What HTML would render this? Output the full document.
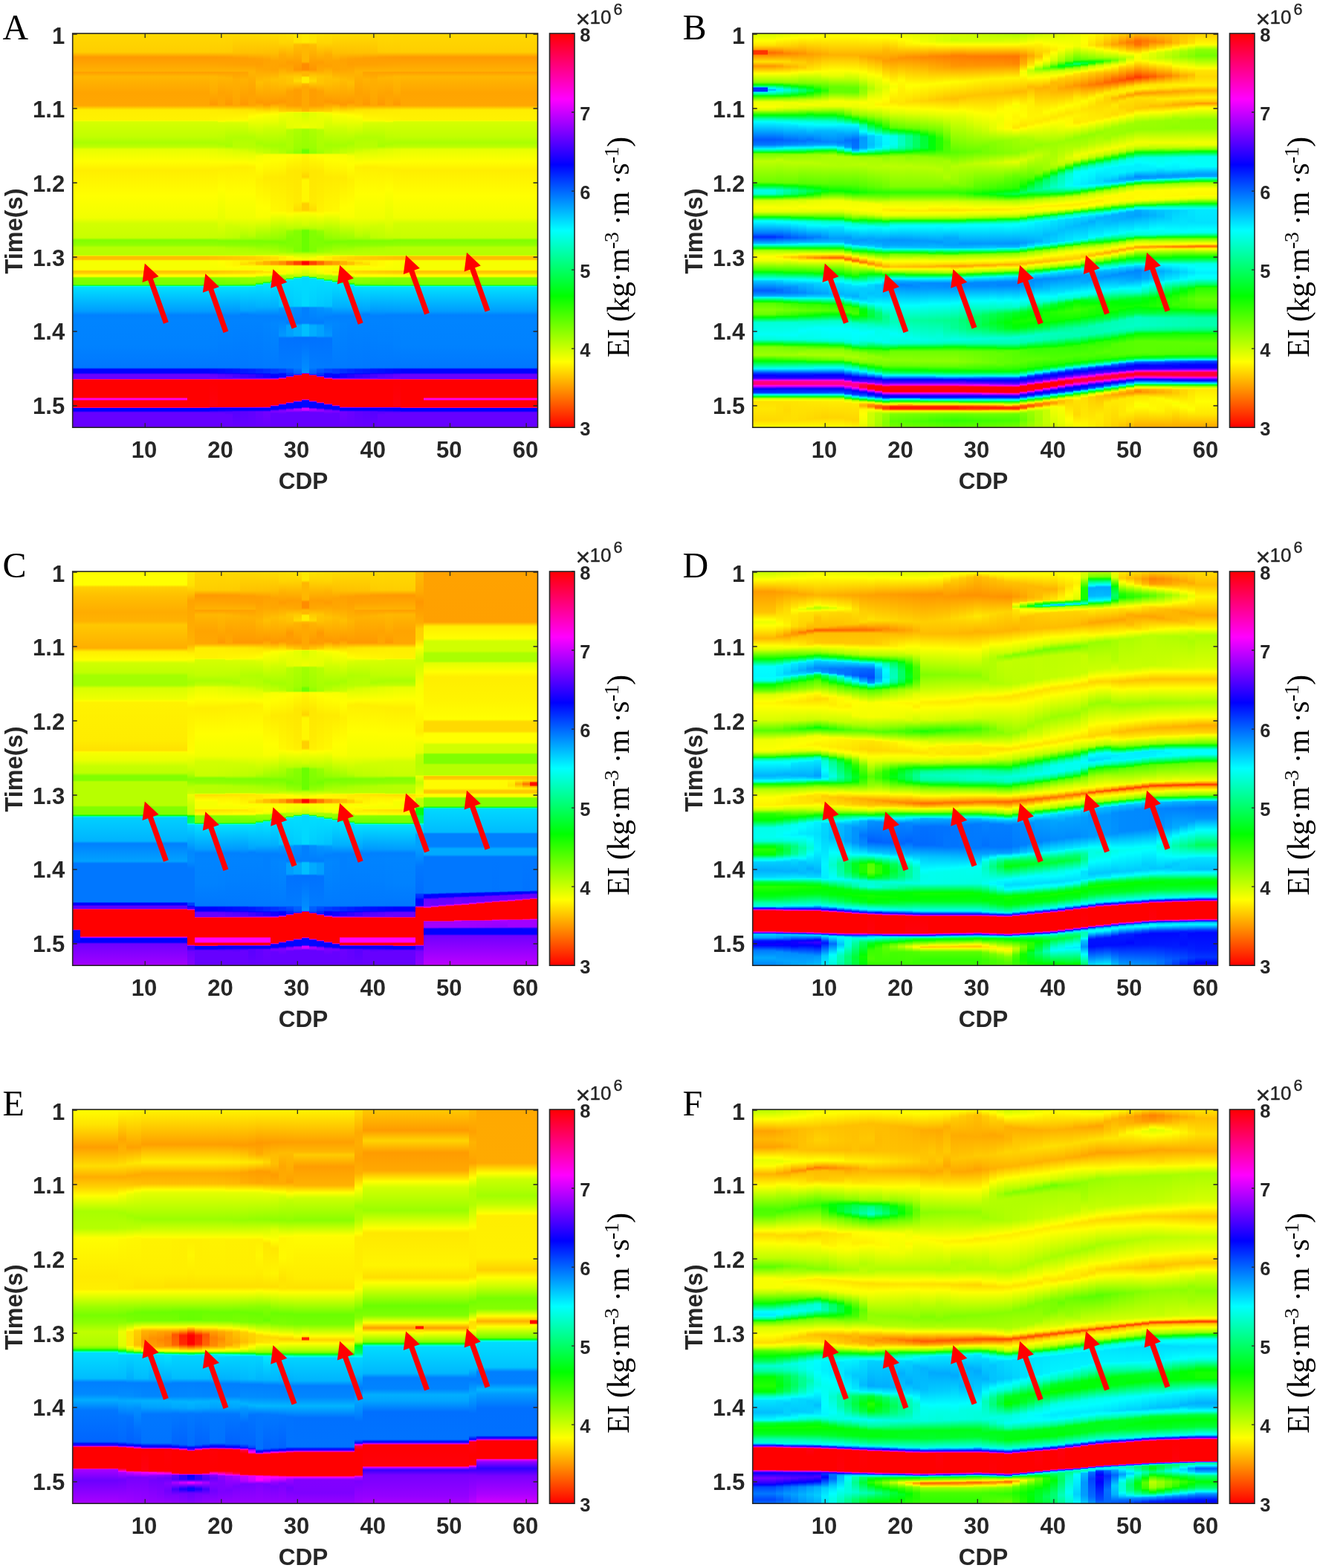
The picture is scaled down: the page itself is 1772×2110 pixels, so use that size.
<!DOCTYPE html><html><head><meta charset="utf-8"><title>Figure</title><style>html,body{margin:0;padding:0;background:#fff}body{width:1772px;height:2110px;position:relative;overflow:hidden}.p{position:absolute;width:886px;height:700px}.h{position:absolute;left:0;top:0}.h i{position:absolute;top:45.0px;height:530.2px;display:block}.cb{position:absolute;left:739.5px;top:45.0px;width:33.5px;height:530.2px;background:linear-gradient(to top,#f00 0%,#ff0 16.667%,#0f0 33.333%,#0ff 50%,#00f 66.667%,#f0f 83.333%,#f00 100%)}svg{position:absolute;left:0;top:0;overflow:visible}</style></head><body><div class="p" style="left:0.0px;top:0.0px"><div class="h"><i style="left:97.7px;width:154.2px;background:linear-gradient(#ffd900 0px,#ffce00 25px,#f90 32px,#ffa600 42px,#ffb200 51px,#ff9d00 52px,#ffb700 58px,#ffae00 68px,#ffa400 80px,#ffa700 97px,#fe0 103px,#fff200 117px,#ff0 117px,#d5ff00 119px,#c1ff00 139px,#af0 147px,#beff00 153px,#e7ff00 156px,#ff0 172px,#fe0 184px,#ff0 219px,#f1ff00 248px,#d2ff00 256px,#c8ff00 275px,#80ff00 278px,#92ff00 285px,#b7ff00 288px,#b7ff00 298px,#e4ff00 299px,#ff0 299px,#ffbf00 300px,#ffbf00 304px,#ff0 306px,#f7ff00 306px,#f7ff00 318px,#ff0 318px,#ffbf00 320px,#ffd200 323px,#fff900 325px,#ff0 327px,#ff0 327px,#80ff00 329px,#7f0 338px,#0f0 339px,#00ff04 339px,#00ffce 340px,#0ff 341px,#00e1ff 341px,#009cff 374px,#0080ff 379px,#0084ff 386px,#0082ff 414px,#0082ff 419px,#07f 450px,#0028ff 451px,#00f 452px,#00f 457px,#4700ff 458px,#6a00ff 459px,#6a00ff 465px,#f0f 465px,#f00 466px,#f00 490px,#ff00ea 491px,#ff00ea 493px,#f00 494px,#f00 503px,#f0f 504px,#00f 504px,#00f 508px,#60f 510px,#60f 530px)"></i><i style="left:251.6px;width:31.1px;background:linear-gradient(#ffd900 0px,#ffce00 25px,#f90 32px,#ffa600 42px,#ffb200 51px,#ff9d00 52px,#ffb700 58px,#ffae00 68px,#ffa400 80px,#ffa700 97px,#fe0 103px,#fff200 117px,#ff0 117px,#d5ff00 119px,#c1ff00 139px,#af0 147px,#beff00 153px,#e7ff00 156px,#ff0 172px,#fe0 184px,#ff0 219px,#f1ff00 248px,#d2ff00 256px,#c8ff00 275px,#80ff00 278px,#92ff00 285px,#b7ff00 288px,#b7ff00 298px,#e4ff00 299px,#ff0 299px,#ffbf00 300px,#ffbf00 304px,#ff0 306px,#f7ff00 306px,#f7ff00 318px,#ff0 318px,#ffbf00 320px,#ffd200 323px,#fff900 325px,#ff0 327px,#ff0 327px,#80ff00 329px,#7f0 338px,#0f0 339px,#00ff04 339px,#00ffce 340px,#0ff 341px,#00e1ff 341px,#009cff 374px,#0080ff 379px,#0084ff 386px,#0082ff 414px,#0082ff 419px,#07f 450px,#0028ff 451px,#00f 452px,#00f 457px,#4700ff 458px,#6a00ff 459px,#6a00ff 465px,#f0f 465px,#f00 466px,#f00 503px,#f0f 504px,#00f 504px,#00f 508px,#60f 510px,#60f 530px)"></i><i style="left:282.4px;width:10.5px;background:linear-gradient(#ffd900 0px,#ffcd00 25px,#ff9a00 32px,#ffa500 42px,#ffb300 51px,#ff9e00 52px,#ffb800 58px,#ffae00 77px,#f90 96px,#ffec00 103px,#fff400 117px,#ff0 117px,#d5ff00 119px,#c0ff00 139px,#af0 147px,#bdff00 153px,#e3ff00 156px,#ff0 173px,#fe0 183px,#ff0 219px,#f1ff00 248px,#d2ff00 256px,#c5ff00 275px,#7fff00 278px,#91ff00 285px,#b4ff00 288px,#b8ff00 298px,#e4ff00 299px,#ff0 299px,#ffc300 300px,#ffc200 304px,#ff0 306px,#fbff00 306px,#f6ff00 318px,#ff0 318px,#ffc200 320px,#ffd400 323px,#fffb00 325px,#ff0 327px,#feff00 327px,#82ff00 329px,#72ff00 338px,#0f0 339px,#00ff09 339px,#00ffd0 340px,#0ff 341px,#00e1ff 341px,#009bff 374px,#0080ff 379px,#0084ff 386px,#0081ff 414px,#0081ff 419px,#07f 450px,#002bff 451px,#0005ff 452px,#0005ff 457px,#00f 457px,#3f00ff 458px,#6200ff 459px,#7500ff 465px,#f0f 465px,#f00 466px,#ff000d 503px,#f0f 503px,#00f 504px,#00f 504px,#00f 504px,#0700ff 508px,#4900ff 509px,#60f 511px,#60f 530px)"></i><i style="left:292.6px;width:10.6px;background:linear-gradient(#ffda00 0px,#ffcd00 25px,#ff9b00 32px,#ffa400 42px,#ffb300 51px,#ff9f00 52px,#ffb600 59px,#ffa300 80px,#ffa600 97px,#ffeb00 103px,#fff600 117px,#ff0 118px,#d6ff00 120px,#beff00 139px,#a9ff00 149px,#bf0 153px,#deff00 156px,#ff0 173px,#ffef00 182px,#ff0 210px,#e8ff00 249px,#c2ff00 275px,#7eff00 279px,#8fff00 285px,#b2ff00 288px,#b8ff00 298px,#e3ff00 299px,#ff0 299px,#ffc600 300px,#ffc400 304px,#fffe00 306px,#ff0 307px,#f6ff00 318px,#ff0 318px,#ffc500 320px,#ffd700 323px,#fffc00 325px,#ff0 326px,#fcff00 327px,#85ff00 329px,#6cff00 338px,#0f0 339px,#00ff0f 339px,#00ffd2 340px,#0ff 341px,#00e0ff 341px,#009aff 374px,#0080ff 379px,#0083ff 386px,#0080ff 414px,#0078ff 450px,#002eff 451px,#0009ff 452px,#000aff 457px,#00f 457px,#5900ff 459px,#6400ff 464px,#8000ff 465px,#f0f 465px,#f00 466px,#f00 502px,#ff001b 503px,#f0f 503px,#00f 504px,#0001ff 504px,#00f 504px,#0e00ff 508px,#4e00ff 509px,#60f 511px,#60f 530px)"></i><i style="left:302.9px;width:10.5px;background:linear-gradient(#ffda00 0px,#fc0 25px,#ff9c00 32px,#ffa300 42px,#ffb300 51px,#ffa000 52px,#ffb500 60px,#f90 96px,#ffe900 103px,#fff800 117px,#ff0 117px,#d7ff00 120px,#b3ff00 140px,#a8ff00 152px,#daff00 156px,#ff0 173px,#ffef00 181px,#ff0 217px,#f1ff00 248px,#d1ff00 258px,#beff00 275px,#7dff00 279px,#8eff00 285px,#afff00 289px,#b9ff00 298px,#e3ff00 299px,#ff0 299px,#ffc900 300px,#ffc600 304px,#fffa00 306px,#fffa00 312px,#ff0 314px,#f6ff00 318px,#ff0 318px,#ffc800 320px,#ffd900 323px,#fffe00 325px,#ff0 325px,#fbff00 327px,#8f0 329px,#73ff00 337px,#67ff00 338px,#0f0 339px,#00ff14 339px,#00ffd3 340px,#0ff 341px,#00e0ff 341px,#09f 374px,#0080ff 380px,#0083ff 386px,#0080ff 414px,#0078ff 450px,#0031ff 451px,#000eff 452px,#000fff 457px,#00f 457px,#5000ff 459px,#6100ff 464px,#8b00ff 465px,#f0f 465px,#f00 466px,#f00 502px,#ff0028 503px,#f0f 503px,#00f 504px,#0001ff 504px,#00f 504px,#1500ff 508px,#5200ff 509px,#60f 513px,#60f 530px)"></i><i style="left:313.1px;width:10.6px;background:linear-gradient(#ffdb00 0px,#ffc200 26px,#ff9d00 33px,#ffa200 42px,#ffb300 51px,#ffa100 52px,#ffaf00 62px,#ffa500 97px,#ffe700 103px,#fffa00 117px,#ff0 117px,#d8ff00 120px,#b2ff00 140px,#b9ff00 153px,#d7ff00 157px,#ff0 173px,#ffef00 180px,#ff0 216px,#f1ff00 248px,#ceff00 260px,#bf0 275px,#7dff00 279px,#8dff00 285px,#adff00 289px,#baff00 298px,#e2ff00 299px,#ff0 299px,#fc0 300px,#ffc900 304px,#fff500 306px,#fff500 312px,#ff0 315px,#f5ff00 318px,#ff0 318px,#ffcb00 320px,#ffdc00 323px,#ff0 325px,#ff0 325px,#f9ff00 327px,#8aff00 329px,#72ff00 337px,#61ff00 338px,#0f0 339px,#00ff19 339px,#00ffd5 340px,#0ff 341px,#00e0ff 341px,#0098ff 374px,#0080ff 380px,#0083ff 386px,#007fff 414px,#0078ff 450px,#0034ff 451px,#0013ff 452px,#0014ff 457px,#00f 457px,#4800ff 459px,#4800ff 463px,#9600ff 465px,#f0f 465px,#f00 466px,#f00 502px,#ff0036 503px,#f0f 503px,#00f 504px,#0001ff 504px,#0001ff 507px,#00f 507px,#5700ff 509px,#60f 530px)"></i><i style="left:323.4px;width:10.6px;background:linear-gradient(#ffdc00 0px,#ffc100 26px,#ff9e00 33px,#ffa100 42px,#ffb300 51px,#ffa200 52px,#ffb200 62px,#f90 96px,#ffe500 103px,#fffb00 117px,#ff0 117px,#d9ff00 120px,#b1ff00 140px,#b8ff00 153px,#d3ff00 157px,#e5ff00 162px,#ff0 173px,#ffef00 180px,#ff0 216px,#f1ff00 248px,#bf0 269px,#a4ff00 276px,#7cff00 279px,#8bff00 285px,#af0 289px,#bf0 298px,#e1ff00 299px,#ff0 299px,#ffd000 300px,#ffcb00 304px,#fff100 306px,#ffdc00 311px,#ff0 313px,#f7ff00 314px,#f5ff00 318px,#ff0 318px,#ffce00 320px,#ffdf00 323px,#ff0 325px,#feff00 325px,#f8ff00 327px,#8dff00 329px,#85ff00 336px,#5cff00 338px,#0f0 339px,#00ff1e 339px,#00ffd7 340px,#0ff 341px,#00e0ff 341px,#00a3ff 373px,#0080ff 378px,#0083ff 386px,#007eff 414px,#0078ff 450px,#0017ff 452px,#0019ff 457px,#00f 458px,#3f00ff 459px,#3f00ff 463px,#5c00ff 464px,#a100ff 465px,#f0f 465px,#f00 466px,#f00 502px,#ff0043 503px,#f0f 503px,#00f 504px,#0001ff 504px,#0001ff 507px,#00f 507px,#5c00ff 509px,#60f 530px)"></i><i style="left:333.7px;width:10.5px;background:linear-gradient(#ffdc00 0px,#ffc100 26px,#ff9f00 34px,#ffa100 42px,#ffb300 51px,#ffb300 53px,#ffa200 80px,#ffa400 97px,#ffe300 103px,#ff0 112px,#ef0 118px,#b1ff00 140px,#b7ff00 153px,#d0ff00 158px,#e3ff00 162px,#ff0 174px,#fff000 180px,#ff0 216px,#f1ff00 248px,#b6ff00 273px,#a2ff00 276px,#7bff00 279px,#8aff00 285px,#a7ff00 289px,#bf0 298px,#e1ff00 299px,#ff0 299px,#ffd300 300px,#ffcd00 304px,#ffec00 306px,#ffd300 309px,#ffec00 312px,#ff0 314px,#f7ff00 315px,#f5ff00 318px,#ff0 318px,#ffd100 320px,#ffe100 323px,#ff0 325px,#fcff00 325px,#f7ff00 327px,#90ff00 329px,#87ff00 336px,#56ff00 338px,#0f0 339px,#00ff24 339px,#00ffd9 340px,#0ff 341px,#00dfff 341px,#00a2ff 373px,#0080ff 379px,#0083ff 386px,#0079ff 450px,#001cff 452px,#001fff 457px,#00f 458px,#3600ff 459px,#3600ff 463px,#5900ff 464px,#ac00ff 465px,#f0f 465px,#f00 466px,#f00 502px,#ff0051 503px,#f0f 503px,#00f 504px,#0002ff 504px,#0002ff 507px,#00f 507px,#6100ff 509px,#60f 530px)"></i><i style="left:343.9px;width:10.6px;background:linear-gradient(#fd0 0px,#ffc000 26px,#ffa100 34px,#ff9f00 42px,#ffbf00 66px,#f90 93px,#ffb200 98px,#ffe000 104px,#ff0 110px,#ff0 110px,#edff00 118px,#a6ff00 148px,#b4ff00 153px,#caff00 160px,#f7ff00 165px,#ff0 176px,#fff000 197px,#ff0 232px,#f9ff00 247px,#b2ff00 268px,#9dff00 276px,#7aff00 279px,#8f0 285px,#a3ff00 290px,#bdff00 298px,#ff0 299px,#ffd900 300px,#ffd200 304px,#ffe400 306px,#ffc200 308px,#ffc200 311px,#ff0 313px,#f9ff00 313px,#f4ff00 318px,#ff0 318px,#ffd700 320px,#fe0 323px,#ff0 325px,#f5ff00 326px,#a0ff00 328px,#7eff00 335px,#20ff00 337px,#0f0 337px,#00ffb5 338px,#0ff 339px,#00dfff 339px,#00b0ff 368px,#0080ff 380px,#0083ff 386px,#007fff 408px,#0079ff 450px,#0025ff 452px,#0028ff 457px,#00f 458px,#2600ff 459px,#2600ff 463px,#5300ff 464px,#c000ff 465px,#f0f 465px,#f00 466px,#f00 502px,#ff006a 503px,#f0f 503px,#00f 504px,#0002ff 504px,#0002ff 507px,#00f 507px,#6a00ff 509px,#60f 530px)"></i><i style="left:354.2px;width:10.5px;background:linear-gradient(#ffde00 0px,#ffbf00 26px,#ffa300 35px,#ffa600 49px,#ffbd00 62px,#f90 96px,#ffdc00 104px,#ff0 109px,#fbff00 109px,#ecff00 118px,#ceff00 128px,#a5ff00 151px,#c0ff00 158px,#c2ff00 161px,#f7ff00 163px,#ff0 172px,#ffeb00 194px,#ff0 234px,#f8ff00 247px,#abff00 270px,#9f0 276px,#79ff00 280px,#91ff00 286px,#beff00 298px,#ff0 299px,#ffdf00 300px,#ffd600 304px,#ffec00 305px,#ffb200 307px,#ffb200 311px,#ff0 313px,#f9ff00 313px,#f3ff00 318px,#ff0 319px,#fd0 321px,#ff0 324px,#e5ff00 326px,#9f0 328px,#90ff00 333px,#3aff00 335px,#0f0 335px,#00ff85 336px,#0ff 337px,#00e5ff 337px,#00afff 368px,#0080ff 380px,#0084ff 391px,#0081ff 408px,#007aff 450px,#002eff 452px,#0032ff 457px,#00f 458px,#1600ff 459px,#1600ff 463px,#4e00ff 464px,#d400ff 465px,#f0f 465px,#f00 466px,#f00 502px,#ff0083 503px,#f0f 503px,#00f 504px,#0003ff 504px,#0003ff 507px,#00f 507px,#7300ff 509px,#60f 530px)"></i><i style="left:364.4px;width:10.6px;background:linear-gradient(#ffdf00 0px,#ffbf00 26px,#ffa500 37px,#ffa400 49px,#ffc200 62px,#f90 94px,#fff000 106px,#ff0 109px,#f8ff00 110px,#ebff00 118px,#ceff00 128px,#a4ff00 151px,#b9ff00 159px,#baff00 161px,#f9ff00 163px,#ff0 170px,#ffeb00 194px,#fff800 239px,#ff0 241px,#b3ff00 264px,#95ff00 276px,#7f0 280px,#8eff00 286px,#afff00 295px,#c0ff00 298px,#ff0 299px,#ffe600 300px,#ffdb00 304px,#fe0 305px,#ffa100 307px,#ffa100 311px,#ff0 313px,#faff00 313px,#f3ff00 318px,#ff0 319px,#ffe300 321px,#ff0 324px,#efff00 325px,#9eff00 327px,#8cff00 332px,#4dff00 333px,#0f0 334px,#00ff29 334px,#00fff2 335px,#0ff 335px,#00deff 336px,#00afff 368px,#0080ff 380px,#0087ff 391px,#0083ff 408px,#007aff 450px,#0036ff 452px,#003bff 457px,#00f 459px,#0600ff 459px,#0600ff 463px,#4800ff 464px,#e900ff 465px,#f0f 465px,#f00 466px,#f00 500px,#f0f 501px,#9400ff 501px,#00f 502px,#0003ff 502px,#0003ff 506px,#00f 506px,#5200ff 507px,#8400ff 509px,#60f 511px,#60f 530px)"></i><i style="left:374.7px;width:10.6px;background:linear-gradient(#ffe000 0px,#ffd500 13px,#ffac00 29px,#ffa100 44px,#ffc300 58px,#ffbf00 67px,#f90 92px,#ffaf00 98px,#ffd600 105px,#ff0 107px,#f4ff00 107px,#ceff00 128px,#a3ff00 150px,#b2ff00 161px,#faff00 163px,#ff0 169px,#ffea00 194px,#fff400 227px,#fff600 239px,#ff0 241px,#afff00 264px,#90ff00 276px,#76ff00 281px,#a1ff00 294px,#df0 299px,#ff0 300px,#ffec00 300px,#fff000 305px,#ff9100 307px,#ff9100 311px,#ff0 313px,#faff00 313px,#ff0 316px,#fff900 319px,#fff600 322px,#ff0 323px,#d5ff00 325px,#a3ff00 326px,#9aff00 330px,#6cff00 331px,#19ff00 332px,#0f0 332px,#00ffd3 333px,#0ff 334px,#0df 334px,#00c4ff 367px,#09f 370px,#0080ff 382px,#0089ff 391px,#0098ff 407px,#0073ff 410px,#007bff 450px,#0040ff 452px,#0045ff 456px,#000aff 458px,#000aff 462px,#00f 462px,#3c00ff 463px,#f0f 464px,#f00 465px,#f00 498px,#f0f 499px,#7a00ff 499px,#00f 500px,#0004ff 500px,#0004ff 505px,#00f 505px,#4800ff 506px,#80f 508px,#60f 512px,#60f 530px)"></i><i style="left:385.0px;width:10.5px;background:linear-gradient(#ffe300 0px,#ffd400 13px,#ff9e00 39px,#ffa800 50px,#ffc700 58px,#ffc400 67px,#ffa200 78px,#ff9f00 97px,#ffcd00 104px,#ffcd00 105px,#ff0 106px,#ecff00 107px,#e5ff00 127px,#b4ff00 130px,#af0 155px,#9eff00 161px,#feff00 163px,#ff0 164px,#ffe900 185px,#ffe900 194px,#ffef00 227px,#fff200 239px,#ff0 243px,#b8ff00 263px,#92ff00 266px,#7cff00 277px,#81ff00 286px,#9aff00 294px,#dbff00 299px,#ff0 300px,#fffb00 300px,#fff400 305px,#ff6900 307px,#ff6900 311px,#ff0 313px,#fcff00 313px,#fdff00 319px,#f4ff00 322px,#e2ff00 324px,#b2ff00 325px,#a0ff00 329px,#1fff00 330px,#0f0 330px,#00ffc0 331px,#0ff 332px,#00dcff 332px,#00c9ff 367px,#0093ff 369px,#007cff 390px,#00a2ff 393px,#00a2ff 407px,#0072ff 410px,#007cff 450px,#0056ff 452px,#004cff 456px,#0031ff 458px,#0031ff 460px,#00f 461px,#1900ff 461px,#f0f 462px,#ff0087 462px,#f00 463px,#f00 496px,#f0f 497px,#90f 497px,#00f 498px,#0005ff 498px,#0005ff 504px,#00f 504px,#8500ff 506px,#9c00ff 508px,#60f 510px,#60f 530px)"></i><i style="left:395.2px;width:10.6px;background:linear-gradient(#ffe500 0px,#ffe500 12px,#ffbf00 15px,#ff9f00 39px,#ff9600 49px,#ffb600 53px,#ffcb00 58px,#ffdc00 64px,#ffc900 67px,#ff9e00 76px,#ff9d00 97px,#ffc500 103px,#ffc500 105px,#ff0 106px,#e3ff00 107px,#eaff00 127px,#adff00 129px,#9bff00 155px,#8bff00 161px,#ff0 163px,#fffd00 163px,#ffe800 185px,#ffe800 194px,#ffeb00 227px,#fd0 238px,#ff0 242px,#fcff00 242px,#b9ff00 262px,#83ff00 266px,#7dff00 293px,#c2ff00 297px,#ff0 303px,#fffa00 303px,#fff800 305px,#ff4200 307px,#ff4200 311px,#ff0 313px,#fdff00 313px,#e6ff00 322px,#b0ff00 327px,#4bff00 328px,#0f0 328px,#00ff9a 329px,#0ff 330px,#0df 330px,#00cfff 367px,#008cff 369px,#007dff 390px,#00adff 393px,#00adff 407px,#0071ff 409px,#007dff 450px,#006fff 452px,#0058ff 458px,#0020ff 459px,#00f 459px,#f0f 460px,#ff0015 460px,#f00 465px,#f00 494px,#f0f 495px,#c100ff 495px,#00f 496px,#0006ff 496px,#0006ff 503px,#00f 503px,#1a00ff 504px,#a000ff 505px,#b100ff 507px,#60f 510px,#60f 530px)"></i><i style="left:405.5px;width:10.5px;background:linear-gradient(#ffea00 0px,#ffea00 12px,#ffb700 15px,#ffb700 38px,#ff8c00 41px,#ff8c00 49px,#ffb700 52px,#ffb700 57px,#fe0 59px,#fe0 66px,#ffb700 68px,#ffa800 72px,#ffa800 98px,#ffb700 105px,#ff0 106px,#d5ff00 107px,#e3ff00 118px,#f2ff00 127px,#a2ff00 129px,#9f0 154px,#6aff00 157px,#6aff00 161px,#ff0 163px,#fff700 163px,#ffe600 185px,#ffd400 193px,#fff700 197px,#fff700 226px,#ffd000 229px,#ffd000 238px,#ff0 241px,#fdff00 241px,#cfff00 258px,#af0 263px,#6aff00 265px,#6aff00 293px,#c6ff00 297px,#ff0 305px,#ff0 305px,#f00 307px,#f00 311px,#ff0 313px,#ff0 313px,#bfff00 326px,#0f0 327px,#00ff7f 327px,#0ff 328px,#00d9ff 328px,#00d9ff 367px,#0080ff 369px,#0080ff 390px,#00bfff 392px,#00bfff 407px,#006fff 409px,#008cff 451px,#09f 457px,#00f 457px,#f0f 458px,#f00 458px,#f00 492px,#f0f 493px,#b700ff 493px,#00f 494px,#0008ff 494px,#0008ff 503px,#00f 503px,#d400ff 504px,#d500ff 507px,#60f 509px,#60f 530px)"></i><i style="left:415.7px;width:10.6px;background:linear-gradient(#ffe500 0px,#ffe500 12px,#ffbf00 15px,#ff9f00 39px,#ff9600 49px,#ffb600 53px,#ffcb00 58px,#ffdc00 64px,#ffc900 67px,#ff9e00 76px,#ff9d00 97px,#ffc500 103px,#ffc500 105px,#ff0 106px,#e3ff00 107px,#eaff00 127px,#adff00 129px,#9bff00 155px,#8bff00 161px,#ff0 163px,#fffd00 163px,#ffe800 185px,#ffe800 194px,#ffeb00 227px,#fd0 238px,#ff0 242px,#fcff00 242px,#b9ff00 262px,#83ff00 266px,#7dff00 293px,#c2ff00 297px,#ff0 303px,#fffa00 303px,#fff800 305px,#ff4200 307px,#ff4200 311px,#ff0 313px,#fdff00 313px,#e6ff00 322px,#b0ff00 327px,#4bff00 328px,#0f0 328px,#00ff9a 329px,#0ff 330px,#0df 330px,#00cfff 367px,#008cff 369px,#007dff 390px,#00adff 393px,#00adff 407px,#0071ff 409px,#007dff 450px,#006fff 452px,#0058ff 458px,#0020ff 459px,#00f 459px,#f0f 460px,#ff0015 460px,#f00 465px,#f00 494px,#f0f 495px,#c100ff 495px,#00f 496px,#0006ff 496px,#0006ff 503px,#00f 503px,#1a00ff 504px,#a000ff 505px,#b100ff 507px,#60f 510px,#60f 530px)"></i><i style="left:426.0px;width:10.5px;background:linear-gradient(#ffe300 0px,#ffd400 13px,#ff9e00 39px,#ffa800 50px,#ffc700 58px,#ffc400 67px,#ffa200 78px,#ff9f00 97px,#ffcd00 104px,#ffcd00 105px,#ff0 106px,#ecff00 107px,#e5ff00 127px,#b4ff00 130px,#af0 155px,#9eff00 161px,#feff00 163px,#ff0 164px,#ffe900 185px,#ffe900 194px,#ffef00 227px,#fff200 239px,#ff0 243px,#b8ff00 263px,#92ff00 266px,#7cff00 277px,#81ff00 286px,#9aff00 294px,#dbff00 299px,#ff0 300px,#fffb00 300px,#fff400 305px,#ff6900 307px,#ff6900 311px,#ff0 313px,#fcff00 313px,#fdff00 319px,#f4ff00 322px,#e2ff00 324px,#b2ff00 325px,#a0ff00 329px,#1fff00 330px,#0f0 330px,#00ffc0 331px,#0ff 332px,#00dcff 332px,#00c9ff 367px,#0093ff 369px,#007cff 390px,#00a2ff 393px,#00a2ff 407px,#0072ff 410px,#007cff 450px,#0056ff 452px,#004cff 456px,#0031ff 458px,#0031ff 460px,#00f 461px,#1900ff 461px,#f0f 462px,#ff0087 462px,#f00 463px,#f00 496px,#f0f 497px,#90f 497px,#00f 498px,#0005ff 498px,#0005ff 504px,#00f 504px,#8500ff 506px,#9c00ff 508px,#60f 510px,#60f 530px)"></i><i style="left:436.2px;width:10.6px;background:linear-gradient(#ffe000 0px,#ffd500 13px,#ffac00 29px,#ffa100 44px,#ffc300 58px,#ffbf00 67px,#f90 92px,#ffaf00 98px,#ffd600 105px,#ff0 107px,#f4ff00 107px,#ceff00 128px,#a3ff00 150px,#b2ff00 161px,#faff00 163px,#ff0 169px,#ffea00 194px,#fff400 227px,#fff600 239px,#ff0 241px,#afff00 264px,#90ff00 276px,#76ff00 281px,#a1ff00 294px,#df0 299px,#ff0 300px,#ffec00 300px,#fff000 305px,#ff9100 307px,#ff9100 311px,#ff0 313px,#faff00 313px,#ff0 316px,#fff900 319px,#fff600 322px,#ff0 323px,#d5ff00 325px,#a3ff00 326px,#9aff00 330px,#6cff00 331px,#19ff00 332px,#0f0 332px,#00ffd3 333px,#0ff 334px,#0df 334px,#00c4ff 367px,#09f 370px,#0080ff 382px,#0089ff 391px,#0098ff 407px,#0073ff 410px,#007bff 450px,#0040ff 452px,#0045ff 456px,#000aff 458px,#000aff 462px,#00f 462px,#3c00ff 463px,#f0f 464px,#f00 465px,#f00 498px,#f0f 499px,#7a00ff 499px,#00f 500px,#0004ff 500px,#0004ff 505px,#00f 505px,#4800ff 506px,#80f 508px,#60f 512px,#60f 530px)"></i><i style="left:446.5px;width:10.6px;background:linear-gradient(#ffdf00 0px,#ffbf00 26px,#ffa500 37px,#ffa400 49px,#ffc200 62px,#f90 94px,#fff000 106px,#ff0 109px,#f8ff00 110px,#ebff00 118px,#ceff00 128px,#a4ff00 151px,#b9ff00 159px,#baff00 161px,#f9ff00 163px,#ff0 170px,#ffeb00 194px,#fff800 239px,#ff0 241px,#b3ff00 264px,#95ff00 276px,#7f0 280px,#8eff00 286px,#afff00 295px,#c0ff00 298px,#ff0 299px,#ffe600 300px,#ffdb00 304px,#fe0 305px,#ffa100 307px,#ffa100 311px,#ff0 313px,#faff00 313px,#f3ff00 318px,#ff0 319px,#ffe300 321px,#ff0 324px,#efff00 325px,#9eff00 327px,#8cff00 332px,#4dff00 333px,#0f0 334px,#00ff29 334px,#00fff2 335px,#0ff 335px,#00deff 336px,#00afff 368px,#0080ff 380px,#0087ff 391px,#0083ff 408px,#007aff 450px,#0036ff 452px,#003bff 457px,#00f 459px,#0600ff 459px,#0600ff 463px,#4800ff 464px,#e900ff 465px,#f0f 465px,#f00 466px,#f00 500px,#f0f 501px,#9400ff 501px,#00f 502px,#0003ff 502px,#0003ff 506px,#00f 506px,#5200ff 507px,#8400ff 509px,#60f 511px,#60f 530px)"></i><i style="left:456.8px;width:10.5px;background:linear-gradient(#ffde00 0px,#ffbf00 26px,#ffa300 35px,#ffa600 49px,#ffbd00 62px,#f90 96px,#ffdc00 104px,#ff0 109px,#fbff00 109px,#ecff00 118px,#ceff00 128px,#a5ff00 151px,#c0ff00 158px,#c2ff00 161px,#f7ff00 163px,#ff0 172px,#ffeb00 194px,#ff0 234px,#f8ff00 247px,#abff00 270px,#9f0 276px,#79ff00 280px,#91ff00 286px,#beff00 298px,#ff0 299px,#ffdf00 300px,#ffd600 304px,#ffec00 305px,#ffb200 307px,#ffb200 311px,#ff0 313px,#f9ff00 313px,#f3ff00 318px,#ff0 319px,#fd0 321px,#ff0 324px,#e5ff00 326px,#9f0 328px,#90ff00 333px,#3aff00 335px,#0f0 335px,#00ff85 336px,#0ff 337px,#00e5ff 337px,#00afff 368px,#0080ff 380px,#0084ff 391px,#0081ff 408px,#007aff 450px,#002eff 452px,#0032ff 457px,#00f 458px,#1600ff 459px,#1600ff 463px,#4e00ff 464px,#d400ff 465px,#f0f 465px,#f00 466px,#f00 502px,#ff0083 503px,#f0f 503px,#00f 504px,#0003ff 504px,#0003ff 507px,#00f 507px,#7300ff 509px,#60f 530px)"></i><i style="left:467.0px;width:10.6px;background:linear-gradient(#fd0 0px,#ffc000 26px,#ffa100 34px,#ff9f00 42px,#ffbf00 66px,#f90 93px,#ffb200 98px,#ffe000 104px,#ff0 110px,#ff0 110px,#edff00 118px,#a6ff00 148px,#b4ff00 153px,#caff00 160px,#f7ff00 165px,#ff0 176px,#fff000 197px,#ff0 232px,#f9ff00 247px,#b2ff00 268px,#9dff00 276px,#7aff00 279px,#8f0 285px,#a3ff00 290px,#bdff00 298px,#ff0 299px,#ffd900 300px,#ffd200 304px,#ffe400 306px,#ffc200 308px,#ffc200 311px,#ff0 313px,#f9ff00 313px,#f4ff00 318px,#ff0 318px,#ffd700 320px,#fe0 323px,#ff0 325px,#f5ff00 326px,#a0ff00 328px,#7eff00 335px,#20ff00 337px,#0f0 337px,#00ffb5 338px,#0ff 339px,#00dfff 339px,#00b0ff 368px,#0080ff 380px,#0083ff 386px,#007fff 408px,#0079ff 450px,#0025ff 452px,#0028ff 457px,#00f 458px,#2600ff 459px,#2600ff 463px,#5300ff 464px,#c000ff 465px,#f0f 465px,#f00 466px,#f00 502px,#ff006a 503px,#f0f 503px,#00f 504px,#0002ff 504px,#0002ff 507px,#00f 507px,#6a00ff 509px,#60f 530px)"></i><i style="left:477.3px;width:10.5px;background:linear-gradient(#ffdc00 0px,#ffc100 26px,#ff9f00 34px,#ffa100 42px,#ffb300 51px,#ffb300 53px,#ffa200 80px,#ffa400 97px,#ffe300 103px,#ff0 112px,#ef0 118px,#b1ff00 140px,#b7ff00 153px,#d0ff00 158px,#e3ff00 162px,#ff0 174px,#fff000 180px,#ff0 216px,#f1ff00 248px,#b6ff00 273px,#a2ff00 276px,#7bff00 279px,#8aff00 285px,#a7ff00 289px,#bf0 298px,#e1ff00 299px,#ff0 299px,#ffd300 300px,#ffcd00 304px,#ffec00 306px,#ffd300 309px,#ffec00 312px,#ff0 314px,#f7ff00 315px,#f5ff00 318px,#ff0 318px,#ffd100 320px,#ffe100 323px,#ff0 325px,#fcff00 325px,#f7ff00 327px,#90ff00 329px,#87ff00 336px,#56ff00 338px,#0f0 339px,#00ff24 339px,#00ffd9 340px,#0ff 341px,#00dfff 341px,#00a2ff 373px,#0080ff 379px,#0083ff 386px,#0079ff 450px,#001cff 452px,#001fff 457px,#00f 458px,#3600ff 459px,#3600ff 463px,#5900ff 464px,#ac00ff 465px,#f0f 465px,#f00 466px,#f00 502px,#ff0051 503px,#f0f 503px,#00f 504px,#0002ff 504px,#0002ff 507px,#00f 507px,#6100ff 509px,#60f 530px)"></i><i style="left:487.5px;width:10.6px;background:linear-gradient(#ffdc00 0px,#ffc100 26px,#ff9e00 33px,#ffa100 42px,#ffb300 51px,#ffa200 52px,#ffb200 62px,#f90 96px,#ffe500 103px,#fffb00 117px,#ff0 117px,#d9ff00 120px,#b1ff00 140px,#b8ff00 153px,#d3ff00 157px,#e5ff00 162px,#ff0 173px,#ffef00 180px,#ff0 216px,#f1ff00 248px,#bf0 269px,#a4ff00 276px,#7cff00 279px,#8bff00 285px,#af0 289px,#bf0 298px,#e1ff00 299px,#ff0 299px,#ffd000 300px,#ffcb00 304px,#fff100 306px,#ffdc00 311px,#ff0 313px,#f7ff00 314px,#f5ff00 318px,#ff0 318px,#ffce00 320px,#ffdf00 323px,#ff0 325px,#feff00 325px,#f8ff00 327px,#8dff00 329px,#85ff00 336px,#5cff00 338px,#0f0 339px,#00ff1e 339px,#00ffd7 340px,#0ff 341px,#00e0ff 341px,#00a3ff 373px,#0080ff 378px,#0083ff 386px,#007eff 414px,#0078ff 450px,#0017ff 452px,#0019ff 457px,#00f 458px,#3f00ff 459px,#3f00ff 463px,#5c00ff 464px,#a100ff 465px,#f0f 465px,#f00 466px,#f00 502px,#ff0043 503px,#f0f 503px,#00f 504px,#0001ff 504px,#0001ff 507px,#00f 507px,#5c00ff 509px,#60f 530px)"></i><i style="left:497.8px;width:10.6px;background:linear-gradient(#ffdb00 0px,#ffc200 26px,#ff9d00 33px,#ffa200 42px,#ffb300 51px,#ffa100 52px,#ffaf00 62px,#ffa500 97px,#ffe700 103px,#fffa00 117px,#ff0 117px,#d8ff00 120px,#b2ff00 140px,#b9ff00 153px,#d7ff00 157px,#ff0 173px,#ffef00 180px,#ff0 216px,#f1ff00 248px,#ceff00 260px,#bf0 275px,#7dff00 279px,#8dff00 285px,#adff00 289px,#baff00 298px,#e2ff00 299px,#ff0 299px,#fc0 300px,#ffc900 304px,#fff500 306px,#fff500 312px,#ff0 315px,#f5ff00 318px,#ff0 318px,#ffcb00 320px,#ffdc00 323px,#ff0 325px,#ff0 325px,#f9ff00 327px,#8aff00 329px,#72ff00 337px,#61ff00 338px,#0f0 339px,#00ff19 339px,#00ffd5 340px,#0ff 341px,#00e0ff 341px,#0098ff 374px,#0080ff 380px,#0083ff 386px,#007fff 414px,#0078ff 450px,#0034ff 451px,#0013ff 452px,#0014ff 457px,#00f 457px,#4800ff 459px,#4800ff 463px,#9600ff 465px,#f0f 465px,#f00 466px,#f00 502px,#ff0036 503px,#f0f 503px,#00f 504px,#0001ff 504px,#0001ff 507px,#00f 507px,#5700ff 509px,#60f 530px)"></i><i style="left:508.1px;width:10.5px;background:linear-gradient(#ffda00 0px,#fc0 25px,#ff9c00 32px,#ffa300 42px,#ffb300 51px,#ffa000 52px,#ffb500 60px,#f90 96px,#ffe900 103px,#fff800 117px,#ff0 117px,#d7ff00 120px,#b3ff00 140px,#a8ff00 152px,#daff00 156px,#ff0 173px,#ffef00 181px,#ff0 217px,#f1ff00 248px,#d1ff00 258px,#beff00 275px,#7dff00 279px,#8eff00 285px,#afff00 289px,#b9ff00 298px,#e3ff00 299px,#ff0 299px,#ffc900 300px,#ffc600 304px,#fffa00 306px,#fffa00 312px,#ff0 314px,#f6ff00 318px,#ff0 318px,#ffc800 320px,#ffd900 323px,#fffe00 325px,#ff0 325px,#fbff00 327px,#8f0 329px,#73ff00 337px,#67ff00 338px,#0f0 339px,#00ff14 339px,#00ffd3 340px,#0ff 341px,#00e0ff 341px,#09f 374px,#0080ff 380px,#0083ff 386px,#0080ff 414px,#0078ff 450px,#0031ff 451px,#000eff 452px,#000fff 457px,#00f 457px,#5000ff 459px,#6100ff 464px,#8b00ff 465px,#f0f 465px,#f00 466px,#f00 502px,#ff0028 503px,#f0f 503px,#00f 504px,#0001ff 504px,#00f 504px,#1500ff 508px,#5200ff 509px,#60f 513px,#60f 530px)"></i><i style="left:518.3px;width:10.6px;background:linear-gradient(#ffda00 0px,#ffcd00 25px,#ff9b00 32px,#ffa400 42px,#ffb300 51px,#ff9f00 52px,#ffb600 59px,#ffa300 80px,#ffa600 97px,#ffeb00 103px,#fff600 117px,#ff0 118px,#d6ff00 120px,#beff00 139px,#a9ff00 149px,#bf0 153px,#deff00 156px,#ff0 173px,#ffef00 182px,#ff0 210px,#e8ff00 249px,#c2ff00 275px,#7eff00 279px,#8fff00 285px,#b2ff00 288px,#b8ff00 298px,#e3ff00 299px,#ff0 299px,#ffc600 300px,#ffc400 304px,#fffe00 306px,#ff0 307px,#f6ff00 318px,#ff0 318px,#ffc500 320px,#ffd700 323px,#fffc00 325px,#ff0 326px,#fcff00 327px,#85ff00 329px,#6cff00 338px,#0f0 339px,#00ff0f 339px,#00ffd2 340px,#0ff 341px,#00e0ff 341px,#009aff 374px,#0080ff 379px,#0083ff 386px,#0080ff 414px,#0078ff 450px,#002eff 451px,#0009ff 452px,#000aff 457px,#00f 457px,#5900ff 459px,#6400ff 464px,#8000ff 465px,#f0f 465px,#f00 466px,#f00 502px,#ff001b 503px,#f0f 503px,#00f 504px,#0001ff 504px,#00f 504px,#0e00ff 508px,#4e00ff 509px,#60f 511px,#60f 530px)"></i><i style="left:528.6px;width:10.5px;background:linear-gradient(#ffd900 0px,#ffcd00 25px,#ff9a00 32px,#ffa500 42px,#ffb300 51px,#ff9e00 52px,#ffb800 58px,#ffae00 77px,#f90 96px,#ffec00 103px,#fff400 117px,#ff0 117px,#d5ff00 119px,#c0ff00 139px,#af0 147px,#bdff00 153px,#e3ff00 156px,#ff0 173px,#fe0 183px,#ff0 219px,#f1ff00 248px,#d2ff00 256px,#c5ff00 275px,#7fff00 278px,#91ff00 285px,#b4ff00 288px,#b8ff00 298px,#e4ff00 299px,#ff0 299px,#ffc300 300px,#ffc200 304px,#ff0 306px,#fbff00 306px,#f6ff00 318px,#ff0 318px,#ffc200 320px,#ffd400 323px,#fffb00 325px,#ff0 327px,#feff00 327px,#82ff00 329px,#72ff00 338px,#0f0 339px,#00ff09 339px,#00ffd0 340px,#0ff 341px,#00e1ff 341px,#009bff 374px,#0080ff 379px,#0084ff 386px,#0081ff 414px,#0081ff 419px,#07f 450px,#002bff 451px,#0005ff 452px,#0005ff 457px,#00f 457px,#3f00ff 458px,#6200ff 459px,#7500ff 465px,#f0f 465px,#f00 466px,#ff000d 503px,#f0f 503px,#00f 504px,#00f 504px,#00f 504px,#0700ff 508px,#4900ff 509px,#60f 511px,#60f 530px)"></i><i style="left:538.8px;width:31.1px;background:linear-gradient(#ffd900 0px,#ffce00 25px,#f90 32px,#ffa600 42px,#ffb200 51px,#ff9d00 52px,#ffb700 58px,#ffae00 68px,#ffa400 80px,#ffa700 97px,#fe0 103px,#fff200 117px,#ff0 117px,#d5ff00 119px,#c1ff00 139px,#af0 147px,#beff00 153px,#e7ff00 156px,#ff0 172px,#fe0 184px,#ff0 219px,#f1ff00 248px,#d2ff00 256px,#c8ff00 275px,#80ff00 278px,#92ff00 285px,#b7ff00 288px,#b7ff00 298px,#e4ff00 299px,#ff0 299px,#ffbf00 300px,#ffbf00 304px,#ff0 306px,#f7ff00 306px,#f7ff00 318px,#ff0 318px,#ffbf00 320px,#ffd200 323px,#fff900 325px,#ff0 327px,#ff0 327px,#80ff00 329px,#7f0 338px,#0f0 339px,#00ff04 339px,#00ffce 340px,#0ff 341px,#00e1ff 341px,#009cff 374px,#0080ff 379px,#0084ff 386px,#0082ff 414px,#0082ff 419px,#07f 450px,#0028ff 451px,#00f 452px,#00f 457px,#4700ff 458px,#6a00ff 459px,#6a00ff 465px,#f0f 465px,#f00 466px,#f00 503px,#f0f 504px,#00f 504px,#00f 508px,#60f 510px,#60f 530px)"></i><i style="left:569.6px;width:154.2px;background:linear-gradient(#ffd900 0px,#ffce00 25px,#f90 32px,#ffa600 42px,#ffb200 51px,#ff9d00 52px,#ffb700 58px,#ffae00 68px,#ffa400 80px,#ffa700 97px,#fe0 103px,#fff200 117px,#ff0 117px,#d5ff00 119px,#c1ff00 139px,#af0 147px,#beff00 153px,#e7ff00 156px,#ff0 172px,#fe0 184px,#ff0 219px,#f1ff00 248px,#d2ff00 256px,#c8ff00 275px,#80ff00 278px,#92ff00 285px,#b7ff00 288px,#b7ff00 298px,#e4ff00 299px,#ff0 299px,#ffbf00 300px,#ffbf00 304px,#ff0 306px,#f7ff00 306px,#f7ff00 318px,#ff0 318px,#ffbf00 320px,#ffd200 323px,#fff900 325px,#ff0 327px,#ff0 327px,#80ff00 329px,#7f0 338px,#0f0 339px,#00ff04 339px,#00ffce 340px,#0ff 341px,#00e1ff 341px,#009cff 374px,#0080ff 379px,#0084ff 386px,#0082ff 414px,#0082ff 419px,#07f 450px,#0028ff 451px,#00f 452px,#00f 457px,#4700ff 458px,#6a00ff 459px,#6a00ff 465px,#f0f 465px,#f00 466px,#f00 490px,#ff00ea 491px,#ff00ea 493px,#f00 494px,#f00 503px,#f0f 504px,#00f 504px,#00f 508px,#60f 510px,#60f 530px)"></i></div><div class="cb"></div><svg width="886" height="700" viewBox="0 0 886 700"><polygon points="226.8,433.3 205.9,374.9 213.6,372.1 194.8,354.4 191.5,380.0 199.1,377.3 220.0,435.7" fill="#ff0000"/>
<polygon points="307.3,445.6 287.3,388.7 295.0,386.0 276.3,368.2 272.8,393.8 280.5,391.1 300.5,448.0" fill="#ff0000"/>
<polygon points="399.4,440.0 378.6,382.6 386.3,379.8 367.4,362.2 364.2,387.8 371.8,385.1 392.6,442.4" fill="#ff0000"/>
<polygon points="488.6,434.3 468.2,377.3 475.9,374.5 457.1,356.8 453.8,382.4 461.4,379.7 481.8,436.7" fill="#ff0000"/>
<polygon points="577.9,421.1 557.3,363.8 564.9,361.1 546.1,343.4 542.8,369.0 550.5,366.3 571.1,423.5" fill="#ff0000"/>
<polygon points="659.4,417.3 639.1,360.3 646.8,357.5 628.0,339.8 624.6,365.4 632.3,362.7 652.6,419.7" fill="#ff0000"/>
<rect x="97.70" y="45.00" width="625.80" height="530.20" fill="none" stroke="#262626" stroke-width="1.6"/>
<rect x="739.50" y="45.00" width="33.50" height="530.20" fill="none" stroke="#262626" stroke-width="1.6"/>
<path d="M97.7,46.0h6.0M723.5,46.0h-6.0M97.7,146.0h6.0M723.5,146.0h-6.0M97.7,246.0h6.0M723.5,246.0h-6.0M97.7,346.0h6.0M723.5,346.0h-6.0M97.7,446.0h6.0M723.5,446.0h-6.0M97.7,546.0h6.0M723.5,546.0h-6.0M195.2,45.0v6.0M195.2,575.2v-6.0M297.8,45.0v6.0M297.8,575.2v-6.0M400.3,45.0v6.0M400.3,575.2v-6.0M502.9,45.0v6.0M502.9,575.2v-6.0M605.5,45.0v6.0M605.5,575.2v-6.0M708.1,45.0v6.0M708.1,575.2v-6.0M773.0,575.2h-4.0M773.0,469.2h-4.0M773.0,363.1h-4.0M773.0,257.1h-4.0M773.0,151.0h-4.0M773.0,45.0h-4.0" stroke="#262626" stroke-width="1.3" fill="none"/>
<g font-family="'Liberation Sans',Arial,sans-serif" fill="#262626" font-weight="bold">
<g font-size="31">
<text x="87.2" y="58.6" text-anchor="end">1</text>
<text x="87.2" y="158.2" text-anchor="end">1.1</text>
<text x="87.2" y="257.9" text-anchor="end">1.2</text>
<text x="87.2" y="357.6" text-anchor="end">1.3</text>
<text x="87.2" y="457.2" text-anchor="end">1.4</text>
<text x="87.2" y="556.9" text-anchor="end">1.5</text>
<text x="194.0" y="616.3" text-anchor="middle">10</text>
<text x="296.6" y="616.3" text-anchor="middle">20</text>
<text x="399.1" y="616.3" text-anchor="middle">30</text>
<text x="501.7" y="616.3" text-anchor="middle">40</text>
<text x="604.3" y="616.3" text-anchor="middle">50</text>
<text x="706.9" y="616.3" text-anchor="middle">60</text>
</g>
<g font-size="25.5">
<text x="780.2" y="586.0">3</text>
<text x="780.2" y="480.0">4</text>
<text x="780.2" y="373.9">5</text>
<text x="780.2" y="267.9">6</text>
<text x="780.2" y="161.8">7</text>
<text x="780.2" y="55.8">8</text>
</g>
<text x="408" y="657.8" font-size="31.5" text-anchor="middle">CDP</text>
<text transform="translate(30.4,311) rotate(-90)" font-size="32.5" text-anchor="middle">Time(s)</text>
<g font-weight="normal" stroke="#262626" stroke-width="0.4">
<text x="774.5" y="36.8" font-size="34">×</text>
<text x="793.5" y="32.4" font-size="26">10</text>
<text x="825.5" y="19.6" font-size="21.5">6</text>
</g>
</g>
<g font-family="'Liberation Serif','Times New Roman',serif" fill="#000">
<text x="3.6" y="53.3" font-size="48">A</text>
<text transform="translate(845.7,481) rotate(-90)" font-size="41.5" textLength="297" lengthAdjust="spacing">EI (kg·m<tspan dy="-14" font-size="28">-3</tspan><tspan dy="14"> ·m ·s</tspan><tspan dy="-14" font-size="28">-1</tspan><tspan dy="14">)</tspan></text>
</g></svg></div>
<div class="p" style="left:915.0px;top:0.0px"><div class="h"><i style="left:97.7px;width:20.8px;background:linear-gradient(#d4ff00 0px,#ff0 10px,#ffe200 16px,#ff9a00 22px,#f30 23px,#f30 28px,#ff8900 29px,#ffe200 38px,#ff9600 44px,#ff0 54px,#a0ff00 64px,#85ff00 66px,#0f0 69px,#00ffaf 72px,#0ff 72px,#03f 73px,#03f 78px,#0ff 79px,#00fff1 79px,#00ff7b 82px,#0f0 84px,#2bff00 85px,#ecff00 92px,#fcff00 99px,#d4ff00 103px,#0f0 110px,#0fa 115px,#0ff 119px,#00fbff 119px,#0059ff 143px,#0079ff 150px,#0ef 155px,#0ff 155px,#00ff50 159px,#0f0 160px,#76ff00 162px,#bdff00 172px,#6dff00 200px,#0f0 204px,#0f5 207px,#00ffea 211px,#00ffd5 216px,#0f0 220px,#54ff00 222px,#cfff00 225px,#fcff00 234px,#e6ff00 240px,#6f0 245px,#0f0 247px,#00ffc0 251px,#00fff8 252px,#0ff 253px,#07f 269px,#002bff 274px,#00c0ff 283px,#0ff 284px,#0f0 289px,#af0 292px,#ff0 300px,#fffc00 300px,#ff0 301px,#ecff00 306px,#35ff00 319px,#0f0 321px,#00ff72 325px,#0ff 331px,#00c8ff 333px,#005cff 346px,#0093ff 352px,#00baff 354px,#0ff 355px,#00ff1b 360px,#0f0 361px,#57ff00 363px,#82ff00 372px,#6bff00 378px,#0f0 382px,#00ffd6 389px,#00fff7 405px,#00ffd9 412px,#0f0 418px,#80ff00 422px,#9cff00 433px,#0dff00 440px,#0f0 441px,#00fff5 451px,#0ff 451px,#003eff 457px,#00f 460px,#0a00ff 461px,#2800ff 464px,#f0f 467px,#ff008b 468px,#ff006b 472px,#f0f 474px,#5400ff 477px,#0a00ff 478px,#00f 479px,#001cff 480px,#0028ff 483px,#0052ff 484px,#0ff 486px,#0f0 489px,#bdff00 491px,#ff0 494px,#ffe000 495px,#ffe700 505px,#ffd900 520px,#ff0 530px)"></i><i style="left:118.2px;width:10.6px;background:linear-gradient(#d4ff00 0px,#ff0 10px,#ffe200 16px,#ff6c00 26px,#ffe200 38px,#ff9600 44px,#ff0 54px,#a0ff00 64px,#85ff00 66px,#0f0 69px,#00ffaf 72px,#0ff 74px,#0af 76px,#0ff 78px,#00ff7b 82px,#0f0 84px,#2bff00 85px,#ecff00 92px,#fcff00 99px,#d4ff00 103px,#0f0 110px,#0fa 115px,#0ff 119px,#00fbff 119px,#0059ff 143px,#0079ff 150px,#0ef 155px,#0ff 155px,#00ff50 159px,#0f0 160px,#76ff00 162px,#bdff00 172px,#6dff00 200px,#0f0 204px,#0f5 207px,#00ffea 211px,#00ffd5 216px,#0f0 220px,#54ff00 222px,#cfff00 225px,#fcff00 234px,#e6ff00 240px,#6f0 245px,#0f0 247px,#00ffc0 251px,#00fff8 252px,#0ff 253px,#07f 269px,#002bff 274px,#00c0ff 283px,#0ff 284px,#0f0 289px,#af0 292px,#ff0 300px,#fffc00 300px,#ff0 301px,#ecff00 306px,#35ff00 319px,#0f0 321px,#00ff72 325px,#0ff 331px,#00c8ff 333px,#005cff 346px,#0093ff 352px,#00baff 354px,#0ff 355px,#00ff1b 360px,#0f0 361px,#57ff00 363px,#82ff00 372px,#6bff00 378px,#0f0 382px,#00ffd6 389px,#00fff7 405px,#00ffd9 412px,#0f0 418px,#80ff00 422px,#9cff00 433px,#0dff00 440px,#0f0 441px,#00fff5 451px,#0ff 451px,#003eff 457px,#00f 460px,#0a00ff 461px,#2800ff 464px,#f0f 467px,#ff008b 468px,#ff006b 472px,#f0f 474px,#5400ff 477px,#0a00ff 478px,#00f 479px,#001cff 480px,#0028ff 483px,#0052ff 484px,#0ff 486px,#0f0 489px,#bdff00 491px,#ff0 494px,#ffe000 495px,#ffe700 505px,#ffd900 520px,#ff0 530px)"></i><i style="left:128.5px;width:10.5px;background:linear-gradient(#d9ff00 0px,#ff0 8px,#ffd400 17px,#ff7400 26px,#ffdf00 38px,#ff9f00 44px,#ff0 54px,#8dff00 66px,#0f0 69px,#0fa 73px,#0ff 75px,#00e7ff 76px,#0ff 77px,#00ff64 82px,#0f0 84px,#53ff00 86px,#edff00 92px,#f8ff00 99px,#afff00 104px,#0f0 110px,#00ffbd 116px,#0ff 120px,#00f8ff 120px,#005dff 143px,#0081ff 150px,#0ff 155px,#0ff 155px,#00ff0a 160px,#0f0 160px,#70ff00 162px,#bfff00 170px,#65ff00 201px,#0f0 204px,#00ffa9 210px,#00ffca 211px,#00ffb1 216px,#0f0 220px,#63ff00 222px,#d5ff00 225px,#fbff00 235px,#e4ff00 240px,#6aff00 245px,#0f0 247px,#00ffb2 251px,#00ffe9 252px,#0ff 254px,#0057ff 272px,#0039ff 274px,#00c9ff 283px,#0ff 284px,#0f0 289px,#a1ff00 292px,#ff0 299px,#ffec00 300px,#ff0 303px,#d8ff00 308px,#39ff00 319px,#0f0 321px,#00ff46 324px,#0ff 331px,#00daff 332px,#006dff 345px,#0072ff 349px,#00b8ff 354px,#0ff 355px,#00ff29 360px,#0f0 361px,#4aff00 363px,#7cff00 372px,#46ff00 379px,#0f0 381px,#00ffd7 389px,#00fff8 406px,#00ffdc 412px,#0f0 418px,#79ff00 422px,#9eff00 433px,#30ff00 439px,#0f0 441px,#00ffad 448px,#0ff 451px,#00e2ff 452px,#0025ff 458px,#00f 461px,#2800ff 464px,#f0f 467px,#ff008d 468px,#ff006e 472px,#f0f 474px,#0900ff 478px,#00f 478px,#001dff 480px,#002bff 483px,#0054ff 484px,#0ff 486px,#0f0 489px,#baff00 491px,#ff0 494px,#ffe100 495px,#ffe100 506px,#ffda00 520px,#ff0 530px)"></i><i style="left:138.7px;width:10.6px;background:linear-gradient(#df0 0px,#ff0 7px,#ffd200 17px,#ff8400 27px,#ffdc00 38px,#ffb100 45px,#ff0 54px,#91ff00 66px,#0f0 70px,#00ff9e 74px,#0fd 76px,#00ffa3 79px,#00ff1e 83px,#0f0 84px,#79ff00 87px,#f2ff00 93px,#e9ff00 100px,#8cff00 105px,#0f0 110px,#00ffcf 117px,#0ff 120px,#00f5ff 121px,#0065ff 144px,#08f 150px,#0ff 154px,#00fff0 155px,#0f0 160px,#35ff00 161px,#8dff00 163px,#bf0 173px,#67ff00 201px,#0f0 205px,#00ffab 211px,#00ff8d 216px,#0f0 219px,#96ff00 223px,#daff00 225px,#fcff00 235px,#e2ff00 240px,#6eff00 245px,#0f0 247px,#00ffa4 251px,#00fff4 253px,#0ff 254px,#0062ff 272px,#0051ff 275px,#00d2ff 283px,#0ff 284px,#0f0 289px,#9f0 292px,#ff0 298px,#ffd400 301px,#ff0 304px,#3eff00 319px,#0f0 322px,#00ff3c 324px,#0ff 331px,#00f9ff 331px,#0086ff 342px,#0079ff 349px,#00b7ff 354px,#0ff 356px,#00ff0f 361px,#0f0 362px,#4aff00 364px,#72ff00 373px,#3bff00 379px,#0f0 381px,#00ffd8 389px,#00fffa 406px,#00ffde 412px,#0f0 419px,#72ff00 422px,#a0ff00 433px,#38ff00 439px,#0f0 441px,#00ff9b 447px,#00fff9 451px,#0ff 451px,#0025ff 458px,#00f 461px,#2800ff 464px,#f0f 467px,#ff0090 468px,#ff0070 472px,#f0f 474px,#0800ff 478px,#00f 478px,#001dff 480px,#002dff 483px,#0056ff 484px,#0ff 486px,#0f0 489px,#b8ff00 491px,#ff0 494px,#ffe300 495px,#ffdb00 507px,#ffdf00 521px,#ff0 530px)"></i><i style="left:149.0px;width:10.6px;background:linear-gradient(#e1ff00 0px,#ff0 6px,#ffc800 18px,#ff8c00 27px,#ffd200 39px,#ffb900 45px,#ff0 53px,#90ff00 66px,#0f0 71px,#00ff8a 75px,#0fa 77px,#00ff08 83px,#0f0 83px,#84ff00 87px,#f3ff00 93px,#e6ff00 100px,#89ff00 105px,#0f0 110px,#00ffc9 117px,#0ff 121px,#00e1ff 124px,#006aff 144px,#008fff 150px,#0ff 154px,#00ffe0 155px,#0f0 160px,#91ff00 163px,#baff00 174px,#67ff00 201px,#0f0 205px,#00ff8c 211px,#00ff69 216px,#0f0 219px,#a2ff00 223px,#e4ff00 226px,#faff00 236px,#e0ff00 240px,#71ff00 245px,#0f0 248px,#00ff5f 250px,#00ffec 253px,#0ff 255px,#005cff 275px,#00c4ff 282px,#0ff 284px,#00ffcf 285px,#0f0 289px,#92ff00 292px,#ff0 298px,#ffc200 301px,#ff0 305px,#2fff00 320px,#0f0 322px,#00ff54 325px,#00fffd 331px,#0ff 331px,#0095ff 341px,#0081ff 349px,#00b8ff 354px,#0ff 356px,#0f0 362px,#2fff00 363px,#71ff00 372px,#2fff00 379px,#0f0 381px,#00ffd8 389px,#00fffc 406px,#00ffe0 412px,#0f0 419px,#6bff00 422px,#a2ff00 433px,#41ff00 439px,#0f0 441px,#00ff9d 447px,#00fffb 451px,#0ff 451px,#0025ff 458px,#00f 461px,#2800ff 464px,#f0f 467px,#ff0093 468px,#ff0073 472px,#f0f 474px,#0800ff 478px,#00f 478px,#001eff 480px,#002fff 483px,#0059ff 484px,#0ff 486px,#0f0 489px,#b5ff00 491px,#ff0 494px,#ffe400 495px,#ffdf00 521px,#ff0 530px)"></i><i style="left:159.3px;width:10.5px;background:linear-gradient(#e6ff00 0px,#ff0 5px,#ffb800 20px,#ff9400 27px,#ffd000 39px,#ffc900 46px,#ff0 52px,#79ff00 67px,#0f0 72px,#00ff6e 76px,#00ff65 78px,#0f0 82px,#34ff00 84px,#bcff00 89px,#faff00 95px,#d4ff00 101px,#32ff00 108px,#0f0 110px,#00ffd8 118px,#0ff 122px,#00b5ff 131px,#0071ff 145px,#0098ff 150px,#0ff 154px,#00fffc 154px,#0f0 160px,#94ff00 163px,#baff00 174px,#56ff00 202px,#0f0 206px,#00ff72 212px,#00ff45 216px,#0f0 218px,#cf0 224px,#ff0 233px,#fffe00 233px,#ff0 233px,#dfff00 240px,#75ff00 245px,#0f0 248px,#00ff51 250px,#00ffe3 253px,#0ff 256px,#0067ff 275px,#00b1ff 281px,#0ff 283px,#0fc 285px,#0f0 289px,#8bff00 292px,#ff0 297px,#ffb200 301px,#ffce00 303px,#ff0 306px,#0eff00 322px,#0f0 322px,#00ffe1 330px,#0ff 332px,#00bdff 337px,#08f 349px,#00bcff 354px,#0ff 356px,#0f0 363px,#34ff00 364px,#67ff00 373px,#0dff00 380px,#0f0 380px,#00ffc8 388px,#0ff 400px,#00ffe1 412px,#0f6 416px,#0f0 419px,#63ff00 422px,#aeff00 432px,#4aff00 439px,#0f0 441px,#00ff8c 446px,#00fffe 451px,#0ff 451px,#0025ff 458px,#00f 461px,#2800ff 464px,#f0f 467px,#ff0095 468px,#ff0076 472px,#f0f 474px,#0700ff 478px,#00f 478px,#001fff 480px,#0032ff 483px,#005bff 484px,#0ff 486px,#0f0 489px,#b3ff00 491px,#ff0 494px,#ffe600 495px,#ffdc00 520px,#ff0 530px)"></i><i style="left:169.5px;width:10.6px;background:linear-gradient(#eaff00 0px,#ff0 5px,#ff9f00 28px,#ffca00 41px,#ffe700 49px,#ff0 52px,#7eff00 67px,#0f0 73px,#00ff48 77px,#0f0 80px,#49ff00 84px,#d4ff00 90px,#faff00 96px,#beff00 102px,#0f0 109px,#00ff75 114px,#00fff4 120px,#0ff 122px,#0071ff 143px,#009fff 150px,#0ff 154px,#00fff5 154px,#00ff07 159px,#0f0 159px,#94ff00 163px,#baff00 174px,#59ff00 202px,#0f0 207px,#0f5 212px,#0f0 217px,#01ff00 217px,#e5ff00 225px,#fcff00 235px,#df0 240px,#79ff00 245px,#0f0 248px,#00ff43 250px,#00ffda 253px,#0ff 258px,#0073ff 275px,#00b5ff 281px,#0ff 283px,#00ffc9 285px,#0f0 289px,#86ff00 292px,#ff0 297px,#ffa200 301px,#ff9a00 302px,#fff600 305px,#ff0 306px,#26ff00 321px,#0f0 322px,#00ff63 326px,#00ffef 331px,#0ff 332px,#00bdff 338px,#0097ff 350px,#00dbff 355px,#0ff 356px,#0f0 363px,#28ff00 364px,#62ff00 373px,#02ff00 380px,#0f0 380px,#00ffca 388px,#00fffc 398px,#00ffe9 411px,#00ffbd 414px,#0f0 419px,#3fff00 421px,#8dff00 426px,#a6ff00 433px,#53ff00 439px,#0f0 442px,#00ff8e 446px,#0ff 451px,#00feff 451px,#0025ff 458px,#00f 461px,#2800ff 464px,#f0f 467px,#ff0098 468px,#ff0078 472px,#f0f 474px,#0600ff 478px,#00f 478px,#0027ff 481px,#0034ff 483px,#005dff 484px,#0ff 486px,#0f0 489px,#b0ff00 491px,#ff0 494px,#ffe800 495px,#ffd900 519px,#ff0 530px)"></i><i style="left:179.8px;width:10.5px;background:linear-gradient(#ef0 0px,#ff0 4px,#ffa500 28px,#ffed00 49px,#ff0 51px,#8eff00 66px,#0f0 76px,#00ff12 77px,#0f0 78px,#7bff00 85px,#e6ff00 91px,#f5ff00 97px,#a6ff00 103px,#0f0 110px,#00ffcf 118px,#0ff 123px,#00b8ff 131px,#007aff 145px,#00a4ff 150px,#0ff 153px,#00fff1 154px,#00ff0f 158px,#0f0 158px,#97ff00 163px,#b8ff00 175px,#5bff00 202px,#0f0 208px,#00ff38 212px,#0f0 215px,#21ff00 217px,#e8ff00 225px,#fdff00 235px,#dbff00 240px,#5cff00 246px,#0f0 249px,#00ff34 250px,#00ffd1 253px,#0ff 258px,#007dff 274px,#00b8ff 281px,#0ff 283px,#00ff97 286px,#0f0 289px,#81ff00 292px,#ff0 297px,#ff8000 302px,#fff300 305px,#ff0 306px,#2bff00 321px,#0f0 323px,#00ff35 325px,#00ffd6 330px,#0ff 333px,#00d4ff 336px,#009eff 350px,#00d8ff 355px,#0ff 356px,#0f0 363px,#36ff00 365px,#5dff00 373px,#0f0 379px,#00ff20 381px,#00ffbd 387px,#00fffc 396px,#00ffef 410px,#00ffc6 414px,#0f0 419px,#38ff00 421px,#8cff00 426px,#a8ff00 433px,#5cff00 439px,#0f0 442px,#00ff90 446px,#0ff 450px,#00daff 452px,#000cff 459px,#00f 460px,#2800ff 464px,#f0f 467px,#ff009a 468px,#ff007b 472px,#f0f 474px,#0600ff 478px,#00f 478px,#0028ff 481px,#0036ff 483px,#0060ff 484px,#0ff 486px,#0f0 489px,#aeff00 491px,#ff0 494px,#ffe900 495px,#ffd600 518px,#ff0 530px)"></i><i style="left:190.0px;width:10.6px;background:linear-gradient(#f2ff00 0px,#ff0 4px,#ffac00 28px,#ff0 51px,#ebff00 56px,#2f0 77px,#a4ff00 86px,#f3ff00 92px,#ecff00 98px,#8bff00 104px,#0f0 110px,#0fc 118px,#0ff 123px,#00b9ff 131px,#0083ff 146px,#00a8ff 150px,#0ff 153px,#00ffe9 154px,#0f0 158px,#08ff00 158px,#a7ff00 164px,#b3ff00 177px,#5dff00 202px,#0f0 210px,#00ff1b 212px,#0f0 213px,#8dff00 220px,#ecff00 225px,#fdff00 235px,#daff00 240px,#62ff00 246px,#0f0 249px,#00ff26 250px,#00ffc7 253px,#0ff 259px,#00cfff 264px,#008bff 275px,#0bf 281px,#0ff 283px,#00ff96 286px,#0f0 289px,#5dff00 291px,#ff0 297px,#ff6d00 302px,#ffef00 305px,#ff0 306px,#1eff00 322px,#0f0 323px,#00ff2b 325px,#00ffd0 330px,#0ff 334px,#00d4ff 337px,#00a4ff 350px,#00d6ff 355px,#0ff 356px,#0f0 364px,#2cff00 365px,#59ff00 373px,#0f0 378px,#00ff47 382px,#00ffc3 387px,#0ff 397px,#0ff 397px,#0ff 397px,#00fff5 409px,#00ffce 414px,#0f0 419px,#18ff00 420px,#85ff00 425px,#af0 433px,#65ff00 439px,#0f0 442px,#00ff92 446px,#0ff 450px,#00d8ff 452px,#000cff 459px,#00f 460px,#2800ff 464px,#f0f 467px,#ff009d 468px,#ff007e 472px,#f0f 474px,#0500ff 478px,#00f 478px,#0029ff 481px,#0039ff 483px,#0062ff 484px,#0ff 486px,#0f0 489px,#abff00 491px,#ff0 494px,#ffeb00 495px,#ffd300 517px,#ff0 530px)"></i><i style="left:200.3px;width:10.5px;background:linear-gradient(#f7ff00 0px,#ff0 3px,#ffb200 29px,#ff0 50px,#e7ff00 57px,#64ff00 72px,#6f0 79px,#f8ff00 91px,#edff00 98px,#87ff00 104px,#0f0 110px,#00ff81 115px,#00ffd6 119px,#0ff 123px,#00b9ff 131px,#0087ff 146px,#0af 150px,#0ff 153px,#00ffe1 154px,#0f0 158px,#18ff00 158px,#abff00 164px,#b0ff00 178px,#54ff00 203px,#02ff00 212px,#efff00 225px,#fdff00 235px,#d8ff00 240px,#67ff00 246px,#0f0 249px,#00ff18 250px,#00ffbd 253px,#0ff 258px,#00e9ff 260px,#009bff 276px,#00bdff 281px,#0ff 283px,#00ff63 287px,#0f0 289px,#7aff00 292px,#ff0 297px,#ff5d00 302px,#ffec00 305px,#ff0 306px,#02ff00 324px,#0f0 324px,#00ffcb 330px,#0ff 334px,#00dcff 337px,#00b4ff 351px,#00d5ff 355px,#0ff 356px,#0f0 364px,#21ff00 365px,#5f0 373px,#0f0 378px,#00ff50 382px,#00ffc9 387px,#0ff 397px,#00fdff 397px,#0ff 400px,#00fff6 409px,#00ffd5 414px,#0f0 420px,#12ff00 420px,#83ff00 425px,#acff00 433px,#6eff00 439px,#0f0 442px,#00ff94 446px,#0ff 450px,#00d6ff 452px,#000cff 459px,#00f 460px,#2800ff 464px,#f0f 467px,#ff009f 468px,#ff0080 472px,#f0f 474px,#0400ff 478px,#00f 478px,#03f 482px,#0064ff 484px,#0ff 486px,#0f0 489px,#a9ff00 491px,#ff0 494px,#ffed00 495px,#ffd500 517px,#ff0 530px)"></i><i style="left:210.5px;width:10.6px;background:linear-gradient(#f7ff00 0px,#ff0 3px,#ffb200 29px,#ff0 50px,#e7ff00 57px,#64ff00 72px,#6f0 79px,#f8ff00 91px,#edff00 98px,#2f0 110px,#0f0 111px,#00fffc 122px,#0ff 122px,#00a5ff 135px,#0080ff 147px,#00a8ff 151px,#0ff 154px,#00ffed 155px,#0f0 160px,#5dff00 162px,#afff00 166px,#adff00 179px,#54ff00 203px,#02ff00 212px,#efff00 225px,#fdff00 235px,#d8ff00 240px,#67ff00 246px,#0f0 249px,#00ff18 250px,#00ffbd 253px,#0ff 258px,#00e9ff 260px,#009bff 276px,#00bdff 281px,#0ff 283px,#00ff63 287px,#0f0 289px,#7aff00 292px,#ff0 297px,#ff5d00 302px,#ffec00 305px,#ff0 306px,#02ff00 324px,#0f0 324px,#00ffcb 330px,#0ff 334px,#00dcff 337px,#00b4ff 351px,#00d5ff 355px,#0ff 356px,#0f0 364px,#21ff00 365px,#5f0 373px,#0f0 378px,#00ff50 382px,#00ffc9 387px,#0ff 397px,#00fdff 397px,#0ff 400px,#00fff6 409px,#00ffd5 414px,#0f0 420px,#12ff00 420px,#83ff00 425px,#acff00 433px,#6eff00 439px,#0f0 442px,#00ff94 446px,#0ff 450px,#00d6ff 452px,#000cff 459px,#00f 460px,#2800ff 464px,#f0f 467px,#ff009f 468px,#ff0080 472px,#f0f 474px,#0400ff 478px,#00f 478px,#03f 482px,#0064ff 484px,#0ff 486px,#0f0 489px,#a9ff00 491px,#ff0 494px,#ffed00 495px,#ffd500 517px,#ff0 530px)"></i><i style="left:220.8px;width:10.6px;background:linear-gradient(#f7ff00 0px,#ff0 3px,#ffb200 29px,#fffd00 50px,#ff0 50px,#c1ff00 61px,#62ff00 73px,#63ff00 79px,#f8ff00 92px,#f2ff00 98px,#62ff00 109px,#0f0 113px,#00ffc4 121px,#0ff 123px,#00f1ff 124px,#0072ff 144px,#09f 153px,#0ff 156px,#00ffcd 158px,#0f0 161px,#28ff00 162px,#acff00 166px,#b1ff00 178px,#57ff00 203px,#0f0 213px,#efff00 226px,#feff00 236px,#dcff00 241px,#71ff00 247px,#0f0 251px,#00ff03 251px,#00ffd6 255px,#0ff 261px,#09f 275px,#0af 282px,#0ff 285px,#0f8 288px,#0f0 291px,#63ff00 293px,#ff0 298px,#ff5b00 304px,#ffed00 307px,#ff0 308px,#0f0 326px,#0f0 326px,#00ffce 332px,#0ff 336px,#00e0ff 338px,#00b5ff 353px,#0df 357px,#0ff 358px,#0f0 366px,#2aff00 367px,#50ff00 375px,#0f0 379px,#00ff59 384px,#00ffc3 388px,#0ff 398px,#00fdff 398px,#0ff 400px,#00fff4 411px,#00ffc9 416px,#0f0 421px,#1dff00 422px,#86ff00 427px,#a8ff00 435px,#80ff00 440px,#0f0 443px,#00ff8a 447px,#0ff 452px,#00e6ff 453px,#0017ff 460px,#00f 462px,#4300ff 466px,#f0f 468px,#ff00c2 469px,#ff0092 470px,#ff0082 473px,#ff00e5 475px,#f0f 475px,#00f 480px,#0017ff 480px,#0042ff 485px,#0ff 487px,#0f0 491px,#c6ff00 493px,#ff0 496px,#ffe900 497px,#ffd600 519px,#fffb00 530px)"></i><i style="left:231.1px;width:10.5px;background:linear-gradient(#f7ff00 0px,#ff0 3px,#ffb200 29px,#fffc00 50px,#ff0 51px,#c3ff00 61px,#62ff00 73px,#60ff00 79px,#f8ff00 92px,#eaff00 99px,#8fff00 109px,#0f0 115px,#00ff72 120px,#0ff 123px,#00fdff 123px,#006aff 143px,#0074ff 154px,#00deff 159px,#0ff 159px,#00ff59 161px,#0f0 163px,#4bff00 164px,#a7ff00 166px,#b4ff00 177px,#51ff00 204px,#05ff00 214px,#ef0 227px,#feff00 237px,#d1ff00 243px,#7aff00 248px,#0f0 252px,#00ff25 253px,#00ffc7 256px,#0ff 262px,#00ceff 268px,#009aff 279px,#00b0ff 284px,#0ff 286px,#00ff7d 290px,#0f0 293px,#68ff00 295px,#ff0 300px,#ff5900 306px,#fe0 309px,#ff0 310px,#0eff00 327px,#0f0 327px,#00ffd0 334px,#0ff 338px,#00dfff 340px,#00afff 354px,#00e4ff 359px,#0ff 360px,#0f0 368px,#2cff00 369px,#4bff00 377px,#0f0 381px,#00ff45 385px,#00ffc6 390px,#0ff 400px,#00fdff 400px,#0ff 403px,#00fff8 412px,#00ffd7 417px,#0f0 423px,#28ff00 424px,#89ff00 429px,#acff00 436px,#6fff00 442px,#0f0 445px,#00ff95 449px,#0ff 453px,#00d4ff 455px,#0009ff 462px,#00f 463px,#2900ff 467px,#f0f 470px,#ff0095 471px,#ff008b 475px,#f0f 477px,#00f 481px,#0006ff 481px,#003dff 486px,#00c5ff 488px,#0ff 489px,#0f0 492px,#b7ff00 494px,#ff0 497px,#ffea00 498px,#ffd500 520px,#fff600 530px)"></i><i style="left:241.3px;width:10.6px;background:linear-gradient(#f3ff00 0px,#ff0 4px,#ffab00 31px,#ff0 52px,#dfff00 60px,#89ff00 73px,#9bff00 81px,#ff0 93px,#fffe00 93px,#ff0 93px,#ebff00 100px,#91ff00 110px,#0f0 118px,#00ff43 121px,#0f9 123px,#0ff 132px,#009bff 140px,#00a2ff 154px,#0ff 158px,#00ffe0 159px,#0f0 162px,#0f0 162px,#9aff00 166px,#b9ff00 176px,#57ff00 205px,#13ff00 214px,#f3ff00 228px,#ff0 237px,#fffe00 238px,#ff0 238px,#dbff00 243px,#53ff00 249px,#0f0 251px,#00ff9d 256px,#00ffe7 258px,#0ff 262px,#09f 278px,#00bcff 285px,#0ff 287px,#0f0 293px,#8f0 297px,#ff0 302px,#ff7100 308px,#fff000 311px,#ff0 312px,#0f0 325px,#00ff09 325px,#00ff82 331px,#00fffb 336px,#0ff 337px,#00cdff 343px,#00c7ff 357px,#00f0ff 361px,#0ff 362px,#0f1 371px,#0f0 376px,#09ff00 379px,#0f0 380px,#00ff86 388px,#00ffd1 392px,#0ff 403px,#00feff 403px,#0ff 404px,#00ffed 413px,#0f9 419px,#0f0 424px,#30ff00 425px,#87ff00 430px,#a0ff00 438px,#78ff00 443px,#0f0 447px,#00ff86 451px,#0ff 455px,#00c0ff 457px,#0009ff 463px,#00f 463px,#4e00ff 468px,#7b00ff 469px,#f0f 470px,#ff0061 472px,#ff003e 474px,#ff0036 476px,#ff0063 477px,#f0f 479px,#6500ff 481px,#00f 483px,#000aff 483px,#004eff 487px,#0076ff 488px,#0ff 490px,#0f0 493px,#b7ff00 495px,#ff0 497px,#ffcb00 498px,#ffb200 501px,#fff800 506px,#ff0 512px,#e9ff00 530px)"></i><i style="left:251.6px;width:10.5px;background:linear-gradient(#f0ff00 0px,#ff0 5px,#ffa500 32px,#ff0 55px,#e9ff00 61px,#b0ff00 74px,#f7ff00 89px,#f6ff00 100px,#8bff00 112px,#0f0 121px,#00ff14 122px,#00ff6c 127px,#0ff 135px,#0cf 138px,#00c0ff 150px,#00ceff 154px,#0ff 156px,#00ff6e 160px,#0f0 162px,#3bff00 163px,#a6ff00 167px,#b3ff00 180px,#5dff00 206px,#21ff00 214px,#61ff00 219px,#f7ff00 229px,#ff0 236px,#fffc00 239px,#ff0 239px,#d7ff00 244px,#7aff00 248px,#0f0 252px,#00fff0 259px,#0ff 261px,#00a3ff 276px,#00a9ff 283px,#00daff 287px,#0ff 288px,#0f0 294px,#30ff00 295px,#bcff00 300px,#ff0 304px,#ff8b00 310px,#ff0 314px,#faff00 314px,#43ff00 321px,#0f0 324px,#00ff8f 329px,#0ff 336px,#00daff 338px,#00c2ff 350px,#00e7ff 362px,#0ff 363px,#00ff4e 373px,#00ff36 381px,#00ffb9 391px,#00fffd 401px,#00ffeb 414px,#00ff30 422px,#0f0 424px,#3fff00 426px,#95ff00 434px,#8aff00 442px,#2eff00 447px,#0f0 449px,#00ffda 456px,#0ff 457px,#001eff 463px,#00f 464px,#6900ff 469px,#8a00ff 470px,#f0f 471px,#ff003b 473px,#f00 474px,#f00 478px,#f0f 481px,#de00ff 481px,#0b00ff 484px,#00f 485px,#0020ff 487px,#0080ff 489px,#0ff 491px,#0f0 494px,#7cff00 495px,#ff0 497px,#ff9d00 499px,#ff7e00 502px,#ffbd00 504px,#fffd00 506px,#ff0 506px,#cfff00 511px,#c8ff00 530px)"></i><i style="left:261.8px;width:10.6px;background:linear-gradient(#ef0 0px,#ff0 5px,#ffa100 33px,#ff0 57px,#e9ff00 63px,#ceff00 76px,#ff0 92px,#fff400 96px,#ff0 98px,#9dff00 112px,#0fff00 123px,#0f0 124px,#0fb 134px,#0ff 137px,#00e5ff 138px,#00dbff 150px,#00e9ff 154px,#0ff 155px,#00ff1b 161px,#0f0 162px,#6f0 164px,#a7ff00 168px,#b3ff00 181px,#5fff00 207px,#27ff00 214px,#6eff00 220px,#faff00 230px,#ff0 235px,#fffb00 240px,#ff0 240px,#d7ff00 245px,#75ff00 249px,#0f0 252px,#00ff98 256px,#0ff 261px,#00f5ff 262px,#009bff 279px,#00bfff 287px,#00f6ff 289px,#0ff 289px,#0f0 295px,#3eff00 296px,#daff00 303px,#ff0 305px,#ff9e00 312px,#ff0 316px,#69ff00 321px,#0f0 324px,#00ffc1 330px,#0ff 335px,#00c4ff 339px,#00c9ff 354px,#0ff 364px,#00fff4 366px,#00ff6f 376px,#00ff63 384px,#00ffe7 397px,#00fff6 413px,#00ffda 416px,#0f0 424px,#49ff00 427px,#96ff00 436px,#75ff00 445px,#0f0 450px,#00ff74 455px,#0ff 458px,#0020ff 464px,#00f 465px,#7000ff 470px,#d700ff 472px,#f0f 472px,#ff0038 474px,#f00 475px,#f00 480px,#ff00e8 482px,#f0f 482px,#2c00ff 485px,#00f 487px,#003aff 489px,#0ff 492px,#00ffdf 492px,#0f0 495px,#81ff00 496px,#ff0 498px,#ff6500 501px,#ff5b00 504px,#fffe00 507px,#ff0 507px,#b5ff00 511px,#a8ff00 526px,#b2ff00 530px)"></i><i style="left:272.1px;width:10.6px;background:linear-gradient(#ecff00 0px,#ff0 5px,#fb0 22px,#ff9e00 37px,#ff0 63px,#dfff00 72px,#ff0 88px,#fff000 96px,#ff0 99px,#beff00 110px,#1aff00 127px,#0f0 128px,#0f8 134px,#0ff 138px,#00fdff 138px,#00f5ff 150px,#0ff 151px,#00ffe0 155px,#0f0 161px,#8f0 165px,#baff00 178px,#6bff00 207px,#29ff00 214px,#6f0 220px,#d6ff00 227px,#ff0 234px,#fe0 237px,#ff0 241px,#ecff00 245px,#75ff00 250px,#0f0 253px,#00ff92 256px,#00fff8 261px,#0ff 262px,#009bff 278px,#00a6ff 285px,#00c9ff 289px,#0ff 290px,#00ff1a 295px,#0f0 295px,#4fff00 297px,#e6ff00 305px,#ff0 307px,#ffb100 314px,#ff0 317px,#7aff00 322px,#0f0 325px,#00ffa0 329px,#0ff 332px,#00efff 333px,#00adff 339px,#00c2ff 353px,#0ff 365px,#0fd 371px,#00ff8d 381px,#00ffa0 389px,#00ffef 400px,#00fff0 416px,#00ff64 421px,#0f0 425px,#57ff00 428px,#93ff00 439px,#6aff00 447px,#0f0 452px,#00ff27 454px,#00ffa6 458px,#0ff 460px,#0009ff 466px,#00f 466px,#4600ff 470px,#d100ff 473px,#f0f 473px,#ff003e 475px,#f00 476px,#f00 481px,#ff0015 482px,#f0f 484px,#f400ff 484px,#1a00ff 487px,#00f 488px,#001bff 490px,#0ff 493px,#00ff2f 495px,#0f0 496px,#8bff00 497px,#ff0 499px,#f40 502px,#ff3800 505px,#ffb000 507px,#fffa00 508px,#ff0 508px,#9aff00 512px,#83ff00 524px,#94ff00 530px)"></i><i style="left:282.4px;width:10.5px;background:linear-gradient(#eaff00 0px,#ff0 6px,#ffca00 20px,#ff9700 35px,#ff0 68px,#f7ff00 71px,#ff0 76px,#ffe400 92px,#ff0 99px,#e6ff00 106px,#56ff00 127px,#0f0 130px,#00ff60 134px,#00ffea 138px,#00fff2 149px,#00ffd7 154px,#0f0 160px,#46ff00 162px,#9aff00 166px,#baff00 179px,#7eff00 206px,#2eff00 214px,#84ff00 221px,#deff00 227px,#ff0 234px,#ffea00 238px,#ff0 241px,#e9ff00 245px,#67ff00 250px,#0f0 252px,#00ff92 255px,#00fff0 258px,#0ff 261px,#0095ff 278px,#00a9ff 285px,#00d0ff 289px,#0ff 290px,#0f0 295px,#78ff00 297px,#f0ff00 305px,#ff0 307px,#ffda00 312px,#ffc200 314px,#ff0 317px,#b0ff00 320px,#07ff00 324px,#0f0 324px,#00fffa 330px,#0ff 330px,#00b1ff 333px,#0082ff 338px,#0ff 365px,#00ffc7 377px,#00ffb7 388px,#00fffa 404px,#00ffdf 417px,#0f0 424px,#31ff00 425px,#6eff00 428px,#8dff00 440px,#65ff00 447px,#03ff00 453px,#0f0 453px,#00ff6b 457px,#0ff 460px,#0020ff 465px,#00f 466px,#5100ff 470px,#f000ff 473px,#f0f 473px,#f01 475px,#f00 482px,#ff00f9 484px,#f0f 484px,#2400ff 487px,#00f 489px,#0017ff 490px,#0ff 492px,#0f0 495px,#aeff00 497px,#ff0 499px,#ffb800 500px,#ff1b00 502px,#ff1500 505px,#ff4b00 506px,#ff0 508px,#ff0 508px,#7fff00 512px,#5cff00 522px,#79ff00 530px)"></i><i style="left:292.6px;width:10.6px;background:linear-gradient(#e7ff00 0px,#ff0 8px,#ffe200 17px,#ff9200 33px,#fffb00 63px,#fff000 77px,#ffe600 95px,#ff0 100px,#daff00 108px,#60ff00 127px,#0f0 131px,#00ff41 134px,#00ffbc 138px,#00ffc2 150px,#0f9 155px,#0f0 160px,#65ff00 163px,#98ff00 166px,#b9ff00 180px,#7eff00 206px,#2eff00 214px,#84ff00 221px,#deff00 227px,#ff0 234px,#ffe900 238px,#ff0 241px,#e7ff00 245px,#65ff00 250px,#0f0 252px,#00ff92 255px,#00fff1 258px,#0ff 260px,#0097ff 278px,#00a8ff 285px,#00ceff 289px,#0ff 290px,#0f0 295px,#72ff00 297px,#f1ff00 305px,#ff0 307px,#ffd600 312px,#ffbe00 314px,#ff0 317px,#97ff00 321px,#0f0 324px,#00fffd 330px,#0ff 330px,#00b2ff 333px,#0082ff 338px,#0ff 366px,#00ffa7 386px,#00fff7 406px,#00ffd9 417px,#0f0 423px,#3f0 425px,#6eff00 428px,#8eff00 440px,#6f0 447px,#0f0 453px,#00ff12 454px,#0f6 457px,#0ff 460px,#0020ff 465px,#00f 466px,#5200ff 470px,#f000ff 473px,#f0f 473px,#f01 475px,#f00 482px,#ff00f9 484px,#f0f 484px,#2600ff 487px,#00f 489px,#0017ff 490px,#0ff 492px,#0f0 495px,#abff00 497px,#ff0 498px,#ff6e00 501px,#ff1b00 502px,#ff1500 505px,#ff4b00 506px,#ff0 508px,#ff0 508px,#7cff00 512px,#56ff00 522px,#76ff00 530px)"></i><i style="left:302.9px;width:10.5px;background:linear-gradient(#e4ff00 0px,#ff0 10px,#fff200 15px,#ff8f00 32px,#ffd700 55px,#ff0 69px,#fcff00 70px,#ff0 72px,#fd0 92px,#ff0 101px,#e6ff00 107px,#6bff00 127px,#0f0 132px,#00ff3f 135px,#00ff8d 138px,#00ff93 151px,#00ff75 155px,#0f0 159px,#7fff00 164px,#baff00 178px,#7eff00 206px,#2eff00 214px,#84ff00 221px,#df0 227px,#ff0 235px,#ffed00 239px,#ff0 241px,#e4ff00 245px,#8eff00 249px,#0f0 252px,#00ff93 255px,#00fff3 258px,#0ff 260px,#09f 278px,#00a7ff 285px,#0cf 289px,#0ff 290px,#0f0 295px,#6cff00 297px,#f1ff00 305px,#ff0 307px,#ffd200 312px,#fb0 314px,#ff0 317px,#7aff00 322px,#0f0 325px,#0ff 330px,#00feff 330px,#00a3ff 334px,#0083ff 339px,#0ff 366px,#00ffa3 386px,#00fff1 410px,#00ffd4 417px,#0f0 423px,#1aff00 424px,#6eff00 428px,#8eff00 440px,#68ff00 447px,#0f0 453px,#00ff0e 454px,#00ff61 457px,#0ff 460px,#0021ff 465px,#00f 466px,#5300ff 470px,#f000ff 473px,#f0f 473px,#f01 475px,#f00 482px,#ff00f8 484px,#f0f 484px,#2800ff 487px,#00f 489px,#0017ff 490px,#0ff 492px,#0f0 495px,#a8ff00 497px,#ff0 498px,#ff6e00 501px,#ff1b00 502px,#ff1500 505px,#ff4b00 506px,#ff0 508px,#feff00 508px,#79ff00 512px,#51ff00 522px,#72ff00 530px)"></i><i style="left:313.1px;width:10.6px;background:linear-gradient(#e2ff00 0px,#feff00 13px,#ff0 13px,#ff8c00 32px,#ffcd00 53px,#ff0 69px,#feff00 69px,#ff0 70px,#ffd800 91px,#ff0 101px,#e3ff00 108px,#65ff00 128px,#0f0 133px,#00ff35 136px,#00ff62 139px,#00ff63 153px,#00ff20 157px,#0f0 158px,#8eff00 165px,#b8ff00 180px,#7eff00 206px,#2eff00 214px,#84ff00 221px,#df0 227px,#ff0 235px,#ffec00 239px,#ff0 241px,#e2ff00 245px,#8fff00 249px,#0f0 252px,#00ff93 255px,#00fff4 258px,#0ff 260px,#09f 279px,#00afff 286px,#00c9ff 289px,#0ff 290px,#0f0 295px,#65ff00 297px,#ceff00 302px,#ff0 307px,#ffce00 312px,#ffb700 314px,#ff0 317px,#82ff00 322px,#0f0 325px,#0ff 330px,#00fbff 330px,#0095ff 335px,#008bff 341px,#0ff 366px,#00ff9f 386px,#00ffef 412px,#00ffcf 417px,#0f0 423px,#1dff00 424px,#6eff00 428px,#8cff00 441px,#6aff00 447px,#0f0 453px,#00ff0a 454px,#00ff5c 457px,#0ff 460px,#0021ff 465px,#00f 466px,#5400ff 470px,#f000ff 473px,#f0f 473px,#f01 475px,#f00 482px,#ff00f8 484px,#f0f 484px,#2b00ff 487px,#00f 489px,#0017ff 490px,#0ff 492px,#0f0 495px,#a6ff00 497px,#ff0 499px,#ff6e00 501px,#ff1b00 502px,#ff1500 505px,#ff4b00 506px,#ff0 508px,#feff00 508px,#7f0 512px,#4cff00 522px,#6fff00 530px)"></i><i style="left:323.4px;width:10.6px;background:linear-gradient(#dfff00 0px,#ef0 11px,#ff0 14px,#f80 32px,#ffc900 52px,#fffe00 69px,#ffd400 91px,#ff0 102px,#e0ff00 109px,#72ff00 128px,#0f0 136px,#0f3 139px,#00ff39 154px,#0f0 157px,#90ff00 166px,#b8ff00 180px,#7eff00 206px,#2eff00 214px,#84ff00 221px,#dcff00 227px,#ff0 235px,#ffeb00 239px,#ff0 241px,#e0ff00 245px,#8eff00 249px,#0f0 252px,#00ff94 255px,#00fff6 258px,#0ff 260px,#009bff 279px,#00aeff 286px,#00c7ff 289px,#0ff 290px,#0f0 295px,#81ff00 298px,#f3ff00 305px,#ff0 307px,#ffde00 311px,#ffb400 314px,#ff0 317px,#8aff00 322px,#0f0 325px,#0ff 330px,#00f8ff 330px,#008aff 336px,#009bff 344px,#0ff 365px,#00ff9b 386px,#00ffe8 413px,#00ffc9 417px,#0f0 423px,#08ff00 423px,#6eff00 428px,#8dff00 441px,#5fff00 448px,#0f0 453px,#00ff1c 455px,#00ff8a 458px,#0ff 460px,#0021ff 465px,#00f 466px,#50f 470px,#f000ff 473px,#f0f 473px,#f01 475px,#f00 482px,#ff00f8 484px,#f0f 484px,#2d00ff 487px,#00f 489px,#0016ff 490px,#0ff 493px,#0f0 495px,#43ff00 496px,#a3ff00 497px,#ff0 499px,#ff6e00 501px,#ff1b00 502px,#ff1500 505px,#ff4b00 506px,#ff0 508px,#feff00 508px,#74ff00 512px,#46ff00 522px,#6cff00 530px)"></i><i style="left:333.7px;width:10.5px;background:linear-gradient(#dcff00 0px,#e9ff00 11px,#ff0 14px,#ff8600 31px,#ffb300 48px,#fffd00 68px,#ffce00 90px,#ff0 102px,#e5ff00 109px,#74ff00 129px,#0f0 139px,#00ff05 139px,#00ff0a 155px,#0f0 156px,#92ff00 167px,#b8ff00 181px,#7eff00 206px,#2eff00 214px,#84ff00 221px,#dcff00 227px,#ff0 233px,#ffe600 238px,#ff0 241px,#deff00 245px,#8dff00 249px,#0f0 252px,#00ffbd 256px,#00fff7 258px,#0ff 260px,#009aff 280px,#00bdff 288px,#00e6ff 290px,#0ff 290px,#0f0 296px,#7fff00 298px,#faff00 306px,#ff0 307px,#ffda00 311px,#ffb100 314px,#ff0 317px,#92ff00 322px,#0f0 325px,#0ff 330px,#00f6ff 330px,#0089ff 336px,#0097ff 343px,#0ff 364px,#00ff97 386px,#00ffe5 413px,#00ffc4 417px,#0f0 423px,#0cff00 423px,#6eff00 428px,#8dff00 441px,#61ff00 448px,#0f0 454px,#00ff18 455px,#00ff86 458px,#0ff 460px,#02f 465px,#00f 466px,#5600ff 470px,#f000ff 473px,#f0f 473px,#f01 475px,#f00 482px,#ff00f7 484px,#f0f 484px,#3000ff 487px,#00f 489px,#0016ff 490px,#0ff 493px,#00ff26 495px,#0f0 495px,#a1ff00 497px,#ff0 499px,#ff6e00 501px,#ff1b00 502px,#ff1500 505px,#ff4b00 506px,#ff0 508px,#feff00 508px,#71ff00 512px,#3eff00 521px,#68ff00 530px)"></i><i style="left:343.9px;width:10.6px;background:linear-gradient(#daff00 0px,#dcff00 10px,#ff0 15px,#ff8300 31px,#ffac00 47px,#fffe00 67px,#ffc900 89px,#ff0 103px,#e4ff00 110px,#63ff00 133px,#24ff00 141px,#2f0 156px,#94ff00 168px,#b8ff00 183px,#7eff00 206px,#2eff00 214px,#84ff00 221px,#dbff00 227px,#ff0 233px,#ffe500 238px,#ff0 241px,#dcff00 245px,#8bff00 249px,#0f0 252px,#00ffbe 256px,#00fff9 258px,#0ff 259px,#09f 281px,#00c2ff 289px,#0ff 290px,#0f0 295px,#1eff00 296px,#9eff00 299px,#ff0 307px,#fffd00 307px,#ffd700 311px,#fa0 313px,#ff0 317px,#9aff00 322px,#0f0 325px,#0ff 330px,#00f4ff 330px,#0089ff 336px,#0092ff 342px,#0ff 364px,#00ff93 386px,#00ffd9 407px,#00ffdc 414px,#00ffbf 417px,#0f0 423px,#10ff00 423px,#6eff00 428px,#8eff00 441px,#62ff00 448px,#0f0 454px,#00ff13 455px,#00ff81 458px,#0ff 461px,#02f 465px,#00f 466px,#5700ff 470px,#f100ff 473px,#f0f 473px,#f01 475px,#f00 482px,#ff00f7 484px,#f0f 484px,#3200ff 487px,#00f 489px,#0016ff 490px,#0ff 493px,#00ff2a 495px,#0f0 495px,#9eff00 497px,#ff0 499px,#ff6e00 501px,#ff1b00 502px,#ff1500 505px,#ff4b00 506px,#ff0 508px,#feff00 508px,#6eff00 512px,#39ff00 521px,#65ff00 530px)"></i><i style="left:354.2px;width:10.5px;background:linear-gradient(#d7ff00 0px,#d7ff00 10px,#ff0 15px,#ff8000 31px,#ffa500 46px,#ff0 66px,#ff0 66px,#ff0 66px,#ffc400 88px,#ff0 104px,#e3ff00 111px,#48ff00 146px,#4fff00 160px,#a6ff00 172px,#acff00 194px,#68ff00 208px,#2eff00 214px,#84ff00 221px,#d2ff00 226px,#ff0 234px,#ffe400 238px,#ff0 241px,#dbff00 245px,#89ff00 249px,#0f0 252px,#00ffe8 257px,#0ff 261px,#00a9ff 275px,#00a3ff 285px,#00c0ff 289px,#0ff 290px,#00ff1d 295px,#0f0 296px,#9eff00 299px,#ff0 307px,#fffc00 307px,#ffd400 311px,#ffa400 313px,#ff0 317px,#a2ff00 322px,#0f0 325px,#0fa 328px,#0ff 330px,#00f2ff 330px,#0089ff 336px,#008cff 341px,#0ff 364px,#00ff8e 386px,#00ffae 400px,#00ffe0 413px,#00ffb9 417px,#0f0 422px,#14ff00 423px,#6eff00 428px,#8eff00 441px,#64ff00 448px,#0f0 454px,#00ff24 456px,#0ff 461px,#00f 466px,#0100ff 466px,#5800ff 470px,#f100ff 473px,#f0f 473px,#f01 475px,#f00 482px,#ff00f6 484px,#f0f 484px,#3400ff 487px,#00f 489px,#0016ff 490px,#0ff 493px,#00ff2e 495px,#0f0 495px,#9bff00 497px,#ff0 499px,#ff6e00 501px,#ff1b00 502px,#ff1500 505px,#ff4b00 506px,#ff0 508px,#feff00 508px,#6cff00 512px,#34ff00 521px,#61ff00 530px)"></i><i style="left:364.4px;width:10.6px;background:linear-gradient(#d4ff00 0px,#c9ff00 9px,#ff0 15px,#ff7e00 30px,#ff9600 44px,#fffd00 65px,#ffc000 88px,#ff0 104px,#df0 113px,#59ff00 160px,#b6ff00 179px,#8fff00 202px,#2eff00 214px,#84ff00 221px,#d2ff00 226px,#ff0 233px,#ffe300 238px,#ff0 241px,#daff00 245px,#aeff00 248px,#0f0 252px,#00ffeb 257px,#0ff 260px,#00abff 275px,#00a2ff 285px,#00bcff 289px,#0ff 290px,#00ff23 295px,#0f0 296px,#9eff00 299px,#ff0 307px,#fffb00 307px,#ffd000 311px,#ff9d00 313px,#ff0 318px,#e3ff00 319px,#af0 322px,#0f0 325px,#00ff69 327px,#00ffed 329px,#0ff 330px,#0090ff 335px,#0085ff 340px,#0ff 363px,#00ff8c 385px,#00ff94 396px,#00ffe6 412px,#00ffb4 417px,#0f0 422px,#18ff00 423px,#6eff00 428px,#8fff00 441px,#6f0 448px,#0f0 454px,#00ff1f 456px,#0ff 461px,#00f 466px,#0100ff 466px,#5900ff 470px,#f100ff 473px,#f0f 473px,#f01 475px,#f00 482px,#ff00f6 484px,#f0f 484px,#3700ff 487px,#00f 489px,#0016ff 490px,#0ff 493px,#00ff32 495px,#0f0 495px,#9f0 497px,#ff0 499px,#ff6e00 501px,#ff1b00 502px,#ff1500 505px,#ff4b00 506px,#ff0 508px,#feff00 508px,#69ff00 512px,#2eff00 521px,#5eff00 530px)"></i><i style="left:374.7px;width:10.6px;background:linear-gradient(#cfff00 0px,#d1ff00 10px,#ff0 15px,#ff7d00 30px,#ff9200 43px,#fffb00 65px,#ffc200 86px,#ff0 103px,#d7ff00 115px,#5fff00 160px,#b7ff00 177px,#7bff00 205px,#28ff00 215px,#7cff00 221px,#d7ff00 227px,#ff0 234px,#ffe500 238px,#ff0 241px,#d6ff00 245px,#a7ff00 248px,#0f0 252px,#00ffc9 256px,#00fffc 258px,#0ff 259px,#0097ff 283px,#00bdff 289px,#0ff 290px,#0f0 295px,#56ff00 297px,#a0ff00 299px,#ff0 307px,#fffb00 307px,#ffca00 311px,#ff9800 313px,#ff0 317px,#f9ff00 317px,#c0ff00 321px,#0f0 325px,#00ff40 326px,#0ff 329px,#00fcff 329px,#0087ff 336px,#0086ff 340px,#0ff 362px,#00ff76 386px,#00ff8c 398px,#00ffe3 412px,#00ffb4 417px,#0f0 422px,#13ff00 423px,#6bff00 428px,#87ff00 442px,#4dff00 450px,#0f0 454px,#00ff42 457px,#0ff 461px,#0027ff 465px,#00f 466px,#7e00ff 471px,#ec00ff 473px,#f0f 473px,#ff00ab 474px,#ff0020 475px,#f00 477px,#f00 482px,#ff00ef 484px,#f0f 484px,#3700ff 487px,#00f 489px,#001cff 490px,#0ff 493px,#00ff9d 494px,#0f0 496px,#90ff00 497px,#ff0 499px,#f70 501px,#ff2900 502px,#ff1f00 505px,#ff4b00 506px,#fff900 508px,#ff0 508px,#69ff00 512px,#32ff00 521px,#60ff00 530px)"></i><i style="left:385.0px;width:10.5px;background:linear-gradient(#caff00 0px,#d2ff00 10px,#ff0 15px,#ff7b00 31px,#ff9800 44px,#fff800 64px,#ffc400 84px,#ff0 105px,#64ff00 160px,#bf0 176px,#6eff00 206px,#1aff00 215px,#5eff00 220px,#caff00 226px,#ff0 234px,#ffe700 238px,#ff0 240px,#d2ff00 245px,#9fff00 248px,#0f0 251px,#00ffa9 255px,#00fff5 257px,#0ff 259px,#0098ff 283px,#00c0ff 289px,#0ff 290px,#0f0 295px,#93ff00 298px,#feff00 306px,#ff0 306px,#fd0 310px,#ffa400 313px,#ff0 317px,#f3ff00 317px,#b6ff00 321px,#0f0 324px,#00ff5a 326px,#0ff 329px,#00f3ff 329px,#0085ff 336px,#008eff 341px,#0ff 360px,#00ffb0 373px,#00ff62 386px,#00ff7c 398px,#00ffdf 412px,#00ffb5 417px,#0f0 423px,#0eff00 423px,#69ff00 428px,#82ff00 442px,#3fff00 451px,#0f0 454px,#00ff42 457px,#0ff 461px,#0029ff 465px,#00f 467px,#7500ff 471px,#e700ff 473px,#f0f 473px,#f0b 474px,#ff002f 475px,#f00 476px,#f00 482px,#ff0059 483px,#ff00e9 484px,#f0f 484px,#3600ff 487px,#00f 489px,#0021ff 490px,#0ff 493px,#00ff9e 494px,#0f0 496px,#87ff00 497px,#ff0 499px,#f30 502px,#ff1b00 504px,#ff4d00 506px,#fff400 508px,#ff0 508px,#6dff00 512px,#35ff00 521px,#63ff00 530px)"></i><i style="left:395.2px;width:10.6px;background:linear-gradient(#c5ff00 0px,#d2ff00 10px,#ff0 15px,#ff7a00 31px,#ff9300 43px,#fff600 63px,#ffc400 83px,#ff0 107px,#d5ff00 124px,#6f0 159px,#c1ff00 175px,#51ff00 208px,#08ff00 216px,#c7ff00 226px,#ff0 235px,#ffe900 238px,#ff0 240px,#dfff00 244px,#96ff00 248px,#0f0 251px,#00ff8c 254px,#00fff8 257px,#0ff 259px,#0098ff 283px,#00c7ff 289px,#0ff 290px,#0f0 295px,#39ff00 296px,#95ff00 298px,#feff00 306px,#ff0 306px,#ffd700 310px,#ffa600 312px,#ff0 316px,#a2ff00 321px,#0f0 324px,#00ffb3 327px,#0ff 329px,#00eaff 329px,#008aff 335px,#08f 340px,#0ff 360px,#00ffbd 371px,#00ff61 381px,#00ff59 395px,#00ffde 411px,#00ffb5 417px,#0f0 423px,#20ff00 424px,#6f0 428px,#7cff00 442px,#3cff00 451px,#0f0 454px,#0f2 456px,#0ff 461px,#0ef 461px,#002bff 465px,#00f 467px,#6c00ff 471px,#f0f 473px,#f0c 474px,#ff003f 475px,#f00 476px,#f00 482px,#ff0043 483px,#ff00de 484px,#f0f 484px,#3a00ff 487px,#00f 489px,#0024ff 490px,#0ff 493px,#00ffa1 494px,#0f0 496px,#7fff00 497px,#ff0 499px,#ff3b00 502px,#ff1d00 504px,#ff4e00 506px,#fff000 508px,#ff0 508px,#70ff00 512px,#39ff00 521px,#6f0 530px)"></i><i style="left:405.5px;width:10.5px;background:linear-gradient(#bfff00 0px,#d3ff00 10px,#ff0 15px,#ff7a00 31px,#ff9400 43px,#fff400 62px,#ffc300 82px,#ff0 108px,#e0ff00 122px,#c9ff00 131px,#7f0 152px,#76ff00 161px,#c5ff00 175px,#49ff00 208px,#0f0 215px,#00ff0a 216px,#0f0 216px,#c3ff00 226px,#ff0 234px,#ffe500 237px,#ff0 240px,#dcff00 244px,#8cff00 248px,#0f0 251px,#00ff95 254px,#00fff8 257px,#0ff 259px,#09f 283px,#0cf 289px,#0ff 290px,#0f0 295px,#0cff00 295px,#81ff00 297px,#f8ff00 305px,#ff0 306px,#ffd100 310px,#ffa100 312px,#ff0 316px,#e7ff00 317px,#b9ff00 320px,#0f0 323px,#00ff8b 326px,#0ff 328px,#00f9ff 328px,#08f 335px,#08f 340px,#0ff 360px,#00ffc3 370px,#00ff5a 379px,#00ff3e 392px,#00ff86 402px,#00ffdb 411px,#00ffb5 417px,#0f0 423px,#1cff00 424px,#63ff00 428px,#75ff00 443px,#2dff00 452px,#0f0 454px,#0f2 456px,#0ff 461px,#00f1ff 461px,#0048ff 464px,#00f 467px,#6500ff 471px,#f0f 473px,#ff00de 474px,#ff004f 475px,#f00 476px,#f00 482px,#ff002d 483px,#ff00ca 484px,#f0f 485px,#3d00ff 487px,#00f 489px,#0025ff 490px,#00faff 493px,#0ff 493px,#0f0 496px,#79ff00 497px,#ff0 499px,#f40 502px,#ff2000 503px,#ff2900 505px,#ff5300 506px,#ff0 508px,#d8ff00 509px,#71ff00 512px,#3cff00 521px,#6aff00 530px)"></i><i style="left:415.7px;width:10.6px;background:linear-gradient(#baff00 0px,#d3ff00 10px,#ff0 15px,#ff7900 31px,#ff9400 43px,#fff400 61px,#ffc100 81px,#fff900 106px,#ff0 110px,#eaff00 121px,#e2ff00 129px,#86ff00 147px,#7bff00 161px,#cdff00 174px,#41ff00 208px,#0f0 214px,#00ff1c 216px,#0f0 217px,#bfff00 226px,#ff0 234px,#ffe700 237px,#ff0 240px,#d8ff00 244px,#81ff00 248px,#0f0 251px,#00ff9f 254px,#00fff9 257px,#0ff 258px,#0098ff 283px,#00d2ff 289px,#0ff 290px,#0f0 295px,#1aff00 295px,#89ff00 297px,#f9ff00 305px,#ff0 306px,#ffe300 309px,#fa0 312px,#ff0 316px,#e0ff00 317px,#aeff00 320px,#0f0 323px,#0ff 328px,#00ecff 328px,#0087ff 335px,#0090ff 341px,#0ff 359px,#00ffbc 370px,#00ff4f 378px,#00ff28 390px,#00ff58 399px,#00ffd8 410px,#00ffb5 417px,#0f0 423px,#2fff00 425px,#60ff00 428px,#6fff00 443px,#2bff00 452px,#0f0 454px,#0f2 456px,#0ff 461px,#00f5ff 461px,#0043ff 464px,#00f 467px,#5e00ff 471px,#f0f 474px,#ff00ea 474px,#ff005f 475px,#f00 476px,#f00 482px,#ff0017 483px,#ff00b6 484px,#f0f 485px,#8c00ff 486px,#3e00ff 487px,#00f 489px,#0024ff 490px,#00f6ff 493px,#0ff 493px,#0f0 496px,#2cff00 496px,#ff0 499px,#ff4d00 502px,#ff2300 503px,#ff2600 505px,#ff0 508px,#d8ff00 509px,#71ff00 512px,#3fff00 521px,#6dff00 530px)"></i><i style="left:426.0px;width:10.5px;background:linear-gradient(#b5ff00 0px,#d4ff00 10px,#ff0 15px,#ff7800 31px,#ff9500 43px,#fff400 61px,#ffc100 81px,#fff800 101px,#ff0 105px,#f0ff00 115px,#f6ff00 128px,#8fff00 145px,#81ff00 161px,#d3ff00 174px,#61ff00 199px,#30ff00 209px,#0f0 213px,#00ff2e 216px,#0f0 218px,#bf0 226px,#ff0 234px,#ffe800 237px,#ff0 240px,#e7ff00 243px,#9fff00 247px,#0f0 250px,#00ff86 253px,#00fffa 257px,#0ff 258px,#0098ff 283px,#0bf 288px,#0ff 289px,#00ff56 293px,#0f0 294px,#67ff00 296px,#beff00 300px,#ff0 306px,#ff0 306px,#fd0 309px,#ffae00 311px,#ff0 315px,#9bff00 320px,#0f0 323px,#00fff9 327px,#0ff 327px,#008bff 334px,#0083ff 339px,#0ff 360px,#00ffc7 369px,#0f4 377px,#00ff15 389px,#00ff3d 398px,#00ffd6 410px,#00ffb6 417px,#0f0 424px,#43ff00 426px,#65ff00 431px,#62ff00 446px,#01ff00 455px,#0f0 455px,#00ffc9 460px,#0ff 461px,#003fff 464px,#00f 467px,#5800ff 471px,#f0f 474px,#ff00f0 474px,#f00 476px,#f00 483px,#ff00a0 484px,#f0f 485px,#e300ff 485px,#4100ff 487px,#00f 489px,#0021ff 490px,#0ff 493px,#00ffb1 494px,#0f0 496px,#2cff00 496px,#ff0 499px,#ff2600 503px,#ff2500 505px,#ff0 508px,#d8ff00 509px,#70ff00 512px,#42ff00 521px,#71ff00 530px)"></i><i style="left:436.2px;width:10.6px;background:linear-gradient(#afff00 0px,#deff00 11px,#ff0 15px,#f70 31px,#ff8f00 42px,#fff500 60px,#ffbd00 80px,#fffe00 99px,#ff0 110px,#ff0 113px,#ff0 113px,#fff900 122px,#fffc00 128px,#ff0 128px,#96ff00 144px,#86ff00 161px,#dfff00 173px,#6f0 194px,#32ff00 208px,#0f0 212px,#00ff40 216px,#0f0 219px,#b8ff00 226px,#ff0 234px,#ffea00 237px,#ff0 240px,#e4ff00 243px,#9aff00 247px,#0f0 250px,#00ff90 253px,#00fff1 256px,#0ff 259px,#0096ff 283px,#00beff 288px,#0ff 289px,#00ff4a 293px,#0f0 294px,#78ff00 296px,#f3ff00 304px,#ff0 305px,#ffd800 309px,#ffa900 311px,#ff0 315px,#c2ff00 318px,#87ff00 320px,#0f0 322px,#0ff 327px,#00efff 327px,#008aff 334px,#0084ff 339px,#0ff 359px,#00ffc1 369px,#0f3 377px,#00ff03 389px,#00ff1f 397px,#00ffd4 410px,#00ffb6 417px,#0f0 424px,#58ff00 427px,#64ff00 443px,#32ff00 451px,#02ff00 455px,#0f0 455px,#0ff 461px,#00feff 461px,#003dff 464px,#00f 467px,#3900ff 470px,#7800ff 472px,#f0f 474px,#ff00f7 474px,#f00 476px,#f00 483px,#f0f 485px,#ea00ff 485px,#4700ff 487px,#00f 489px,#001dff 490px,#0ff 493px,#00ffb9 494px,#0f0 496px,#29ff00 496px,#ff0 500px,#ff2a00 503px,#ff2800 505px,#fff800 508px,#ff0 508px,#6dff00 512px,#45ff00 521px,#75ff00 530px)"></i><i style="left:446.5px;width:10.6px;background:linear-gradient(#af0 0px,#deff00 11px,#ff0 15px,#ff7600 31px,#ff8700 41px,#fff500 60px,#ffb900 79px,#ff0 95px,#f8ff00 97px,#ff0 104px,#fff600 112px,#fff900 119px,#ffe600 127px,#ff0 130px,#a0ff00 142px,#8bff00 161px,#e5ff00 173px,#68ff00 191px,#2aff00 208px,#0f0 211px,#00ff26 214px,#00ff52 216px,#0f0 219px,#a7ff00 225px,#ff0 234px,#fe0 236px,#ff0 239px,#e1ff00 243px,#94ff00 247px,#0f0 250px,#00ff9a 253px,#00fff7 256px,#0ff 258px,#0095ff 283px,#00beff 288px,#0ff 289px,#00ff3d 293px,#0f0 294px,#82ff00 296px,#f4ff00 304px,#ff0 305px,#ffd200 309px,#ffb100 311px,#ff0 315px,#cbff00 317px,#a9ff00 319px,#0f0 322px,#0ff 327px,#00e5ff 327px,#08f 334px,#0084ff 339px,#0ff 360px,#00ffd1 368px,#00ff28 376px,#0f0 384px,#1f0 388px,#0f0 393px,#00ff0e 397px,#00ffd4 409px,#00ffb7 417px,#0f0 424px,#5f0 427px,#5cff00 444px,#24ff00 452px,#0f0 454px,#00ff1e 456px,#00fffb 461px,#0ff 461px,#003dff 464px,#00f 467px,#3400ff 470px,#6b00ff 472px,#f0f 474px,#ff00fe 474px,#ff0093 475px,#f00 476px,#f00 483px,#ff0074 484px,#f0f 485px,#f200ff 485px,#4d00ff 487px,#00f 489px,#0016ff 490px,#0ff 493px,#00ffc2 494px,#0f0 496px,#25ff00 496px,#e3ff00 499px,#ff0 499px,#ff2a00 503px,#ff2a00 505px,#ff5b00 506px,#ff0 508px,#feff00 508px,#69ff00 512px,#48ff00 521px,#79ff00 530px)"></i><i style="left:456.8px;width:10.5px;background:linear-gradient(#b3ff00 0px,#e7ff00 11px,#ff0 14px,#ff9000 30px,#ffb000 41px,#ff0 51px,#f4ff00 52px,#ff0 56px,#ffba00 78px,#fff800 97px,#fffe00 111px,#ffe400 124px,#ff0 128px,#adff00 140px,#8fff00 158px,#d9ff00 170px,#67ff00 192px,#14ff00 204px,#0f0 206px,#00ff45 212px,#00ff69 214px,#0f0 218px,#b3ff00 225px,#ff0 233px,#ffef00 235px,#ff0 238px,#e4ff00 242px,#8cff00 246px,#0f0 249px,#00ff82 251px,#00fffc 255px,#0ff 256px,#009eff 282px,#00cdff 287px,#0ff 288px,#00ff2a 292px,#0f0 293px,#8f0 295px,#f5ff00 303px,#ff0 304px,#ffd100 308px,#ffb500 310px,#ff0 314px,#a5ff00 318px,#0f0 321px,#0ff 326px,#00e6ff 326px,#008aff 333px,#008dff 339px,#0ff 358px,#00ffcb 366px,#00ff1d 375px,#0f0 382px,#14ff00 387px,#0f0 392px,#00ff14 396px,#00ffcf 408px,#00ffaf 416px,#0f0 423px,#47ff00 426px,#5eff00 441px,#37ff00 449px,#0f0 453px,#00ff09 454px,#00ffdc 459px,#0ff 460px,#0029ff 463px,#00f 466px,#2400ff 468px,#8c00ff 471px,#f0f 473px,#f0d 473px,#ff0056 474px,#f00 475px,#f00 481px,#ff003e 482px,#ff00d8 483px,#f0f 483px,#6e00ff 485px,#2300ff 486px,#00f 487px,#0035ff 489px,#0ff 492px,#00fffa 492px,#0f0 494px,#43ff00 495px,#ff0 498px,#ff5900 501px,#ff4900 504px,#ff0 507px,#f2ff00 507px,#7fff00 511px,#67ff00 520px,#92ff00 530px)"></i><i style="left:467.0px;width:10.6px;background:linear-gradient(#bcff00 0px,#fdff00 13px,#ff0 13px,#ffa800 30px,#ffe900 43px,#ff0 45px,#c3ff00 50px,#ff0 60px,#ffb900 72px,#ffef00 91px,#fff400 114px,#ffec00 122px,#ff0 126px,#a3ff00 143px,#98ff00 156px,#ceff00 167px,#56ff00 194px,#0f0 201px,#00ff2f 205px,#00ff80 212px,#0f0 217px,#42ff00 220px,#c0ff00 225px,#ff0 233px,#ffeb00 235px,#ff0 238px,#e8ff00 241px,#85ff00 245px,#0f0 247px,#00ff8c 250px,#0ff 254px,#00fdff 254px,#00a8ff 281px,#0df 286px,#0ff 287px,#00ff17 291px,#0f0 291px,#8eff00 294px,#f6ff00 302px,#ff0 303px,#ffd100 307px,#ffb800 309px,#ff0 312px,#a1ff00 317px,#0f0 320px,#0ff 325px,#00e7ff 325px,#008bff 332px,#009aff 340px,#0ff 357px,#00ffd9 363px,#00ff12 374px,#0f0 379px,#18ff00 386px,#0f0 390px,#00ff19 395px,#00ffca 407px,#00ffbf 414px,#0f0 422px,#3cff00 425px,#5dff00 439px,#29ff00 449px,#0f0 451px,#00ff1a 453px,#00fffe 458px,#0ff 458px,#0042ff 461px,#00f 464px,#3100ff 467px,#6800ff 469px,#f800ff 471px,#f0f 471px,#ff0026 473px,#f00 474px,#ff0012 480px,#f0f 482px,#da00ff 482px,#3e00ff 484px,#00f 486px,#0015ff 487px,#00d2ff 490px,#0ff 490px,#00ff70 492px,#0f0 493px,#4dff00 494px,#ff0 497px,#ff5d00 500px,#ff5900 502px,#fff800 505px,#ff0 505px,#9aff00 509px,#8f0 520px,#a2ff00 530px)"></i><i style="left:477.3px;width:10.5px;background:linear-gradient(#c5ff00 0px,#ff0 12px,#fff000 15px,#ffc200 31px,#ff0 39px,#e2ff00 43px,#89ff00 48px,#f2ff00 56px,#ff0 59px,#ffb300 74px,#fe0 100px,#fff400 111px,#ffea00 119px,#ff0 124px,#91ff00 150px,#c3ff00 164px,#7dff00 188px,#1eff00 194px,#0f0 196px,#00ff4a 201px,#00ff90 211px,#00ff0b 217px,#0f0 217px,#b0ff00 223px,#ff0 231px,#fff000 233px,#ff0 236px,#ebff00 240px,#7eff00 244px,#0f0 246px,#00ff96 249px,#0ff 253px,#00f0ff 254px,#00b2ff 280px,#00edff 285px,#0ff 285px,#00ff04 290px,#0f0 290px,#94ff00 293px,#f7ff00 301px,#ff0 302px,#ffd000 306px,#ffbc00 308px,#ff0 311px,#9eff00 316px,#0f0 319px,#0ff 324px,#00e6ff 324px,#008cff 331px,#00a8ff 341px,#0ff 354px,#00ffcf 362px,#00ff1c 371px,#0f0 377px,#1fff00 383px,#0f0 389px,#00ff1e 394px,#00ffc6 405px,#00ffb9 413px,#0f0 422px,#3f0 424px,#5bff00 438px,#25ff00 448px,#0f0 450px,#00ff2a 452px,#0ff 456px,#00e0ff 457px,#002bff 460px,#00f 463px,#2100ff 465px,#8400ff 468px,#f0f 470px,#ff00e5 470px,#f00 472px,#f00 478px,#ff00fa 480px,#f0f 480px,#1900ff 483px,#00f 484px,#002bff 486px,#00eaff 489px,#0ff 489px,#0f0 492px,#17ff00 492px,#ff0 496px,#ffef00 496px,#f80 498px,#ff7600 501px,#ff0 504px,#ff0 504px,#b0ff00 508px,#a7ff00 520px,#b2ff00 530px)"></i><i style="left:487.5px;width:10.6px;background:linear-gradient(#cdff00 0px,#ff0 14px,#ffd900 24px,#ff0 34px,#f6ff00 37px,#bf0 42px,#5dff00 47px,#dfff00 53px,#ff0 59px,#ffb000 72px,#fffe00 106px,#ffe800 116px,#ff0 122px,#9f0 149px,#b4ff00 162px,#9f0 183px,#27ff00 190px,#0f0 192px,#00ff67 197px,#00ffab 209px,#00ff3c 215px,#0f0 217px,#afff00 222px,#ff0 230px,#fff100 232px,#ff0 235px,#efff00 239px,#78ff00 243px,#0f0 245px,#00ff7c 247px,#0ff 252px,#00f2ff 252px,#00bcff 271px,#00ceff 282px,#0ff 284px,#00ffd7 285px,#0f0 289px,#75ff00 291px,#daff00 296px,#ff0 300px,#ffcf00 305px,#ffc000 307px,#ff0 310px,#9cff00 315px,#0f0 318px,#0ff 323px,#00e5ff 323px,#008dff 330px,#00bfff 344px,#0ff 354px,#00ffdb 360px,#00ff46 366px,#0f0 373px,#17ff00 375px,#13ff00 387px,#0f0 389px,#00ff42 395px,#00ffc1 404px,#00ffb4 412px,#0f0 421px,#39ff00 424px,#56ff00 438px,#1fff00 447px,#0f0 448px,#00ff3b 451px,#0ff 455px,#0084ff 457px,#0025ff 459px,#00f 461px,#2e00ff 464px,#6500ff 466px,#f0f 468px,#ff00b4 469px,#f00 471px,#f00 476px,#f05 477px,#f0f 478px,#c300ff 479px,#3000ff 481px,#00f 483px,#0039ff 485px,#00b7ff 487px,#0ff 488px,#0f0 491px,#25ff00 491px,#ebff00 494px,#ff0 494px,#ff8e00 497px,#f80 499px,#ff0 503px,#fdff00 503px,#c8ff00 507px,#c2ff00 530px)"></i><i style="left:497.8px;width:10.6px;background:linear-gradient(#d5ff00 0px,#ff0 15px,#ffec00 22px,#ff0 26px,#d5ff00 36px,#91ff00 41px,#26ff00 45px,#d0ff00 51px,#ff0 57px,#ffba00 66px,#ffb900 79px,#fffe00 103px,#ffe700 113px,#ff0 120px,#f1ff00 124px,#9bff00 148px,#b6ff00 176px,#9aff00 181px,#16ff00 187px,#0f0 188px,#00ff7b 193px,#00ffc5 207px,#00ff6e 213px,#0f0 216px,#c0ff00 222px,#ff0 230px,#ffed00 232px,#ff0 235px,#f2ff00 238px,#72ff00 242px,#0f0 244px,#00ff8b 246px,#0ff 251px,#00e3ff 252px,#00c0ff 270px,#00d6ff 281px,#0ff 282px,#00ffc8 284px,#0f0 288px,#80ff00 290px,#dfff00 295px,#ff0 299px,#ffcf00 304px,#ffc300 306px,#ff0 309px,#9aff00 314px,#0f0 317px,#0ff 321px,#00e2ff 322px,#008dff 330px,#00f1ff 352px,#0ff 354px,#00ffd1 359px,#00ff30 365px,#0f0 371px,#24ff00 375px,#0cff00 387px,#0f0 388px,#00ff89 398px,#00ffbd 404px,#00ffaf 411px,#0f0 421px,#3fff00 424px,#4fff00 439px,#19ff00 446px,#0f0 447px,#00ff25 449px,#0ff 453px,#00a3ff 455px,#002eff 457px,#00f 460px,#1e00ff 462px,#7d00ff 465px,#f0f 467px,#ff008e 468px,#ff0034 469px,#f00 470px,#f00 474px,#ff003d 475px,#f0f 477px,#e300ff 477px,#0e00ff 480px,#00f 481px,#003fff 484px,#0ff 486px,#00ffd3 487px,#0f0 489px,#36ff00 490px,#cf0 492px,#ff0 493px,#ffa200 496px,#ffa300 498px,#ff0 502px,#f4ff00 503px,#dbff00 520px,#d1ff00 530px)"></i><i style="left:508.1px;width:10.5px;background:linear-gradient(#dcff00 0px,#ff0 17px,#fffa00 20px,#ff0 21px,#a2ff00 37px,#46ff00 41px,#0f0 43px,#00ff14 44px,#0f0 45px,#c9ff00 50px,#ff0 56px,#fc0 61px,#ffa700 74px,#ff0 100px,#ffe600 110px,#ff0 118px,#ff0 118px,#e6ff00 129px,#9bff00 146px,#caff00 172px,#b6ff00 177px,#27ff00 183px,#0f0 184px,#00ff70 188px,#00ffb1 192px,#00ffd6 207px,#00ff7c 212px,#0f0 216px,#c0ff00 221px,#ff0 229px,#ffed00 231px,#ff0 235px,#f4ff00 237px,#6cff00 241px,#0f0 243px,#00ff9a 245px,#0ff 249px,#0df 251px,#00c1ff 265px,#00deff 280px,#0ff 281px,#00ff8a 284px,#0f0 286px,#6aff00 288px,#deff00 293px,#ff0 298px,#ffde00 302px,#ffc700 305px,#ff0 308px,#9f0 313px,#0f0 316px,#0ff 320px,#00deff 321px,#008fff 329px,#00e1ff 348px,#0ff 351px,#00ffc6 358px,#00ff26 363px,#0f0 368px,#2dff00 375px,#0bff00 386px,#0f0 387px,#00ff8e 397px,#00ffba 403px,#00ffac 410px,#0f0 420px,#3aff00 423px,#4fff00 437px,#23ff00 444px,#0f0 446px,#0f3 448px,#0ff 452px,#0026ff 456px,#00f 458px,#2b00ff 461px,#6200ff 463px,#f0f 465px,#ff0026 468px,#f00 469px,#f01 472px,#ff0038 473px,#f0f 475px,#ab00ff 476px,#2300ff 478px,#00f 480px,#004cff 483px,#0ff 485px,#0f0 488px,#9cff00 490px,#ff0 492px,#ffc000 494px,#ffc200 497px,#ff0 503px,#faff00 503px,#dfff00 530px)"></i><i style="left:518.3px;width:10.6px;background:linear-gradient(#e3ff00 0px,#fdff00 18px,#78ff00 37px,#0f0 40px,#00ff34 42px,#00ff38 43px,#0f0 44px,#b8ff00 48px,#ff0 54px,#ffd300 58px,#ff9e00 72px,#ff0 97px,#ff0 97px,#ff0 97px,#ffe400 107px,#fff900 114px,#fffd00 124px,#ff0 124px,#98ff00 143px,#b7ff00 157px,#df0 168px,#b8ff00 174px,#15ff00 180px,#0f0 181px,#00ff78 184px,#00ffd4 189px,#00fff6 205px,#00ffb0 210px,#0f0 215px,#c1ff00 220px,#ff0 228px,#ffeb00 231px,#ff0 235px,#f7ff00 236px,#6f0 240px,#0f0 242px,#00ffa8 244px,#0ff 248px,#00d7ff 250px,#00beff 261px,#00e7ff 279px,#0ff 280px,#00ff7b 283px,#0f0 285px,#79ff00 287px,#e9ff00 293px,#ff0 296px,#fd0 301px,#ffca00 304px,#ff0 307px,#9f0 312px,#0f0 315px,#0ff 319px,#00daff 320px,#0092ff 328px,#0cf 343px,#0ff 350px,#00ffd9 356px,#00ff10 362px,#0f0 365px,#34ff00 374px,#13ff00 384px,#0f0 385px,#00ff93 396px,#00ffba 404px,#0fa 409px,#0f0 418px,#0cff00 419px,#3aff00 423px,#4eff00 435px,#2fff00 442px,#0f0 444px,#00ff4a 447px,#0ff 450px,#03f 454px,#00f 457px,#1b00ff 459px,#7500ff 462px,#f0f 464px,#ff002c 467px,#ff0015 468px,#ff003a 471px,#f0f 473px,#7f00ff 475px,#0400ff 477px,#00f 477px,#0023ff 481px,#0ff 484px,#0f0 487px,#13ff00 487px,#b7ff00 489px,#ff0 491px,#ffd100 493px,#ff0 519px,#ecff00 530px)"></i><i style="left:528.6px;width:10.5px;background:linear-gradient(#eaff00 0px,#f3ff00 17px,#56ff00 36px,#0f0 38px,#00ff74 41px,#00ff1c 43px,#0f0 43px,#91ff00 46px,#ff0 52px,#ffe200 54px,#ff9500 70px,#ffe800 86px,#fffa00 95px,#ffea00 105px,#fff300 111px,#ffe700 120px,#ff0 124px,#95ff00 140px,#abff00 152px,#f0ff00 164px,#d8ff00 170px,#67ff00 174px,#02ff00 177px,#0f0 177px,#00ff93 181px,#00fff8 186px,#0ff 193px,#00f3ff 204px,#0ff 205px,#00ffbd 209px,#0f0 214px,#c1ff00 219px,#ff0 227px,#ffeb00 230px,#ff0 234px,#f9ff00 235px,#61ff00 239px,#0f0 240px,#00ffb6 243px,#0ff 247px,#00d1ff 249px,#00baff 259px,#00f0ff 278px,#0ff 278px,#00ff6c 282px,#0f0 284px,#89ff00 286px,#ef0 292px,#ff0 295px,#ffdb00 300px,#ffcd00 303px,#ff0 306px,#9aff00 311px,#0f0 314px,#0ff 318px,#00d4ff 319px,#0095ff 327px,#00c2ff 340px,#0ff 349px,#00ffd4 355px,#00ff05 360px,#0f0 361px,#3cff00 372px,#1f0 383px,#0f0 384px,#00ffac 397px,#00ffb7 407px,#00ff27 416px,#0f0 418px,#2eff00 420px,#4eff00 433px,#28ff00 441px,#0f0 443px,#00ff2b 445px,#0ff 449px,#0027ff 453px,#00f 455px,#2800ff 458px,#5f00ff 460px,#f0f 463px,#f06 465px,#ff002e 466px,#ff0050 469px,#ff00d8 471px,#f0f 472px,#1500ff 475px,#00f 477px,#002eff 480px,#0ff 482px,#0f0 485px,#85ff00 487px,#f1ff00 490px,#ff0 491px,#ffe200 494px,#ffda00 513px,#ff0 528px,#f9ff00 530px)"></i><i style="left:538.8px;width:10.6px;background:linear-gradient(#f5ff00 0px,#ff0 12px,#fffa00 17px,#ff0 18px,#6bff00 35px,#0f0 38px,#00ff4b 40px,#0f0 42px,#a8ff00 45px,#ff0 51px,#ffdc00 53px,#ff8900 70px,#fffd00 91px,#ffe300 102px,#fe0 109px,#ffed00 119px,#ff0 122px,#93ff00 138px,#adff00 150px,#f0ff00 162px,#d2ff00 168px,#03ff00 175px,#0f0 175px,#00ff96 179px,#00fffb 185px,#0ff 188px,#00ecff 203px,#0ff 205px,#00ffe1 207px,#0f0 212px,#97ff00 216px,#dbff00 220px,#ff0 226px,#ffeb00 229px,#ff0 232px,#f2ff00 234px,#4fff00 238px,#0f0 239px,#0fa 242px,#0ff 245px,#00d7ff 247px,#00b4ff 256px,#00eaff 276px,#0ff 277px,#00ff8b 280px,#0f0 282px,#5aff00 284px,#e0ff00 290px,#ff0 294px,#ffd000 299px,#ffc600 301px,#ff0 304px,#75ff00 310px,#0f0 312px,#0ff 317px,#00feff 317px,#009cff 325px,#0af 335px,#0ff 348px,#00ffde 353px,#00ff19 359px,#0f0 363px,#32ff00 371px,#12ff00 381px,#0f0 382px,#00ff74 391px,#00ffb2 397px,#00ffb2 406px,#00ff17 415px,#0f0 416px,#31ff00 419px,#51ff00 432px,#3aff00 439px,#0f0 442px,#00ff32 444px,#0ff 448px,#0048ff 451px,#00f 455px,#5b00ff 459px,#f0f 462px,#ff002e 465px,#ff004d 468px,#f0f 471px,#0b00ff 474px,#00f 475px,#0027ff 478px,#0056ff 479px,#0ff 481px,#0f0 484px,#abff00 486px,#ff0 489px,#ffdf00 490px,#ffe800 516px,#fffd00 530px)"></i><i style="left:549.1px;width:10.6px;background:linear-gradient(#fffe00 0px,#ffe300 16px,#ff0 19px,#80ff00 34px,#0f0 38px,#00ff21 39px,#0f0 40px,#bdff00 44px,#ff0 49px,#ffcf00 53px,#ff7d00 69px,#fff900 87px,#ffdf00 99px,#ffe800 107px,#ffec00 117px,#ff0 120px,#92ff00 136px,#b8ff00 149px,#f1ff00 160px,#b6ff00 167px,#4f0 171px,#0f0 173px,#00ffae 178px,#00fffd 183px,#0ff 184px,#00e3ff 202px,#0ff 204px,#00ffe1 206px,#0f0 211px,#6f0 213px,#c0ff00 216px,#ff0 224px,#ffef00 226px,#ff0 231px,#fbff00 232px,#76ff00 236px,#0f0 238px,#00ff7d 240px,#0ff 244px,#00e1ff 245px,#00adff 253px,#00feff 275px,#0ff 275px,#00ff73 279px,#0f0 281px,#49ff00 283px,#cfff00 288px,#ff0 293px,#ffd100 297px,#ffbe00 299px,#ff0 302px,#7fff00 308px,#0f0 311px,#00ffd7 315px,#0ff 317px,#00a5ff 323px,#009fff 332px,#0ff 347px,#00ffe7 351px,#00ff2f 358px,#0f0 363px,#2aff00 368px,#13ff00 379px,#0f0 381px,#00ff5e 388px,#00ffb2 394px,#00ffae 405px,#0f0 414px,#0cff00 415px,#4f0 421px,#4dff00 434px,#2aff00 439px,#0f0 441px,#00ff37 443px,#0ff 447px,#0079ff 449px,#003dff 450px,#00f 453px,#5900ff 458px,#f0f 461px,#ff005b 463px,#ff002e 464px,#ff004f 467px,#f0f 469px,#3b00ff 472px,#0600ff 473px,#00f 473px,#003fff 477px,#00d6ff 479px,#0ff 479px,#0f0 482px,#81ff00 484px,#cdff00 485px,#ff0 487px,#ffd000 489px,#fff200 530px)"></i><i style="left:559.4px;width:10.5px;background:linear-gradient(#fff300 0px,#ffd000 16px,#ff0 21px,#95ff00 33px,#0bff00 38px,#cbff00 43px,#ff0 48px,#ffc300 53px,#ff7300 68px,#fff400 83px,#ffda00 93px,#ffe300 105px,#ffec00 115px,#ff0 118px,#95ff00 133px,#baff00 147px,#f3ff00 158px,#b7ff00 165px,#3cff00 169px,#0f0 171px,#00ffb2 176px,#0ff 182px,#00fdff 182px,#00dbff 196px,#00e3ff 202px,#00fdff 204px,#0ff 204px,#0f0 209px,#82ff00 212px,#d1ff00 216px,#ff0 222px,#ffed00 225px,#ff0 229px,#f2ff00 231px,#65ff00 235px,#0f0 237px,#00ff9e 240px,#0ff 243px,#00f0ff 243px,#00b2ff 248px,#00dbff 265px,#00f6ff 273px,#0ff 273px,#0f6 278px,#0f0 281px,#a9ff00 285px,#f1ff00 291px,#ff0 292px,#ffb500 297px,#ff0 300px,#87ff00 306px,#0f0 309px,#00ffd3 314px,#0ff 316px,#00afff 321px,#0097ff 329px,#0ff 346px,#00ffe8 350px,#00ff4f 356px,#0f0 363px,#1fff00 366px,#13ff00 377px,#0f0 379px,#00ff46 385px,#00ffb5 392px,#00ffb5 403px,#0f5 409px,#0f0 413px,#32ff00 416px,#56ff00 430px,#2dff00 438px,#0f0 440px,#00ff3a 442px,#0ff 446px,#00ecff 446px,#0038ff 449px,#00f 452px,#5800ff 457px,#f0f 459px,#ff0052 462px,#ff002e 463px,#ff0038 465px,#ff005b 466px,#f0f 468px,#3100ff 471px,#00f 473px,#005aff 476px,#0ff 478px,#0f0 481px,#60ff00 482px,#e5ff00 484px,#ff0 485px,#ffc300 488px,#ffeb00 513px,#ffe700 530px)"></i><i style="left:569.6px;width:10.6px;background:linear-gradient(#ffe800 0px,#ffb900 15px,#ff0 23px,#af0 32px,#3cff00 37px,#d7ff00 42px,#ff0 46px,#ffb600 53px,#ff6500 66px,#ffef00 80px,#ffd800 86px,#ffd400 91px,#ffe500 102px,#ffe300 112px,#ff0 116px,#9dff00 129px,#a1ff00 141px,#f5ff00 156px,#b3ff00 163px,#34ff00 167px,#0f0 169px,#00ff4a 171px,#00ffc6 175px,#0ff 180px,#00f8ff 181px,#00e5ff 192px,#00c5ff 199px,#00f9ff 203px,#0ff 203px,#0f0 208px,#4f0 209px,#aeff00 212px,#ff0 219px,#fff900 220px,#fffc00 228px,#ff0 228px,#b1ff00 232px,#0f0 236px,#00fffd 241px,#0ff 241px,#00b1ff 246px,#00bfff 256px,#0ff 271px,#00fffa 272px,#00ff63 277px,#0f0 280px,#a9ff00 284px,#ff0 290px,#ffd700 293px,#ffab00 295px,#ff0 299px,#b2ff00 302px,#65ff00 305px,#0f0 308px,#00ffb1 312px,#0ff 316px,#00baff 319px,#0092ff 327px,#0ff 346px,#00fff8 347px,#0f0 362px,#06ff00 362px,#19ff00 374px,#0f0 376px,#00ff40 383px,#00ffb6 390px,#00ffbc 401px,#00ff76 406px,#0f0 412px,#2fff00 414px,#5bff00 428px,#32ff00 437px,#0f0 439px,#00ff3a 441px,#00ffd8 444px,#0ff 445px,#0038ff 448px,#00f 451px,#5400ff 456px,#f0f 458px,#ff0046 461px,#ff0030 463px,#ff0032 464px,#ff00fa 467px,#f0f 467px,#2700ff 470px,#00f 471px,#0080ff 475px,#0ff 476px,#0f0 479px,#47ff00 480px,#ff0 483px,#ff0 483px,#ffb500 487px,#ffe900 497px,#ffdc00 530px)"></i><i style="left:579.9px;width:10.5px;background:linear-gradient(#fd0 0px,#ffa300 15px,#ff0 24px,#abff00 32px,#6bff00 36px,#efff00 42px,#ff0 44px,#ff6900 61px,#ff6000 65px,#ffe800 77px,#ffe800 82px,#ffba00 87px,#ffe900 96px,#ffdc00 109px,#ff0 114px,#a1ff00 126px,#9aff00 136px,#f6ff00 154px,#b3ff00 161px,#19ff00 166px,#0f0 167px,#00ffbe 172px,#0ff 179px,#00f4ff 180px,#00efff 189px,#00baff 198px,#00dbff 201px,#0ff 202px,#0f0 206px,#60ff00 208px,#a7ff00 210px,#ff0 218px,#fffa00 218px,#fffe00 227px,#ff0 227px,#af0 231px,#0f0 234px,#00ffb4 238px,#0ff 240px,#00f6ff 240px,#00afff 244px,#00b3ff 252px,#00fbff 270px,#0ff 270px,#00ff6b 276px,#0f0 279px,#93ff00 282px,#deff00 286px,#ff0 288px,#ffdc00 291px,#ffa800 293px,#ff0 297px,#a1ff00 301px,#0f0 306px,#00ffa1 311px,#0ff 315px,#00c5ff 317px,#008fff 325px,#00e6ff 342px,#0ff 344px,#00ffcb 349px,#00ff01 361px,#0f0 362px,#16ff00 372px,#0f0 375px,#00ff38 381px,#00ffb5 388px,#00ffc0 399px,#00ff85 404px,#0f0 410px,#08ff00 410px,#51ff00 418px,#51ff00 433px,#2f0 437px,#0f0 438px,#00ff5b 441px,#0ff 443px,#0057ff 446px,#00f 451px,#2400ff 453px,#4b00ff 455px,#f0f 457px,#ff003a 460px,#f03 463px,#f0f 466px,#fa00ff 466px,#5100ff 468px,#00f 470px,#00a6ff 474px,#0ff 475px,#0f0 478px,#2dff00 478px,#ff0 482px,#ffe500 482px,#ffa700 486px,#ffea00 494px,#ffd500 525px,#ffd000 530px)"></i><i style="left:590.1px;width:10.6px;background:linear-gradient(#ffd300 0px,#ff8e00 13px,#ffec00 24px,#ff0 26px,#9f0 35px,#ff0 42px,#ffd500 45px,#ff5100 63px,#ffe100 74px,#fff200 79px,#ffad00 85px,#ffe100 91px,#ffd500 99px,#ffe800 109px,#ff0 112px,#9fff00 124px,#9aff00 134px,#f5ff00 152px,#b6ff00 159px,#1f0 164px,#0f0 165px,#00ffd4 171px,#0ff 177px,#00f2ff 179px,#00f2ff 187px,#00a7ff 196px,#00d7ff 200px,#0ff 201px,#0f0 205px,#19ff00 205px,#a3ff00 208px,#ff0 216px,#fffb00 216px,#fffb00 225px,#ff0 225px,#c6ff00 229px,#0f0 234px,#00ff10 234px,#00fff6 238px,#0ff 238px,#00aeff 242px,#00b0ff 250px,#0ff 268px,#00fffb 269px,#00ff7d 275px,#0f0 278px,#7cff00 280px,#d7ff00 284px,#ff0 287px,#ffe100 289px,#ffa700 291px,#ff0 295px,#38ff00 303px,#0f0 305px,#0ff 313px,#00d2ff 315px,#008bff 323px,#00c5ff 337px,#0ff 343px,#00ffc4 349px,#00ff0f 359px,#0f0 364px,#14ff00 370px,#0f0 372px,#00ff46 380px,#00ffb7 386px,#00ffc2 397px,#00ff96 402px,#0f0 408px,#04ff00 408px,#5f0 417px,#53ff00 432px,#24ff00 436px,#0f0 437px,#00ff58 440px,#0ff 442px,#004aff 445px,#00f 450px,#1e00ff 452px,#4300ff 454px,#f0f 456px,#ff002c 459px,#ff0037 462px,#ff00b6 464px,#f0f 465px,#4700ff 467px,#00f 469px,#00cbff 473px,#0ff 474px,#0f0 476px,#6f0 477px,#ff0 480px,#ffcd00 481px,#ff9e00 485px,#ffea00 492px,#ffe800 513px,#ffc400 530px)"></i><i style="left:600.4px;width:10.6px;background:linear-gradient(#ffc900 0px,#ff7a00 12px,#ffb800 21px,#ff0 27px,#c6ff00 32px,#ff0 39px,#ffef00 41px,#ff4000 61px,#ffe000 72px,#fff100 77px,#ffa100 83px,#ffe000 88px,#ffd800 96px,#ffd200 104px,#ff0 110px,#9eff00 122px,#96ff00 131px,#f2ff00 149px,#caff00 155px,#9f0 158px,#0aff00 162px,#0f0 162px,#00ff70 166px,#0fd 169px,#0ff 176px,#00f2ff 179px,#00ebff 186px,#009cff 195px,#00b9ff 198px,#0ff 199px,#00ff82 201px,#0f0 203px,#9fff00 206px,#ff0 214px,#fffc00 214px,#fff700 223px,#ff0 224px,#e1ff00 227px,#2aff00 232px,#0f0 233px,#00ffe4 236px,#0ff 237px,#00acff 240px,#00a6ff 247px,#00efff 265px,#0ff 266px,#00ffad 273px,#0f0 276px,#61ff00 278px,#c6ff00 281px,#ff0 285px,#ffe700 287px,#ffa800 289px,#ffd000 291px,#ff0 293px,#a4ff00 297px,#0f0 303px,#00ffb8 310px,#0ff 312px,#00d2ff 314px,#0089ff 321px,#00aeff 333px,#0ff 343px,#00ffca 349px,#00ff1d 357px,#0f0 364px,#12ff00 368px,#0f0 370px,#00ff3e 378px,#00ffba 384px,#00ffc5 395px,#00ffa7 400px,#0f0 406px,#02ff00 406px,#56ff00 415px,#56ff00 431px,#25ff00 435px,#0f0 436px,#00ff5c 439px,#0ff 441px,#0049ff 444px,#00f 448px,#0a00ff 449px,#2000ff 452px,#4200ff 453px,#f0f 455px,#ff00d0 456px,#ff002a 458px,#ff001e 460px,#ff007c 462px,#f0f 464px,#e200ff 464px,#3e00ff 466px,#00f 467px,#00b1ff 471px,#00f2ff 472px,#0ff 472px,#0f0 475px,#93ff00 476px,#ff0 478px,#ffb800 480px,#ff9600 484px,#ffe800 490px,#fff600 507px,#ffb800 530px)"></i><i style="left:610.7px;width:10.5px;background:linear-gradient(#ffbf00 0px,#ff6c00 10px,#ff6f00 15px,#ff0 28px,#feff00 28px,#f7ff00 35px,#ff0 36px,#ff6700 54px,#ff3600 59px,#ffdf00 70px,#fff100 75px,#ff9600 81px,#ffdf00 86px,#ffd400 94px,#ffca00 101px,#ff0 107px,#a0ff00 119px,#95ff00 129px,#f1ff00 146px,#e2ff00 151px,#9eff00 156px,#0f0 160px,#00ff12 161px,#0fe 168px,#0ff 173px,#00efff 177px,#00efff 184px,#08f 193px,#00b5ff 197px,#0ff 198px,#00ff1a 201px,#0f0 202px,#aeff00 205px,#ff0 212px,#fff900 213px,#fffe00 223px,#ff0 223px,#dbff00 226px,#5eff00 230px,#0f0 231px,#00ffca 234px,#0ff 236px,#0af 238px,#00a1ff 245px,#00efff 262px,#0ff 265px,#00ffd8 271px,#00ff2a 274px,#0f0 275px,#6dff00 277px,#c9ff00 280px,#ff0 284px,#ffef00 285px,#fa0 287px,#ffa300 288px,#ff0 291px,#deff00 292px,#0f0 302px,#00ff52 306px,#0ff 311px,#00dfff 312px,#0086ff 319px,#009aff 329px,#0ff 343px,#00ffd8 348px,#00ff24 356px,#0f0 363px,#1f0 366px,#0f0 368px,#00ff35 376px,#00ffbf 382px,#00ffc9 393px,#00ffa0 399px,#0f0 404px,#02ff00 404px,#5aff00 414px,#59ff00 430px,#3fff00 433px,#0f0 436px,#00ff24 437px,#0ff 440px,#0074ff 442px,#0006ff 446px,#00f 447px,#1400ff 451px,#8b00ff 453px,#f0f 454px,#ff0062 456px,#ff0027 457px,#ff0016 459px,#ff00c8 462px,#f0f 463px,#7000ff 464px,#00f 466px,#0098ff 469px,#0ff 471px,#00ffde 471px,#0f0 473px,#6dff00 474px,#bdff00 475px,#ff0 477px,#ffa400 479px,#ff8200 482px,#ffe400 488px,#ff0 498px,#f9ff00 500px,#ff0 502px,#ffab00 530px)"></i><i style="left:620.9px;width:10.6px;background:linear-gradient(#ffbf00 0px,#ff7800 10px,#ff8900 16px,#ff0 26px,#f2ff00 27px,#e5ff00 34px,#ff0 37px,#ff4b00 59px,#ffdf00 69px,#fff600 74px,#ff9c00 80px,#ffe200 87px,#ffd100 94px,#ffc900 100px,#ff0 107px,#9cff00 119px,#95ff00 129px,#f1ff00 146px,#e1ff00 151px,#95ff00 156px,#0f0 160px,#00ff16 161px,#00ffe6 167px,#0ff 174px,#00f5ff 177px,#00ebff 184px,#008eff 193px,#00a7ff 196px,#0ff 197px,#00ff90 199px,#0f0 201px,#a2ff00 204px,#ff0 212px,#fffc00 212px,#fffb00 222px,#ff0 222px,#ecff00 225px,#4aff00 230px,#0f0 231px,#00ffcf 234px,#0ff 236px,#00b6ff 238px,#0af 245px,#00f0ff 263px,#0ff 265px,#00ffd3 271px,#0f0 275px,#4aff00 276px,#bf0 279px,#ff0 284px,#ffe900 285px,#ff9f00 287px,#ffa200 288px,#ff0 291px,#dbff00 292px,#0f0 302px,#00ff56 306px,#0ff 311px,#00e3ff 312px,#0093ff 319px,#00acff 330px,#0ff 339px,#00ffb2 348px,#00ff12 356px,#0f0 361px,#14ff00 367px,#0f0 369px,#00ff35 376px,#00ffbf 383px,#00ffc6 393px,#00ff9b 399px,#0f0 404px,#04ff00 404px,#5aff00 414px,#5aff00 429px,#3cff00 433px,#0f0 435px,#00ff2e 437px,#0ff 440px,#006bff 442px,#0005ff 446px,#00f 447px,#1800ff 451px,#8e00ff 453px,#f0f 454px,#ff005d 456px,#ff0029 457px,#ff0019 459px,#ff00c1 462px,#f0f 463px,#7a00ff 464px,#00f 466px,#00d0ff 470px,#0ff 471px,#00ffe4 471px,#0f0 473px,#67ff00 474px,#b8ff00 475px,#ff0 477px,#ffac00 479px,#f90 483px,#ffe500 488px,#ff0 499px,#fbff00 501px,#ff0 502px,#ffab00 530px)"></i><i style="left:631.2px;width:10.5px;background:linear-gradient(#ffbe00 0px,#ff8200 11px,#ffcb00 20px,#ff0 24px,#dfff00 27px,#d8ff00 34px,#ff0 39px,#ff5b00 58px,#ffe400 69px,#ffec00 74px,#ff9c00 80px,#ffe000 86px,#ffd600 93px,#ffbd00 98px,#ff0 106px,#9cff00 118px,#95ff00 129px,#f3ff00 147px,#afff00 155px,#0f0 160px,#00ff1c 161px,#00ffe6 167px,#0ff 175px,#00faff 177px,#00e7ff 184px,#0093ff 193px,#00b3ff 196px,#0ff 197px,#0f0 201px,#45ff00 202px,#a8ff00 204px,#ff0 212px,#fffb00 212px,#fffe00 222px,#ff0 222px,#deff00 225px,#64ff00 229px,#0f0 231px,#00ffd0 234px,#0ff 236px,#00bfff 238px,#00b2ff 245px,#0ff 264px,#00ffeb 269px,#00ffcd 271px,#0f0 275px,#4fff00 276px,#c8ff00 280px,#f8ff00 284px,#ff0 284px,#ff9300 287px,#fc0 289px,#ff0 291px,#c5ff00 293px,#0f0 302px,#00ff5b 306px,#0ff 311px,#00f6ff 311px,#00a0ff 319px,#00b9ff 330px,#0ff 337px,#00ffa5 346px,#0f0 356px,#0f0 356px,#1dff00 367px,#0f0 370px,#00ff35 376px,#00ffbc 383px,#00ffc3 393px,#00ff96 399px,#0f0 404px,#07ff00 404px,#5aff00 414px,#5aff00 428px,#50ff00 432px,#0f0 435px,#00ff38 437px,#0ff 440px,#0062ff 442px,#00f 447px,#0300ff 447px,#1c00ff 451px,#9000ff 453px,#f0f 454px,#ff0059 456px,#ff002c 457px,#ff001d 459px,#ff00ba 462px,#f0f 463px,#8300ff 464px,#00f 466px,#00cbff 470px,#0ff 471px,#00ffea 471px,#0f0 473px,#61ff00 474px,#b2ff00 475px,#ff0 477px,#ffb500 479px,#ffa300 483px,#fff400 490px,#fffa00 506px,#ffac00 529px,#ffab00 530px)"></i><i style="left:641.4px;width:10.6px;background:linear-gradient(#ffbe00 0px,#ff8f00 12px,#ffe200 20px,#ff0 22px,#d3ff00 26px,#c6ff00 33px,#ff0 40px,#ff7300 58px,#ffe900 69px,#ffe200 74px,#ff9f00 79px,#ffec00 88px,#ffbf00 98px,#ff0 106px,#9f0 118px,#95ff00 129px,#f3ff00 147px,#bf0 154px,#3eff00 158px,#0f0 160px,#00ffe8 167px,#0ff 179px,#0ff 179px,#00c2ff 187px,#0090ff 192px,#00a7ff 195px,#0ff 196px,#00ffa0 198px,#0f0 201px,#98ff00 203px,#ff0 211px,#fffd00 211px,#fffc00 221px,#ff0 221px,#edff00 224px,#5f0 229px,#0f0 230px,#00ffac 233px,#0ff 236px,#00c6ff 238px,#00bdff 246px,#0ff 263px,#00ffea 269px,#00ffbe 271px,#0f0 274px,#5f0 276px,#c9ff00 280px,#fcff00 284px,#ff0 284px,#ff8700 287px,#ff0 290px,#e8ff00 291px,#0f0 302px,#00ff45 305px,#0ff 311px,#00f8ff 311px,#00abff 320px,#00daff 332px,#0ff 335px,#00ff85 345px,#00ff35 351px,#0f0 355px,#12ff00 356px,#26ff00 367px,#0f0 370px,#00ff4a 377px,#00ffba 383px,#00ffc0 393px,#00ff90 399px,#0f0 404px,#14ff00 405px,#5cff00 415px,#56ff00 429px,#4dff00 432px,#0f0 435px,#00ff42 437px,#0ff 440px,#005aff 442px,#00f 447px,#0300ff 447px,#2000ff 451px,#9300ff 453px,#f0f 454px,#ff0054 456px,#ff0027 458px,#ff0020 459px,#ff0075 461px,#f0f 463px,#f000ff 463px,#40f 465px,#00f 466px,#0089ff 469px,#0ff 471px,#00fff0 471px,#0f0 473px,#5cff00 474px,#adff00 475px,#ff0 477px,#ffbd00 479px,#ffad00 483px,#fffa00 491px,#fff400 508px,#ffac00 529px,#ffab00 530px)"></i><i style="left:651.7px;width:10.5px;background:linear-gradient(#ffbf00 0px,#ffa200 12px,#ffe700 19px,#ff0 21px,#c6ff00 25px,#b4ff00 32px,#ff0 41px,#ff8100 57px,#ffed00 69px,#ffe900 73px,#ffa400 79px,#ffed00 88px,#ffb600 97px,#ff0 105px,#98ff00 117px,#91ff00 128px,#f3ff00 147px,#b9ff00 154px,#6bff00 157px,#0f0 160px,#00ff75 163px,#00ffec 167px,#0ff 175px,#00ecff 183px,#0095ff 192px,#00b0ff 195px,#0ff 196px,#0f0 200px,#a2ff00 203px,#ff0 211px,#fffc00 211px,#fffa00 220px,#ff0 221px,#e0ff00 224px,#3bff00 229px,#0f0 230px,#00ffae 233px,#0ff 236px,#00caff 238px,#00ceff 249px,#0ff 265px,#00fff5 268px,#00ffb1 271px,#0f0 274px,#5bff00 276px,#c9ff00 280px,#ff0 284px,#ff0 284px,#ff7900 287px,#ff0 290px,#faff00 290px,#0f0 302px,#00ff49 305px,#0ff 311px,#00fcff 311px,#00b8ff 320px,#00eaff 332px,#0ff 333px,#0f8 341px,#00ff09 352px,#0f0 353px,#28ff00 358px,#2cff00 368px,#0f0 371px,#00ff4a 377px,#00ffb7 383px,#00ffbc 393px,#00ff8b 399px,#0f0 404px,#0cff00 404px,#5cff00 415px,#57ff00 428px,#4bff00 432px,#0f0 434px,#00ff4c 437px,#0ff 439px,#0085ff 441px,#0034ff 443px,#00f 447px,#0600ff 448px,#2400ff 451px,#9500ff 453px,#f0f 454px,#ff0050 456px,#ff0023 459px,#ff0071 461px,#f0f 463px,#f900ff 463px,#4800ff 465px,#00f 466px,#0084ff 469px,#0ff 471px,#00fff5 471px,#0f0 473px,#56ff00 474px,#a7ff00 475px,#ff0 477px,#ffc600 479px,#ffb700 483px,#ff0 494px,#ff0 494px,#ff0 494px,#ffe300 512px,#ffab00 530px)"></i><i style="left:661.9px;width:10.6px;background:linear-gradient(#ffc100 0px,#ffbc00 13px,#fffe00 19px,#ff0 19px,#baff00 24px,#a6ff00 32px,#ff0 44px,#ff9800 57px,#fff100 69px,#ffe000 73px,#ffa300 78px,#ffed00 88px,#ffac00 96px,#ff0 104px,#a0ff00 114px,#8dff00 127px,#f3ff00 147px,#c5ff00 153px,#63ff00 157px,#0f0 160px,#00ff38 161px,#00fff3 167px,#0ff 173px,#00eaff 183px,#0093ff 191px,#00a7ff 194px,#0ff 196px,#00ffb1 197px,#0f0 200px,#8fff00 202px,#ff0 210px,#ff0 210px,#fff800 219px,#ff0 220px,#efff00 223px,#5cff00 228px,#0f0 230px,#00ffae 233px,#0ff 236px,#00cfff 238px,#00e2ff 255px,#0ff 265px,#00fff7 268px,#00ffa6 271px,#0f0 274px,#60ff00 276px,#d7ff00 281px,#ff0 284px,#fffa00 284px,#ff6e00 287px,#ff0 290px,#f5ff00 290px,#0f0 301px,#00ff4d 305px,#00fffd 311px,#0ff 311px,#00c5ff 321px,#00edff 331px,#0ff 332px,#00ff94 339px,#00ff43 343px,#0f0 350px,#1dff00 353px,#40ff00 365px,#04ff00 372px,#0f0 372px,#00ffb4 383px,#00ffb9 393px,#00ff86 399px,#0f0 403px,#0fff00 404px,#5cff00 415px,#59ff00 427px,#48ff00 432px,#0f0 434px,#00ff56 437px,#0ff 439px,#0076ff 441px,#001dff 444px,#00f 448px,#0b00ff 450px,#5b00ff 452px,#ef00ff 454px,#f0f 454px,#ff004c 456px,#ff0026 459px,#ff0038 460px,#ff00a6 462px,#f0f 463px,#4c00ff 465px,#00f 467px,#007eff 469px,#0ff 471px,#00fffb 471px,#0f0 473px,#50ff00 474px,#a1ff00 475px,#ff0 478px,#ffcf00 479px,#ffc900 484px,#ff0 496px,#f8ff00 498px,#ff0 500px,#ffc800 518px,#ffab00 530px)"></i><i style="left:672.2px;width:10.6px;background:linear-gradient(#ffc400 0px,#ffce00 13px,#ff0 17px,#e9ff00 19px,#a7ff00 24px,#93ff00 31px,#e6ff00 41px,#ff0 45px,#ffad00 57px,#fff500 70px,#fa0 78px,#ffef00 87px,#ffb400 94px,#ffb000 96px,#ff0 103px,#f1ff00 104px,#92ff00 117px,#92ff00 128px,#f3ff00 147px,#d1ff00 152px,#87ff00 156px,#0f0 159px,#0f4 161px,#00fff6 167px,#0ff 175px,#00f7ff 181px,#0097ff 191px,#00adff 194px,#0ff 195px,#0f0 199px,#9dff00 202px,#ff0 210px,#fffe00 210px,#fffa00 219px,#ff0 220px,#e1ff00 223px,#47ff00 228px,#0f0 229px,#00ffad 233px,#0ff 236px,#00d6ff 238px,#00e6ff 257px,#0ff 266px,#00fff9 268px,#00ff70 272px,#0f0 274px,#63ff00 276px,#d8ff00 281px,#ff0 283px,#fff400 284px,#ff6e00 287px,#ff0 290px,#f2ff00 290px,#0f0 301px,#00ff51 305px,#00fff9 311px,#0ff 312px,#00d3ff 321px,#00fcff 331px,#0ff 331px,#00ff92 338px,#00ff1d 343px,#0f0 347px,#47ff00 357px,#32ff00 369px,#0f0 372px,#00ff87 380px,#00ffb4 384px,#00ffb6 393px,#00ff81 399px,#0f0 404px,#1aff00 405px,#5eff00 416px,#54ff00 428px,#46ff00 432px,#0f0 434px,#00ff61 437px,#0ff 439px,#0068ff 441px,#0007ff 445px,#00f 447px,#0a00ff 450px,#9a00ff 453px,#f0f 454px,#ff0047 456px,#ff0035 460px,#ff00a0 462px,#f0f 463px,#5100ff 465px,#00f 467px,#0079ff 469px,#00fdff 471px,#0ff 471px,#0f0 473px,#4bff00 474px,#9cff00 475px,#ff0 478px,#ffd700 479px,#ffd800 485px,#ff0 500px,#fbff00 502px,#ff0 503px,#ffac00 529px,#ffab00 530px)"></i><i style="left:682.5px;width:10.5px;background:linear-gradient(#ffc700 0px,#ffdf00 13px,#ff0 16px,#e5ff00 18px,#9bff00 23px,#86ff00 31px,#df0 41px,#ff0 46px,#fb0 56px,#fff600 70px,#fa0 77px,#fe0 87px,#ffbc00 93px,#ffa400 95px,#fffc00 101px,#ff0 101px,#90ff00 117px,#92ff00 128px,#f1ff00 146px,#deff00 151px,#8bff00 156px,#0f0 159px,#00ff05 159px,#00ffec 166px,#0ff 176px,#00f5ff 181px,#0095ff 190px,#00a7ff 193px,#0ff 195px,#00ffc1 196px,#0f0 199px,#8f0 201px,#feff00 209px,#ff0 210px,#fff500 217px,#ff0 219px,#f0ff00 222px,#3f0 228px,#0f0 229px,#00ffab 233px,#0ff 236px,#00e3ff 237px,#00deff 253px,#0ff 265px,#00fff6 268px,#00ff67 272px,#0f0 274px,#6f0 276px,#d9ff00 281px,#ff0 283px,#ffec00 284px,#ff8300 286px,#ff6e00 287px,#ff0 290px,#efff00 290px,#0f0 301px,#0f5 305px,#00fff4 311px,#0ff 314px,#00e2ff 322px,#0ff 328px,#00fff2 331px,#00ff78 338px,#0f0 343px,#09ff00 343px,#57ff00 357px,#3aff00 369px,#0f0 372px,#00ffaf 383px,#00ffb2 393px,#00ff7c 399px,#0f0 404px,#1dff00 405px,#5eff00 416px,#56ff00 427px,#43ff00 432px,#0f0 434px,#00ff6b 437px,#0ff 439px,#0059ff 441px,#00f 446px,#0100ff 446px,#0900ff 450px,#9c00ff 453px,#f0f 454px,#ff0043 456px,#ff0032 460px,#f09 462px,#f0f 463px,#50f 465px,#00f 467px,#0074ff 469px,#00f7ff 471px,#0ff 471px,#0f0 473px,#45ff00 474px,#96ff00 475px,#ff0 478px,#ffe000 479px,#ffeb00 488px,#ff0 506px,#ffad00 528px,#ffab00 530px)"></i><i style="left:692.7px;width:31.1px;background:linear-gradient(#fc0 0px,#fffc00 15px,#ff0 15px,#8eff00 22px,#73ff00 30px,#bf0 39px,#ff0 47px,#ffe500 50px,#ffd800 58px,#fff100 70px,#ffb000 77px,#fff100 86px,#ffc600 92px,#ff9500 94px,#fff300 99px,#ff0 101px,#8fff00 116px,#92ff00 128px,#f1ff00 146px,#ecff00 150px,#81ff00 156px,#17ff00 158px,#0f0 159px,#00fff6 166px,#00fffa 178px,#0ff 179px,#00b1ff 187px,#009aff 190px,#0af 193px,#0ff 194px,#00ff2d 198px,#0f0 199px,#98ff00 201px,#ff0 209px,#ff0 209px,#fff700 217px,#ff0 218px,#e3ff00 222px,#50ff00 227px,#0f0 229px,#00ffa9 233px,#0ff 236px,#00e9ff 237px,#00e2ff 255px,#0ff 264px,#00fff1 268px,#00ff60 272px,#0f0 274px,#69ff00 276px,#daff00 281px,#ff0 283px,#ffe400 284px,#ff7500 286px,#ff6f00 287px,#ffed00 289px,#ff0 290px,#0f0 301px,#00ff76 306px,#00ffea 310px,#0ff 317px,#00f0ff 322px,#0ff 326px,#00fff3 330px,#00ff5e 338px,#0f0 341px,#26ff00 342px,#65ff00 358px,#42ff00 369px,#0f0 373px,#00ffac 383px,#00ffaf 393px,#0f7 399px,#0f0 404px,#1fff00 405px,#60ff00 417px,#51ff00 428px,#40ff00 432px,#0f0 434px,#00ff75 437px,#0ff 439px,#004bff 441px,#00f 446px,#0200ff 446px,#0800ff 450px,#9f00ff 453px,#f0f 454px,#ff003f 456px,#ff002f 460px,#ff0093 462px,#f0f 463px,#5900ff 465px,#00f 467px,#006fff 469px,#00f1ff 471px,#0ff 471px,#0f0 473px,#40ff00 474px,#91ff00 475px,#ff0 478px,#ffe800 479px,#ff0 495px,#ffe800 512px,#ffad00 528px,#ffab00 530px)"></i></div><div class="cb"></div><svg width="886" height="700" viewBox="0 0 886 700"><polygon points="226.8,433.3 205.9,374.9 213.6,372.1 194.8,354.4 191.5,380.0 199.1,377.3 220.0,435.7" fill="#ff0000"/>
<polygon points="307.3,445.6 287.3,388.7 295.0,386.0 276.3,368.2 272.8,393.8 280.5,391.1 300.5,448.0" fill="#ff0000"/>
<polygon points="399.4,440.0 378.6,382.6 386.3,379.8 367.4,362.2 364.2,387.8 371.8,385.1 392.6,442.4" fill="#ff0000"/>
<polygon points="488.6,434.3 468.2,377.3 475.9,374.5 457.1,356.8 453.8,382.4 461.4,379.7 481.8,436.7" fill="#ff0000"/>
<polygon points="577.9,421.1 557.3,363.8 564.9,361.1 546.1,343.4 542.8,369.0 550.5,366.3 571.1,423.5" fill="#ff0000"/>
<polygon points="659.4,417.3 639.1,360.3 646.8,357.5 628.0,339.8 624.6,365.4 632.3,362.7 652.6,419.7" fill="#ff0000"/>
<rect x="97.70" y="45.00" width="625.80" height="530.20" fill="none" stroke="#262626" stroke-width="1.6"/>
<rect x="739.50" y="45.00" width="33.50" height="530.20" fill="none" stroke="#262626" stroke-width="1.6"/>
<path d="M97.7,46.0h6.0M723.5,46.0h-6.0M97.7,146.0h6.0M723.5,146.0h-6.0M97.7,246.0h6.0M723.5,246.0h-6.0M97.7,346.0h6.0M723.5,346.0h-6.0M97.7,446.0h6.0M723.5,446.0h-6.0M97.7,546.0h6.0M723.5,546.0h-6.0M195.2,45.0v6.0M195.2,575.2v-6.0M297.8,45.0v6.0M297.8,575.2v-6.0M400.3,45.0v6.0M400.3,575.2v-6.0M502.9,45.0v6.0M502.9,575.2v-6.0M605.5,45.0v6.0M605.5,575.2v-6.0M708.1,45.0v6.0M708.1,575.2v-6.0M773.0,575.2h-4.0M773.0,469.2h-4.0M773.0,363.1h-4.0M773.0,257.1h-4.0M773.0,151.0h-4.0M773.0,45.0h-4.0" stroke="#262626" stroke-width="1.3" fill="none"/>
<g font-family="'Liberation Sans',Arial,sans-serif" fill="#262626" font-weight="bold">
<g font-size="31">
<text x="87.2" y="58.6" text-anchor="end">1</text>
<text x="87.2" y="158.2" text-anchor="end">1.1</text>
<text x="87.2" y="257.9" text-anchor="end">1.2</text>
<text x="87.2" y="357.6" text-anchor="end">1.3</text>
<text x="87.2" y="457.2" text-anchor="end">1.4</text>
<text x="87.2" y="556.9" text-anchor="end">1.5</text>
<text x="194.0" y="616.3" text-anchor="middle">10</text>
<text x="296.6" y="616.3" text-anchor="middle">20</text>
<text x="399.1" y="616.3" text-anchor="middle">30</text>
<text x="501.7" y="616.3" text-anchor="middle">40</text>
<text x="604.3" y="616.3" text-anchor="middle">50</text>
<text x="706.9" y="616.3" text-anchor="middle">60</text>
</g>
<g font-size="25.5">
<text x="780.2" y="586.0">3</text>
<text x="780.2" y="480.0">4</text>
<text x="780.2" y="373.9">5</text>
<text x="780.2" y="267.9">6</text>
<text x="780.2" y="161.8">7</text>
<text x="780.2" y="55.8">8</text>
</g>
<text x="408" y="657.8" font-size="31.5" text-anchor="middle">CDP</text>
<text transform="translate(30.4,311) rotate(-90)" font-size="32.5" text-anchor="middle">Time(s)</text>
<g font-weight="normal" stroke="#262626" stroke-width="0.4">
<text x="774.5" y="36.8" font-size="34">×</text>
<text x="793.5" y="32.4" font-size="26">10</text>
<text x="825.5" y="19.6" font-size="21.5">6</text>
</g>
</g>
<g font-family="'Liberation Serif','Times New Roman',serif" fill="#000">
<text x="3.6" y="53.3" font-size="48">B</text>
<text transform="translate(845.7,481) rotate(-90)" font-size="41.5" textLength="297" lengthAdjust="spacing">EI (kg·m<tspan dy="-14" font-size="28">-3</tspan><tspan dy="14"> ·m ·s</tspan><tspan dy="-14" font-size="28">-1</tspan><tspan dy="14">)</tspan></text>
</g></svg></div>
<div class="p" style="left:0.0px;top:723.7px"><div class="h"><i style="left:97.7px;width:10.6px;background:linear-gradient(#ff0 0px,#ff0 18px,#ffd000 21px,#ffbf00 33px,#ffac00 55px,#ffb200 67px,#ffc800 72px,#ffae00 103px,#fe0 108px,#fffe00 119px,#ff0 119px,#d0ff00 123px,#c1ff00 136px,#a2ff00 140px,#a2ff00 153px,#d9ff00 157px,#ef0 172px,#ff0 174px,#fff200 176px,#ffec00 227px,#ffe100 241px,#ff0 243px,#f7ff00 244px,#eaff00 254px,#c6ff00 262px,#bfff00 271px,#80ff00 275px,#80ff00 281px,#b7ff00 283px,#b7ff00 315px,#80ff00 317px,#80ff00 327px,#0f0 328px,#00ff4c 329px,#00ffd7 330px,#0ff 330px,#00d0ff 331px,#00b3ff 363px,#0080ff 366px,#0090ff 377px,#00a2ff 390px,#07f 393px,#07f 445px,#00f 446px,#00f 449px,#5d00ff 450px,#5d00ff 454px,#f0f 454px,#f00 455px,#f00 482px,#f0f 482px,#00f 483px,#0015ff 483px,#0015ff 495px,#00f 499px,#6e00ff 501px,#9d00ff 527px,#a700ff 530px)"></i><i style="left:108.0px;width:143.9px;background:linear-gradient(#ff0 0px,#ff0 18px,#ffd000 21px,#ffbf00 33px,#ffac00 55px,#ffb200 67px,#ffc800 72px,#ffae00 103px,#fe0 108px,#fffe00 119px,#ff0 119px,#d0ff00 123px,#c1ff00 136px,#a2ff00 140px,#a2ff00 153px,#d9ff00 157px,#ef0 172px,#ff0 174px,#fff200 176px,#ffec00 227px,#ffe100 241px,#ff0 243px,#f7ff00 244px,#eaff00 254px,#c6ff00 262px,#bfff00 271px,#80ff00 275px,#80ff00 281px,#b7ff00 283px,#b7ff00 315px,#80ff00 317px,#80ff00 327px,#0f0 328px,#00ff4c 329px,#00ffd7 330px,#0ff 330px,#00d0ff 331px,#00b3ff 363px,#0080ff 366px,#0090ff 377px,#00a2ff 390px,#07f 393px,#07f 445px,#00f 446px,#00f 449px,#5d00ff 450px,#5d00ff 454px,#f0f 454px,#f00 455px,#f00 491px,#f0f 492px,#f0f 492px,#50f 493px,#00f 494px,#00f 499px,#6e00ff 501px,#9d00ff 527px,#a700ff 530px)"></i><i style="left:251.6px;width:10.5px;background:linear-gradient(#ffec00 0px,#ffe000 19px,#ffa400 39px,#ffad00 80px,#ffb200 98px,#ffef00 110px,#fffe00 118px,#ff0 118px,#d1ff00 124px,#bfff00 137px,#a6ff00 149px,#b0ff00 153px,#e0ff00 157px,#ff0 175px,#fff000 184px,#fffc00 242px,#ff0 243px,#c7ff00 267px,#afff00 273px,#80ff00 280px,#b7ff00 290px,#c8ff00 299px,#ecff00 300px,#c9ff00 316px,#c6ff00 319px,#bfff00 327px,#0f0 329px,#00ff2c 330px,#00ff58 331px,#00ff5d 338px,#00ff9b 339px,#0ff 340px,#00feff 340px,#00d6ff 341px,#00a8ff 364px,#08f 377px,#008cff 390px,#07f 400px,#07f 445px,#003cff 446px,#003cff 449px,#00f 451px,#2f00ff 452px,#2f00ff 454px,#f0f 455px,#f00 456px,#f00 502px,#ff00c7 503px,#f0f 503px,#3800ff 504px,#3900ff 508px,#6d00ff 511px,#8600ff 530px)"></i><i style="left:261.8px;width:31.1px;background:linear-gradient(#ffd900 0px,#ffce00 25px,#f90 32px,#ffa600 42px,#ffb200 51px,#ff9d00 52px,#ffb700 58px,#ffae00 68px,#ffa400 80px,#ffa700 97px,#fe0 103px,#fff200 117px,#ff0 117px,#d5ff00 119px,#c1ff00 139px,#af0 147px,#beff00 153px,#e7ff00 156px,#ff0 172px,#fe0 184px,#ff0 219px,#f1ff00 248px,#d2ff00 256px,#c8ff00 275px,#80ff00 278px,#92ff00 285px,#b7ff00 288px,#b7ff00 298px,#daff00 299px,#ff0 300px,#fd0 300px,#fff200 305px,#ff0 308px,#f7ff00 310px,#f7ff00 318px,#ff0 319px,#fd0 321px,#ff0 327px,#ff0 327px,#80ff00 329px,#7f0 338px,#0f0 339px,#00ff04 339px,#00ffce 340px,#0ff 341px,#00e1ff 341px,#009cff 374px,#0080ff 379px,#0084ff 386px,#0082ff 414px,#0082ff 419px,#07f 450px,#0028ff 451px,#00f 452px,#00f 457px,#4700ff 458px,#6a00ff 459px,#6a00ff 465px,#f0f 465px,#f00 466px,#f00 492px,#f0f 493px,#f0f 499px,#f00 500px,#f00 503px,#f0f 504px,#00f 504px,#00f 508px,#60f 510px,#60f 530px)"></i><i style="left:292.6px;width:10.6px;background:linear-gradient(#ffd900 0px,#ffcd00 25px,#ff9a00 32px,#ffa500 42px,#ffb300 51px,#ff9e00 52px,#ffb800 58px,#ffae00 75px,#f90 96px,#ffed00 103px,#fff400 117px,#ff0 117px,#d5ff00 119px,#c0ff00 139px,#af0 147px,#bdff00 153px,#e3ff00 156px,#ff0 173px,#fe0 183px,#ff0 219px,#f1ff00 248px,#d2ff00 256px,#c5ff00 275px,#7fff00 278px,#91ff00 285px,#b4ff00 288px,#b7ff00 298px,#daff00 299px,#ff0 300px,#ffdf00 300px,#fff300 305px,#ff0 313px,#f6ff00 318px,#ff0 319px,#ffdf00 321px,#ff0 327px,#feff00 327px,#82ff00 329px,#72ff00 338px,#0f0 339px,#00ff09 339px,#00ffd0 340px,#0ff 341px,#00e1ff 341px,#009bff 374px,#0080ff 379px,#0084ff 386px,#0081ff 414px,#0081ff 419px,#07f 450px,#002bff 451px,#0004ff 452px,#0005ff 457px,#00f 457px,#4000ff 458px,#6200ff 459px,#7400ff 465px,#f0f 465px,#f00 466px,#f00 492px,#f0f 493px,#f0f 499px,#f00 500px,#ff000d 503px,#f0f 503px,#00f 504px,#00f 504px,#00f 504px,#0600ff 508px,#4800ff 509px,#60f 511px,#60f 530px)"></i><i style="left:302.9px;width:10.5px;background:linear-gradient(#ffda00 0px,#ffcd00 25px,#ff9b00 32px,#ffa400 42px,#ffb300 51px,#ff9f00 52px,#ffb600 59px,#ffa300 80px,#ffa600 97px,#ffeb00 103px,#fff600 117px,#ff0 118px,#d6ff00 120px,#bfff00 139px,#a9ff00 148px,#bcff00 153px,#dfff00 156px,#ff0 173px,#ffef00 182px,#ff0 218px,#f1ff00 248px,#d2ff00 257px,#c2ff00 275px,#7eff00 279px,#90ff00 285px,#b2ff00 288px,#b8ff00 298px,#ff0 299px,#ffe100 300px,#fff300 305px,#ff0 312px,#f6ff00 318px,#ff0 319px,#ffe100 321px,#ff0 327px,#fcff00 327px,#84ff00 329px,#6dff00 338px,#0f0 339px,#00ff0e 339px,#00ffd1 340px,#0ff 341px,#00e1ff 341px,#009aff 374px,#0080ff 379px,#0083ff 386px,#0080ff 414px,#0078ff 450px,#002dff 451px,#0008ff 452px,#0009ff 457px,#00f 457px,#5b00ff 459px,#6500ff 464px,#7e00ff 465px,#f0f 465px,#f00 466px,#f00 492px,#f0f 493px,#f0f 499px,#f00 500px,#ff0019 503px,#f0f 503px,#00f 504px,#0001ff 504px,#00f 504px,#0d00ff 508px,#4d00ff 509px,#60f 511px,#60f 530px)"></i><i style="left:313.1px;width:10.6px;background:linear-gradient(#ffda00 0px,#fc0 25px,#ff9c00 32px,#ffa300 42px,#ffb300 51px,#ffa000 52px,#ffb400 60px,#f90 96px,#ffe900 103px,#fff700 117px,#ff0 117px,#d7ff00 120px,#beff00 139px,#a9ff00 150px,#bf0 153px,#df0 157px,#ff0 173px,#ffef00 181px,#ff0 217px,#f1ff00 248px,#d1ff00 258px,#bfff00 275px,#7eff00 279px,#8eff00 285px,#b0ff00 289px,#b9ff00 298px,#ff0 299px,#ffe300 300px,#fff300 305px,#fffb00 312px,#ff0 314px,#f6ff00 318px,#ff0 319px,#ffe300 321px,#ff0 326px,#fbff00 327px,#87ff00 329px,#68ff00 338px,#0f0 339px,#00ff12 339px,#00ffd3 340px,#0ff 341px,#00e0ff 341px,#09f 374px,#0080ff 379px,#0083ff 386px,#0080ff 414px,#0078ff 450px,#0030ff 451px,#000dff 452px,#000eff 457px,#00f 457px,#5300ff 459px,#6200ff 464px,#80f 465px,#f0f 465px,#f00 466px,#f00 492px,#f0f 493px,#f0f 499px,#f00 500px,#f00 502px,#ff0026 503px,#f0f 503px,#00f 504px,#0001ff 504px,#00f 504px,#1300ff 508px,#5100ff 509px,#60f 512px,#60f 530px)"></i><i style="left:323.4px;width:10.6px;background:linear-gradient(#ffdb00 0px,#ffc200 26px,#ff9d00 33px,#ffa300 42px,#ffb300 51px,#ffa000 52px,#ffb200 61px,#f90 96px,#ffe800 103px,#fff900 117px,#ff0 117px,#d8ff00 120px,#b3ff00 140px,#b9ff00 153px,#d9ff00 157px,#ff0 173px,#ffef00 180px,#ff0 217px,#f1ff00 248px,#cfff00 259px,#bdff00 275px,#7dff00 279px,#8dff00 285px,#aeff00 289px,#b9ff00 298px,#ff0 299px,#ffe500 300px,#fff700 312px,#ff0 315px,#f5ff00 318px,#ff0 319px,#ffe400 321px,#ff0 326px,#faff00 327px,#89ff00 329px,#73ff00 337px,#63ff00 338px,#0f0 339px,#00ff17 339px,#00ffd5 340px,#0ff 341px,#00e0ff 341px,#0098ff 374px,#0080ff 380px,#0083ff 386px,#007fff 414px,#0078ff 450px,#03f 451px,#01f 452px,#0012ff 457px,#00f 457px,#4b00ff 459px,#6000ff 464px,#9200ff 465px,#f0f 465px,#f00 466px,#f00 492px,#f0f 493px,#f0f 499px,#f00 500px,#f00 502px,#f03 503px,#f0f 503px,#00f 504px,#0001ff 504px,#0001ff 507px,#00f 507px,#6800ff 510px,#60f 530px)"></i><i style="left:333.7px;width:10.5px;background:linear-gradient(#ffdb00 0px,#ffc200 26px,#ff9d00 33px,#ffa200 42px,#ffb300 51px,#ffa100 52px,#ffb100 62px,#f90 96px,#ffe600 103px,#fffb00 117px,#ff0 117px,#d9ff00 120px,#b2ff00 140px,#b8ff00 153px,#d5ff00 157px,#ff0 173px,#ffef00 179px,#ff0 216px,#f1ff00 248px,#caff00 262px,#baff00 275px,#7cff00 279px,#8cff00 285px,#abff00 289px,#baff00 298px,#ff0 299px,#ffe700 300px,#fff300 306px,#ffe000 311px,#ff0 313px,#f7ff00 314px,#ff0 317px,#fff700 319px,#fe0 323px,#ff0 326px,#f9ff00 327px,#8cff00 329px,#71ff00 337px,#5eff00 338px,#0f0 339px,#00ff1c 339px,#00ffd6 340px,#0ff 341px,#00e0ff 341px,#00a4ff 373px,#0080ff 378px,#0083ff 386px,#007fff 414px,#0078ff 450px,#0015ff 452px,#0017ff 457px,#00f 458px,#4300ff 459px,#4300ff 463px,#5d00ff 464px,#9b00ff 465px,#f0f 465px,#f00 466px,#f00 492px,#f0f 493px,#f0f 499px,#f00 500px,#f00 502px,#ff0040 503px,#f0f 503px,#00f 504px,#0001ff 504px,#0001ff 507px,#00f 507px,#5a00ff 509px,#60f 530px)"></i><i style="left:343.9px;width:10.6px;background:linear-gradient(#ffdc00 0px,#ffc100 26px,#ff9f00 34px,#ffa000 42px,#ffb600 67px,#f90 96px,#ffe200 103px,#fffe00 116px,#ff0 116px,#daff00 121px,#b0ff00 140px,#b6ff00 153px,#ceff00 158px,#e3ff00 162px,#ff0 174px,#fff000 180px,#ff0 216px,#f1ff00 248px,#b5ff00 273px,#a1ff00 276px,#7bff00 279px,#89ff00 285px,#a6ff00 289px,#bcff00 298px,#ff0 300px,#ffec00 300px,#ffeb00 306px,#ffd000 308px,#ffd000 311px,#ff0 313px,#f8ff00 313px,#ff0 316px,#fffa00 319px,#fff600 323px,#ff0 325px,#f7ff00 326px,#9cff00 328px,#7dff00 335px,#2aff00 337px,#0f0 337px,#00ffb2 338px,#0ff 339px,#00dfff 339px,#00b0ff 368px,#0080ff 380px,#0083ff 386px,#0079ff 450px,#001eff 452px,#0021ff 457px,#00f 458px,#30f 459px,#30f 463px,#5800ff 464px,#b000ff 465px,#f0f 465px,#f00 466px,#f00 492px,#f0f 493px,#f0f 499px,#f00 500px,#f00 502px,#ff005a 503px,#f0f 503px,#00f 504px,#0002ff 504px,#0002ff 507px,#00f 507px,#6300ff 509px,#60f 530px)"></i><i style="left:354.2px;width:10.5px;background:linear-gradient(#fd0 0px,#ffc000 26px,#ffa100 34px,#ffa800 49px,#ffc000 66px,#f90 92px,#ffb200 98px,#ffdf00 104px,#ff0 110px,#feff00 110px,#edff00 118px,#a6ff00 148px,#b4ff00 153px,#c9ff00 161px,#f7ff00 164px,#ff0 176px,#fff000 197px,#ff0 232px,#f9ff00 247px,#b0ff00 270px,#9dff00 276px,#7aff00 279px,#87ff00 285px,#a2ff00 290px,#bdff00 298px,#ff0 300px,#fff000 300px,#fff600 305px,#ffbf00 307px,#ffbf00 311px,#ff0 313px,#f9ff00 313px,#ff0 317px,#fffc00 319px,#fffe00 323px,#ff0 323px,#e7ff00 326px,#95ff00 328px,#8dff00 333px,#43ff00 335px,#0f0 335px,#00ff80 336px,#0ff 337px,#00e6ff 337px,#00b0ff 368px,#0080ff 380px,#0080ff 408px,#0079ff 450px,#0027ff 452px,#002aff 457px,#00f 458px,#2300ff 459px,#2300ff 463px,#5200ff 464px,#c400ff 465px,#f0f 465px,#f00 466px,#f00 492px,#f0f 493px,#f0f 499px,#f00 500px,#f00 502px,#ff0075 503px,#f0f 503px,#00f 504px,#0002ff 504px,#0002ff 507px,#00f 507px,#6c00ff 509px,#60f 530px)"></i><i style="left:364.4px;width:10.6px;background:linear-gradient(#ffde00 0px,#ffbf00 26px,#ffa300 36px,#ffa600 49px,#ffbe00 62px,#f90 96px,#ffdc00 104px,#ff0 108px,#fbff00 109px,#ecff00 118px,#ceff00 128px,#a5ff00 151px,#beff00 158px,#c1ff00 161px,#f7ff00 163px,#ff0 172px,#ffeb00 194px,#ff0 233px,#f8ff00 247px,#af0 270px,#98ff00 276px,#78ff00 280px,#91ff00 286px,#beff00 298px,#ff0 300px,#fff400 300px,#fff700 305px,#ffaf00 307px,#ffaf00 311px,#ff0 313px,#f9ff00 313px,#ff0 318px,#fffe00 319px,#ff0 319px,#f1ff00 325px,#9aff00 327px,#8aff00 332px,#52ff00 333px,#0f0 334px,#00ff21 334px,#00fff0 335px,#0ff 335px,#00deff 336px,#00afff 368px,#0080ff 380px,#0085ff 391px,#0082ff 408px,#007aff 450px,#002fff 452px,#0034ff 457px,#00f 458px,#1300ff 459px,#1300ff 463px,#4d00ff 464px,#d900ff 465px,#f0f 465px,#f00 466px,#f00 500px,#f0f 501px,#a100ff 501px,#00f 502px,#0003ff 502px,#0003ff 506px,#00f 506px,#4800ff 507px,#7f00ff 509px,#60f 512px,#60f 530px)"></i><i style="left:374.7px;width:10.6px;background:linear-gradient(#ffe000 0px,#ffd500 13px,#ffb200 28px,#ff9c00 42px,#ffc300 62px,#f90 94px,#fff000 106px,#ff0 108px,#f7ff00 109px,#ceff00 128px,#a4ff00 151px,#b8ff00 160px,#d9ff00 162px,#faff00 164px,#ff0 170px,#ffeb00 194px,#fff800 239px,#ff0 241px,#b3ff00 264px,#94ff00 276px,#7f0 280px,#8dff00 286px,#afff00 295px,#d8ff00 299px,#ff0 300px,#fff900 300px,#fff700 305px,#ff9e00 307px,#ff9e00 311px,#ff0 313px,#faff00 313px,#feff00 319px,#f1ff00 324px,#9fff00 326px,#96ff00 330px,#23ff00 332px,#0f0 332px,#00ffd0 333px,#0ff 334px,#00deff 334px,#00c2ff 367px,#009cff 370px,#0080ff 382px,#0087ff 391px,#0084ff 408px,#007aff 450px,#0039ff 452px,#003dff 456px,#00f 458px,#0300ff 458px,#0300ff 462px,#4200ff 463px,#f0f 464px,#ff00fa 464px,#f00 465px,#f00 498px,#f0f 499px,#8600ff 499px,#00f 500px,#0003ff 500px,#0003ff 505px,#00f 505px,#60f 507px,#7a00ff 509px,#60f 516px,#60f 530px)"></i><i style="left:385.0px;width:10.5px;background:linear-gradient(#ffe200 0px,#ffd400 13px,#ff9e00 39px,#ffa900 50px,#ffc600 58px,#ffc200 67px,#f90 83px,#ff9f00 97px,#ffd000 104px,#fff000 106px,#ff0 107px,#efff00 108px,#e3ff00 127px,#b6ff00 130px,#af0 153px,#a5ff00 161px,#fdff00 163px,#ff0 166px,#ffe900 194px,#fff100 227px,#fff400 239px,#ff0 242px,#baff00 263px,#96ff00 266px,#89ff00 276px,#74ff00 284px,#9cff00 294px,#d7ff00 299px,#ff0 301px,#ff0 301px,#fff900 305px,#f70 307px,#f70 311px,#ff0 313px,#fbff00 313px,#ecff00 323px,#e4ff00 324px,#aeff00 325px,#9cff00 329px,#26ff00 330px,#0f0 330px,#00ffbc 331px,#0ff 332px,#0df 332px,#00c8ff 367px,#0095ff 370px,#007cff 390px,#009fff 393px,#009fff 407px,#0072ff 410px,#007bff 450px,#0053ff 451px,#0042ff 456px,#0024ff 458px,#0024ff 460px,#00f 461px,#2000ff 461px,#f0f 462px,#ff0095 462px,#f00 463px,#f00 496px,#f0f 497px,#a600ff 497px,#00f 498px,#0005ff 498px,#0005ff 504px,#00f 504px,#7b00ff 506px,#9700ff 508px,#60f 511px,#60f 530px)"></i><i style="left:395.2px;width:10.6px;background:linear-gradient(#ffe500 0px,#ffd300 13px,#ff9f00 39px,#ffa700 50px,#ffca00 58px,#ffdb00 66px,#ffb400 69px,#f90 96px,#ffc700 104px,#ffc800 105px,#ff0 106px,#e6ff00 107px,#e8ff00 127px,#afff00 129px,#a0ff00 155px,#91ff00 161px,#ff0 163px,#fffe00 163px,#ffe800 185px,#ffe800 194px,#ffec00 227px,#fff000 239px,#ff0 243px,#b5ff00 263px,#8f0 266px,#7cff00 286px,#95ff00 294px,#faff00 302px,#ff0 304px,#fffb00 305px,#ff4f00 307px,#ff4f00 311px,#ff0 313px,#fcff00 313px,#e3ff00 323px,#b0ff00 326px,#acff00 327px,#4eff00 328px,#0f0 328px,#00ff94 329px,#0ff 330px,#00deff 330px,#00cdff 367px,#008eff 369px,#007dff 390px,#0af 393px,#0af 407px,#0071ff 409px,#007cff 450px,#0060ff 451px,#005dff 455px,#004bff 458px,#0017ff 459px,#00f 459px,#f0f 460px,#ff0021 460px,#f00 462px,#f00 494px,#f0f 495px,#cb00ff 495px,#00f 496px,#0006ff 496px,#0006ff 503px,#00f 503px,#1800ff 504px,#9500ff 505px,#a0f 507px,#60f 510px,#60f 530px)"></i><i style="left:405.5px;width:10.5px;background:linear-gradient(#ffea00 0px,#ffea00 12px,#ffb700 15px,#ffb700 38px,#ff8c00 41px,#ff8c00 49px,#ffb700 52px,#ffb700 57px,#fe0 59px,#fe0 66px,#ffb700 68px,#ffa800 72px,#ffa800 98px,#ffb700 105px,#ff0 106px,#d5ff00 107px,#e3ff00 118px,#f2ff00 127px,#a2ff00 129px,#9f0 154px,#6aff00 157px,#6aff00 161px,#ff0 163px,#fff700 163px,#ffe600 185px,#ffd400 193px,#fff700 197px,#fff700 226px,#ffd000 229px,#ffd000 238px,#ff0 241px,#fdff00 241px,#cfff00 258px,#af0 263px,#6aff00 265px,#6aff00 293px,#c6ff00 297px,#ff0 305px,#ff0 305px,#f00 307px,#f00 311px,#ff0 313px,#ff0 313px,#bfff00 326px,#0f0 327px,#00ff7f 327px,#0ff 328px,#00d9ff 328px,#00d9ff 367px,#0080ff 369px,#0080ff 390px,#00bfff 392px,#00bfff 407px,#006fff 409px,#008cff 451px,#09f 457px,#00f 457px,#f0f 458px,#f00 458px,#f00 492px,#f0f 493px,#9d00ff 493px,#00f 494px,#0008ff 494px,#0008ff 503px,#00f 503px,#d400ff 504px,#d500ff 507px,#60f 509px,#60f 530px)"></i><i style="left:415.7px;width:10.6px;background:linear-gradient(#ffe500 0px,#ffd300 13px,#ff9f00 39px,#ffa700 50px,#ffca00 58px,#ffdb00 66px,#ffb400 69px,#f90 96px,#ffc700 104px,#ffc800 105px,#ff0 106px,#e6ff00 107px,#e8ff00 127px,#afff00 129px,#a0ff00 155px,#91ff00 161px,#ff0 163px,#fffe00 163px,#ffe800 185px,#ffe800 194px,#ffec00 227px,#fff000 239px,#ff0 243px,#b5ff00 263px,#8f0 266px,#7cff00 286px,#95ff00 294px,#faff00 302px,#ff0 304px,#fffb00 305px,#ff4f00 307px,#ff4f00 311px,#ff0 313px,#fcff00 313px,#e3ff00 323px,#b0ff00 326px,#acff00 327px,#4eff00 328px,#0f0 328px,#00ff94 329px,#0ff 330px,#00deff 330px,#00cdff 367px,#008eff 369px,#007dff 390px,#0af 393px,#0af 407px,#0071ff 409px,#007cff 450px,#0060ff 451px,#005dff 455px,#004bff 458px,#0017ff 459px,#00f 459px,#f0f 460px,#ff0021 460px,#f00 462px,#f00 494px,#f0f 495px,#cb00ff 495px,#00f 496px,#0006ff 496px,#0006ff 503px,#00f 503px,#1800ff 504px,#9500ff 505px,#a0f 507px,#60f 510px,#60f 530px)"></i><i style="left:426.0px;width:10.5px;background:linear-gradient(#ffe200 0px,#ffd400 13px,#ff9e00 39px,#ffa900 50px,#ffc600 58px,#ffc200 67px,#f90 83px,#ff9f00 97px,#ffd000 104px,#fff000 106px,#ff0 107px,#efff00 108px,#e3ff00 127px,#b6ff00 130px,#af0 153px,#a5ff00 161px,#fdff00 163px,#ff0 166px,#ffe900 194px,#fff100 227px,#fff400 239px,#ff0 242px,#baff00 263px,#96ff00 266px,#89ff00 276px,#74ff00 284px,#9cff00 294px,#d7ff00 299px,#ff0 301px,#ff0 301px,#fff900 305px,#f70 307px,#f70 311px,#ff0 313px,#fbff00 313px,#ecff00 323px,#e4ff00 324px,#aeff00 325px,#9cff00 329px,#26ff00 330px,#0f0 330px,#00ffbc 331px,#0ff 332px,#0df 332px,#00c8ff 367px,#0095ff 370px,#007cff 390px,#009fff 393px,#009fff 407px,#0072ff 410px,#007bff 450px,#0053ff 451px,#0042ff 456px,#0024ff 458px,#0024ff 460px,#00f 461px,#2000ff 461px,#f0f 462px,#ff0095 462px,#f00 463px,#f00 496px,#f0f 497px,#a600ff 497px,#00f 498px,#0005ff 498px,#0005ff 504px,#00f 504px,#7b00ff 506px,#9700ff 508px,#60f 511px,#60f 530px)"></i><i style="left:436.2px;width:10.6px;background:linear-gradient(#ffe000 0px,#ffd500 13px,#ffb200 28px,#ff9c00 42px,#ffc300 62px,#f90 94px,#fff000 106px,#ff0 108px,#f7ff00 109px,#ceff00 128px,#a4ff00 151px,#b8ff00 160px,#d9ff00 162px,#faff00 164px,#ff0 170px,#ffeb00 194px,#fff800 239px,#ff0 241px,#b3ff00 264px,#94ff00 276px,#7f0 280px,#8dff00 286px,#afff00 295px,#d8ff00 299px,#ff0 300px,#fff900 300px,#fff700 305px,#ff9e00 307px,#ff9e00 311px,#ff0 313px,#faff00 313px,#feff00 319px,#f1ff00 324px,#9fff00 326px,#96ff00 330px,#23ff00 332px,#0f0 332px,#00ffd0 333px,#0ff 334px,#00deff 334px,#00c2ff 367px,#009cff 370px,#0080ff 382px,#0087ff 391px,#0084ff 408px,#007aff 450px,#0039ff 452px,#003dff 456px,#00f 458px,#0300ff 458px,#0300ff 462px,#4200ff 463px,#f0f 464px,#ff00fa 464px,#f00 465px,#f00 498px,#f0f 499px,#8600ff 499px,#00f 500px,#0003ff 500px,#0003ff 505px,#00f 505px,#60f 507px,#7a00ff 509px,#60f 516px,#60f 530px)"></i><i style="left:446.5px;width:10.6px;background:linear-gradient(#ffde00 0px,#ffbf00 26px,#ffa300 36px,#ffa600 49px,#ffbe00 62px,#f90 96px,#ffdc00 104px,#ff0 108px,#fbff00 109px,#ecff00 118px,#ceff00 128px,#a5ff00 151px,#beff00 158px,#c1ff00 161px,#f7ff00 163px,#ff0 172px,#ffeb00 194px,#ff0 233px,#f8ff00 247px,#af0 270px,#98ff00 276px,#78ff00 280px,#91ff00 286px,#beff00 298px,#ff0 300px,#fff400 300px,#fff700 305px,#ffaf00 307px,#ffaf00 311px,#ff0 313px,#f9ff00 313px,#ff0 318px,#fffe00 319px,#ff0 319px,#f1ff00 325px,#9aff00 327px,#8aff00 332px,#52ff00 333px,#0f0 334px,#00ff21 334px,#00fff0 335px,#0ff 335px,#00deff 336px,#00afff 368px,#0080ff 380px,#0085ff 391px,#0082ff 408px,#007aff 450px,#002fff 452px,#0034ff 457px,#00f 458px,#1300ff 459px,#1300ff 463px,#4d00ff 464px,#d900ff 465px,#f0f 465px,#f00 466px,#f00 500px,#f0f 501px,#a100ff 501px,#00f 502px,#0003ff 502px,#0003ff 506px,#00f 506px,#4800ff 507px,#7f00ff 509px,#60f 512px,#60f 530px)"></i><i style="left:456.8px;width:10.5px;background:linear-gradient(#fd0 0px,#ffc000 26px,#ffa100 34px,#ffa800 49px,#ffc000 66px,#f90 92px,#ffb200 98px,#ffdf00 104px,#ff0 110px,#feff00 110px,#edff00 118px,#a6ff00 148px,#b4ff00 153px,#c9ff00 161px,#f7ff00 164px,#ff0 176px,#fff000 197px,#ff0 232px,#f9ff00 247px,#b0ff00 270px,#9dff00 276px,#7aff00 279px,#87ff00 285px,#a2ff00 290px,#bdff00 298px,#ff0 300px,#fff000 300px,#fff600 305px,#ffbf00 307px,#ffbf00 311px,#ff0 313px,#f9ff00 313px,#ff0 317px,#fffc00 319px,#fffe00 323px,#ff0 323px,#e7ff00 326px,#95ff00 328px,#8dff00 333px,#43ff00 335px,#0f0 335px,#00ff80 336px,#0ff 337px,#00e6ff 337px,#00b0ff 368px,#0080ff 380px,#0080ff 408px,#0079ff 450px,#0027ff 452px,#002aff 457px,#00f 458px,#2300ff 459px,#2300ff 463px,#5200ff 464px,#c400ff 465px,#f0f 465px,#f00 466px,#f00 492px,#f0f 493px,#f0f 499px,#f00 500px,#f00 502px,#ff0075 503px,#f0f 503px,#00f 504px,#0002ff 504px,#0002ff 507px,#00f 507px,#6c00ff 509px,#60f 530px)"></i><i style="left:467.0px;width:10.6px;background:linear-gradient(#ffdc00 0px,#ffc100 26px,#ff9f00 34px,#ffa000 42px,#ffb600 67px,#f90 96px,#ffe200 103px,#fffe00 116px,#ff0 116px,#daff00 121px,#b0ff00 140px,#b6ff00 153px,#ceff00 158px,#e3ff00 162px,#ff0 174px,#fff000 180px,#ff0 216px,#f1ff00 248px,#b5ff00 273px,#a1ff00 276px,#7bff00 279px,#89ff00 285px,#a6ff00 289px,#bcff00 298px,#ff0 300px,#ffec00 300px,#ffeb00 306px,#ffd000 308px,#ffd000 311px,#ff0 313px,#f8ff00 313px,#ff0 316px,#fffa00 319px,#fff600 323px,#ff0 325px,#f7ff00 326px,#9cff00 328px,#7dff00 335px,#2aff00 337px,#0f0 337px,#00ffb2 338px,#0ff 339px,#00dfff 339px,#00b0ff 368px,#0080ff 380px,#0083ff 386px,#0079ff 450px,#001eff 452px,#0021ff 457px,#00f 458px,#30f 459px,#30f 463px,#5800ff 464px,#b000ff 465px,#f0f 465px,#f00 466px,#f00 492px,#f0f 493px,#f0f 499px,#f00 500px,#f00 502px,#ff005a 503px,#f0f 503px,#00f 504px,#0002ff 504px,#0002ff 507px,#00f 507px,#6300ff 509px,#60f 530px)"></i><i style="left:477.3px;width:10.5px;background:linear-gradient(#ffdb00 0px,#ffc200 26px,#ff9d00 33px,#ffa200 42px,#ffb300 51px,#ffa100 52px,#ffb100 62px,#f90 96px,#ffe600 103px,#fffb00 117px,#ff0 117px,#d9ff00 120px,#b2ff00 140px,#b8ff00 153px,#d5ff00 157px,#ff0 173px,#ffef00 179px,#ff0 216px,#f1ff00 248px,#caff00 262px,#baff00 275px,#7cff00 279px,#8cff00 285px,#abff00 289px,#baff00 298px,#ff0 299px,#ffe700 300px,#fff300 306px,#ffe000 311px,#ff0 313px,#f7ff00 314px,#ff0 317px,#fff700 319px,#fe0 323px,#ff0 326px,#f9ff00 327px,#8cff00 329px,#71ff00 337px,#5eff00 338px,#0f0 339px,#00ff1c 339px,#00ffd6 340px,#0ff 341px,#00e0ff 341px,#00a4ff 373px,#0080ff 378px,#0083ff 386px,#007fff 414px,#0078ff 450px,#0015ff 452px,#0017ff 457px,#00f 458px,#4300ff 459px,#4300ff 463px,#5d00ff 464px,#9b00ff 465px,#f0f 465px,#f00 466px,#f00 492px,#f0f 493px,#f0f 499px,#f00 500px,#f00 502px,#ff0040 503px,#f0f 503px,#00f 504px,#0001ff 504px,#0001ff 507px,#00f 507px,#5a00ff 509px,#60f 530px)"></i><i style="left:487.5px;width:10.6px;background:linear-gradient(#ffdb00 0px,#ffc200 26px,#ff9d00 33px,#ffa300 42px,#ffb300 51px,#ffa000 52px,#ffb200 61px,#f90 96px,#ffe800 103px,#fff900 117px,#ff0 117px,#d8ff00 120px,#b3ff00 140px,#b9ff00 153px,#d9ff00 157px,#ff0 173px,#ffef00 180px,#ff0 217px,#f1ff00 248px,#cfff00 259px,#bdff00 275px,#7dff00 279px,#8dff00 285px,#aeff00 289px,#b9ff00 298px,#ff0 299px,#ffe500 300px,#fff700 312px,#ff0 315px,#f5ff00 318px,#ff0 319px,#ffe400 321px,#ff0 326px,#faff00 327px,#89ff00 329px,#73ff00 337px,#63ff00 338px,#0f0 339px,#00ff17 339px,#00ffd5 340px,#0ff 341px,#00e0ff 341px,#0098ff 374px,#0080ff 380px,#0083ff 386px,#007fff 414px,#0078ff 450px,#03f 451px,#01f 452px,#0012ff 457px,#00f 457px,#4b00ff 459px,#6000ff 464px,#9200ff 465px,#f0f 465px,#f00 466px,#f00 492px,#f0f 493px,#f0f 499px,#f00 500px,#f00 502px,#f03 503px,#f0f 503px,#00f 504px,#0001ff 504px,#0001ff 507px,#00f 507px,#6800ff 510px,#60f 530px)"></i><i style="left:497.8px;width:10.6px;background:linear-gradient(#ffda00 0px,#fc0 25px,#ff9c00 32px,#ffa300 42px,#ffb300 51px,#ffa000 52px,#ffb400 60px,#f90 96px,#ffe900 103px,#fff700 117px,#ff0 117px,#d7ff00 120px,#beff00 139px,#a9ff00 150px,#bf0 153px,#df0 157px,#ff0 173px,#ffef00 181px,#ff0 217px,#f1ff00 248px,#d1ff00 258px,#bfff00 275px,#7eff00 279px,#8eff00 285px,#b0ff00 289px,#b9ff00 298px,#ff0 299px,#ffe300 300px,#fff300 305px,#fffb00 312px,#ff0 314px,#f6ff00 318px,#ff0 319px,#ffe300 321px,#ff0 326px,#fbff00 327px,#87ff00 329px,#68ff00 338px,#0f0 339px,#00ff12 339px,#00ffd3 340px,#0ff 341px,#00e0ff 341px,#09f 374px,#0080ff 379px,#0083ff 386px,#0080ff 414px,#0078ff 450px,#0030ff 451px,#000dff 452px,#000eff 457px,#00f 457px,#5300ff 459px,#6200ff 464px,#80f 465px,#f0f 465px,#f00 466px,#f00 492px,#f0f 493px,#f0f 499px,#f00 500px,#f00 502px,#ff0026 503px,#f0f 503px,#00f 504px,#0001ff 504px,#00f 504px,#1300ff 508px,#5100ff 509px,#60f 512px,#60f 530px)"></i><i style="left:508.1px;width:10.5px;background:linear-gradient(#ffda00 0px,#ffcd00 25px,#ff9b00 32px,#ffa400 42px,#ffb300 51px,#ff9f00 52px,#ffb600 59px,#ffa300 80px,#ffa600 97px,#ffeb00 103px,#fff600 117px,#ff0 118px,#d6ff00 120px,#bfff00 139px,#a9ff00 148px,#bcff00 153px,#dfff00 156px,#ff0 173px,#ffef00 182px,#ff0 218px,#f1ff00 248px,#d2ff00 257px,#c2ff00 275px,#7eff00 279px,#90ff00 285px,#b2ff00 288px,#b8ff00 298px,#ff0 299px,#ffe100 300px,#fff300 305px,#ff0 312px,#f6ff00 318px,#ff0 319px,#ffe100 321px,#ff0 327px,#fcff00 327px,#84ff00 329px,#6dff00 338px,#0f0 339px,#00ff0e 339px,#00ffd1 340px,#0ff 341px,#00e1ff 341px,#009aff 374px,#0080ff 379px,#0083ff 386px,#0080ff 414px,#0078ff 450px,#002dff 451px,#0008ff 452px,#0009ff 457px,#00f 457px,#5b00ff 459px,#6500ff 464px,#7e00ff 465px,#f0f 465px,#f00 466px,#f00 492px,#f0f 493px,#f0f 499px,#f00 500px,#ff0019 503px,#f0f 503px,#00f 504px,#0001ff 504px,#00f 504px,#0d00ff 508px,#4d00ff 509px,#60f 511px,#60f 530px)"></i><i style="left:518.3px;width:10.6px;background:linear-gradient(#ffd900 0px,#ffcd00 25px,#ff9a00 32px,#ffa500 42px,#ffb300 51px,#ff9e00 52px,#ffb800 58px,#ffae00 75px,#f90 96px,#ffed00 103px,#fff400 117px,#ff0 117px,#d5ff00 119px,#c0ff00 139px,#af0 147px,#bdff00 153px,#e3ff00 156px,#ff0 173px,#fe0 183px,#ff0 219px,#f1ff00 248px,#d2ff00 256px,#c5ff00 275px,#7fff00 278px,#91ff00 285px,#b4ff00 288px,#b7ff00 298px,#daff00 299px,#ff0 300px,#ffdf00 300px,#fff300 305px,#ff0 313px,#f6ff00 318px,#ff0 319px,#ffdf00 321px,#ff0 327px,#feff00 327px,#82ff00 329px,#72ff00 338px,#0f0 339px,#00ff09 339px,#00ffd0 340px,#0ff 341px,#00e1ff 341px,#009bff 374px,#0080ff 379px,#0084ff 386px,#0081ff 414px,#0081ff 419px,#07f 450px,#002bff 451px,#0004ff 452px,#0005ff 457px,#00f 457px,#4000ff 458px,#6200ff 459px,#7400ff 465px,#f0f 465px,#f00 466px,#f00 492px,#f0f 493px,#f0f 499px,#f00 500px,#ff000d 503px,#f0f 503px,#00f 504px,#00f 504px,#00f 504px,#0600ff 508px,#4800ff 509px,#60f 511px,#60f 530px)"></i><i style="left:528.6px;width:31.1px;background:linear-gradient(#ffd900 0px,#ffce00 25px,#f90 32px,#ffa600 42px,#ffb200 51px,#ff9d00 52px,#ffb700 58px,#ffae00 68px,#ffa400 80px,#ffa700 97px,#fe0 103px,#fff200 117px,#ff0 117px,#d5ff00 119px,#c1ff00 139px,#af0 147px,#beff00 153px,#e7ff00 156px,#ff0 172px,#fe0 184px,#ff0 219px,#f1ff00 248px,#d2ff00 256px,#c8ff00 275px,#80ff00 278px,#92ff00 285px,#b7ff00 288px,#b7ff00 298px,#daff00 299px,#ff0 300px,#fd0 300px,#fff200 305px,#ff0 308px,#f7ff00 310px,#f7ff00 318px,#ff0 319px,#fd0 321px,#ff0 327px,#ff0 327px,#80ff00 329px,#7f0 338px,#0f0 339px,#00ff04 339px,#00ffce 340px,#0ff 341px,#00e1ff 341px,#009cff 374px,#0080ff 379px,#0084ff 386px,#0082ff 414px,#0082ff 419px,#07f 450px,#0028ff 451px,#00f 452px,#00f 457px,#4700ff 458px,#6a00ff 459px,#6a00ff 465px,#f0f 465px,#f00 466px,#f00 492px,#f0f 493px,#f0f 499px,#f00 500px,#f00 503px,#f0f 504px,#00f 504px,#00f 508px,#60f 510px,#60f 530px)"></i><i style="left:559.4px;width:10.5px;background:linear-gradient(#ffbd00 0px,#ffab00 27px,#ff9700 41px,#ffad00 69px,#ffce00 77px,#ffd300 91px,#ff0 102px,#f0ff00 106px,#cdff00 118px,#cf0 122px,#e2ff00 139px,#f7ff00 154px,#ff0 175px,#fff700 197px,#ffec00 215px,#ff0 225px,#f2ff00 231px,#e6ff00 244px,#bdff00 247px,#b6ff00 259px,#c0ff00 274px,#edff00 275px,#d5ff00 280px,#c1ff00 284px,#df0 291px,#f6ff00 299px,#ff0 300px,#fff000 301px,#fff200 303px,#ff0 303px,#bf0 306px,#bf0 316px,#0f0 319px,#00ff0d 319px,#00ff14 327px,#00ff54 329px,#00ff5b 338px,#00ff9a 339px,#0ff 340px,#00feff 340px,#00d6ff 341px,#00c7ff 351px,#00a2ff 354px,#00a1ff 371px,#07f 397px,#006eff 433px,#003cff 434px,#0029ff 439px,#0006ff 441px,#00f 444px,#0b00ff 449px,#2d00ff 450px,#8f00ff 451px,#f0f 451px,#ff0058 452px,#f00 453px,#f00 502px,#ff00bf 503px,#f0f 503px,#4000ff 504px,#4300ff 508px,#7800ff 511px,#9100ff 530px)"></i><i style="left:569.6px;width:10.6px;background:linear-gradient(#ffa200 0px,#ffa000 68px,#fe0 74px,#fffe00 90px,#ff0 90px,#d0ff00 94px,#d0ff00 107px,#af0 110px,#af0 121px,#e1ff00 123px,#ff0 135px,#fe0 142px,#fff400 173px,#ff0 199px,#ffd900 202px,#ffd900 215px,#ff0 218px,#ff0 230px,#d0ff00 233px,#d0ff00 244px,#80ff00 246px,#80ff00 258px,#b7ff00 260px,#b7ff00 274px,#ff0 275px,#ffed00 275px,#ffbf00 276px,#ffd300 280px,#fffb00 281px,#fffb00 292px,#ffc800 295px,#ffc800 298px,#ff0 300px,#feff00 300px,#f7ff00 303px,#80ff00 305px,#80ff00 316px,#0f0 317px,#00ff7f 318px,#0ff 319px,#00d9ff 319px,#0bf 351px,#0080ff 353px,#0080ff 370px,#0af 373px,#0af 381px,#07f 384px,#07f 433px,#00f 435px,#00f 439px,#6a00ff 441px,#70f 450px,#f500ff 452px,#f0f 452px,#f00 453px,#f00 470px,#f0f 471px,#a200ff 471px,#a200ff 479px,#00f 481px,#00f 488px,#6e00ff 490px,#bd00ff 530px)"></i><i style="left:579.9px;width:10.5px;background:linear-gradient(#ffa200 0px,#ffa000 68px,#fe0 74px,#fffe00 90px,#ff0 90px,#d0ff00 94px,#d0ff00 107px,#af0 110px,#af0 121px,#e1ff00 123px,#ff0 135px,#fe0 142px,#fff400 173px,#ff0 199px,#ffd900 202px,#ffd900 215px,#ff0 218px,#ff0 230px,#d0ff00 233px,#d0ff00 244px,#80ff00 246px,#80ff00 258px,#b7ff00 260px,#b7ff00 274px,#ff0 275px,#ffed00 275px,#ffbf00 276px,#ffd300 280px,#fffb00 281px,#fffb00 292px,#ffc800 295px,#ffc800 298px,#ff0 300px,#feff00 300px,#f7ff00 303px,#80ff00 305px,#80ff00 316px,#0f0 317px,#00ff7f 318px,#0ff 319px,#00d9ff 319px,#0bf 351px,#0080ff 353px,#0080ff 370px,#0af 373px,#0af 381px,#07f 384px,#07f 433px,#0010ff 434px,#00f 436px,#1000ff 439px,#6a00ff 441px,#6a00ff 449px,#ea00ff 451px,#f0f 451px,#f00 452px,#f00 470px,#f0f 471px,#a200ff 471px,#a200ff 479px,#00f 481px,#00f 488px,#6e00ff 490px,#bd00ff 530px)"></i><i style="left:590.1px;width:10.6px;background:linear-gradient(#ffa200 0px,#ffa000 68px,#fe0 74px,#fffe00 90px,#ff0 90px,#d0ff00 94px,#d0ff00 107px,#af0 110px,#af0 121px,#e1ff00 123px,#ff0 135px,#fe0 142px,#fff400 173px,#ff0 199px,#ffd900 202px,#ffd900 215px,#ff0 218px,#ff0 230px,#d0ff00 233px,#d0ff00 244px,#80ff00 246px,#80ff00 258px,#b7ff00 260px,#b7ff00 274px,#ff0 275px,#ffed00 275px,#ffbf00 276px,#ffd300 280px,#fffb00 281px,#fffb00 292px,#ffc800 295px,#ffc800 298px,#ff0 300px,#feff00 300px,#f7ff00 303px,#80ff00 305px,#80ff00 316px,#0f0 317px,#00ff7f 318px,#0ff 319px,#00d9ff 319px,#0bf 351px,#0080ff 353px,#0080ff 370px,#0af 373px,#0af 381px,#07f 384px,#07f 432px,#005dff 433px,#00f 434px,#00f 438px,#6a00ff 440px,#6a00ff 448px,#de00ff 450px,#f0f 450px,#f00 451px,#f00 470px,#f0f 471px,#a200ff 471px,#a200ff 479px,#3f00ff 480px,#00f 481px,#00f 488px,#6e00ff 490px,#bd00ff 530px)"></i><i style="left:600.4px;width:10.6px;background:linear-gradient(#ffa200 0px,#ffa000 68px,#fe0 74px,#fffe00 90px,#ff0 90px,#d0ff00 94px,#d0ff00 107px,#af0 110px,#af0 121px,#e1ff00 123px,#ff0 135px,#fe0 142px,#fff400 173px,#ff0 199px,#ffd900 202px,#ffd900 215px,#ff0 218px,#ff0 230px,#d0ff00 233px,#d0ff00 244px,#80ff00 246px,#80ff00 258px,#b7ff00 260px,#b7ff00 274px,#ff0 275px,#ffed00 275px,#ffbf00 276px,#ffd300 280px,#fffb00 281px,#fffb00 292px,#ffc800 295px,#ffc800 298px,#ff0 300px,#feff00 300px,#f7ff00 303px,#80ff00 305px,#80ff00 316px,#0f0 317px,#00ff7f 318px,#0ff 319px,#00d9ff 319px,#0bf 351px,#0080ff 353px,#0080ff 370px,#0af 373px,#0af 381px,#07f 384px,#07f 432px,#00f 434px,#0900ff 438px,#4b00ff 439px,#6a00ff 441px,#6a00ff 447px,#8c00ff 448px,#d100ff 449px,#f0f 449px,#ff004e 450px,#f00 451px,#f00 470px,#f0f 471px,#a200ff 471px,#a200ff 479px,#3c00ff 480px,#00f 481px,#00f 488px,#6e00ff 490px,#bd00ff 530px)"></i><i style="left:610.7px;width:10.5px;background:linear-gradient(#ffa200 0px,#ffa000 68px,#fe0 74px,#fffe00 90px,#ff0 90px,#d0ff00 94px,#d0ff00 107px,#af0 110px,#af0 121px,#e1ff00 123px,#ff0 135px,#fe0 142px,#fff400 173px,#ff0 199px,#ffd900 202px,#ffd900 215px,#ff0 218px,#ff0 230px,#d0ff00 233px,#d0ff00 244px,#80ff00 246px,#80ff00 258px,#b7ff00 260px,#b7ff00 274px,#ff0 275px,#ffed00 275px,#ffbf00 276px,#ffd300 280px,#fffb00 281px,#fffb00 292px,#ffc800 295px,#ffc800 298px,#ff0 300px,#feff00 300px,#f7ff00 303px,#80ff00 305px,#80ff00 316px,#0f0 317px,#00ff7f 318px,#0ff 319px,#00d9ff 319px,#0bf 351px,#0080ff 353px,#0080ff 370px,#0af 373px,#0af 381px,#07f 384px,#07f 432px,#0021ff 433px,#00f 435px,#00f 437px,#6a00ff 439px,#7c00ff 447px,#c300ff 448px,#f0f 448px,#f00 450px,#f00 469px,#f0f 470px,#a200ff 471px,#a200ff 479px,#3900ff 480px,#00f 481px,#00f 488px,#6e00ff 490px,#bd00ff 530px)"></i><i style="left:620.9px;width:10.6px;background:linear-gradient(#ffa200 0px,#ffa000 68px,#fe0 74px,#fffe00 90px,#ff0 90px,#d0ff00 94px,#d0ff00 107px,#af0 110px,#af0 121px,#e1ff00 123px,#ff0 135px,#fe0 142px,#fff400 173px,#ff0 199px,#ffd900 202px,#ffd900 215px,#ff0 218px,#ff0 230px,#d0ff00 233px,#d0ff00 244px,#80ff00 246px,#80ff00 258px,#b7ff00 260px,#b7ff00 274px,#ff0 275px,#ffed00 275px,#ffbf00 276px,#ffd300 280px,#fffb00 281px,#fffb00 292px,#ffc800 295px,#ffc800 298px,#ff0 300px,#feff00 300px,#f7ff00 303px,#80ff00 305px,#80ff00 316px,#0f0 317px,#00ff7f 318px,#0ff 319px,#00d9ff 319px,#0bf 351px,#0080ff 353px,#0080ff 370px,#0af 373px,#0af 381px,#07f 384px,#07f 432px,#00f 433px,#00f 437px,#4700ff 438px,#6a00ff 439px,#6a00ff 446px,#f0f 448px,#f0f 448px,#f00 449px,#f00 469px,#f0f 470px,#a200ff 470px,#a200ff 479px,#3600ff 480px,#00f 481px,#00f 488px,#6e00ff 490px,#bd00ff 530px)"></i><i style="left:631.2px;width:10.5px;background:linear-gradient(#ffa200 0px,#ffa000 68px,#fe0 74px,#fffe00 90px,#ff0 90px,#d0ff00 94px,#d0ff00 107px,#af0 110px,#af0 121px,#e1ff00 123px,#ff0 135px,#fe0 142px,#fff400 173px,#ff0 199px,#ffd900 202px,#ffd900 215px,#ff0 218px,#ff0 230px,#d0ff00 233px,#d0ff00 244px,#80ff00 246px,#80ff00 258px,#b7ff00 260px,#b7ff00 274px,#ff0 275px,#ffed00 275px,#ffbf00 276px,#ffd300 280px,#fffb00 281px,#fffb00 292px,#ffc800 295px,#ffc800 298px,#ff0 300px,#feff00 300px,#f7ff00 303px,#80ff00 305px,#80ff00 316px,#0f0 317px,#00ff7f 318px,#0ff 319px,#00d9ff 319px,#0bf 351px,#0080ff 353px,#0080ff 370px,#0af 373px,#0af 381px,#07f 384px,#07f 431px,#0058ff 432px,#00f 433px,#00f 436px,#2000ff 437px,#6900ff 438px,#6a00ff 445px,#f200ff 447px,#f0f 447px,#f00 448px,#f00 469px,#f0f 470px,#a200ff 470px,#9e00ff 479px,#30f 480px,#00f 481px,#00f 488px,#6e00ff 490px,#bd00ff 530px)"></i><i style="left:641.4px;width:10.6px;background:linear-gradient(#ffa200 0px,#ffa000 68px,#fe0 74px,#fffe00 90px,#ff0 90px,#d0ff00 94px,#d0ff00 107px,#af0 110px,#af0 121px,#e1ff00 123px,#ff0 135px,#fe0 142px,#fff400 173px,#ff0 199px,#ffd900 202px,#ffd900 215px,#ff0 218px,#ff0 230px,#d0ff00 233px,#d0ff00 244px,#80ff00 246px,#80ff00 258px,#b7ff00 260px,#b7ff00 274px,#ff0 275px,#ffed00 275px,#ffbf00 276px,#ffd300 280px,#fffb00 281px,#fffb00 292px,#ffc800 295px,#ffc800 298px,#ff0 300px,#feff00 300px,#f7ff00 303px,#80ff00 305px,#80ff00 316px,#0f0 317px,#00ff7f 318px,#0ff 319px,#00d9ff 319px,#0bf 351px,#0080ff 353px,#0080ff 370px,#0af 373px,#0af 381px,#07f 384px,#07f 431px,#00f 433px,#00f 436px,#6a00ff 438px,#6a00ff 444px,#9400ff 445px,#e400ff 446px,#f0f 446px,#f00 447px,#f00 469px,#f0f 470px,#a200ff 470px,#9b00ff 479px,#3000ff 480px,#00f 481px,#00f 488px,#6e00ff 490px,#bd00ff 530px)"></i><i style="left:651.7px;width:10.5px;background:linear-gradient(#ffa200 0px,#ffa000 68px,#fe0 74px,#fffe00 90px,#ff0 90px,#d0ff00 94px,#d0ff00 107px,#af0 110px,#af0 121px,#e1ff00 123px,#ff0 135px,#fe0 142px,#fff400 173px,#ff0 199px,#ffd900 202px,#ffd900 215px,#ff0 218px,#ff0 230px,#d0ff00 233px,#d0ff00 244px,#80ff00 246px,#80ff00 258px,#b7ff00 260px,#b7ff00 274px,#ff0 275px,#ffed00 275px,#ffbf00 276px,#ffd300 280px,#fffb00 281px,#fffb00 292px,#ffc800 295px,#ffc800 298px,#ff0 300px,#feff00 300px,#f7ff00 303px,#80ff00 305px,#80ff00 316px,#0f0 317px,#00ff7f 318px,#0ff 319px,#00d9ff 319px,#0bf 351px,#0080ff 353px,#0080ff 370px,#0af 373px,#0af 381px,#07f 384px,#07f 431px,#0012ff 432px,#00f 434px,#1800ff 436px,#6700ff 437px,#6a00ff 443px,#8100ff 444px,#d500ff 445px,#f0f 445px,#f00 446px,#f00 468px,#ff002f 469px,#f0f 470px,#a200ff 470px,#9700ff 479px,#2d00ff 480px,#00f 481px,#00f 488px,#6e00ff 490px,#bd00ff 530px)"></i><i style="left:661.9px;width:10.6px;background:linear-gradient(#ffa200 0px,#ffa000 68px,#fe0 74px,#fffe00 90px,#ff0 90px,#d0ff00 94px,#d0ff00 107px,#af0 110px,#af0 121px,#e1ff00 123px,#ff0 135px,#fe0 142px,#fff400 173px,#ff0 199px,#ffd900 202px,#ffd900 215px,#ff0 218px,#ff0 230px,#d0ff00 233px,#d0ff00 244px,#80ff00 246px,#80ff00 258px,#b7ff00 260px,#b7ff00 274px,#ff0 275px,#ffed00 275px,#ffbf00 276px,#ffd300 280px,#fffb00 281px,#fffb00 292px,#ffc800 295px,#ffc800 298px,#ff0 300px,#feff00 300px,#f7ff00 303px,#80ff00 305px,#80ff00 316px,#0f0 317px,#00ff7f 318px,#0ff 319px,#00d9ff 319px,#0bf 351px,#0080ff 353px,#0080ff 370px,#0af 373px,#0af 381px,#07f 384px,#0075ff 431px,#00f 432px,#00f 435px,#6a00ff 437px,#6d00ff 443px,#c400ff 444px,#f0f 444px,#ff002b 445px,#f00 446px,#f00 468px,#ff00bf 469px,#f0f 469px,#a200ff 470px,#9400ff 479px,#2b00ff 480px,#00f 481px,#00f 488px,#6e00ff 490px,#bd00ff 530px)"></i><i style="left:672.2px;width:10.6px;background:linear-gradient(#ffa200 0px,#ffa000 68px,#fe0 74px,#fffe00 90px,#ff0 90px,#d0ff00 94px,#d0ff00 107px,#af0 110px,#af0 121px,#e1ff00 123px,#ff0 135px,#fe0 142px,#fff400 173px,#ff0 199px,#ffd900 202px,#ffd900 215px,#ff0 218px,#ff0 230px,#d0ff00 233px,#d0ff00 244px,#80ff00 246px,#80ff00 258px,#b7ff00 260px,#b7ff00 274px,#ff0 275px,#ffed00 275px,#ffbf00 276px,#ffd300 280px,#fffa00 281px,#fffa00 292px,#ffc800 295px,#ffc800 298px,#ff0 300px,#feff00 300px,#f7ff00 303px,#80ff00 305px,#80ff00 316px,#0f0 317px,#00ff7f 318px,#0ff 319px,#00d9ff 319px,#0bf 351px,#0080ff 353px,#0080ff 370px,#0af 373px,#0af 381px,#07f 384px,#07f 430px,#0051ff 431px,#00f 432px,#0f00ff 435px,#6500ff 436px,#6a00ff 442px,#b200ff 443px,#f0f 443px,#ff0094 444px,#f00 445px,#f00 468px,#f0f 469px,#be00ff 469px,#a200ff 471px,#9100ff 479px,#2800ff 480px,#00f 481px,#00f 488px,#6e00ff 490px,#bd00ff 530px)"></i><i style="left:682.5px;width:10.5px;background:linear-gradient(#ffa200 0px,#ffa000 68px,#fe0 74px,#fffe00 90px,#ff0 90px,#d0ff00 94px,#d0ff00 107px,#af0 110px,#af0 121px,#e1ff00 123px,#ff0 135px,#fe0 142px,#fff400 173px,#ff0 199px,#ffd900 202px,#ffd900 215px,#ff0 218px,#ff0 230px,#d0ff00 233px,#d0ff00 244px,#80ff00 246px,#80ff00 258px,#b7ff00 260px,#b7ff00 274px,#ff0 275px,#ffed00 275px,#ffbf00 276px,#ffd100 280px,#fff700 281px,#ffe500 288px,#fff900 292px,#ffc800 295px,#ffc800 298px,#ff0 300px,#feff00 300px,#f7ff00 303px,#80ff00 305px,#80ff00 316px,#0f0 317px,#00ff7f 318px,#0ff 319px,#00d9ff 319px,#0bf 351px,#0080ff 353px,#0080ff 370px,#0af 373px,#0af 381px,#07f 384px,#07f 430px,#0028ff 431px,#00f 432px,#00f 434px,#6a00ff 436px,#6a00ff 441px,#9f00ff 442px,#fe00ff 443px,#f0f 443px,#f00 444px,#f00 468px,#f0f 469px,#a200ff 469px,#a200ff 478px,#8d00ff 479px,#2500ff 480px,#00f 481px,#00f 488px,#6e00ff 490px,#bd00ff 530px)"></i><i style="left:692.7px;width:10.6px;background:linear-gradient(#ffa200 0px,#ffa000 68px,#fe0 74px,#fffe00 90px,#ff0 90px,#d0ff00 94px,#d0ff00 107px,#af0 110px,#af0 121px,#e1ff00 123px,#ff0 135px,#fe0 142px,#fff400 173px,#ff0 199px,#ffd900 202px,#ffd900 215px,#ff0 218px,#ff0 230px,#d0ff00 233px,#d0ff00 244px,#80ff00 246px,#80ff00 258px,#b7ff00 260px,#b7ff00 274px,#ff0 275px,#ffed00 275px,#ffbf00 276px,#ffcf00 280px,#fff000 281px,#ffad00 286px,#fff600 292px,#ffc800 295px,#ffc800 298px,#ff0 300px,#feff00 300px,#f7ff00 303px,#80ff00 305px,#80ff00 316px,#0f0 317px,#00ff7f 318px,#0ff 319px,#00d9ff 319px,#0bf 351px,#0080ff 353px,#0080ff 370px,#0af 373px,#0af 381px,#07f 384px,#07f 430px,#00f 431px,#0300ff 434px,#6200ff 435px,#6a00ff 440px,#8900ff 441px,#ed00ff 442px,#f0f 442px,#f00 443px,#f00 468px,#f0f 469px,#a200ff 469px,#a200ff 478px,#8a00ff 479px,#20f 480px,#00f 481px,#00f 488px,#6e00ff 490px,#bd00ff 530px)"></i><i style="left:703.0px;width:10.5px;background:linear-gradient(#ffa200 0px,#ffa000 68px,#fe0 74px,#fffe00 90px,#ff0 90px,#d0ff00 94px,#d0ff00 107px,#af0 110px,#af0 121px,#e1ff00 123px,#ff0 135px,#fe0 142px,#fff400 173px,#ff0 199px,#ffd900 202px,#ffd900 215px,#ff0 218px,#ff0 230px,#d0ff00 233px,#d0ff00 244px,#80ff00 246px,#80ff00 258px,#b7ff00 260px,#b7ff00 274px,#ff0 275px,#ffed00 275px,#ffbf00 276px,#ffcb00 280px,#ffe800 281px,#ff6f00 286px,#fff300 292px,#ffc800 295px,#ffc800 298px,#ff0 300px,#feff00 300px,#f7ff00 303px,#80ff00 305px,#80ff00 316px,#0f0 317px,#00ff7f 318px,#0ff 319px,#00d9ff 319px,#0bf 351px,#0080ff 353px,#0080ff 370px,#0af 373px,#0af 381px,#07f 384px,#0073ff 430px,#00f 431px,#00f 433px,#6a00ff 435px,#7200ff 440px,#da00ff 441px,#f0f 441px,#f00 442px,#f00 467px,#ff005c 468px,#f0f 469px,#a200ff 469px,#a200ff 478px,#8700ff 479px,#2000ff 480px,#00f 482px,#00f 488px,#6e00ff 490px,#bd00ff 530px)"></i><i style="left:713.2px;width:10.6px;background:linear-gradient(#ffa200 0px,#ffa000 68px,#fe0 74px,#fffe00 90px,#ff0 90px,#d0ff00 94px,#d0ff00 107px,#af0 110px,#af0 121px,#e1ff00 123px,#ff0 135px,#fe0 142px,#fff400 173px,#ff0 199px,#ffd900 202px,#ffd900 215px,#ff0 218px,#ff0 230px,#d0ff00 233px,#d0ff00 244px,#80ff00 246px,#80ff00 258px,#b7ff00 260px,#b7ff00 274px,#ff0 275px,#ffed00 275px,#ffbf00 276px,#ffca00 280px,#ffe400 281px,#ffa800 283px,#ff0d00 284px,#ff0d00 288px,#ffa800 289px,#fff100 292px,#ffc700 295px,#ffc800 298px,#ff0 300px,#feff00 300px,#f7ff00 303px,#80ff00 305px,#80ff00 316px,#0f0 317px,#00ff7f 318px,#0ff 319px,#00d9ff 319px,#0bf 351px,#0080ff 353px,#0080ff 370px,#0af 373px,#0af 381px,#07f 384px,#07f 429px,#00f 431px,#00f 433px,#5f00ff 434px,#6a00ff 439px,#c600ff 440px,#f0f 440px,#f00 441px,#f00 467px,#ff00ca 468px,#f0f 468px,#a200ff 469px,#a200ff 478px,#8400ff 479px,#1d00ff 480px,#00f 482px,#00f 488px,#6e00ff 490px,#bd00ff 530px)"></i></div><div class="cb"></div><svg width="886" height="700" viewBox="0 0 886 700"><polygon points="226.8,433.3 205.9,374.9 213.6,372.1 194.8,354.4 191.5,380.0 199.1,377.3 220.0,435.7" fill="#ff0000"/>
<polygon points="307.3,445.6 287.3,388.7 295.0,386.0 276.3,368.2 272.8,393.8 280.5,391.1 300.5,448.0" fill="#ff0000"/>
<polygon points="399.4,440.0 378.6,382.6 386.3,379.8 367.4,362.2 364.2,387.8 371.8,385.1 392.6,442.4" fill="#ff0000"/>
<polygon points="488.6,434.3 468.2,377.3 475.9,374.5 457.1,356.8 453.8,382.4 461.4,379.7 481.8,436.7" fill="#ff0000"/>
<polygon points="577.9,421.1 557.3,363.8 564.9,361.1 546.1,343.4 542.8,369.0 550.5,366.3 571.1,423.5" fill="#ff0000"/>
<polygon points="659.4,417.3 639.1,360.3 646.8,357.5 628.0,339.8 624.6,365.4 632.3,362.7 652.6,419.7" fill="#ff0000"/>
<rect x="97.70" y="45.00" width="625.80" height="530.20" fill="none" stroke="#262626" stroke-width="1.6"/>
<rect x="739.50" y="45.00" width="33.50" height="530.20" fill="none" stroke="#262626" stroke-width="1.6"/>
<path d="M97.7,46.0h6.0M723.5,46.0h-6.0M97.7,146.0h6.0M723.5,146.0h-6.0M97.7,246.0h6.0M723.5,246.0h-6.0M97.7,346.0h6.0M723.5,346.0h-6.0M97.7,446.0h6.0M723.5,446.0h-6.0M97.7,546.0h6.0M723.5,546.0h-6.0M195.2,45.0v6.0M195.2,575.2v-6.0M297.8,45.0v6.0M297.8,575.2v-6.0M400.3,45.0v6.0M400.3,575.2v-6.0M502.9,45.0v6.0M502.9,575.2v-6.0M605.5,45.0v6.0M605.5,575.2v-6.0M708.1,45.0v6.0M708.1,575.2v-6.0M773.0,575.2h-4.0M773.0,469.2h-4.0M773.0,363.1h-4.0M773.0,257.1h-4.0M773.0,151.0h-4.0M773.0,45.0h-4.0" stroke="#262626" stroke-width="1.3" fill="none"/>
<g font-family="'Liberation Sans',Arial,sans-serif" fill="#262626" font-weight="bold">
<g font-size="31">
<text x="87.2" y="58.6" text-anchor="end">1</text>
<text x="87.2" y="158.2" text-anchor="end">1.1</text>
<text x="87.2" y="257.9" text-anchor="end">1.2</text>
<text x="87.2" y="357.6" text-anchor="end">1.3</text>
<text x="87.2" y="457.2" text-anchor="end">1.4</text>
<text x="87.2" y="556.9" text-anchor="end">1.5</text>
<text x="194.0" y="616.3" text-anchor="middle">10</text>
<text x="296.6" y="616.3" text-anchor="middle">20</text>
<text x="399.1" y="616.3" text-anchor="middle">30</text>
<text x="501.7" y="616.3" text-anchor="middle">40</text>
<text x="604.3" y="616.3" text-anchor="middle">50</text>
<text x="706.9" y="616.3" text-anchor="middle">60</text>
</g>
<g font-size="25.5">
<text x="780.2" y="586.0">3</text>
<text x="780.2" y="480.0">4</text>
<text x="780.2" y="373.9">5</text>
<text x="780.2" y="267.9">6</text>
<text x="780.2" y="161.8">7</text>
<text x="780.2" y="55.8">8</text>
</g>
<text x="408" y="657.8" font-size="31.5" text-anchor="middle">CDP</text>
<text transform="translate(30.4,311) rotate(-90)" font-size="32.5" text-anchor="middle">Time(s)</text>
<g font-weight="normal" stroke="#262626" stroke-width="0.4">
<text x="774.5" y="36.8" font-size="34">×</text>
<text x="793.5" y="32.4" font-size="26">10</text>
<text x="825.5" y="19.6" font-size="21.5">6</text>
</g>
</g>
<g font-family="'Liberation Serif','Times New Roman',serif" fill="#000">
<text x="3.6" y="53.3" font-size="48">C</text>
<text transform="translate(845.7,481) rotate(-90)" font-size="41.5" textLength="297" lengthAdjust="spacing">EI (kg·m<tspan dy="-14" font-size="28">-3</tspan><tspan dy="14"> ·m ·s</tspan><tspan dy="-14" font-size="28">-1</tspan><tspan dy="14">)</tspan></text>
</g></svg></div>
<div class="p" style="left:915.0px;top:723.7px"><div class="h"><i style="left:97.7px;width:31.1px;background:linear-gradient(#bfff00 0px,#ff0 11px,#ff9c00 27px,#ffc400 55px,#ff0 65px,#ebff00 68px,#ff0 73px,#ffec00 78px,#ffb700 90px,#ff0 100px,#df0 105px,#0f0 118px,#00ff06 118px,#0ff 128px,#00feff 128px,#00f9ff 142px,#0ff 143px,#00ffea 147px,#00ff07 152px,#0f0 153px,#71ff00 161px,#dbff00 166px,#ff0 175px,#fff700 177px,#ff0 181px,#d9ff00 200px,#57ff00 214px,#efff00 227px,#fbff00 240px,#e1ff00 243px,#39ff00 249px,#0f0 250px,#00ff8d 252px,#00fff9 256px,#0ff 257px,#00b2ff 275px,#00d1ff 279px,#0ff 281px,#00ffdb 283px,#0f0 286px,#21ff00 287px,#b1ff00 293px,#feff00 304px,#ff0 305px,#fff200 315px,#ff0 316px,#c6ff00 321px,#29ff00 326px,#0f0 334px,#00ff07 335px,#00ffea 345px,#00fff0 358px,#00ffd5 363px,#00ff1c 369px,#0f0 371px,#27ff00 374px,#0f0 381px,#0f0 381px,#00ffc6 386px,#0ff 389px,#00d0ff 391px,#00b0ff 402px,#00d4ff 411px,#00faff 414px,#0ff 414px,#00ff3a 418px,#0f0 422px,#29ff00 424px,#0f0 433px,#0f1 437px,#00ff40 441px,#00ffb0 446px,#00ffd1 450px,#0ff 451px,#00f3ff 451px,#00f 453px,#3c00ff 454px,#b800ff 455px,#f0f 455px,#ff0049 456px,#f00 457px,#f00 484px,#f0f 485px,#00f 487px,#0053ff 487px,#00d2ff 488px,#00a4ff 493px,#0013ff 497px,#00f 500px,#1200ff 502px,#00f 503px,#007aff 510px,#00a9ff 520px,#0085ff 530px)"></i><i style="left:128.5px;width:10.5px;background:linear-gradient(#c6ff00 0px,#ff0 10px,#ff9f00 28px,#fd0 57px,#ff0 70px,#fcff00 71px,#ff0 72px,#ffac00 88px,#ff0 100px,#e6ff00 104px,#20ff00 116px,#0f0 117px,#0ff 127px,#00f6ff 127px,#00e6ff 140px,#0ff 142px,#00ffc4 146px,#0f0 151px,#06ff00 151px,#74ff00 160px,#daff00 165px,#ff0 173px,#fff200 176px,#ff0 182px,#d7ff00 200px,#52ff00 214px,#f0ff00 226px,#feff00 239px,#d4ff00 243px,#4eff00 248px,#0f0 249px,#00ff98 252px,#00fffa 256px,#0ff 257px,#00b1ff 274px,#00d8ff 279px,#0ff 281px,#00ffed 282px,#00ff05 286px,#0f0 286px,#a0ff00 292px,#ff0 303px,#fffe00 303px,#ffed00 314px,#ff0 316px,#d2ff00 320px,#45ff00 325px,#0f0 333px,#00ff0b 334px,#0fe 344px,#00fff9 357px,#00ffcd 363px,#00ff3b 369px,#00ff0e 374px,#00ff3f 381px,#00ffde 386px,#0ff 388px,#00cdff 391px,#00b1ff 403px,#00e1ff 412px,#00fbff 414px,#0ff 414px,#00ff3d 418px,#0f0 422px,#25ff00 424px,#0f0 433px,#00ff0e 436px,#00ff47 441px,#0fb 447px,#00ffdf 450px,#0ff 451px,#00eaff 451px,#00f 454px,#2c00ff 454px,#a800ff 455px,#f0f 455px,#ff0080 456px,#f00 457px,#f00 484px,#ff0095 485px,#f0f 485px,#8a00ff 486px,#00f 487px,#0cf 488px,#0097ff 493px,#000cff 497px,#00f 499px,#1500ff 502px,#00f 503px,#008cff 512px,#00a2ff 523px,#008fff 530px)"></i><i style="left:138.7px;width:10.6px;background:linear-gradient(#cdff00 0px,#ff0 10px,#ffa400 28px,#ffd800 49px,#fff400 73px,#ff9e00 86px,#ff0 101px,#efff00 103px,#2cff00 115px,#0f0 116px,#0ff 125px,#00f5ff 125px,#00ceff 137px,#00e3ff 140px,#0ff 141px,#00ff57 147px,#0f0 150px,#2f0 151px,#7f0 159px,#e2ff00 165px,#ff0 171px,#ffed00 175px,#ff0 182px,#d3ff00 200px,#56ff00 211px,#4dff00 214px,#f4ff00 226px,#ff0 237px,#fffe00 238px,#ff0 238px,#cdff00 243px,#62ff00 247px,#0f0 249px,#00ff9d 252px,#00fff2 255px,#0ff 258px,#00b0ff 273px,#00cbff 278px,#0ff 280px,#00ffd8 282px,#00ff01 286px,#0f0 286px,#a2ff00 292px,#ff0 302px,#fff700 303px,#ffe800 313px,#ff0 315px,#c5ff00 320px,#5bff00 325px,#0f0 331px,#00ff2a 334px,#00ffe6 342px,#0ff 352px,#00f8ff 355px,#0ff 356px,#00ffe3 362px,#00ff5c 369px,#00ff41 374px,#00ff5a 380px,#00fff3 386px,#0ff 387px,#00caff 391px,#00b3ff 404px,#00ebff 413px,#0ff 414px,#00ffcf 415px,#00ff43 418px,#0f0 422px,#2f0 424px,#0f0 432px,#00ff0a 435px,#00ff62 442px,#00ffed 450px,#0ff 450px,#008fff 452px,#00f 454px,#1c00ff 454px,#9800ff 455px,#f0f 456px,#f00 457px,#f00 484px,#f05 485px,#f0f 486px,#b100ff 486px,#00f 487px,#00bdff 488px,#00d0ff 489px,#06f 494px,#00f 498px,#0700ff 498px,#0500ff 503px,#00f 503px,#008bff 513px,#00a3ff 524px,#0098ff 530px)"></i><i style="left:149.0px;width:10.6px;background:linear-gradient(#d4ff00 0px,#ff0 9px,#ffa700 29px,#ffe500 48px,#fffc00 52px,#ffe600 59px,#fd0 74px,#ff9a00 82px,#ff9b00 85px,#ffc200 89px,#ff0 101px,#f9ff00 102px,#38ff00 114px,#0f0 116px,#0ff 123px,#00e9ff 124px,#00beff 135px,#00dcff 139px,#0ff 140px,#0f8 143px,#0f0 148px,#2fff00 150px,#8eff00 159px,#f5ff00 166px,#ff0 169px,#ffeb00 176px,#ff0 183px,#caff00 201px,#36ff00 212px,#f5ff00 225px,#ff0 234px,#fffb00 237px,#ff0 237px,#dbff00 242px,#46ff00 247px,#0f0 248px,#00ffd4 253px,#0ff 256px,#00e7ff 258px,#00afff 275px,#00edff 280px,#0ff 280px,#00ff93 283px,#0f0 286px,#0dff00 286px,#a7ff00 292px,#ff0 301px,#ffe700 304px,#ffea00 313px,#ff0 315px,#d4ff00 319px,#0f0 331px,#00ff2e 333px,#00fff0 341px,#0ff 349px,#00f4ff 355px,#0ff 357px,#00ffe3 362px,#0f7 370px,#00ff92 380px,#0ff 386px,#00dcff 388px,#00b0ff 403px,#00edff 413px,#0ff 413px,#00ff34 419px,#0f0 422px,#1fff00 424px,#0f0 431px,#00ff10 435px,#00ff7b 443px,#00fff9 450px,#0ff 450px,#008cff 452px,#00f 454px,#0c00ff 454px,#f0f 456px,#ff00ed 456px,#f00 457px,#f00 484px,#ff0015 485px,#f0f 486px,#db00ff 486px,#00f 487px,#009cff 488px,#00d4ff 489px,#00f 497px,#1000ff 498px,#0800ff 503px,#00f 504px,#008bff 514px,#00a6ff 525px,#00a2ff 530px)"></i><i style="left:159.3px;width:10.5px;background:linear-gradient(#dcff00 0px,#ff0 9px,#ffa900 31px,#fe0 47px,#ff0 49px,#e6ff00 51px,#ff0 53px,#ffe200 56px,#ffd100 74px,#ffab00 79px,#ff7800 82px,#ffc000 87px,#fe0 100px,#ff0 101px,#5eff00 112px,#0f0 115px,#00ff89 119px,#0ff 122px,#00dfff 123px,#00acff 133px,#00d8ff 138px,#0ff 139px,#00ff85 141px,#0f0 147px,#3cff00 149px,#90ff00 158px,#fdff00 166px,#ff0 167px,#ffe700 175px,#ff0 183px,#ceff00 200px,#4fff00 209px,#27ff00 212px,#f6ff00 224px,#ff0 231px,#fff900 236px,#ff0 237px,#d4ff00 242px,#37ff00 247px,#0f0 248px,#00ffc7 252px,#0ff 255px,#00e6ff 257px,#00acff 275px,#00f4ff 280px,#0ff 280px,#00ffb9 282px,#0f0 286px,#19ff00 286px,#abff00 292px,#ff0 300px,#ffe200 303px,#ffe500 312px,#ff0 315px,#d1ff00 319px,#1bff00 329px,#0f0 330px,#00fff3 339px,#0ff 344px,#00e9ff 353px,#0ff 357px,#00ffde 363px,#00ffa1 372px,#00ffc4 380px,#0ff 386px,#00c5ff 391px,#00baff 406px,#00f0ff 413px,#0ff 413px,#00ff3a 419px,#0f0 422px,#1bff00 424px,#0f0 430px,#00ff15 435px,#00ffa4 445px,#00ffde 449px,#0ff 450px,#0087ff 452px,#00f 454px,#0100ff 454px,#f400ff 456px,#f0f 456px,#f00 457px,#f00 485px,#ff00f2 486px,#f0f 486px,#00f 487px,#07f 488px,#00daff 489px,#00f 497px,#2800ff 499px,#00f 503px,#0025ff 506px,#0092ff 516px,#00abff 530px)"></i><i style="left:169.5px;width:10.6px;background:linear-gradient(#e3ff00 0px,#ff0 8px,#ffae00 31px,#fff400 46px,#ff0 47px,#c7ff00 50px,#ff0 53px,#ffe200 55px,#ffd900 66px,#ffb300 77px,#ff6e00 80px,#ffbf00 85px,#ffd900 98px,#ff0 101px,#6cff00 111px,#0f0 114px,#00ff60 117px,#0ff 120px,#00e8ff 121px,#0097ff 131px,#00b4ff 136px,#0ff 138px,#00ffe7 138px,#00ff64 140px,#0f0 145px,#48ff00 148px,#91ff00 157px,#ff0 165px,#fff800 166px,#ffe200 174px,#ff0 183px,#c8ff00 200px,#4dff00 208px,#14ff00 211px,#ef0 222px,#ff0 229px,#fff400 234px,#ff0 236px,#e4ff00 241px,#30ff00 247px,#0f0 248px,#0fb 251px,#0ff 255px,#00e6ff 256px,#00adff 276px,#00f1ff 280px,#0ff 280px,#0f0 285px,#03ff00 285px,#a2ff00 291px,#ff0 299px,#fd0 302px,#ffe500 312px,#ff0 315px,#c6ff00 320px,#6eff00 325px,#0f0 329px,#0ff 338px,#00fdff 338px,#00e5ff 353px,#0ff 360px,#00ffd3 372px,#0ff 381px,#00f4ff 383px,#00aeff 400px,#00d9ff 412px,#0ff 413px,#00ff40 419px,#0f0 423px,#17ff00 424px,#0f0 430px,#00ff0f 434px,#00ffe3 449px,#0ff 450px,#0009ff 454px,#00f 454px,#e400ff 456px,#f0f 456px,#f00 457px,#f00 485px,#f0f 486px,#00f 488px,#0051ff 488px,#00e1ff 489px,#000dff 496px,#00f 497px,#3100ff 499px,#00f 503px,#008eff 516px,#00b3ff 529px,#00b4ff 530px)"></i><i style="left:179.8px;width:10.5px;background:linear-gradient(#eaff00 0px,#ff0 7px,#ffb500 32px,#fffb00 45px,#ff0 45px,#b1ff00 49px,#ff0 53px,#ffe400 54px,#ffc600 62px,#ffbf00 75px,#ff5800 79px,#ffbf00 83px,#ffc900 96px,#ff0 100px,#adff00 107px,#5f0 111px,#0f0 113px,#00ff63 116px,#0ff 119px,#00d5ff 120px,#0086ff 130px,#00a7ff 135px,#0ff 136px,#00ffdc 137px,#00ff41 139px,#0f0 142px,#5f0 147px,#a3ff00 157px,#ff0 164px,#fff700 165px,#ffdb00 172px,#ff0 183px,#cdff00 199px,#4bff00 207px,#0f0 210px,#ecff00 221px,#ff0 227px,#ffef00 232px,#ff0 237px,#f4ff00 240px,#5f0 246px,#0f0 247px,#00ffae 250px,#0ff 253px,#00e9ff 254px,#009eff 275px,#00cfff 279px,#0ff 280px,#00ff80 282px,#00ff13 284px,#0f0 285px,#89ff00 289px,#ff0 298px,#ffeb00 299px,#ffd300 309px,#ff0 314px,#c9ff00 321px,#0f0 328px,#00ff5a 331px,#0ff 337px,#00f2ff 337px,#00e0ff 353px,#00f5ff 374px,#00b4ff 404px,#00d9ff 412px,#0ff 413px,#00ff32 420px,#0f0 423px,#14ff00 424px,#0f0 429px,#00ff13 434px,#00ffe7 449px,#0ff 449px,#000fff 454px,#00f 454px,#d400ff 456px,#f0f 456px,#f00 457px,#f00 485px,#ff007f 486px,#f0f 487px,#9200ff 487px,#00f 488px,#00eaff 489px,#0019ff 495px,#00f 496px,#3a00ff 499px,#00f 504px,#009bff 518px,#00bdff 530px)"></i><i style="left:190.0px;width:10.6px;background:linear-gradient(#e8ff00 0px,#ff0 7px,#ffb200 32px,#fff200 45px,#ff0 46px,#c4ff00 49px,#ff0 52px,#ffe100 54px,#ffcf00 64px,#ffba00 75px,#ff5b00 79px,#ffbf00 83px,#ffc800 96px,#ff0 101px,#9aff00 109px,#0f0 114px,#00ff42 116px,#0ff 120px,#00cfff 121px,#0080ff 131px,#09f 136px,#0ff 138px,#00ff71 140px,#0f0 146px,#4bff00 150px,#c9ff00 161px,#ff0 167px,#ffde00 171px,#ff0 183px,#d3ff00 199px,#4fff00 208px,#14ff00 211px,#fdff00 223px,#ff0 224px,#ffef00 235px,#ff0 239px,#f6ff00 241px,#65ff00 247px,#0f0 249px,#00ff79 251px,#00ffd3 255px,#0ff 268px,#00e1ff 276px,#0ff 279px,#00fff0 280px,#00ff0e 284px,#0f0 285px,#97ff00 290px,#ff0 298px,#ffce00 302px,#fd0 312px,#ff0 315px,#b6ff00 322px,#0f0 328px,#00fff3 336px,#0ff 337px,#00d9ff 339px,#00d3ff 357px,#00f6ff 394px,#0ef 413px,#0ff 414px,#00ff2d 422px,#0f0 425px,#07ff00 425px,#0f0 428px,#00ff12 435px,#00ff96 445px,#00fff0 450px,#0ff 450px,#0001ff 455px,#00f 455px,#f0f 457px,#ff00fe 457px,#f00 458px,#f00 485px,#ff0014 486px,#f0f 487px,#e700ff 487px,#00f 488px,#0078ff 489px,#00ecff 490px,#0045ff 497px,#0015ff 500px,#0cf 517px,#00efff 530px)"></i><i style="left:200.3px;width:10.5px;background:linear-gradient(#e6ff00 0px,#ff0 8px,#ffb000 32px,#fff500 46px,#ff0 47px,#d8ff00 49px,#ff0 52px,#ffd900 55px,#ffbf00 73px,#ff9d00 76px,#ff5e00 79px,#ffbf00 83px,#ffc700 96px,#ff0 101px,#a8ff00 109px,#01ff00 115px,#0f0 115px,#0ff 120px,#00deff 121px,#0076ff 131px,#008bff 137px,#0ff 139px,#00ffa1 141px,#0f0 149px,#67ff00 154px,#ff0 168px,#fff600 169px,#ffed00 179px,#ff0 185px,#c9ff00 201px,#27ff00 212px,#ff0 224px,#fffb00 224px,#ffeb00 236px,#ff0 241px,#faff00 242px,#7f0 248px,#0f0 251px,#00ff43 252px,#00ff90 256px,#00ffe4 276px,#00ffa9 281px,#0f0 285px,#15ff00 285px,#b4ff00 292px,#ff0 299px,#ffc600 304px,#ffe300 314px,#ff0 316px,#a0ff00 323px,#0f0 328px,#00ffba 333px,#0ff 336px,#0cf 339px,#00c2ff 359px,#0ff 378px,#00ffe4 386px,#0fc 395px,#00fff9 411px,#0ff 414px,#0ff 414px,#0ff 414px,#00ff03 426px,#00ff06 435px,#00ff6f 444px,#00fffb 451px,#0ff 451px,#00f 455px,#1f00ff 456px,#a000ff 457px,#f0f 457px,#ff0097 458px,#f00 459px,#f00 486px,#f0f 487px,#6b00ff 488px,#00f 489px,#00b8ff 490px,#00f3ff 491px,#006bff 501px,#0ff 516px,#00fff7 517px,#00ffdb 530px)"></i><i style="left:210.5px;width:10.6px;background:linear-gradient(#e4ff00 0px,#ff0 8px,#ffad00 32px,#ffea00 46px,#ff0 49px,#f2ff00 50px,#ff0 51px,#ffd700 55px,#ffc200 72px,#ff8500 77px,#ff6100 79px,#ffbf00 83px,#ffc700 96px,#ff0 101px,#a7ff00 110px,#0f0 115px,#00ff32 117px,#0ff 121px,#00cfff 122px,#0071ff 132px,#007cff 138px,#0ff 141px,#00ffd2 142px,#00ff6f 147px,#0f0 151px,#4aff00 154px,#ff0 170px,#fffb00 170px,#fff600 183px,#ff0 186px,#c7ff00 202px,#39ff00 213px,#ff0 224px,#fff600 225px,#ffe700 237px,#ff0 243px,#feff00 243px,#8bff00 249px,#0f0 253px,#00ff0c 253px,#00ff53 258px,#00ffa1 277px,#00ff62 282px,#0f0 285px,#36ff00 286px,#cfff00 294px,#ff0 298px,#ffc100 304px,#ffd600 313px,#ff0 316px,#c5ff00 321px,#60ff00 325px,#0f0 327px,#00ff8c 331px,#0ff 336px,#00f5ff 336px,#00bcff 340px,#00b0ff 361px,#0ff 379px,#00fff7 381px,#00ff90 393px,#00ffb5 409px,#00fffe 414px,#00ff65 423px,#00ff09 427px,#0f0 433px,#03ff00 435px,#0f0 435px,#00ff59 444px,#0ff 452px,#00fbff 452px,#001dff 456px,#00f 456px,#4300ff 457px,#c600ff 458px,#f0f 458px,#ff0020 459px,#f00 461px,#f00 486px,#ff0084 487px,#f0f 488px,#ab00ff 488px,#0a00ff 489px,#00f 489px,#00ecff 491px,#00f8ff 493px,#00c2ff 502px,#0ff 509px,#00ffb9 517px,#00ffa8 530px)"></i><i style="left:220.8px;width:10.6px;background:linear-gradient(#e2ff00 0px,#ff0 8px,#fa0 32px,#ffea00 47px,#fffa00 50px,#ffd300 57px,#ffc800 71px,#ff8400 77px,#ff6400 79px,#ffbf00 83px,#ffca00 97px,#ff0 102px,#a6ff00 111px,#0f0 116px,#00ff10 117px,#0ff 121px,#00e1ff 122px,#0078ff 130px,#006dff 139px,#0ff 144px,#00fff4 144px,#00ffc5 147px,#0f0 153px,#3cff00 155px,#edff00 169px,#ff0 175px,#fff000 181px,#ff0 186px,#c4ff00 203px,#4bff00 213px,#7dff00 217px,#ff0 225px,#fff100 226px,#ffe500 239px,#ff0 243px,#f5ff00 245px,#a3ff00 250px,#2cff00 254px,#0f0 258px,#00ff18 260px,#00ff65 277px,#00ff40 282px,#0f0 284px,#5f0 287px,#ff0 298px,#fffd00 298px,#ffb900 306px,#fd0 315px,#ff0 317px,#b3ff00 322px,#38ff00 326px,#0f0 327px,#00ff7f 330px,#0ff 335px,#00f1ff 335px,#0af 342px,#00a2ff 363px,#0ff 380px,#00fff7 381px,#0f5 393px,#00ff63 404px,#00ffa1 411px,#00fff3 415px,#00ff73 424px,#00ff0f 428px,#0f0 432px,#0aff00 435px,#0f0 436px,#00ff3e 444px,#0ff 453px,#00f6ff 453px,#000eff 457px,#00f 457px,#e0f 459px,#f0f 459px,#f00 460px,#f00 486px,#ff0054 487px,#f0f 488px,#c300ff 488px,#2a00ff 489px,#00f 489px,#0ff 492px,#00fff0 492px,#00ffd9 504px,#0f7 518px,#00ff74 530px)"></i><i style="left:231.1px;width:10.5px;background:linear-gradient(#e1ff00 0px,#ff0 8px,#ffa800 32px,#ffe100 51px,#ffc800 71px,#ff6700 79px,#ffbf00 83px,#ffc900 97px,#ff0 102px,#9fff00 112px,#0f0 117px,#00ff21 118px,#0ff 122px,#00d3ff 123px,#0070ff 131px,#005eff 140px,#00d5ff 145px,#0ff 148px,#00fffc 148px,#0f0 155px,#2cff00 156px,#74ff00 160px,#ff0 174px,#fffd00 174px,#ff0 177px,#f6ff00 194px,#acff00 206px,#5f0 214px,#ff0 226px,#ffec00 227px,#ffe100 240px,#ff0 245px,#e8ff00 248px,#8bff00 253px,#28ff00 261px,#0f0 269px,#00ff24 277px,#0f0 283px,#01ff00 283px,#a2ff00 291px,#ff0 299px,#ffb500 305px,#ffc700 313px,#ff0 318px,#d4ff00 321px,#4f0 326px,#0f0 327px,#00ff93 330px,#0ff 334px,#00cdff 336px,#0094ff 345px,#0094ff 365px,#00f1ff 380px,#0ff 381px,#00ff1c 393px,#00ff20 404px,#00ff68 411px,#00ffe7 416px,#00ffa0 424px,#00ff15 429px,#0f0 434px,#0bff00 436px,#0f0 438px,#00ff20 444px,#0fc 451px,#0ff 453px,#00f4ff 454px,#00f 458px,#0500ff 458px,#8e00ff 459px,#f0f 460px,#f00 461px,#f00 486px,#ff0068 487px,#f0f 488px,#2900ff 489px,#00f 489px,#0095ff 491px,#0ff 493px,#00ffe2 493px,#00ffa0 500px,#00ff36 519px,#00ff3f 530px)"></i><i style="left:241.3px;width:10.6px;background:linear-gradient(#dfff00 0px,#ff0 8px,#ffa500 32px,#ffcf00 53px,#ffd900 68px,#ff6a00 79px,#ffbe00 83px,#ffc900 97px,#ff0 103px,#b3ff00 112px,#0f0 118px,#00ff01 118px,#0ff 123px,#00e6ff 123px,#006cff 131px,#0050ff 141px,#00cbff 149px,#0ff 150px,#0f0 156px,#1bff00 157px,#6f0 160px,#feff00 176px,#f2ff00 196px,#a0ff00 208px,#53ff00 214px,#ff0 226px,#ffeb00 227px,#ffd900 239px,#ff0 247px,#e9ff00 251px,#68ff00 262px,#1bff00 277px,#50ff00 285px,#ff0 299px,#ffae00 306px,#ffc700 314px,#ff0 318px,#c3ff00 322px,#18ff00 327px,#0f0 327px,#00ffc4 331px,#0ff 333px,#00b3ff 336px,#0076ff 355px,#008dff 368px,#00f8ff 381px,#0ff 381px,#00ff21 391px,#0f0 393px,#1dff00 394px,#19ff00 405px,#0f0 407px,#00ff4a 412px,#00ffd5 416px,#00ffd0 424px,#00ff19 430px,#0f0 434px,#0fff00 436px,#0f0 439px,#00ff1b 445px,#00ffc0 451px,#0ff 454px,#0ef 455px,#002dff 458px,#00f 459px,#2a00ff 459px,#b600ff 460px,#f0f 460px,#ff004f 461px,#f00 462px,#f00 486px,#ff0070 487px,#f0f 488px,#3700ff 489px,#00f 489px,#0056ff 490px,#0ff 493px,#00fff4 493px,#00ff64 499px,#0f0 516px,#0dff00 518px,#0f0 525px,#00ff09 530px)"></i><i style="left:251.6px;width:10.5px;background:linear-gradient(#df0 0px,#ff0 9px,#ffa200 32px,#ffe200 65px,#ffb000 73px,#ff6d00 79px,#ffbf00 83px,#ffc800 97px,#ff0 103px,#af0 113px,#0f0 118px,#00ff10 119px,#0ff 123px,#00d2ff 124px,#0064ff 132px,#0049ff 143px,#0094ff 150px,#0ff 152px,#0f0 158px,#08ff00 158px,#56ff00 160px,#f9ff00 177px,#f6ff00 196px,#9fff00 209px,#57ff00 215px,#ff0 226px,#ffe500 228px,#ffd700 241px,#ff0 249px,#d9ff00 257px,#56ff00 276px,#9f0 289px,#ff0 299px,#ffa700 307px,#ffc700 315px,#ff0 319px,#d0ff00 322px,#2bff00 327px,#0f0 328px,#00ffd8 331px,#0ff 332px,#0095ff 336px,#005eff 363px,#00beff 377px,#0ff 382px,#00fffc 382px,#0f0 391px,#18ff00 392px,#5f0 394px,#5eff00 405px,#0f0 412px,#00ff06 412px,#00ffd4 417px,#00ffdf 425px,#00ff29 430px,#0f0 434px,#13ff00 436px,#01ff00 445px,#0f0 445px,#00ffc4 452px,#0ff 455px,#00e3ff 456px,#001cff 459px,#00f 459px,#de00ff 461px,#f0f 461px,#f00 462px,#ff000c 487px,#f0f 488px,#f600ff 488px,#00f 489px,#0076ff 490px,#00c2ff 491px,#0ff 493px,#00ff23 500px,#0f0 504px,#37ff00 510px,#4aff00 521px,#2fff00 530px)"></i><i style="left:261.8px;width:10.6px;background:linear-gradient(#dcff00 0px,#ff0 8px,#ffa000 31px,#fd0 66px,#ff9c00 75px,#ff7b00 79px,#ffbe00 83px,#ffd000 98px,#ff0 103px,#abff00 113px,#02ff00 119px,#0f0 119px,#00ffeb 124px,#0ff 126px,#00b3ff 132px,#009cff 143px,#00c9ff 149px,#0ff 150px,#0f0 157px,#52ff00 159px,#fbff00 176px,#f4ff00 196px,#98ff00 209px,#58ff00 216px,#ff0 227px,#ffe700 229px,#ffd900 241px,#ff0 249px,#dfff00 255px,#48ff00 271px,#3dff00 278px,#ff0 299px,#fff600 300px,#ff9f00 308px,#ffbe00 314px,#ff0 318px,#c4ff00 322px,#0f0 327px,#00ff1e 328px,#00fff8 332px,#0ff 332px,#008fff 337px,#0061ff 364px,#00c0ff 378px,#0ff 382px,#00ffe1 384px,#00ff01 393px,#0f0 393px,#28ff00 396px,#29ff00 406px,#0f0 409px,#00ff3d 413px,#00ffcb 417px,#00ffd4 425px,#00ff19 431px,#0f0 435px,#10ff00 437px,#0f0 441px,#00ff17 446px,#00ffbe 452px,#0ff 455px,#00f2ff 456px,#00f 459px,#2b00ff 460px,#b600ff 461px,#f0f 461px,#ff004e 462px,#f00 463px,#f00 487px,#ff00fb 488px,#f0f 488px,#00f 489px,#0059ff 490px,#00cdff 491px,#0ff 492px,#00ff03 500px,#0f0 500px,#3eff00 507px,#3eff00 525px,#32ff00 530px)"></i><i style="left:272.1px;width:10.6px;background:linear-gradient(#dbff00 0px,#ff0 8px,#ff9f00 31px,#ffdb00 66px,#ff8d00 77px,#ff9700 80px,#ffbc00 84px,#ffdc00 99px,#ff0 103px,#aeff00 113px,#17ff00 119px,#0f0 120px,#0fa 124px,#00fffd 132px,#0ff 133px,#00efff 143px,#0ff 145px,#00ffe6 149px,#0f0 156px,#6fff00 159px,#feff00 176px,#f2ff00 196px,#92ff00 209px,#4fff00 216px,#ff0 228px,#ffef00 229px,#ffda00 241px,#ff0 248px,#daff00 255px,#27ff00 269px,#18ff00 278px,#ff0 299px,#ff9500 309px,#ffd400 316px,#ff0 318px,#a0ff00 323px,#0f0 327px,#0f6 329px,#00fffd 332px,#0ff 332px,#008aff 338px,#0065ff 365px,#00cbff 380px,#0ff 383px,#00ff50 392px,#00ff09 396px,#00ff01 406px,#00ff4f 413px,#00ffdc 418px,#00ffae 426px,#00ff15 431px,#0f0 435px,#0eff00 438px,#0f0 441px,#00ff18 446px,#00ffc8 453px,#0ff 456px,#00fbff 456px,#00f 460px,#0800ff 460px,#8f00ff 461px,#f0f 462px,#f00 463px,#f00 487px,#f0f 488px,#6100ff 489px,#00f 490px,#00d4ff 491px,#0ff 492px,#0f8 495px,#0f0 500px,#2dff00 501px,#5cff00 505px,#47ff00 516px,#35ff00 530px)"></i><i style="left:282.4px;width:10.5px;background:linear-gradient(#d9ff00 0px,#ff0 9px,#ff9d00 31px,#ffd800 66px,#ff9200 79px,#ffbc00 84px,#ffed00 101px,#ff0 103px,#b3ff00 113px,#31ff00 119px,#0f0 120px,#00ff5b 123px,#00ffae 132px,#00ffbd 143px,#00ff92 149px,#0f0 154px,#87ff00 159px,#ff0 176px,#fffb00 177px,#ff0 180px,#ecff00 197px,#8cff00 209px,#4cff00 215px,#94ff00 221px,#ff0 229px,#fff100 230px,#fd0 242px,#ff0 248px,#d9ff00 255px,#15ff00 267px,#0f0 272px,#00ff16 277px,#0f0 279px,#e5ff00 298px,#ff0 300px,#ff8e00 310px,#ffd100 316px,#ff0 318px,#9bff00 323px,#0f0 326px,#00fffb 332px,#0ff 332px,#0087ff 338px,#0064ff 365px,#00c2ff 380px,#0ff 384px,#00ff54 394px,#00ff2e 403px,#00ff5e 412px,#00ffdf 418px,#00ffa5 426px,#00ff0f 431px,#0f0 436px,#0bff00 439px,#0f0 440px,#00ff35 447px,#00ffd3 454px,#00fffc 456px,#0ff 456px,#000dff 460px,#00f 460px,#f000ff 462px,#f0f 462px,#f00 463px,#f00 487px,#f0f 488px,#6c00ff 489px,#00f 490px,#00c7ff 491px,#0ff 492px,#00ffb1 493px,#0f0 499px,#4dff00 501px,#87ff00 505px,#4f0 513px,#37ff00 530px)"></i><i style="left:292.6px;width:10.6px;background:linear-gradient(#d8ff00 0px,#ff0 9px,#ff9b00 31px,#ffd400 67px,#ff9d00 79px,#ffbc00 85px,#ff0 103px,#f8ff00 105px,#af0 114px,#3f0 120px,#0f0 122px,#00ff25 124px,#00ff65 134px,#0f6 144px,#00ff42 149px,#0f0 152px,#9f0 159px,#ff0 175px,#fff900 176px,#ff0 181px,#eaff00 197px,#87ff00 209px,#42ff00 215px,#87ff00 221px,#fdff00 229px,#ff0 230px,#ffde00 242px,#ff0 248px,#dcff00 255px,#0f0 266px,#00ff0f 267px,#00ff39 274px,#00ff32 279px,#0f0 282px,#95ff00 291px,#ff0 300px,#ff8900 311px,#fff000 318px,#ff0 319px,#9fff00 323px,#0f0 326px,#0ff 332px,#00fcff 332px,#0082ff 339px,#0067ff 366px,#00cdff 382px,#0ff 386px,#00ff6a 397px,#00ff6c 409px,#00ffa6 415px,#00ffe1 419px,#00ff7e 427px,#00ff03 432px,#0f0 439px,#01ff00 442px,#0f0 442px,#00ff4f 448px,#00fff0 456px,#0ff 456px,#001eff 460px,#00f 460px,#ca00ff 462px,#f0f 462px,#f02 463px,#f00 465px,#f00 487px,#f0f 488px,#7400ff 489px,#00f 490px,#00b3ff 491px,#0ff 492px,#00ffa3 493px,#0f0 498px,#82ff00 502px,#b5ff00 505px,#47ff00 512px,#39ff00 530px)"></i><i style="left:302.9px;width:10.5px;background:linear-gradient(#d7ff00 0px,#ff0 9px,#f90 31px,#ffd300 67px,#ffa600 79px,#ff0 101px,#df0 110px,#5cff00 120px,#0fff00 126px,#0f0 131px,#00ff1d 142px,#0f0 147px,#09ff00 149px,#b3ff00 160px,#ff0 175px,#fff500 177px,#ff0 182px,#dcff00 200px,#46ff00 213px,#42ff00 217px,#f3ff00 229px,#ff0 233px,#ffde00 242px,#ff0 248px,#d9ff00 255px,#0f0 265px,#00ff3d 268px,#00ff63 274px,#00ff4e 280px,#0f0 284px,#84ff00 290px,#ff0 300px,#ffa400 308px,#ff8500 312px,#ff0 319px,#fdff00 319px,#a5ff00 323px,#0f0 326px,#00fffb 331px,#0ff 331px,#008aff 338px,#0064ff 363px,#00b1ff 380px,#0ff 388px,#00ff9a 398px,#00ff9e 411px,#00ffea 419px,#00ff5b 428px,#0f0 432px,#04ff00 432px,#0f0 435px,#00ff09 443px,#00ff7b 450px,#00ffe8 456px,#0ff 456px,#002eff 460px,#00f 461px,#2400ff 461px,#a500ff 462px,#f0f 462px,#ff008f 463px,#f00 464px,#ff000c 487px,#f0f 488px,#7d00ff 489px,#00f 490px,#00a7ff 491px,#0ff 492px,#00ff9a 493px,#00ff1e 496px,#0f0 497px,#ceff00 504px,#e3ff00 505px,#4bff00 512px,#3bff00 530px)"></i><i style="left:313.1px;width:10.6px;background:linear-gradient(#d6ff00 0px,#ff0 9px,#ff9700 31px,#ffd000 68px,#ffb200 80px,#ff0 101px,#dbff00 111px,#47ff00 129px,#3aff00 144px,#73ff00 152px,#e2ff00 165px,#ff0 176px,#fe0 182px,#ff0 186px,#c1ff00 203px,#25ff00 215px,#a9ff00 224px,#f2ff00 230px,#ff0 234px,#ffe300 244px,#ff0 248px,#cfff00 256px,#0f0 264px,#00ff60 268px,#00ff8f 274px,#00ff84 280px,#0f0 285px,#79ff00 290px,#ff0 301px,#ffad00 308px,#ff7800 312px,#ffcd00 317px,#ff0 319px,#86ff00 324px,#0f0 326px,#0ff 331px,#00f7ff 331px,#00b1ff 334px,#0074ff 343px,#006bff 368px,#0cf 384px,#0ff 391px,#00ffc9 399px,#00ffcd 414px,#00ffe3 420px,#0f0 432px,#0cff00 433px,#0f0 439px,#00ff08 443px,#0ff 457px,#00faff 457px,#00f 461px,#0500ff 461px,#f0f 463px,#ff00fc 463px,#f00 464px,#ff000c 487px,#ff00df 488px,#f0f 488px,#00f 490px,#00a2ff 491px,#0ff 492px,#00ff48 494px,#0f0 496px,#f2ff00 504px,#feff00 506px,#50ff00 512px,#37ff00 525px,#3cff00 530px)"></i><i style="left:323.4px;width:10.6px;background:linear-gradient(#d4ff00 0px,#ff0 9px,#ff9600 31px,#ffce00 68px,#ffbd00 84px,#ff0 103px,#80ff00 139px,#bdff00 156px,#ff0 172px,#ffef00 176px,#ff0 183px,#df0 199px,#49ff00 212px,#18ff00 215px,#9cff00 224px,#e4ff00 229px,#ff0 236px,#ffe300 244px,#ff0 249px,#d7ff00 255px,#96ff00 259px,#0f0 264px,#00ff8e 269px,#00ffbd 274px,#00ffa1 281px,#0f0 286px,#4eff00 289px,#a0ff00 294px,#ff0 302px,#ffa400 309px,#ff6c00 312px,#ffc000 317px,#ff0 319px,#8aff00 324px,#0f0 326px,#0ff 331px,#00b2ff 332px,#0070ff 344px,#006aff 368px,#00cbff 385px,#0ff 402px,#00ffea 409px,#0fe 420px,#0f0 432px,#14ff00 433px,#0f0 438px,#00ff15 444px,#00fff3 457px,#0ff 457px,#000fff 461px,#00f 461px,#db00ff 463px,#f0f 463px,#f00 464px,#ff000c 487px,#ff00fc 488px,#f0f 488px,#00f 490px,#00a2ff 491px,#0ff 492px,#00ff38 494px,#0f0 496px,#ff0 504px,#ffd100 505px,#ffcb00 506px,#ff0 507px,#5aff00 512px,#30ff00 523px,#3dff00 530px)"></i><i style="left:333.7px;width:10.5px;background:linear-gradient(#d8ff00 0px,#ff0 8px,#ff9500 31px,#ffcf00 67px,#ffbc00 84px,#ff0 103px,#82ff00 139px,#beff00 156px,#ff0 172px,#ffed00 176px,#ff0 183px,#d7ff00 200px,#34ff00 213px,#2cff00 216px,#b5ff00 225px,#ff0 235px,#ffe900 238px,#fff300 249px,#ff0 250px,#aeff00 258px,#0f0 264px,#00ff93 269px,#00ffbf 274px,#00ffa1 281px,#0f0 287px,#79ff00 291px,#ff0 302px,#ffb300 308px,#ff6c00 312px,#ffc600 317px,#ff0 319px,#8f0 324px,#0f0 326px,#0ff 331px,#00b7ff 332px,#0072ff 343px,#006bff 368px,#00c2ff 384px,#0ff 401px,#00ffef 405px,#00ffec 420px,#0f0 432px,#12ff00 433px,#0f0 438px,#00ff15 444px,#00fff3 457px,#0ff 457px,#000fff 461px,#00f 461px,#db00ff 463px,#f0f 463px,#f00 464px,#f00 486px,#ff0035 487px,#f0f 488px,#e500ff 488px,#00f 490px,#00b6ff 491px,#0ff 492px,#00ff31 494px,#0f0 496px,#ff0 503px,#ffcf00 505px,#ffce00 506px,#ff0 507px,#5aff00 512px,#30ff00 523px,#3dff00 530px)"></i><i style="left:343.9px;width:10.6px;background:linear-gradient(#dbff00 0px,#ff0 8px,#ff9500 30px,#ffd000 66px,#ffbc00 84px,#ff0 103px,#84ff00 139px,#c0ff00 156px,#ff0 171px,#ffec00 176px,#ff0 183px,#d2ff00 200px,#2f0 214px,#a6ff00 224px,#ff0 233px,#fff700 234px,#ffe500 245px,#ff0 249px,#c0ff00 257px,#0f0 264px,#00ff9a 269px,#00ffc0 275px,#00ffa3 281px,#0f0 287px,#73ff00 291px,#ff0 302px,#ffaf00 308px,#ff7000 312px,#ffe500 318px,#ff0 319px,#84ff00 324px,#0f0 326px,#0ff 331px,#00ecff 331px,#00aeff 333px,#0073ff 343px,#006fff 369px,#00c1ff 384px,#0ff 400px,#0fe 405px,#00ffea 420px,#0f0 432px,#1f0 433px,#0f0 438px,#00ff15 444px,#00fff3 457px,#0ff 457px,#000fff 461px,#00f 461px,#db00ff 463px,#f0f 463px,#f00 464px,#f00 486px,#ff005e 487px,#f0f 488px,#c900ff 488px,#00f 489px,#00caff 491px,#0ff 492px,#00ff2a 494px,#0f0 495px,#ff0 503px,#ffe300 504px,#ffd100 506px,#ff0 507px,#5aff00 512px,#30ff00 523px,#3dff00 530px)"></i><i style="left:354.2px;width:10.5px;background:linear-gradient(#deff00 0px,#ff0 6px,#ffb900 18px,#f90 34px,#ffd200 65px,#fb0 84px,#ff0 104px,#85ff00 139px,#c7ff00 157px,#ff0 171px,#ffeb00 176px,#ff0 183px,#cf0 200px,#2dff00 214px,#a9ff00 224px,#ff0 234px,#ffec00 236px,#ffeb00 247px,#ff0 249px,#a7ff00 258px,#0f0 263px,#00ff8d 268px,#00ffc6 274px,#00ffa7 281px,#0f0 287px,#81ff00 292px,#ff0 302px,#ffab00 308px,#ff7100 311px,#ffd100 317px,#ff0 319px,#7cff00 324px,#0f0 326px,#0ff 331px,#0ef 331px,#00a4ff 334px,#0072ff 344px,#07f 371px,#00c1ff 384px,#0ff 400px,#0fe 404px,#00ffe8 420px,#0f0 432px,#0fff00 433px,#0f0 438px,#00ff15 444px,#00fff3 457px,#0ff 457px,#000fff 461px,#00f 461px,#db00ff 463px,#f0f 463px,#f00 464px,#f00 486px,#ff0087 487px,#f0f 488px,#ad00ff 488px,#00f 489px,#00deff 491px,#0ff 491px,#0f2 494px,#0f0 495px,#ff0 503px,#ffe000 504px,#ffd400 506px,#ff0 507px,#5aff00 512px,#30ff00 523px,#3dff00 530px)"></i><i style="left:364.4px;width:10.6px;background:linear-gradient(#e1ff00 0px,#ff0 4px,#ffce00 11px,#ff9700 33px,#ffd800 63px,#ffba00 84px,#ff0 104px,#87ff00 139px,#cdff00 158px,#ff0 170px,#ffea00 175px,#ff0 182px,#d0ff00 199px,#2eff00 213px,#9bff00 223px,#ff0 233px,#fff400 234px,#ffe300 245px,#ff0 249px,#c5ff00 256px,#69ff00 260px,#0f0 263px,#00ff94 268px,#00ffc9 274px,#00ffad 281px,#0f0 287px,#7fff00 292px,#ff0 301px,#ffa700 308px,#ff6b00 311px,#ff0 319px,#e8ff00 320px,#4bff00 325px,#0f0 326px,#0ff 331px,#00f0ff 331px,#00a6ff 334px,#0076ff 342px,#0074ff 370px,#00b7ff 383px,#0ff 399px,#0fe 403px,#00ffe6 420px,#0f0 432px,#0dff00 433px,#0f0 437px,#00ff15 444px,#00fff3 457px,#0ff 457px,#000fff 461px,#00f 461px,#db00ff 463px,#f0f 463px,#f00 464px,#f00 486px,#f0f 487px,#9000ff 488px,#00f 489px,#0083ff 490px,#0ff 491px,#00ff57 493px,#0f0 495px,#2bff00 496px,#ff0 503px,#fd0 504px,#ffc800 505px,#ff0 507px,#5aff00 512px,#30ff00 523px,#3dff00 530px)"></i><i style="left:374.7px;width:10.6px;background:linear-gradient(#e4ff00 0px,#ff0 3px,#fc0 9px,#ff9400 32px,#ffdc00 62px,#ffb600 83px,#ff0 105px,#8aff00 140px,#d3ff00 159px,#ff0 169px,#ffea00 174px,#ff0 182px,#d4ff00 198px,#38ff00 213px,#9eff00 223px,#ff0 233px,#ffec00 235px,#ffe600 246px,#ff0 249px,#c3ff00 256px,#64ff00 260px,#0f0 263px,#00ff9b 268px,#00ffcb 275px,#00ffb5 281px,#0f0 288px,#7cff00 292px,#ff0 301px,#ffa300 308px,#ff6d00 311px,#ff0 318px,#b2ff00 322px,#4bff00 325px,#0f0 326px,#0ff 331px,#00f2ff 331px,#00a7ff 334px,#07f 342px,#07f 371px,#00b6ff 383px,#0ff 398px,#0fe 402px,#00ffe5 420px,#0f0 432px,#0bff00 433px,#0f0 437px,#00ff15 444px,#00fff3 457px,#0ff 457px,#000fff 461px,#00f 461px,#db00ff 463px,#f0f 463px,#f00 464px,#f00 486px,#ff00d9 487px,#f0f 487px,#00f 489px,#0020ff 489px,#0ff 491px,#00fff8 491px,#00ff47 493px,#0f0 495px,#f6ff00 502px,#ff0 502px,#ffc600 505px,#ff0 507px,#5aff00 512px,#30ff00 523px,#3dff00 530px)"></i><i style="left:385.0px;width:10.5px;background:linear-gradient(#e7ff00 0px,#ff0 2px,#ffc400 8px,#ff9300 32px,#ffe100 61px,#ffb500 83px,#ff0 105px,#8bff00 140px,#cfff00 158px,#ff0 168px,#ffea00 172px,#ff0 181px,#d8ff00 197px,#41ff00 213px,#91ff00 222px,#ff0 233px,#fff000 234px,#ffe200 245px,#ff0 249px,#d7ff00 254px,#80ff00 259px,#0f0 263px,#00ffa4 268px,#00ffce 275px,#00ffbe 281px,#0f0 288px,#7aff00 292px,#ff0 301px,#ff9e00 308px,#ff7100 311px,#ff0 318px,#afff00 322px,#49ff00 325px,#0f0 326px,#0ff 331px,#00f6ff 331px,#00b3ff 333px,#0079ff 341px,#007aff 372px,#00acff 382px,#0ff 397px,#00fff3 399px,#00ffe3 420px,#0f0 432px,#0aff00 433px,#0f0 436px,#00ff15 444px,#00fff3 457px,#0ff 457px,#000fff 461px,#00f 461px,#db00ff 463px,#f0f 463px,#f00 464px,#f00 485px,#ff0028 486px,#f0f 487px,#fc00ff 487px,#00f 489px,#003eff 489px,#0ff 491px,#00ffe4 491px,#00ff36 493px,#0f0 495px,#ff0 502px,#ffeb00 503px,#ffc300 505px,#ff0 507px,#5aff00 512px,#30ff00 523px,#3dff00 530px)"></i><i style="left:395.2px;width:10.6px;background:linear-gradient(#eaff00 0px,#ff0 2px,#fb0 7px,#ff9300 32px,#ffe800 60px,#ffb200 81px,#ff0 105px,#8cff00 140px,#caff00 157px,#ff0 166px,#ffea00 170px,#ff0 179px,#d2ff00 197px,#4f0 212px,#86ff00 221px,#ff0 232px,#ffed00 234px,#ffe100 245px,#ff0 249px,#d5ff00 254px,#9cff00 258px,#0f0 263px,#00ffab 268px,#00ffd2 275px,#00ffc3 281px,#0f0 288px,#78ff00 292px,#ff0 301px,#ff9a00 308px,#ff7000 310px,#ff0 318px,#c8ff00 321px,#48ff00 325px,#0f0 326px,#0ff 331px,#00f8ff 331px,#00b5ff 333px,#007bff 340px,#0079ff 372px,#00abff 382px,#0ff 397px,#00fff1 399px,#00ffe2 420px,#0f0 433px,#08ff00 433px,#0f0 436px,#00ff15 444px,#00fff3 457px,#0ff 457px,#000fff 461px,#00f 461px,#db00ff 463px,#f0f 463px,#f00 464px,#f00 485px,#ff005c 486px,#f0f 487px,#d300ff 487px,#00f 488px,#005cff 489px,#0ff 491px,#00ffd0 491px,#00ff26 493px,#0f0 494px,#ff0 502px,#ffe700 503px,#ffc100 505px,#ff0 507px,#5aff00 512px,#30ff00 523px,#3dff00 530px)"></i><i style="left:405.5px;width:10.5px;background:linear-gradient(#eaff00 0px,#ff0 2px,#ffc000 8px,#ff9400 33px,#ffe100 59px,#ffb400 82px,#ff0 101px,#bdff00 118px,#9aff00 145px,#ff0 166px,#ffe800 171px,#ff0 179px,#c9ff00 198px,#5eff00 212px,#90ff00 221px,#ff0 234px,#ffe500 237px,#ffeb00 246px,#ff0 248px,#a7ff00 257px,#0f0 263px,#00ff9c 268px,#00ffd2 276px,#00ffbf 281px,#0f0 288px,#6fff00 292px,#ff0 301px,#ff9800 308px,#ff6d00 310px,#ff0 318px,#b8ff00 322px,#64ff00 325px,#0f0 327px,#0ff 331px,#00e1ff 332px,#0084ff 338px,#0071ff 369px,#00a0ff 380px,#0ff 388px,#00ffdb 391px,#00ffc2 399px,#00fff5 420px,#00ff0b 434px,#0f0 442px,#01ff00 443px,#0f0 443px,#0fd 457px,#0ff 458px,#0023ff 461px,#00f 461px,#c200ff 463px,#f0f 463px,#ff0034 464px,#f00 465px,#f00 486px,#ff00ea 487px,#f0f 487px,#00f 489px,#00bfff 490px,#0ff 491px,#00ff30 493px,#0f0 495px,#ff0 503px,#fff000 504px,#ffe400 506px,#ff0 507px,#6dff00 513px,#39ff00 523px,#43ff00 530px)"></i><i style="left:415.7px;width:10.6px;background:linear-gradient(#eaff00 0px,#ff0 3px,#ffc100 10px,#ff9500 34px,#ffda00 57px,#ffb700 82px,#ff0 98px,#c1ff00 112px,#b2ff00 117px,#aeff00 151px,#ff0 166px,#ffe700 171px,#ff0 179px,#c4ff00 199px,#75ff00 212px,#97ff00 221px,#ff0 234px,#ffe200 238px,#ff0 247px,#faff00 249px,#81ff00 258px,#0f0 263px,#00ff90 268px,#00ffd5 277px,#00ffad 282px,#00ff42 286px,#0f0 288px,#6f0 292px,#ff0 301px,#ff9600 308px,#ff6a00 310px,#ff0 318px,#9cff00 324px,#19ff00 327px,#0f0 327px,#0ff 332px,#00d1ff 333px,#007dff 340px,#07f 371px,#00a8ff 380px,#0ff 385px,#00ffae 390px,#00ff82 397px,#0ff 418px,#00f6ff 420px,#0ff 421px,#00ffa2 428px,#0f1 435px,#0f0 437px,#0aff00 439px,#0f0 441px,#00ff1f 447px,#0fc 457px,#0ff 458px,#0df 459px,#00f 462px,#20f 462px,#a700ff 463px,#f0f 463px,#ff0079 464px,#f00 465px,#f00 486px,#f09 487px,#f0f 488px,#00f 489px,#00a5ff 490px,#0ff 491px,#00ff43 493px,#00ff08 494px,#0f0 494px,#ff0 505px,#fe0 506px,#ff0 507px,#d7ff00 510px,#75ff00 515px,#43ff00 524px,#49ff00 530px)"></i><i style="left:426.0px;width:10.5px;background:linear-gradient(#eaff00 0px,#ff0 3px,#ffc300 12px,#ff9300 34px,#ffd700 55px,#ffb600 81px,#ff0 98px,#c9ff00 110px,#9bff00 115px,#c0ff00 123px,#b0ff00 151px,#ff0 165px,#ffe500 170px,#ff0 179px,#b9ff00 202px,#81ff00 217px,#ff0 234px,#ffdc00 239px,#ff0 245px,#cf0 253px,#1eff00 262px,#0f0 263px,#00ff96 269px,#00ffd6 277px,#00ffac 283px,#0f0 289px,#49ff00 291px,#ff0 302px,#ff9400 308px,#ff6700 310px,#ff0 319px,#9f0 325px,#0f0 328px,#00ff31 329px,#0ff 332px,#00e1ff 333px,#007eff 340px,#0076ff 371px,#009dff 379px,#0ff 383px,#00ffb1 387px,#00ff67 392px,#00ff46 397px,#0ff 416px,#00f4ff 417px,#00f3ff 422px,#0ff 423px,#00ffd0 428px,#0f0 437px,#09ff00 437px,#0f0 440px,#00ff18 448px,#00ffba 457px,#00fffc 459px,#0ff 459px,#00f 462px,#00f 462px,#8900ff 463px,#f0f 464px,#f00 465px,#f00 486px,#ff0030 487px,#f0f 488px,#e400ff 488px,#00f 489px,#0078ff 490px,#0ff 491px,#00ff57 493px,#00ff06 494px,#0f0 494px,#ff0 507px,#fff800 507px,#ff0 508px,#f2ff00 510px,#84ff00 516px,#4cff00 524px,#4fff00 530px)"></i><i style="left:436.2px;width:10.6px;background:linear-gradient(#eaff00 0px,#ff0 4px,#ffc400 14px,#ff9100 34px,#ffd400 54px,#ffb500 80px,#ff0 97px,#cbff00 109px,#85ff00 114px,#c3ff00 121px,#b6ff00 152px,#ff0 164px,#ffe200 169px,#ff0 179px,#a3ff00 210px,#93ff00 219px,#ff0 235px,#ffe000 239px,#ff0 244px,#c3ff00 253px,#3eff00 261px,#0f0 263px,#00ff8d 269px,#00ffdb 276px,#00ffc0 283px,#0f0 289px,#40ff00 291px,#adff00 297px,#ff0 302px,#ff9300 308px,#ff6400 310px,#ff0 320px,#9bff00 326px,#0f0 329px,#0ff 333px,#00f1ff 333px,#00b3ff 336px,#007dff 342px,#0076ff 371px,#00a0ff 379px,#0ff 383px,#00ffd0 385px,#00ff47 390px,#00ff09 397px,#00fffb 414px,#0ff 415px,#00dbff 422px,#00feff 428px,#0ff 428px,#0f0 437px,#14ff00 438px,#0f0 444px,#00ff13 449px,#00ffa7 457px,#00ffde 459px,#0ff 459px,#007bff 461px,#00f 462px,#6900ff 463px,#f700ff 464px,#f0f 464px,#f00 465px,#f00 487px,#ff00da 488px,#f0f 488px,#00f 490px,#0047ff 490px,#00d5ff 491px,#0ff 491px,#00ff0e 494px,#0f0 495px,#cdff00 505px,#ff0 508px,#fe0 509px,#ff0 510px,#7bff00 519px,#5f0 526px,#5f0 530px)"></i><i style="left:446.5px;width:10.6px;background:linear-gradient(#ecff00 0px,#ff0 4px,#ffc200 15px,#ff9b00 34px,#ffc100 41px,#ff0 44px,#c1ff00 48px,#ff0 50px,#ffe700 51px,#ffb200 78px,#ff0 95px,#cf0 107px,#7fff00 112px,#c0ff00 119px,#bf0 151px,#ff0 162px,#ffe200 167px,#ff0 178px,#9f0 217px,#ff0 233px,#ffe300 238px,#ff0 242px,#b8ff00 252px,#20ff00 260px,#0f0 261px,#00ff96 267px,#00ffdf 275px,#00ffb9 282px,#0f0 287px,#36ff00 289px,#b3ff00 296px,#ff0 301px,#ffae00 306px,#ff6500 309px,#ff0 318px,#8bff00 325px,#0f0 327px,#0ff 332px,#00ebff 332px,#0085ff 340px,#007dff 370px,#00a9ff 378px,#0ff 382px,#00ffd1 384px,#00ff50 389px,#0f1 396px,#00fffd 413px,#0ff 413px,#00dbff 421px,#00feff 427px,#0ff 427px,#0f0 436px,#0eff00 437px,#0f0 441px,#00ff14 448px,#00ffc9 457px,#00ffe4 458px,#0ff 458px,#0019ff 461px,#00f 461px,#f500ff 463px,#f0f 463px,#f00 464px,#f00 486px,#ff007f 487px,#f0f 488px,#00f 489px,#000eff 489px,#009cff 490px,#0ff 491px,#00ff38 493px,#0f0 496px,#56ff00 500px,#bfff00 507px,#abff00 510px,#51ff00 516px,#30ff00 524px,#3eff00 530px)"></i><i style="left:456.8px;width:10.5px;background:linear-gradient(#ef0 0px,#ff0 3px,#ffbd00 17px,#ffa500 34px,#ffbf00 40px,#ff0 42px,#81ff00 46px,#53ff00 47px,#70ff00 48px,#f2ff00 50px,#ff0 52px,#ffc100 62px,#fb0 79px,#ff0 94px,#caff00 105px,#83ff00 111px,#c0ff00 118px,#bf0 149px,#ff0 160px,#ffe200 165px,#ff0 176px,#9bff00 214px,#ff0 231px,#ffe200 236px,#ff0 240px,#bdff00 250px,#20ff00 258px,#0f0 259px,#00ffab 266px,#00ffe2 275px,#00ffa9 281px,#0f0 286px,#4f0 288px,#baff00 295px,#ff0 300px,#ffb200 305px,#f60 308px,#ff0 317px,#a2ff00 323px,#0f0 326px,#00ffa9 329px,#0ff 331px,#00e6ff 331px,#008bff 339px,#007fff 368px,#00c2ff 378px,#0ff 381px,#0f9 385px,#00ff42 390px,#00ff17 395px,#00fff8 411px,#0ff 413px,#00dbff 421px,#00fdff 426px,#0ff 426px,#0f0 436px,#08ff00 436px,#0f0 439px,#00ff16 447px,#00ffe9 457px,#0ff 457px,#0019ff 460px,#00f 460px,#f300ff 462px,#f0f 462px,#f00 463px,#f00 485px,#ff0026 486px,#f0f 487px,#2b00ff 488px,#00f 488px,#00d4ff 490px,#0ff 490px,#00ff63 492px,#0f0 496px,#09ff00 496px,#78ff00 505px,#60ff00 509px,#1f0 515px,#0eff00 524px,#2cff00 530px)"></i><i style="left:467.0px;width:10.6px;background:linear-gradient(#f0ff00 0px,#ff0 3px,#ffba00 19px,#ffb400 35px,#ffd300 40px,#ff0 41px,#52ff00 45px,#0f0 46px,#00ff23 47px,#0f0 47px,#a6ff00 49px,#ef0 50px,#ff0 52px,#ffc500 60px,#fb0 78px,#ff0 92px,#c9ff00 103px,#7cff00 109px,#bfff00 117px,#bf0 147px,#ff0 158px,#ffe100 163px,#ff0 174px,#9eff00 208px,#e6ff00 224px,#ff0 229px,#ffe400 235px,#ff0 239px,#c3ff00 248px,#20ff00 256px,#0f0 257px,#00ffb2 264px,#00ffe9 274px,#00ff9b 280px,#0f0 285px,#51ff00 287px,#c8ff00 295px,#ff0 299px,#ffb600 304px,#f60 307px,#ff0 316px,#dbff00 318px,#98ff00 322px,#0f0 325px,#0ff 329px,#00e2ff 330px,#0092ff 338px,#0081ff 366px,#00c9ff 377px,#0ff 380px,#00ff9e 384px,#00ff40 390px,#00ff1e 394px,#00fffa 410px,#0ff 411px,#00deff 421px,#0ff 425px,#00fff1 426px,#0f0 435px,#02ff00 435px,#01ff00 442px,#0f0 442px,#00ff2b 447px,#00ffef 456px,#0ff 456px,#0019ff 459px,#00f 459px,#f500ff 461px,#f0f 461px,#f00 462px,#f00 485px,#ff00b5 486px,#f0f 486px,#6500ff 487px,#00f 488px,#0ff 490px,#00ffde 490px,#00ff8e 491px,#0f2 494px,#0f0 497px,#2bff00 500px,#24ff00 507px,#0f0 510px,#00ff30 513px,#00ff06 525px,#0f0 526px,#1fff00 530px)"></i><i style="left:477.3px;width:10.5px;background:linear-gradient(#f2ff00 0px,#ff0 3px,#ffb700 21px,#ffbe00 35px,#ffd200 39px,#ff0 40px,#d6ff00 41px,#0f0 44px,#0f2 45px,#00ff83 46px,#00ff52 47px,#0f0 48px,#c4ff00 49px,#ff0 53px,#ffcd00 57px,#ffbc00 77px,#ff0 91px,#d2ff00 100px,#79ff00 107px,#c0ff00 116px,#c1ff00 146px,#ff0 156px,#ffe100 161px,#ff0 171px,#a1ff00 202px,#cbff00 218px,#ff0 228px,#ffe300 233px,#ff0 237px,#b7ff00 247px,#21ff00 254px,#0f0 255px,#00ffb7 262px,#00fff0 273px,#00ff90 279px,#0f0 283px,#4bff00 285px,#c4ff00 293px,#ff0 298px,#ffe000 301px,#f60 306px,#ff0 314px,#fdff00 314px,#b1ff00 320px,#0f0 323px,#00ff4d 325px,#0ff 328px,#00fbff 328px,#009eff 335px,#0084ff 364px,#00dbff 377px,#0ff 379px,#00ff5e 387px,#00ff23 393px,#00fffc 409px,#0ff 410px,#0df 420px,#0ff 423px,#00ffe0 426px,#00ff15 433px,#0f0 435px,#0fff00 437px,#0f0 440px,#00ff19 445px,#00fff4 455px,#0ff 455px,#0019ff 458px,#00f 458px,#f400ff 460px,#f0f 460px,#f00 461px,#f00 484px,#ff006e 485px,#f0f 486px,#9f00ff 486px,#00f 487px,#00fbff 489px,#0ff 489px,#00ff89 491px,#00ff3d 493px,#0f0 497px,#09ff00 498px,#0f0 499px,#00ff45 508px,#00ff6f 513px,#0f0 527px,#17ff00 530px)"></i><i style="left:487.5px;width:10.6px;background:linear-gradient(#f4ff00 0px,#ff0 3px,#ffb300 24px,#ffde00 39px,#ff0 39px,#0f0 43px,#0f3 44px,#0ff 46px,#00f0ff 46px,#0ff 46px,#0f0 48px,#59ff00 48px,#c7ff00 49px,#ff0 53px,#ffd000 56px,#fb0 76px,#ff0 89px,#d4ff00 98px,#72ff00 105px,#bdff00 114px,#c1ff00 144px,#ff0 154px,#ffe100 159px,#ff0 168px,#9fff00 199px,#e3ff00 219px,#ff0 225px,#ffe200 231px,#ff0 235px,#bdff00 245px,#2f0 252px,#0f0 253px,#00ffa4 259px,#00ffdf 263px,#00fff4 272px,#00ff85 278px,#0f0 282px,#59ff00 284px,#c9ff00 292px,#ff0 297px,#ffe200 300px,#ff6a00 305px,#ffe900 311px,#ff0 313px,#aeff00 319px,#0f0 322px,#0ff 327px,#00f1ff 327px,#00a0ff 335px,#0087ff 362px,#00dfff 376px,#0ff 378px,#00ff5c 387px,#00ff32 393px,#00ffea 406px,#0ff 411px,#00dcff 419px,#0ff 422px,#00ffe6 425px,#00ff1c 432px,#0f0 435px,#0fff00 436px,#0f0 439px,#00ff1a 444px,#00fffa 454px,#0ff 454px,#001aff 457px,#00f 457px,#f100ff 459px,#f0f 459px,#f00 460px,#f00 483px,#ff0029 484px,#f0f 485px,#d900ff 485px,#00f 487px,#00d4ff 488px,#0ff 489px,#00ff75 491px,#00ff16 497px,#00ffb7 511px,#0f0 528px,#14ff00 530px)"></i><i style="left:497.8px;width:10.6px;background:linear-gradient(#f7ff00 0px,#ff0 2px,#ffb300 24px,#ffea00 39px,#ff0 39px,#0f0 42px,#00ff48 43px,#00ffb7 44px,#0ff 44px,#00aeff 45px,#00e7ff 46px,#0ff 46px,#0f0 47px,#a7ff00 48px,#ff0 53px,#ffd300 55px,#ffbd00 76px,#ff0 88px,#d6ff00 96px,#73ff00 104px,#beff00 113px,#c1ff00 142px,#ff0 152px,#ffe100 157px,#ff0 166px,#9aff00 196px,#ff0 223px,#ffe500 230px,#ff0 234px,#c4ff00 243px,#26ff00 250px,#0f0 251px,#00ff94 256px,#00ffec 261px,#00fff4 271px,#00ff7a 277px,#0f0 280px,#5f0 282px,#c8ff00 290px,#ff0 297px,#fff600 298px,#ff8700 303px,#ff6e00 304px,#ffdf00 309px,#ff0 311px,#af0 318px,#0f0 321px,#0ff 326px,#00e7ff 326px,#00a5ff 335px,#008cff 361px,#00ecff 376px,#0ff 377px,#00ff65 386px,#00ff36 392px,#00ffe1 404px,#0ff 410px,#00dbff 418px,#0ff 422px,#00ffec 424px,#00ff38 430px,#0f0 433px,#14ff00 434px,#0f0 438px,#00ff1c 443px,#0ff 453px,#0ff 453px,#001aff 456px,#00f 456px,#eb00ff 458px,#f0f 458px,#f00 459px,#f00 483px,#ff00ea 484px,#f0f 484px,#00f 486px,#00aeff 487px,#0ff 488px,#00ff92 490px,#00ff32 495px,#00ffd8 506px,#00fffa 510px,#0f0 528px,#16ff00 530px)"></i><i style="left:508.1px;width:10.5px;background:linear-gradient(#f5ff00 0px,#ff0 4px,#ffc900 23px,#fffa00 38px,#ff0 38px,#dbff00 39px,#0f0 42px,#00ff74 43px,#0ff 44px,#0085ff 45px,#0ff 46px,#0f0 47px,#3dff00 47px,#b2ff00 48px,#ff0 52px,#ffd200 55px,#ffbc00 75px,#ff0 88px,#d7ff00 95px,#74ff00 103px,#beff00 112px,#c3ff00 141px,#ff0 151px,#ffe200 156px,#ff0 165px,#9aff00 194px,#ff0 221px,#ffe400 228px,#ff0 232px,#c7ff00 241px,#2cff00 248px,#0f0 249px,#00ffa6 255px,#00ffef 260px,#00fff9 269px,#00ff5f 276px,#0f0 278px,#5fff00 281px,#caff00 289px,#ff0 295px,#fff000 297px,#ff9e00 301px,#ff7500 303px,#fff300 309px,#ff0 310px,#9aff00 317px,#0f0 320px,#00fffc 324px,#0ff 324px,#00c5ff 328px,#009eff 338px,#008eff 360px,#00e5ff 374px,#0ff 376px,#0f6 385px,#00ff31 390px,#00ffe6 403px,#0ff 409px,#0df 417px,#0ff 422px,#00fffc 422px,#00ff2f 429px,#0f0 432px,#12ff00 433px,#0f0 436px,#00ff24 442px,#0ff 451px,#00e9ff 452px,#0003ff 455px,#00f 455px,#8600ff 456px,#f0f 457px,#f00 458px,#f00 481px,#ff0034 482px,#f0f 483px,#e900ff 483px,#00f 485px,#0046ff 485px,#00bfff 486px,#0ff 487px,#00ff83 489px,#00ff37 494px,#00ffcf 503px,#0ff 509px,#0f0 528px,#1cff00 530px)"></i><i style="left:518.3px;width:10.6px;background:linear-gradient(#f3ff00 0px,#ff0 5px,#ffe000 19px,#ff0 32px,#efff00 38px,#0f0 41px,#00ffb2 43px,#0ff 44px,#00bfff 44px,#00feff 45px,#0ff 45px,#0f0 46px,#a6ff00 47px,#ff0 52px,#ffd400 54px,#fb0 74px,#ff0 87px,#d9ff00 94px,#74ff00 102px,#beff00 111px,#c5ff00 140px,#ff0 150px,#ffe300 155px,#ff0 163px,#9cff00 193px,#ff0 219px,#ffe300 226px,#ff0 231px,#cbff00 239px,#32ff00 246px,#0f0 248px,#00ffa3 253px,#00fff0 258px,#00ffe9 268px,#00ff45 275px,#0f0 277px,#57ff00 279px,#cf0 288px,#ff0 295px,#fffb00 295px,#ff9300 300px,#ff7100 301px,#ff0 309px,#eaff00 310px,#aeff00 315px,#0f0 318px,#00ff96 321px,#0ff 323px,#00f0ff 323px,#00a5ff 332px,#008bff 358px,#00e7ff 373px,#0ff 374px,#00ff71 383px,#00ff3c 389px,#00fff6 403px,#0ff 406px,#00dfff 416px,#0ff 420px,#00fff2 421px,#00ff3b 427px,#0f0 431px,#10ff00 432px,#0f0 434px,#00ff2c 441px,#00fff6 450px,#0ff 450px,#003aff 453px,#00f 454px,#20f 454px,#af00ff 455px,#f0f 455px,#ff0060 456px,#f00 457px,#f00 480px,#ff0084 481px,#f0f 482px,#bd00ff 482px,#00f 483px,#0072ff 484px,#0ff 486px,#00fff0 486px,#00ff83 488px,#00ff41 493px,#00ffd1 501px,#0ff 505px,#0ef 507px,#0ff 508px,#0f0 529px,#13ff00 530px)"></i><i style="left:528.6px;width:10.5px;background:linear-gradient(#f1ff00 0px,#ff0 8px,#fff000 16px,#ff0 23px,#deff00 37px,#bcff00 38px,#0f0 40px,#00ff76 42px,#0ff 43px,#00a0ff 44px,#0ff 44px,#0f0 46px,#47ff00 46px,#afff00 47px,#ff0 51px,#ffd300 54px,#ffba00 73px,#ff0 86px,#daff00 93px,#75ff00 101px,#bdff00 110px,#c7ff00 139px,#ff0 148px,#ffe000 153px,#ff0 162px,#9cff00 191px,#ff0 217px,#ffe200 224px,#ff0 228px,#bcff00 238px,#17ff00 245px,#0f0 246px,#00ffa1 251px,#00fff1 256px,#00ffef 266px,#00ff51 273px,#0f0 275px,#62ff00 278px,#c9ff00 286px,#ff0 293px,#fff600 294px,#fa0 298px,#f60 300px,#fd0 305px,#ff0 308px,#af0 314px,#0f0 317px,#0ff 322px,#00e4ff 322px,#00a4ff 331px,#008cff 357px,#00eaff 372px,#0ff 373px,#00ff72 382px,#00ff46 388px,#00fffa 402px,#0ff 404px,#00e1ff 415px,#0ff 418px,#00ffe5 420px,#0f3 426px,#0f0 429px,#13ff00 430px,#0f0 434px,#00ff1d 439px,#00fffc 449px,#0ff 449px,#0023ff 452px,#00f 452px,#d700ff 454px,#f0f 454px,#f00 455px,#f00 479px,#ff00d4 480px,#f0f 480px,#00f 482px,#009dff 483px,#0ff 485px,#00ffa4 486px,#00ff50 491px,#00ffe9 501px,#0ff 504px,#00e9ff 506px,#0ff 508px,#0f0 528px,#07ff00 529px,#08ff00 530px)"></i><i style="left:538.8px;width:10.6px;background:linear-gradient(#deff00 0px,#cbff00 8px,#1dff00 22px,#17ff00 37px,#0f0 38px,#00ff7b 41px,#00ffd5 43px,#00ff91 44px,#0f0 45px,#8fff00 46px,#ff0 51px,#ffda00 53px,#ffb200 71px,#ff0 85px,#d4ff00 92px,#87ff00 100px,#c6ff00 113px,#c5ff00 136px,#ff0 146px,#ffde00 152px,#ff0 160px,#9fff00 185px,#f5ff00 211px,#ff0 214px,#ffdf00 223px,#ff0 227px,#c0ff00 236px,#49ff00 241px,#0f0 243px,#00ffc4 249px,#0ff 255px,#00f7ff 256px,#0ff 257px,#00ffd4 264px,#00ff31 270px,#0f0 272px,#7cff00 277px,#dfff00 289px,#ff0 291px,#ffc100 296px,#ff6100 299px,#ffc500 302px,#ff0 306px,#98ff00 313px,#0f0 316px,#0ff 320px,#00f7ff 320px,#00cbff 322px,#009dff 331px,#0093ff 357px,#0ef 371px,#0ff 372px,#00ff9e 380px,#00ff8a 387px,#0ff 401px,#00e2ff 404px,#00e5ff 414px,#0ff 415px,#00ff8f 420px,#00ff14 425px,#0f0 430px,#03ff00 431px,#0f0 431px,#00ff35 438px,#0ff 447px,#00f4ff 448px,#0005ff 451px,#00f 451px,#f0f 453px,#f0f 453px,#f00 454px,#ff000c 478px,#f0f 479px,#fe00ff 479px,#00f 481px,#00b4ff 482px,#0ff 484px,#00ffb6 485px,#00ffc1 491px,#0ff 494px,#00c1ff 497px,#0092ff 505px,#0ff 515px,#00ff71 529px,#00ff6c 530px)"></i><i style="left:549.1px;width:10.6px;background:linear-gradient(#bfff00 0px,#80ff00 7px,#0f0 10px,#00ffa7 15px,#0ff 19px,#0af 22px,#00b8ff 33px,#00faff 39px,#0ff 39px,#00ff9c 41px,#0f0 43px,#5fff00 45px,#ff0 50px,#fe0 51px,#ffa700 69px,#ff0 86px,#f8ff00 87px,#9f0 96px,#baff00 117px,#cdff00 133px,#ff0 142px,#ffd600 149px,#ff0 158px,#9f0 179px,#ff0 207px,#ffed00 212px,#ffd400 222px,#ff0 227px,#acff00 236px,#0f0 240px,#00ffed 246px,#0ff 248px,#00d5ff 254px,#0ff 257px,#00ffb3 262px,#0f0 266px,#2dff00 267px,#a3ff00 277px,#feff00 291px,#ff0 291px,#ffb900 295px,#ff5600 297px,#ff5b00 298px,#ffbf00 300px,#ff0 304px,#9eff00 311px,#2fff00 313px,#0f0 314px,#00ff9c 316px,#0ff 318px,#00ceff 319px,#0095ff 328px,#009aff 357px,#0ff 371px,#00ffe6 375px,#00ffe7 384px,#0ff 391px,#00c8ff 407px,#00e9ff 413px,#0ff 414px,#00ff46 419px,#0f0 423px,#13ff00 424px,#0f0 427px,#00ff2e 435px,#00fff6 446px,#0ff 446px,#00dcff 447px,#00f 450px,#2a00ff 450px,#a600ff 451px,#f0f 451px,#ff0095 452px,#f00 453px,#f00 476px,#ff005c 477px,#f0f 478px,#d300ff 478px,#00f 479px,#005cff 480px,#00b9ff 481px,#0ff 483px,#00ffed 484px,#0ff 485px,#0053ff 492px,#0013ff 495px,#000cff 505px,#0098ff 522px,#00e5ff 530px)"></i><i style="left:559.4px;width:10.5px;background:linear-gradient(#bfff00 0px,#7aff00 7px,#0f0 10px,#00ffae 15px,#0ff 18px,#0af 21px,#00bdff 33px,#0ff 39px,#0ff 39px,#0f0 43px,#4bff00 44px,#ff0 50px,#ffe700 51px,#ffa600 68px,#fffc00 85px,#ff0 85px,#98ff00 95px,#bf0 115px,#caff00 131px,#ff0 141px,#ffd500 148px,#ff0 156px,#98ff00 177px,#ff0 205px,#fe0 210px,#ffd400 220px,#ff0 225px,#afff00 234px,#0f0 238px,#0ff 245px,#00fdff 245px,#00dcff 253px,#0ff 256px,#00ffc1 260px,#0f0 264px,#1dff00 265px,#a0ff00 275px,#ff0 289px,#fffa00 290px,#fa0 294px,#ff4800 296px,#ffc300 299px,#ff0 303px,#9f0 310px,#0f0 312px,#0fa 315px,#0ff 317px,#00c0ff 318px,#0095ff 329px,#0098ff 355px,#0ff 371px,#00fffd 371px,#00ffda 378px,#0ff 389px,#00c9ff 406px,#00efff 412px,#0ff 412px,#00ff40 418px,#0f0 422px,#12ff00 423px,#0f0 427px,#00ff20 433px,#00fffa 445px,#0ff 445px,#001fff 448px,#00f 448px,#ca00ff 450px,#f0f 450px,#ff002b 451px,#f00 452px,#f00 475px,#f0f 477px,#1000ff 478px,#00f 478px,#0087ff 479px,#00e2ff 481px,#0ff 482px,#00fff3 483px,#0ff 484px,#004bff 491px,#0013ff 494px,#000dff 504px,#0091ff 520px,#00f2ff 530px)"></i><i style="left:569.6px;width:10.6px;background:linear-gradient(#bfff00 0px,#75ff00 7px,#0f0 10px,#0f9 14px,#0ff 18px,#0af 21px,#00b7ff 32px,#00faff 38px,#0ff 38px,#00ff53 41px,#0f0 42px,#65ff00 44px,#ff0 49px,#ffe900 50px,#ffa600 67px,#fffc00 84px,#ff0 84px,#98ff00 94px,#bf0 114px,#c9ff00 130px,#ff0 140px,#ffd700 148px,#ff0 156px,#98ff00 176px,#ff0 204px,#fe0 209px,#ffd400 219px,#ff0 224px,#aeff00 233px,#0f0 237px,#0ff 244px,#00fdff 244px,#00deff 252px,#0ff 254px,#00ffc0 259px,#0f0 263px,#2f0 264px,#a0ff00 274px,#ff0 288px,#fff900 289px,#ffa500 293px,#ff4200 295px,#ffc500 298px,#ff0 302px,#98ff00 309px,#0f0 311px,#00ffad 314px,#0ff 316px,#00bfff 317px,#0095ff 328px,#0098ff 354px,#0ff 370px,#00fffd 370px,#00ffda 377px,#0ff 388px,#00c9ff 405px,#00eaff 411px,#0ff 412px,#0f4 417px,#0f0 421px,#13ff00 422px,#0f0 425px,#00ff2f 433px,#00fff6 444px,#0ff 444px,#00d9ff 445px,#00f 447px,#2e00ff 448px,#a0f 449px,#f0f 449px,#ff008c 450px,#f00 451px,#f00 474px,#ff0062 475px,#f0f 476px,#d000ff 476px,#00f 477px,#005fff 478px,#00baff 479px,#0ff 481px,#00ffed 482px,#0ff 483px,#0053ff 490px,#0013ff 493px,#000cff 503px,#09f 520px,#00f8ff 530px)"></i><i style="left:579.9px;width:10.5px;background:linear-gradient(#f4ff00 0px,#deff00 8px,#0f0 20px,#00ff1b 22px,#00ff64 32px,#00ff4c 37px,#0f0 39px,#18ff00 40px,#a6ff00 44px,#ff0 49px,#ffe600 50px,#ffa500 66px,#ff0 84px,#feff00 84px,#a5ff00 93px,#b5ff00 120px,#eaff00 136px,#ff0 140px,#ffce00 148px,#ff0 158px,#9dff00 179px,#ff0 204px,#fffb00 205px,#ffc500 216px,#ff0 226px,#faff00 227px,#abff00 233px,#1aff00 238px,#0f0 239px,#00ffd3 244px,#0ff 246px,#00e8ff 247px,#00f9ff 254px,#0ff 254px,#0f9 259px,#0f0 263px,#3fff00 265px,#a3ff00 275px,#ff0 288px,#ff0 288px,#ff9600 292px,#ff3800 294px,#ffbd00 297px,#ff0 301px,#93ff00 308px,#0f0 310px,#00ffb7 313px,#0ff 315px,#00bdff 316px,#008eff 325px,#0093ff 353px,#0ff 372px,#00ffe9 376px,#0ff 384px,#00c7ff 404px,#0ff 410px,#00fff8 411px,#00ff3a 417px,#0f0 420px,#0eff00 421px,#0f0 424px,#00ff28 432px,#0ff 443px,#00f2ff 444px,#00f 447px,#0a00ff 447px,#f0f 449px,#ff00f3 449px,#f00 450px,#f00 473px,#f0f 474px,#9700ff 475px,#00f 476px,#0079ff 477px,#00c6ff 478px,#0ff 480px,#00fffe 480px,#0ff 480px,#0cf 483px,#0014ff 491px,#000dff 503px,#00c2ff 530px)"></i><i style="left:590.1px;width:10.6px;background:linear-gradient(#ffec00 0px,#ffcf00 9px,#ff0 14px,#d5ff00 18px,#2f0 30px,#08ff00 35px,#8eff00 41px,#ff0 48px,#ffde00 50px,#ffa400 65px,#fffe00 83px,#ff0 83px,#afff00 91px,#c8ff00 130px,#ff0 139px,#ffc900 148px,#ff0 159px,#9aff00 180px,#ff0 202px,#ffef00 205px,#ffbe00 216px,#fff900 226px,#ff0 226px,#96ff00 234px,#4aff00 237px,#0f0 239px,#0ff 245px,#00f5ff 245px,#00f1ff 253px,#0ff 254px,#00ff5b 260px,#0f0 263px,#58ff00 265px,#fdff00 287px,#ff0 287px,#ff8b00 291px,#ff3700 293px,#ffb900 296px,#ff0 300px,#8dff00 307px,#0f0 309px,#00ffbe 312px,#0ff 313px,#00bcff 315px,#008bff 324px,#008bff 350px,#0ff 372px,#00fff2 375px,#0ff 381px,#00cdff 404px,#0ff 410px,#0ff 410px,#00ff42 416px,#0f0 420px,#08ff00 421px,#0f0 423px,#0f2 431px,#00fffd 443px,#0ff 443px,#0010ff 446px,#00f 446px,#e100ff 448px,#f0f 448px,#f00 449px,#f00 472px,#f0f 473px,#8900ff 474px,#00f 475px,#008eff 476px,#00e9ff 478px,#0ff 479px,#00fff5 479px,#0ff 479px,#001bff 489px,#000bff 502px,#00a2ff 530px)"></i><i style="left:600.4px;width:10.6px;background:linear-gradient(#ffe600 0px,#ffbd00 9px,#ff0 17px,#f3ff00 18px,#3aff00 30px,#24ff00 35px,#f7ff00 46px,#ff0 47px,#ffab00 58px,#ffbc00 72px,#ff0 81px,#e7ff00 84px,#adff00 91px,#caff00 130px,#ff0 138px,#ffc700 147px,#ff0 158px,#9aff00 179px,#ff0 201px,#fff600 203px,#fb0 214px,#fe0 224px,#ff0 225px,#89ff00 234px,#23ff00 237px,#0f0 238px,#0ff 244px,#00f1ff 244px,#00f2ff 252px,#0ff 253px,#00ff5a 259px,#0f0 262px,#59ff00 264px,#eaff00 285px,#ff0 286px,#ff8500 290px,#ff3b00 292px,#ffba00 295px,#ff0 299px,#8f0 306px,#0f0 308px,#00ff90 310px,#0ff 312px,#0bf 314px,#008aff 323px,#008aff 349px,#0ff 372px,#00fff3 374px,#0ff 379px,#00cbff 403px,#00fdff 409px,#0ff 409px,#00ff46 415px,#0f0 419px,#08ff00 420px,#0f0 422px,#00ff1d 430px,#00fff9 442px,#0ff 442px,#0025ff 445px,#00f 445px,#c100ff 447px,#f0f 447px,#f04 448px,#f00 449px,#f00 471px,#f0f 473px,#00f 474px,#0089ff 475px,#0ff 478px,#00fffc 478px,#0ff 478px,#00c6ff 481px,#001eff 488px,#0005ff 500px,#009dff 530px)"></i><i style="left:610.7px;width:10.5px;background:linear-gradient(#ffe000 0px,#ffaf00 10px,#ffd900 17px,#ff0 19px,#4fff00 30px,#32ff00 34px,#ff0 46px,#fffa00 46px,#ffa600 60px,#ffdc00 77px,#ff0 81px,#b2ff00 89px,#c9ff00 129px,#ff0 137px,#ffc500 146px,#ff0 158px,#9bff00 179px,#ff0 200px,#fff400 202px,#ffb900 213px,#ffed00 223px,#ff0 224px,#81ff00 234px,#0f0 237px,#0ff 243px,#00edff 243px,#00f2ff 251px,#0ff 252px,#00ff59 258px,#0f0 260px,#5aff00 263px,#eaff00 284px,#ff0 285px,#ffae00 288px,#ff4d00 290px,#ff3e00 291px,#ffa200 293px,#ff0 298px,#82ff00 305px,#0f0 307px,#00ff94 309px,#0ff 311px,#00d5ff 312px,#0089ff 320px,#008aff 348px,#0ff 371px,#00fff5 373px,#0ff 378px,#00caff 402px,#0ff 407px,#00ffea 409px,#00ff38 415px,#0f0 418px,#09ff00 419px,#0f0 421px,#00ff2c 430px,#00fff4 441px,#0ff 441px,#00e1ff 442px,#00f 445px,#2400ff 445px,#a000ff 446px,#f0f 447px,#f00 448px,#f00 470px,#ff0079 471px,#f0f 472px,#2c00ff 473px,#00f 473px,#006bff 474px,#00b5ff 475px,#00fcff 477px,#0ff 477px,#00fff8 478px,#0ff 478px,#0048ff 485px,#000aff 489px,#0015ff 503px,#09f 530px)"></i><i style="left:620.9px;width:10.6px;background:linear-gradient(#ffda00 0px,#f90 10px,#ffbc00 17px,#ff0 21px,#64ff00 30px,#42ff00 33px,#ff0 45px,#ffe400 47px,#ffa500 60px,#fff000 79px,#ff0 80px,#b8ff00 87px,#c5ff00 127px,#ff0 136px,#ffc500 146px,#ff0 158px,#9bff00 178px,#ff0 199px,#fff300 201px,#ffb800 212px,#ffeb00 222px,#ff0 224px,#89ff00 233px,#0f0 236px,#0ff 242px,#00eaff 242px,#00f3ff 250px,#0ff 250px,#00ff58 257px,#0f0 259px,#4bff00 261px,#a9ff00 274px,#ff0 284px,#fffb00 284px,#ff7800 288px,#ff4700 289px,#ff4200 290px,#ffa600 292px,#ff0 297px,#7cff00 304px,#0f0 306px,#00ff98 308px,#0ff 310px,#00d1ff 311px,#0089ff 319px,#0089ff 347px,#0ff 370px,#00fff7 372px,#0ff 375px,#00d0ff 394px,#00d1ff 402px,#0ff 407px,#00fff0 408px,#00ff3c 414px,#0f0 419px,#06ff00 419px,#0f0 420px,#00ff28 429px,#0ff 441px,#00f6ff 441px,#00f 444px,#0400ff 444px,#fc00ff 446px,#f0f 446px,#f00 447px,#f00 469px,#ff0042 470px,#f0f 471px,#e600ff 471px,#00f 472px,#004eff 473px,#00b1ff 474px,#0ff 477px,#00fff0 477px,#0ff 478px,#005dff 483px,#0009ff 488px,#0013ff 502px,#0095ff 530px)"></i><i style="left:631.2px;width:10.5px;background:linear-gradient(#ffd400 0px,#ff8200 10px,#ff9d00 17px,#ff0 22px,#84ff00 29px,#5cff00 33px,#ff0 45px,#ffd500 48px,#ffa300 61px,#fffc00 79px,#ff0 79px,#b9ff00 86px,#c5ff00 126px,#ff0 135px,#ffc300 145px,#ff0 157px,#9aff00 177px,#ff0 198px,#fffa00 199px,#ffb600 211px,#ffe100 220px,#ff0 223px,#8fff00 232px,#0f0 235px,#0ff 241px,#00eaff 241px,#00f4ff 249px,#0ff 249px,#00ff56 256px,#0f0 258px,#4fff00 260px,#acff00 274px,#eaff00 282px,#ff0 283px,#ff7200 287px,#ff4100 288px,#ff4600 289px,#fa0 291px,#ff0 296px,#9eff00 302px,#2fff00 304px,#0f0 305px,#00ff9c 307px,#0ff 309px,#00ceff 310px,#08f 318px,#0086ff 345px,#0ff 370px,#00fff8 371px,#0ff 374px,#00daff 390px,#00c7ff 400px,#0ff 406px,#00fff6 407px,#00ff40 413px,#0f0 418px,#06ff00 418px,#0f0 419px,#00ff23 428px,#00fffd 440px,#0ff 440px,#0013ff 443px,#00f 443px,#db00ff 445px,#f0f 445px,#f00 446px,#ff000c 469px,#f0f 470px,#fe00ff 470px,#00f 472px,#00b0ff 473px,#0ff 475px,#0fe 476px,#0ff 477px,#004aff 483px,#0008ff 487px,#0016ff 502px,#0090ff 530px)"></i><i style="left:641.4px;width:10.6px;background:linear-gradient(#ffd600 0px,#ff8b00 10px,#ffa200 17px,#ff0 23px,#83ff00 31px,#86ff00 34px,#ff0 45px,#ffc500 50px,#ffa600 63px,#ff0 78px,#f1ff00 80px,#b4ff00 87px,#caff00 127px,#ff0 135px,#ffc300 145px,#ff0 157px,#9cff00 177px,#ff0 197px,#fff600 199px,#ffb400 210px,#ffda00 219px,#ff0 222px,#81ff00 232px,#0f0 235px,#0ff 241px,#00edff 241px,#0ff 248px,#00fffc 249px,#00ff3f 256px,#0f0 258px,#5bff00 260px,#f0ff00 282px,#ff0 283px,#ff9800 286px,#ff3100 288px,#ffaf00 291px,#ff0 296px,#97ff00 302px,#0f0 304px,#00ffa6 307px,#0ff 309px,#00c1ff 310px,#0085ff 319px,#0093ff 345px,#0ff 364px,#0fd 370px,#0ff 381px,#00c8ff 400px,#0ff 405px,#0fe 407px,#00ff2d 414px,#0f0 418px,#02ff00 418px,#0f0 418px,#00ff29 428px,#0ff 439px,#00efff 440px,#00f 443px,#0a00ff 443px,#f0f 445px,#ff00ea 445px,#f00 446px,#f00 468px,#ff0048 469px,#f0f 470px,#e100ff 470px,#00f 471px,#0051ff 472px,#00b3ff 473px,#0ff 476px,#00fff5 476px,#0ff 476px,#0046ff 483px,#0008ff 487px,#0018ff 503px,#0070ff 524px,#07f 530px)"></i><i style="left:651.7px;width:10.5px;background:linear-gradient(#ffd700 0px,#ff9500 10px,#ffa600 17px,#ff0 24px,#93ff00 32px,#ff0 44px,#ffbc00 51px,#ffb000 65px,#ff0 77px,#ef0 80px,#b2ff00 87px,#cf0 127px,#ff0 135px,#ffc400 145px,#ff0 157px,#9eff00 177px,#ff0 197px,#fffb00 198px,#ffb300 210px,#fd0 219px,#ff0 222px,#93ff00 231px,#0f0 234px,#00fff9 240px,#0ff 242px,#00f1ff 245px,#0ff 247px,#00ffed 249px,#00ff50 255px,#0f0 257px,#61ff00 260px,#e5ff00 281px,#ff0 282px,#ff8d00 286px,#ff3000 288px,#ffb500 291px,#ff0 295px,#8fff00 302px,#0f0 304px,#00ffb2 307px,#0ff 309px,#0bf 310px,#0082ff 319px,#00a0ff 345px,#0ff 360px,#00ffc4 370px,#0ff 383px,#00c0ff 398px,#00fbff 406px,#0ff 406px,#00ff17 415px,#00ff07 422px,#00ff3e 429px,#00fff8 439px,#0ff 439px,#0083ff 441px,#00f 442px,#2f00ff 443px,#b100ff 444px,#f0f 444px,#ff006b 445px,#f00 446px,#f00 468px,#ff0084 469px,#f0f 470px,#bd00ff 470px,#00f 471px,#0072ff 472px,#00beff 473px,#0ff 476px,#0ff 476px,#0ff 476px,#0042ff 483px,#0008ff 487px,#001aff 504px,#0060ff 523px,#005aff 530px)"></i><i style="left:661.9px;width:10.6px;background:linear-gradient(#ffd900 0px,#ff9f00 11px,#ffb600 18px,#ff0 25px,#afff00 32px,#ff0 42px,#ffb500 52px,#ffb600 66px,#ff0 77px,#ebff00 80px,#b0ff00 87px,#d2ff00 128px,#ff0 135px,#ffc400 145px,#ff0 157px,#a0ff00 177px,#feff00 197px,#ff0 197px,#ffb000 209px,#ffe000 219px,#ff0 222px,#8dff00 231px,#0f0 234px,#0ff 240px,#00feff 240px,#0ff 241px,#00fff7 248px,#00ff39 255px,#0f0 257px,#5bff00 259px,#abff00 272px,#fbff00 282px,#ff0 282px,#ff7f00 286px,#ff4600 287px,#ff3e00 288px,#ffa500 290px,#ff0 295px,#80ff00 302px,#0f0 304px,#00ffbe 307px,#0ff 308px,#00b2ff 310px,#0080ff 319px,#00aeff 345px,#0ff 356px,#00ffa7 369px,#0ff 384px,#00caff 393px,#00d0ff 402px,#0ff 405px,#0fc 408px,#00ff16 415px,#00ff08 422px,#00ff42 429px,#00fffd 439px,#0ff 439px,#001aff 442px,#00f 442px,#d0f 444px,#f0f 444px,#f00 445px,#f00 468px,#f0f 470px,#0500ff 471px,#00f 471px,#0084ff 472px,#00c3ff 473px,#00fdff 475px,#00daff 477px,#003dff 483px,#0008ff 487px,#001eff 506px,#0054ff 521px,#003aff 530px)"></i><i style="left:672.2px;width:10.6px;background:linear-gradient(#ffda00 0px,#ffa600 13px,#ffcb00 20px,#ff0 27px,#cf0 33px,#ff0 41px,#ffac00 54px,#ffc000 68px,#ff0 76px,#dcff00 81px,#abff00 88px,#d7ff00 129px,#ff0 135px,#ffc500 145px,#ff0 157px,#a2ff00 177px,#ff0 196px,#fffc00 197px,#ffb000 209px,#ffe300 219px,#ff0 221px,#86ff00 231px,#0f0 234px,#0ff 240px,#00faff 240px,#0ff 245px,#00fffe 247px,#0f2 255px,#0f0 256px,#6f0 259px,#eaff00 281px,#ff0 282px,#ffa800 285px,#ff3400 287px,#ffc000 291px,#ff0 294px,#73ff00 302px,#0f0 304px,#00ffcb 307px,#0ff 308px,#00acff 310px,#007dff 319px,#00a8ff 341px,#0ff 353px,#00ff8d 369px,#0ff 384px,#00d7ff 389px,#00cbff 402px,#0ff 405px,#00ffb4 409px,#00ff16 415px,#00ff04 421px,#00ff31 428px,#0ff 438px,#00edff 439px,#00f 442px,#00f 442px,#f0f 444px,#ff00e0 444px,#f00 445px,#f00 468px,#ff00e0 469px,#f0f 469px,#00f 471px,#001bff 471px,#009cff 472px,#00faff 475px,#0013ff 485px,#0010ff 502px,#004aff 520px,#0018ff 530px)"></i><i style="left:682.5px;width:10.5px;background:linear-gradient(#ffdc00 0px,#ffac00 16px,#ff0 29px,#e8ff00 33px,#ff0 38px,#fa0 56px,#ffd100 71px,#ff0 76px,#c1ff00 83px,#abff00 94px,#daff00 129px,#ff0 135px,#ffc500 145px,#ff0 157px,#a4ff00 177px,#ff0 196px,#fff800 197px,#ffac00 208px,#ffdc00 218px,#ff0 221px,#7aff00 231px,#0f0 234px,#0ff 240px,#00fbff 240px,#0ff 242px,#00fff2 247px,#00ff0c 255px,#0f0 255px,#62ff00 258px,#acff00 271px,#ecff00 281px,#ff0 282px,#ff9e00 285px,#ff2700 287px,#ffb300 290px,#ff0 294px,#8bff00 301px,#0f0 303px,#00ff25 304px,#0ff 308px,#0bf 309px,#007aff 318px,#009cff 336px,#0ff 351px,#00ffe8 354px,#00ff76 369px,#0ff 383px,#0df 387px,#00c4ff 401px,#0ff 405px,#00ffd0 408px,#0f2 414px,#0f0 420px,#00ff36 428px,#00ffea 437px,#00fff9 438px,#0ff 438px,#0086ff 440px,#00f 442px,#2500ff 442px,#b000ff 443px,#f0f 443px,#ff0060 444px,#f00 445px,#f00 467px,#ff0020 468px,#f0f 469px,#f400ff 469px,#00f 471px,#003cff 471px,#00b2ff 472px,#00fbff 475px,#0035ff 483px,#0007ff 487px,#001eff 508px,#003dff 520px,#0004ff 529px,#00f 529px,#0e00ff 530px)"></i><i style="left:692.7px;width:31.1px;background:linear-gradient(#fd0 0px,#ffbc00 18px,#fff800 34px,#fa0 59px,#fffb00 77px,#ff0 77px,#adff00 86px,#daff00 128px,#ff0 135px,#ffc500 145px,#ff0 157px,#a4ff00 176px,#ff0 196px,#fffe00 196px,#ffac00 207px,#ffd400 217px,#ff0 220px,#6eff00 231px,#0f0 234px,#0ff 240px,#0ff 246px,#00ff1b 254px,#0f0 255px,#6dff00 258px,#b0ff00 272px,#f1ff00 281px,#ff0 281px,#ff8e00 285px,#ff4c00 286px,#ff3500 287px,#ff9f00 289px,#ff0 294px,#84ff00 301px,#0f0 303px,#0ff 308px,#0af 309px,#07f 318px,#0090ff 332px,#0ff 348px,#00ffe7 352px,#00ff56 368px,#0ff 383px,#00e4ff 385px,#00bfff 401px,#0ff 405px,#00ffb4 409px,#0f2 414px,#0f0 418px,#04ff00 419px,#0f0 420px,#00ff3b 428px,#00ffef 437px,#00fffe 438px,#0ff 438px,#0021ff 441px,#00f 441px,#de00ff 443px,#f0f 443px,#f00 444px,#f00 467px,#ff005c 468px,#f0f 469px,#d300ff 469px,#00f 470px,#005cff 471px,#00b6ff 472px,#00fbff 475px,#04f 482px,#0008ff 486px,#0019ff 508px,#0035ff 519px,#00f 527px,#0900ff 528px,#3600ff 530px)"></i></div><div class="cb"></div><svg width="886" height="700" viewBox="0 0 886 700"><polygon points="226.8,433.3 205.9,374.9 213.6,372.1 194.8,354.4 191.5,380.0 199.1,377.3 220.0,435.7" fill="#ff0000"/>
<polygon points="307.3,445.6 287.3,388.7 295.0,386.0 276.3,368.2 272.8,393.8 280.5,391.1 300.5,448.0" fill="#ff0000"/>
<polygon points="399.4,440.0 378.6,382.6 386.3,379.8 367.4,362.2 364.2,387.8 371.8,385.1 392.6,442.4" fill="#ff0000"/>
<polygon points="488.6,434.3 468.2,377.3 475.9,374.5 457.1,356.8 453.8,382.4 461.4,379.7 481.8,436.7" fill="#ff0000"/>
<polygon points="577.9,421.1 557.3,363.8 564.9,361.1 546.1,343.4 542.8,369.0 550.5,366.3 571.1,423.5" fill="#ff0000"/>
<polygon points="659.4,417.3 639.1,360.3 646.8,357.5 628.0,339.8 624.6,365.4 632.3,362.7 652.6,419.7" fill="#ff0000"/>
<rect x="97.70" y="45.00" width="625.80" height="530.20" fill="none" stroke="#262626" stroke-width="1.6"/>
<rect x="739.50" y="45.00" width="33.50" height="530.20" fill="none" stroke="#262626" stroke-width="1.6"/>
<path d="M97.7,46.0h6.0M723.5,46.0h-6.0M97.7,146.0h6.0M723.5,146.0h-6.0M97.7,246.0h6.0M723.5,246.0h-6.0M97.7,346.0h6.0M723.5,346.0h-6.0M97.7,446.0h6.0M723.5,446.0h-6.0M97.7,546.0h6.0M723.5,546.0h-6.0M195.2,45.0v6.0M195.2,575.2v-6.0M297.8,45.0v6.0M297.8,575.2v-6.0M400.3,45.0v6.0M400.3,575.2v-6.0M502.9,45.0v6.0M502.9,575.2v-6.0M605.5,45.0v6.0M605.5,575.2v-6.0M708.1,45.0v6.0M708.1,575.2v-6.0M773.0,575.2h-4.0M773.0,469.2h-4.0M773.0,363.1h-4.0M773.0,257.1h-4.0M773.0,151.0h-4.0M773.0,45.0h-4.0" stroke="#262626" stroke-width="1.3" fill="none"/>
<g font-family="'Liberation Sans',Arial,sans-serif" fill="#262626" font-weight="bold">
<g font-size="31">
<text x="87.2" y="58.6" text-anchor="end">1</text>
<text x="87.2" y="158.2" text-anchor="end">1.1</text>
<text x="87.2" y="257.9" text-anchor="end">1.2</text>
<text x="87.2" y="357.6" text-anchor="end">1.3</text>
<text x="87.2" y="457.2" text-anchor="end">1.4</text>
<text x="87.2" y="556.9" text-anchor="end">1.5</text>
<text x="194.0" y="616.3" text-anchor="middle">10</text>
<text x="296.6" y="616.3" text-anchor="middle">20</text>
<text x="399.1" y="616.3" text-anchor="middle">30</text>
<text x="501.7" y="616.3" text-anchor="middle">40</text>
<text x="604.3" y="616.3" text-anchor="middle">50</text>
<text x="706.9" y="616.3" text-anchor="middle">60</text>
</g>
<g font-size="25.5">
<text x="780.2" y="586.0">3</text>
<text x="780.2" y="480.0">4</text>
<text x="780.2" y="373.9">5</text>
<text x="780.2" y="267.9">6</text>
<text x="780.2" y="161.8">7</text>
<text x="780.2" y="55.8">8</text>
</g>
<text x="408" y="657.8" font-size="31.5" text-anchor="middle">CDP</text>
<text transform="translate(30.4,311) rotate(-90)" font-size="32.5" text-anchor="middle">Time(s)</text>
<g font-weight="normal" stroke="#262626" stroke-width="0.4">
<text x="774.5" y="36.8" font-size="34">×</text>
<text x="793.5" y="32.4" font-size="26">10</text>
<text x="825.5" y="19.6" font-size="21.5">6</text>
</g>
</g>
<g font-family="'Liberation Serif','Times New Roman',serif" fill="#000">
<text x="3.6" y="53.3" font-size="48">D</text>
<text transform="translate(845.7,481) rotate(-90)" font-size="41.5" textLength="297" lengthAdjust="spacing">EI (kg·m<tspan dy="-14" font-size="28">-3</tspan><tspan dy="14"> ·m ·s</tspan><tspan dy="-14" font-size="28">-1</tspan><tspan dy="14">)</tspan></text>
</g></svg></div>
<div class="p" style="left:0.0px;top:1447.9px"><div class="h"><i style="left:97.7px;width:61.9px;background:linear-gradient(#ff0 0px,#ffe400 20px,#ff9e00 51px,#fd0 76px,#ffad00 91px,#ffd000 104px,#fffd00 116px,#ff0 116px,#a8ff00 137px,#b5ff00 160px,#ff0 173px,#fffd00 173px,#ffea00 225px,#ffef00 242px,#ff0 245px,#9aff00 266px,#7f0 277px,#8eff00 287px,#bfff00 299px,#acff00 317px,#78ff00 321px,#0f0 324px,#00ff12 324px,#00ffbd 326px,#0ff 327px,#0df 327px,#00bcff 362px,#007fff 367px,#0089ff 383px,#00adff 391px,#0076ff 405px,#0065ff 447px,#00f 450px,#6700ff 453px,#f0f 453px,#ff004f 454px,#f00 455px,#f00 482px,#ff001c 483px,#f0f 484px,#a0f 484px,#6b00ff 499px,#a0f 530px)"></i><i style="left:159.3px;width:10.5px;background:linear-gradient(#fffc00 0px,#ffa700 40px,#ffb500 58px,#ffdf00 75px,#ffac00 91px,#ffcd00 103px,#ff0 113px,#f3ff00 116px,#a5ff00 139px,#b9ff00 160px,#ff0 173px,#fff900 174px,#ffec00 224px,#ffea00 241px,#ff0 245px,#9bff00 265px,#73ff00 277px,#90ff00 287px,#ebff00 299px,#df0 318px,#b4ff00 321px,#06ff00 325px,#0f0 325px,#00ffb7 327px,#0ff 329px,#00d4ff 330px,#00bcff 362px,#007fff 367px,#008dff 385px,#00abff 392px,#0075ff 412px,#0069ff 447px,#00f 451px,#2100ff 452px,#4700ff 453px,#f0f 454px,#ff00c5 454px,#f00 455px,#f00 483px,#f05 484px,#ff005a 485px,#f0f 487px,#af00ff 488px,#6e00ff 498px,#a500ff 530px)"></i><i style="left:169.5px;width:10.6px;background:linear-gradient(#fff900 0px,#ffa100 51px,#ffe400 73px,#ffab00 89px,#ffc800 102px,#ff0 111px,#ebff00 114px,#a1ff00 143px,#bcff00 160px,#ff0 172px,#fff700 174px,#ffed00 223px,#ffe900 241px,#ff0 245px,#a5ff00 263px,#70ff00 275px,#7eff00 285px,#ff0 297px,#ffe600 299px,#ffe700 318px,#ff0 319px,#d4ff00 322px,#67ff00 325px,#25ff00 326px,#0f0 326px,#00ff4d 327px,#00fff2 329px,#0ff 329px,#00d4ff 330px,#00adff 363px,#007fff 368px,#008fff 386px,#00aeff 392px,#0072ff 414px,#0062ff 448px,#00f 452px,#0500ff 452px,#2800ff 453px,#f0f 454px,#f00 456px,#f00 486px,#f0f 488px,#d000ff 488px,#7500ff 495px,#a000ff 530px)"></i><i style="left:179.8px;width:10.5px;background:linear-gradient(#fff700 0px,#ffa200 51px,#ffe700 72px,#fa0 88px,#ffc300 101px,#ff0 109px,#e6ff00 113px,#9eff00 146px,#beff00 160px,#ff0 171px,#fff700 172px,#fe0 222px,#ffe400 240px,#ff0 245px,#a9ff00 262px,#6eff00 273px,#7f0 284px,#ff0 294px,#ffce00 298px,#ffbe00 317px,#fffb00 322px,#ff0 322px,#a8ff00 325px,#71ff00 326px,#0f0 327px,#00ffdf 329px,#0ff 329px,#00d4ff 330px,#00bcff 362px,#007fff 368px,#008bff 386px,#00b0ff 392px,#008fff 402px,#0071ff 430px,#0064ff 449px,#00f 452px,#1200ff 453px,#dc00ff 455px,#f0f 455px,#ff007c 456px,#f00 457px,#f00 486px,#ff0056 487px,#f0f 488px,#e500ff 488px,#7600ff 495px,#9c00ff 530px)"></i><i style="left:190.0px;width:10.6px;background:linear-gradient(#fff500 0px,#ff9f00 47px,#fff000 71px,#fa0 86px,#ffbe00 100px,#ff0 108px,#e3ff00 112px,#9bff00 148px,#cf0 161px,#ff0 172px,#fff300 174px,#ffef00 221px,#ffe400 240px,#ff0 245px,#a6ff00 262px,#6cff00 273px,#7f0 284px,#ceff00 290px,#ff0 293px,#ffb200 298px,#f90 310px,#ffa500 319px,#ff0 324px,#e8ff00 325px,#bcff00 326px,#0f0 327px,#0fc 329px,#0ff 330px,#00d4ff 330px,#00bdff 362px,#007fff 368px,#0087ff 386px,#00b2ff 392px,#00a0ff 401px,#07f 410px,#0073ff 449px,#00f 453px,#2600ff 454px,#4f00ff 455px,#e400ff 456px,#f0f 456px,#f00 457px,#f01 487px,#f0f 488px,#fb00ff 488px,#70f 495px,#90f 530px)"></i><i style="left:200.3px;width:10.5px;background:linear-gradient(#fff500 0px,#ff9f00 47px,#fff000 71px,#fa0 86px,#ffbe00 100px,#ff0 108px,#e3ff00 112px,#9bff00 148px,#cf0 161px,#ff0 172px,#fff300 174px,#ffef00 221px,#ffe400 240px,#ff0 245px,#a6ff00 262px,#6cff00 273px,#7f0 284px,#ceff00 290px,#ff0 293px,#ffaf00 298px,#ff9000 308px,#ffa100 319px,#ff0 324px,#e9ff00 325px,#beff00 326px,#0f0 327px,#00ffc7 329px,#0ff 330px,#00d9ff 330px,#00afff 363px,#007fff 368px,#0087ff 386px,#00b3ff 392px,#00a1ff 401px,#07f 410px,#0073ff 449px,#00f 453px,#2100ff 454px,#4a00ff 455px,#d900ff 456px,#f0f 456px,#f00 457px,#f00 487px,#f0d 488px,#f0f 489px,#8a00ff 493px,#7200ff 498px,#9800ff 530px)"></i><i style="left:210.5px;width:10.6px;background:linear-gradient(#fff500 0px,#ff9f00 47px,#fff000 71px,#fa0 86px,#ffbe00 100px,#ff0 108px,#e3ff00 112px,#9bff00 148px,#cf0 161px,#ff0 172px,#fff300 174px,#ffef00 221px,#ffe400 240px,#ff0 245px,#a6ff00 262px,#6bff00 273px,#7f0 284px,#ceff00 290px,#ff0 293px,#ffa300 299px,#f80 310px,#ff9d00 319px,#ff0 324px,#eaff00 325px,#bfff00 326px,#0f0 327px,#00ffc2 329px,#0ff 330px,#00deff 330px,#00afff 363px,#007fff 369px,#0087ff 386px,#00b3ff 392px,#00a2ff 401px,#07f 410px,#0073ff 449px,#00f 453px,#1d00ff 454px,#4500ff 455px,#ce00ff 456px,#f0f 456px,#f00 457px,#f00 487px,#ff00b6 488px,#ff00c9 489px,#f0f 490px,#9600ff 492px,#6d00ff 496px,#7900ff 505px,#8300ff 517px,#9700ff 530px)"></i><i style="left:220.8px;width:10.6px;background:linear-gradient(#fff500 0px,#ff9f00 47px,#fff000 71px,#fa0 86px,#ffbe00 100px,#ff0 108px,#e3ff00 112px,#9bff00 148px,#cf0 161px,#ff0 172px,#fff300 174px,#ffef00 221px,#ffe000 239px,#ff0 245px,#a6ff00 262px,#6bff00 273px,#7f0 284px,#ceff00 290px,#ff0 293px,#ff9f00 299px,#ff7f00 307px,#ff8a00 318px,#ff0 324px,#ecff00 325px,#c0ff00 326px,#0f0 328px,#00ffbd 329px,#0ff 330px,#00e3ff 330px,#00afff 363px,#007fff 369px,#0087ff 386px,#00b3ff 392px,#00a3ff 401px,#07f 410px,#0073ff 449px,#00f 453px,#1900ff 454px,#4000ff 455px,#c400ff 456px,#f0f 456px,#ff0006 457px,#f00 487px,#ff0090 488px,#ff00a2 489px,#f0f 490px,#8d00ff 492px,#6700ff 496px,#8500ff 503px,#7000ff 513px,#9600ff 530px)"></i><i style="left:231.1px;width:10.5px;background:linear-gradient(#fff500 0px,#ff9f00 47px,#fff000 71px,#fa0 86px,#ffbe00 100px,#ff0 108px,#e3ff00 112px,#9bff00 148px,#cf0 161px,#ff0 172px,#fff100 175px,#ffef00 221px,#ffe000 239px,#ff0 245px,#a6ff00 262px,#6bff00 272px,#75ff00 284px,#ceff00 290px,#ff0 293px,#f50 303px,#ff6500 317px,#ff0 324px,#f2ff00 325px,#c6ff00 326px,#0f0 328px,#00ffa4 329px,#0ff 330px,#00faff 330px,#00d4ff 331px,#00bdff 362px,#007fff 368px,#08f 386px,#00b4ff 393px,#00a9ff 401px,#0078ff 409px,#0065ff 450px,#00f 454px,#0300ff 454px,#2800ff 455px,#8e00ff 456px,#f0f 456px,#ff008a 457px,#f00 458px,#f00 489px,#ff007a 490px,#f0f 491px,#d900ff 491px,#6400ff 492px,#5000ff 498px,#ad00ff 502px,#4200ff 511px,#7f00ff 519px,#9200ff 530px)"></i><i style="left:241.3px;width:10.6px;background:linear-gradient(#fff500 0px,#ff9f00 47px,#fff000 71px,#fa0 86px,#ffbe00 100px,#ff0 108px,#e3ff00 112px,#9bff00 148px,#cf0 161px,#ff0 172px,#fff000 175px,#ffef00 221px,#ffe000 239px,#ff0 245px,#a6ff00 262px,#69ff00 272px,#69ff00 283px,#ceff00 290px,#ff0 293px,#ff1f00 304px,#ff2900 316px,#ff0 325px,#f9ff00 325px,#cdff00 326px,#0f0 328px,#00ffe8 330px,#0ff 330px,#00d4ff 331px,#00bdff 362px,#007fff 368px,#0089ff 386px,#00b5ff 393px,#00a5ff 402px,#0076ff 410px,#0063ff 451px,#00f 455px,#0a00ff 455px,#4e00ff 456px,#f0f 457px,#f00 459px,#f00 490px,#f0f 491px,#ef00ff 491px,#30f 492px,#3200ff 498px,#d500ff 502px,#3700ff 509px,#1700ff 511px,#7400ff 517px,#8d00ff 530px)"></i><i style="left:251.6px;width:10.5px;background:linear-gradient(#fff500 0px,#ff9f00 47px,#fff000 71px,#fa0 86px,#ffbe00 100px,#ff0 108px,#e3ff00 112px,#9bff00 148px,#cf0 161px,#ff0 172px,#ffef00 175px,#fff700 196px,#ffec00 222px,#ffe000 239px,#ff0 245px,#a6ff00 262px,#68ff00 272px,#67ff00 283px,#ceff00 290px,#ff0 292px,#ff2700 301px,#f00 304px,#f00 316px,#ff0 325px,#d5ff00 326px,#0f0 328px,#0ff 331px,#00d4ff 331px,#00bdff 362px,#0080ff 368px,#008aff 386px,#00b7ff 394px,#00abff 402px,#0078ff 409px,#006dff 452px,#00f 455px,#6100ff 458px,#f0f 459px,#ff0082 459px,#f00 460px,#f00 490px,#f0f 491px,#0100ff 492px,#1500ff 498px,#fd00ff 502px,#4c00ff 507px,#00f 510px,#0014ff 511px,#00f 512px,#6800ff 516px,#80f 530px)"></i><i style="left:261.8px;width:10.6px;background:linear-gradient(#fff500 0px,#ff9f00 47px,#fff000 71px,#fa0 86px,#ffbe00 100px,#ff0 108px,#e3ff00 112px,#9bff00 148px,#cf0 161px,#ff0 172px,#fff000 175px,#ffef00 221px,#ffe000 239px,#ff0 245px,#a6ff00 262px,#69ff00 272px,#69ff00 283px,#ceff00 290px,#ff0 293px,#ff1f00 304px,#ff2900 316px,#ff0 325px,#f9ff00 325px,#cdff00 326px,#0f0 328px,#00ffe8 330px,#0ff 330px,#00d4ff 331px,#00bdff 362px,#007fff 368px,#0089ff 386px,#00b5ff 393px,#00a5ff 402px,#0076ff 410px,#0063ff 451px,#00f 455px,#0a00ff 455px,#4e00ff 456px,#f0f 457px,#f00 459px,#f00 490px,#f0f 491px,#ef00ff 491px,#30f 492px,#3200ff 498px,#d500ff 502px,#3700ff 509px,#1700ff 511px,#7400ff 517px,#8d00ff 530px)"></i><i style="left:272.1px;width:10.6px;background:linear-gradient(#fff500 0px,#ff9f00 47px,#fff000 71px,#fa0 86px,#ffbe00 100px,#ff0 108px,#e3ff00 112px,#9bff00 148px,#cf0 161px,#ff0 172px,#fff100 175px,#ffef00 221px,#ffe000 239px,#ff0 245px,#a6ff00 262px,#6bff00 272px,#75ff00 284px,#ceff00 290px,#ff0 293px,#f50 303px,#ff6500 317px,#ff0 324px,#f2ff00 325px,#c6ff00 326px,#0f0 328px,#00ffa4 329px,#0ff 330px,#00faff 330px,#00d4ff 331px,#00bdff 362px,#007fff 368px,#08f 386px,#00b4ff 393px,#00a9ff 401px,#0078ff 409px,#0065ff 450px,#00f 454px,#0300ff 454px,#2800ff 455px,#8e00ff 456px,#f0f 456px,#ff008a 457px,#f00 458px,#f00 489px,#ff007a 490px,#f0f 491px,#d900ff 491px,#6400ff 492px,#5000ff 498px,#ad00ff 502px,#4200ff 511px,#7f00ff 519px,#9200ff 530px)"></i><i style="left:282.4px;width:10.5px;background:linear-gradient(#fff500 0px,#ff9f00 47px,#fff000 71px,#fa0 86px,#ffbe00 100px,#ff0 108px,#e3ff00 112px,#9bff00 148px,#cf0 161px,#ff0 172px,#fff300 174px,#ffef00 221px,#ffe000 239px,#ff0 245px,#a6ff00 262px,#6bff00 273px,#7f0 284px,#ceff00 290px,#ff0 293px,#ff9f00 299px,#ff7f00 307px,#ff8a00 318px,#ff0 324px,#ecff00 325px,#c0ff00 326px,#0f0 328px,#00ffbd 329px,#0ff 330px,#00e3ff 330px,#00afff 363px,#007fff 369px,#0087ff 386px,#00b3ff 392px,#00a3ff 401px,#07f 410px,#0073ff 449px,#00f 453px,#1900ff 454px,#4000ff 455px,#c400ff 456px,#f0f 456px,#ff0006 457px,#f00 487px,#ff0090 488px,#ff00a2 489px,#f0f 490px,#8d00ff 492px,#6700ff 496px,#8500ff 503px,#7000ff 513px,#9600ff 530px)"></i><i style="left:292.6px;width:10.6px;background:linear-gradient(#fff500 0px,#ff9e00 47px,#ffef00 71px,#ffa900 86px,#ffbd00 100px,#ff0 108px,#e3ff00 112px,#9aff00 148px,#cf0 161px,#ff0 172px,#fff300 174px,#ffef00 221px,#ffe000 239px,#ff0 245px,#a6ff00 262px,#6bff00 273px,#75ff00 284px,#c8ff00 290px,#ff0 294px,#ffab00 299px,#ff8d00 309px,#ffa700 319px,#ff0 324px,#e3ff00 325px,#baff00 326px,#0f0 328px,#00ffad 329px,#0ff 330px,#00f4ff 330px,#00d4ff 334px,#00b1ff 363px,#007fff 369px,#0087ff 386px,#00b3ff 393px,#00a4ff 401px,#07f 410px,#0072ff 449px,#00f 453px,#3200ff 455px,#ac00ff 456px,#f0f 456px,#ff0031 457px,#f00 458px,#f00 487px,#ff0069 488px,#ff007a 489px,#f0f 491px,#8e00ff 493px,#8000ff 499px,#7d00ff 515px,#9700ff 530px)"></i><i style="left:302.9px;width:10.5px;background:linear-gradient(#fff500 0px,#ff9e00 47px,#fe0 71px,#ffa700 86px,#fb0 100px,#ff0 109px,#e4ff00 112px,#9f0 148px,#cf0 161px,#ff0 172px,#fff100 175px,#ffef00 221px,#ffe000 239px,#ff0 245px,#a5ff00 262px,#6bff00 273px,#74ff00 284px,#d6ff00 291px,#ff0 294px,#ffaf00 300px,#ffa600 317px,#ff0 323px,#f2ff00 324px,#b5ff00 326px,#0f0 328px,#00fff9 330px,#0ff 330px,#00d4ff 333px,#00b2ff 363px,#007fff 369px,#0086ff 386px,#00b2ff 393px,#00a5ff 401px,#07f 410px,#0061ff 450px,#00f 454px,#2300ff 455px,#9500ff 456px,#f0f 456px,#ff005c 457px,#f00 458px,#f00 487px,#ff0043 488px,#ff0075 490px,#f0f 492px,#a000ff 493px,#7800ff 512px,#9800ff 530px)"></i><i style="left:313.1px;width:10.6px;background:linear-gradient(#fff500 0px,#ff9d00 48px,#ffed00 71px,#ffa600 86px,#ffba00 100px,#ff0 109px,#e4ff00 112px,#98ff00 149px,#cf0 161px,#ff0 172px,#fff100 175px,#ffef00 221px,#ffe000 239px,#ff0 245px,#a4ff00 262px,#6cff00 272px,#79ff00 285px,#ff0 295px,#ffc400 299px,#ffae00 313px,#ffd000 320px,#ff0 323px,#d3ff00 325px,#afff00 326px,#0f0 328px,#00ffe8 330px,#0ff 331px,#00d4ff 332px,#00b4ff 363px,#007fff 369px,#0086ff 386px,#00b2ff 393px,#00a6ff 401px,#07f 410px,#0062ff 450px,#00f 454px,#1500ff 455px,#7d00ff 456px,#f0f 457px,#f08 457px,#f00 458px,#f00 487px,#ff003a 490px,#ff00e9 492px,#f0f 492px,#b200ff 493px,#7800ff 507px,#90f 530px)"></i><i style="left:323.4px;width:10.6px;background:linear-gradient(#fff500 0px,#ff9c00 48px,#fc0 63px,#ffea00 71px,#ffa300 85px,#ffaf00 99px,#ff0 109px,#e5ff00 112px,#96ff00 149px,#cf0 161px,#ff0 172px,#fff100 175px,#ffef00 221px,#ffe000 239px,#ff0 245px,#9bff00 263px,#6bff00 273px,#7dff00 286px,#ff0 296px,#ffcf00 300px,#ffbe00 313px,#ff0 322px,#ff0 322px,#a5ff00 326px,#07ff00 328px,#0f0 328px,#00ffb5 330px,#0ff 331px,#00d4ff 332px,#00b8ff 363px,#007fff 370px,#008eff 387px,#00b4ff 396px,#0095ff 403px,#006dff 422px,#0067ff 450px,#0018ff 455px,#00f 455px,#2d00ff 456px,#f0f 457px,#ff0070 458px,#ff0036 459px,#f00 463px,#f00 491px,#f0f 493px,#c0f 493px,#b400ff 500px,#7800ff 504px,#90f 530px)"></i><i style="left:333.7px;width:10.5px;background:linear-gradient(#fff500 0px,#ff9b00 47px,#ffb900 61px,#ffe800 71px,#ff9f00 84px,#ffac00 99px,#ff0 109px,#e6ff00 112px,#94ff00 148px,#cf0 161px,#ff0 172px,#fff000 175px,#ffef00 221px,#ffe000 239px,#ff0 245px,#92ff00 264px,#6aff00 274px,#78ff00 286px,#ff0 298px,#ffd200 302px,#ffce00 313px,#ff0 319px,#d7ff00 323px,#72ff00 327px,#0f0 328px,#0ff 331px,#00d4ff 332px,#00bcff 363px,#007fff 370px,#008dff 387px,#00b6ff 398px,#0074ff 411px,#06f 451px,#0045ff 455px,#0023ff 456px,#00f 456px,#a100ff 458px,#f0f 461px,#ff00d2 462px,#ff0052 463px,#f00 464px,#f00 491px,#ff003d 492px,#f0f 493px,#e500ff 493px,#ce00ff 500px,#7800ff 504px,#90f 530px)"></i><i style="left:343.9px;width:10.6px;background:linear-gradient(#fff500 0px,#f90 45px,#ffab00 60px,#ffe500 71px,#ff9d00 83px,#ffa800 99px,#ff0 109px,#e7ff00 112px,#92ff00 148px,#cf0 161px,#ff0 172px,#ffef00 175px,#fff700 196px,#ffec00 222px,#ffe000 239px,#ff0 244px,#8aff00 265px,#69ff00 275px,#7bff00 287px,#ff0 300px,#ffd900 304px,#ffde00 313px,#ff0 316px,#b3ff00 324px,#81ff00 327px,#0f0 329px,#00ff50 330px,#0ff 332px,#00d4ff 332px,#00b4ff 364px,#007fff 370px,#008cff 387px,#00b9ff 399px,#0076ff 410px,#0071ff 457px,#00f 460px,#5100ff 462px,#f800ff 463px,#f0f 463px,#f00 464px,#f00 492px,#f0f 493px,#f0f 499px,#7f00ff 503px,#90f 530px)"></i><i style="left:354.2px;width:10.5px;background:linear-gradient(#fff500 0px,#ff9b00 45px,#ffb900 61px,#ffd700 71px,#ff9c00 84px,#ffae00 100px,#ff0 110px,#e6ff00 113px,#90ff00 148px,#cfff00 161px,#ff0 174px,#ffe700 180px,#fff200 221px,#ffe000 239px,#ff0 245px,#84ff00 266px,#67ff00 284px,#ff0 301px,#ffd800 306px,#ffe600 314px,#ff0 316px,#a2ff00 325px,#7eff00 327px,#0f0 329px,#00ff4a 330px,#0ff 332px,#00e9ff 332px,#00d1ff 345px,#00b5ff 364px,#007fff 371px,#008bff 387px,#00b8ff 399px,#0078ff 410px,#0064ff 456px,#0034ff 458px,#00f 459px,#2b00ff 460px,#c0f 462px,#f0f 462px,#ff007d 463px,#f00 464px,#f00 492px,#ff00b6 493px,#ff00f1 494px,#f0f 495px,#d300ff 500px,#7800ff 504px,#90f 530px)"></i><i style="left:364.4px;width:10.6px;background:linear-gradient(#fff500 0px,#ff9d00 44px,#ffbd00 61px,#ffbf00 73px,#ff9c00 88px,#ffad00 100px,#ff0 111px,#deff00 115px,#8fff00 149px,#e3ff00 163px,#ff0 176px,#ffe700 187px,#fff500 221px,#ffdf00 239px,#ff0 245px,#6aff00 274px,#7cff00 288px,#ff0 302px,#ffd600 307px,#fff700 316px,#ff0 317px,#8eff00 326px,#4eff00 328px,#0f0 329px,#0f4 330px,#0ff 332px,#00fdff 332px,#00d4ff 335px,#00b7ff 364px,#007fff 371px,#008aff 387px,#00b7ff 399px,#07f 411px,#0067ff 455px,#001cff 458px,#00f 459px,#0b00ff 459px,#5800ff 460px,#f0f 461px,#ff00b7 462px,#f00 463px,#f00 492px,#ff00e4 494px,#f0f 495px,#da00ff 497px,#9200ff 502px,#70f 507px,#90f 530px)"></i><i style="left:374.7px;width:10.6px;background:linear-gradient(#fff500 0px,#ff9e00 44px,#ffbc00 59px,#ffa700 77px,#ffac00 100px,#ff0 111px,#cfff00 118px,#8eff00 149px,#ff0 171px,#fff600 173px,#fff900 200px,#ffe400 228px,#ffe700 241px,#ff0 246px,#6aff00 275px,#81ff00 289px,#ff0 303px,#ffcd00 309px,#ff0 315px,#b1ff00 324px,#53ff00 328px,#0f0 329px,#00ff9b 331px,#00ffed 332px,#0ff 333px,#00d4ff 334px,#00afff 365px,#007eff 372px,#0089ff 387px,#00b7ff 399px,#0076ff 412px,#0062ff 455px,#00f 458px,#2400ff 459px,#8400ff 460px,#f0f 461px,#ff003d 462px,#f00 463px,#f00 492px,#ff0024 493px,#ff00d6 494px,#f0f 495px,#f000ff 495px,#7a00ff 503px,#90f 530px)"></i><i style="left:385.0px;width:10.5px;background:linear-gradient(#fff500 0px,#ff9f00 44px,#fb0 58px,#ffb600 67px,#ffa100 98px,#ff0 113px,#c2ff00 122px,#90ff00 150px,#ff0 171px,#fff900 172px,#fff600 199px,#ffea00 227px,#ffe300 240px,#ff0 246px,#6aff00 275px,#7dff00 289px,#ff0 303px,#ffcd00 309px,#ff0 315px,#a0ff00 325px,#58ff00 328px,#0f0 329px,#00ffd9 332px,#0ff 333px,#00d4ff 334px,#00b1ff 365px,#007eff 372px,#08f 387px,#00b6ff 399px,#0072ff 414px,#0073ff 454px,#00f 457px,#3c00ff 459px,#b100ff 460px,#f0f 460px,#f08 461px,#f00 462px,#f00 493px,#ff00c9 494px,#f0f 495px,#eb00ff 495px,#9b00ff 498px,#7300ff 509px,#90f 530px)"></i><i style="left:395.2px;width:10.6px;background:linear-gradient(#fff500 0px,#ffa000 44px,#ffb700 57px,#fc0 61px,#ff9d00 77px,#ffb200 102px,#ff0 112px,#ceff00 119px,#8bff00 149px,#ff0 170px,#fffc00 171px,#fff300 198px,#ffed00 227px,#ffe200 240px,#ff0 246px,#6aff00 276px,#79ff00 289px,#ff0 305px,#ffd300 310px,#ff0 315px,#9fff00 325px,#5dff00 328px,#0f0 329px,#0ff 333px,#00f7ff 333px,#00d4ff 334px,#00b4ff 365px,#007eff 372px,#0087ff 387px,#00b5ff 399px,#0070ff 415px,#0073ff 454px,#00f 457px,#50f 459px,#d0f 460px,#f0f 460px,#ff0034 461px,#f00 462px,#f00 493px,#f0b 494px,#f0f 495px,#e600ff 495px,#8200ff 498px,#7e00ff 516px,#90f 530px)"></i><i style="left:405.5px;width:10.5px;background:linear-gradient(#fff500 0px,#ffa000 44px,#ffb700 57px,#fc0 61px,#ff9d00 77px,#ffb200 102px,#ff0 112px,#ceff00 119px,#8bff00 149px,#ff0 170px,#fffc00 171px,#fff300 198px,#ffed00 227px,#ffe200 240px,#ff0 246px,#6aff00 276px,#79ff00 289px,#ff0 303px,#ffe600 306px,#f20 307px,#f20 310px,#ffdb00 311px,#ff0 315px,#9fff00 325px,#5dff00 328px,#0f0 329px,#0ff 333px,#00f7ff 333px,#00d4ff 334px,#00b4ff 365px,#007eff 372px,#0087ff 387px,#00b5ff 399px,#0070ff 415px,#0073ff 454px,#00f 457px,#50f 459px,#d0f 460px,#f0f 460px,#ff0034 461px,#f00 462px,#f00 493px,#f0b 494px,#f0f 495px,#e600ff 495px,#8200ff 498px,#7e00ff 516px,#90f 530px)"></i><i style="left:415.7px;width:61.9px;background:linear-gradient(#fff500 0px,#ffa000 44px,#ffb700 57px,#fc0 61px,#ff9d00 77px,#ffb200 102px,#ff0 112px,#ceff00 119px,#8bff00 149px,#ff0 170px,#fffc00 171px,#fff300 198px,#ffed00 227px,#ffe200 240px,#ff0 246px,#6aff00 276px,#79ff00 289px,#ff0 305px,#ffd300 310px,#ff0 315px,#9fff00 325px,#5dff00 328px,#0f0 329px,#0ff 333px,#00f7ff 333px,#00d4ff 334px,#00b4ff 365px,#007eff 372px,#0087ff 387px,#00b5ff 399px,#0070ff 415px,#0073ff 454px,#00f 457px,#50f 459px,#d0f 460px,#f0f 460px,#ff0034 461px,#f00 462px,#f00 493px,#f0b 494px,#f0f 495px,#e600ff 495px,#8200ff 498px,#7e00ff 516px,#90f 530px)"></i><i style="left:477.3px;width:10.5px;background:linear-gradient(#ffdf00 0px,#fa0 31px,#ffae00 47px,#ffa300 67px,#ffb000 86px,#ff0 106px,#a1ff00 130px,#b1ff00 149px,#ff0 167px,#ffec00 172px,#fe0 217px,#fffb00 240px,#ff0 241px,#73ff00 270px,#83ff00 280px,#fbff00 295px,#df0 311px,#c8ff00 313px,#0f0 318px,#00ff20 319px,#00ff64 328px,#0ff 333px,#00d5ff 334px,#00baff 356px,#007bff 375px,#00a4ff 393px,#0070ff 420px,#0072ff 444px,#0009ff 449px,#00f 449px,#f0f 451px,#f04 453px,#f00 458px,#f00 492px,#f0f 494px,#d0f 494px,#9e00ff 496px,#7a00ff 500px,#9b00ff 526px,#a200ff 530px)"></i><i style="left:487.5px;width:72.2px;background:linear-gradient(#ffc900 0px,#ff9b00 28px,#ffd400 42px,#ff9c00 58px,#ffa800 82px,#ff0 97px,#d3ff00 105px,#9aff00 136px,#ff0 160px,#ffe800 166px,#fff500 210px,#ffde00 226px,#ff0 233px,#af0 250px,#6aff00 264px,#80ff00 277px,#ff0 287px,#ff9d00 294px,#fff000 299px,#ff0 300px,#7cff00 313px,#0f0 315px,#00fff1 318px,#0ff 318px,#0df 319px,#00b7ff 355px,#007fff 361px,#0084ff 376px,#00afff 384px,#00a5ff 392px,#006fff 407px,#0073ff 444px,#00f 447px,#6100ff 449px,#f0f 450px,#f00 451px,#ff000a 480px,#ff00dc 481px,#f0f 481px,#b900ff 482px,#3500ff 485px,#70f 492px,#9400ff 520px,#a0f 530px)"></i><i style="left:559.4px;width:10.5px;background:linear-gradient(#ffc900 0px,#ff9b00 28px,#ffd400 42px,#ff9c00 58px,#ffa800 82px,#ff0 97px,#d3ff00 105px,#9aff00 136px,#ff0 160px,#ffe800 166px,#fff500 210px,#ffde00 226px,#ff0 233px,#af0 250px,#6aff00 264px,#80ff00 277px,#ff0 287px,#ffc700 291px,#ff1500 292px,#ff1500 295px,#ffcf00 296px,#ff0 301px,#7cff00 313px,#0f0 315px,#00fff1 318px,#0ff 318px,#0df 319px,#00b7ff 355px,#007fff 361px,#0084ff 376px,#00afff 384px,#00a5ff 392px,#006fff 407px,#0073ff 444px,#00f 447px,#6100ff 449px,#f0f 450px,#f00 451px,#ff000a 480px,#ff00dc 481px,#f0f 481px,#b900ff 482px,#3500ff 485px,#70f 492px,#9400ff 520px,#a0f 530px)"></i><i style="left:569.6px;width:61.9px;background:linear-gradient(#ffc900 0px,#ff9b00 28px,#ffd400 42px,#ff9c00 58px,#ffa800 82px,#ff0 97px,#d3ff00 105px,#9aff00 136px,#ff0 160px,#ffe800 166px,#fff500 210px,#ffde00 226px,#ff0 233px,#af0 250px,#6aff00 264px,#80ff00 277px,#ff0 287px,#ff9d00 294px,#fff000 299px,#ff0 300px,#7cff00 313px,#0f0 315px,#00fff1 318px,#0ff 318px,#0df 319px,#00b7ff 355px,#007fff 361px,#0084ff 376px,#00afff 384px,#00a5ff 392px,#006fff 407px,#0073ff 444px,#00f 447px,#6100ff 449px,#f0f 450px,#f00 451px,#ff000a 480px,#ff00dc 481px,#f0f 481px,#b900ff 482px,#3500ff 485px,#70f 492px,#9400ff 520px,#a0f 530px)"></i><i style="left:631.2px;width:10.5px;background:linear-gradient(#ffb900 0px,#ffa100 30px,#ffb300 44px,#ffa200 72px,#ff0 92px,#b7ff00 107px,#b2ff00 128px,#ff0 158px,#ffef00 164px,#fe0 205px,#ffe300 225px,#ff0 231px,#75ff00 259px,#8cff00 272px,#ff0 283px,#ffde00 286px,#ffe500 295px,#ff0 297px,#8aff00 308px,#0f0 311px,#00ff3a 312px,#0ff 318px,#0df 319px,#00bfff 348px,#007bff 363px,#00a9ff 382px,#006fff 409px,#0071ff 439px,#00f 444px,#0400ff 444px,#f0f 446px,#ff0012 447px,#f00 466px,#ff0004 478px,#f0f 480px,#b000ff 481px,#7500ff 482px,#3b00ff 485px,#7800ff 492px,#a000ff 519px,#bf00ff 530px)"></i><i style="left:641.4px;width:72.1px;background:linear-gradient(#ffa900 0px,#fa0 72px,#ff0 86px,#cbff00 94px,#a2ff00 116px,#beff00 127px,#ff0 140px,#fe0 143px,#fff100 199px,#ffd100 216px,#ff0 226px,#cf0 238px,#7f0 254px,#84ff00 268px,#ff0 278px,#ffb000 285px,#ff0 292px,#fdff00 292px,#74ff00 307px,#58ff00 308px,#0f0 309px,#0ff 312px,#0ff 312px,#0df 313px,#00c3ff 347px,#007fff 353px,#0081ff 368px,#00b5ff 377px,#009bff 383px,#006fff 402px,#0070ff 439px,#00f 441px,#7b00ff 444px,#f0f 444px,#ff0076 445px,#f00 446px,#f00 470px,#f0f 471px,#f000ff 471px,#9400ff 474px,#2e00ff 483px,#7900ff 493px,#ac00ff 518px,#d500ff 530px)"></i><i style="left:713.2px;width:10.6px;background:linear-gradient(#ffa900 0px,#fa0 72px,#ff0 86px,#cbff00 94px,#a2ff00 116px,#beff00 127px,#ff0 140px,#fe0 143px,#fff100 199px,#ffd100 216px,#ff0 226px,#cf0 238px,#7f0 254px,#84ff00 268px,#ff0 278px,#ffc900 283px,#ff0d00 284px,#ff0d00 288px,#ffed00 289px,#ff0 291px,#74ff00 307px,#58ff00 308px,#0f0 309px,#0ff 312px,#0ff 312px,#0df 313px,#00c3ff 347px,#007fff 353px,#0081ff 368px,#00b5ff 377px,#009bff 383px,#006fff 402px,#0070ff 439px,#00f 441px,#7b00ff 444px,#f0f 444px,#ff0076 445px,#f00 446px,#f00 470px,#f0f 471px,#f000ff 471px,#9400ff 474px,#2e00ff 483px,#7900ff 493px,#ac00ff 518px,#d500ff 530px)"></i></div><div class="cb"></div><svg width="886" height="700" viewBox="0 0 886 700"><polygon points="226.8,433.3 205.9,374.9 213.6,372.1 194.8,354.4 191.5,380.0 199.1,377.3 220.0,435.7" fill="#ff0000"/>
<polygon points="307.3,445.6 287.3,388.7 295.0,386.0 276.3,368.2 272.8,393.8 280.5,391.1 300.5,448.0" fill="#ff0000"/>
<polygon points="399.4,440.0 378.6,382.6 386.3,379.8 367.4,362.2 364.2,387.8 371.8,385.1 392.6,442.4" fill="#ff0000"/>
<polygon points="488.6,434.3 468.2,377.3 475.9,374.5 457.1,356.8 453.8,382.4 461.4,379.7 481.8,436.7" fill="#ff0000"/>
<polygon points="577.9,421.1 557.3,363.8 564.9,361.1 546.1,343.4 542.8,369.0 550.5,366.3 571.1,423.5" fill="#ff0000"/>
<polygon points="659.4,417.3 639.1,360.3 646.8,357.5 628.0,339.8 624.6,365.4 632.3,362.7 652.6,419.7" fill="#ff0000"/>
<rect x="97.70" y="45.00" width="625.80" height="530.20" fill="none" stroke="#262626" stroke-width="1.6"/>
<rect x="739.50" y="45.00" width="33.50" height="530.20" fill="none" stroke="#262626" stroke-width="1.6"/>
<path d="M97.7,46.0h6.0M723.5,46.0h-6.0M97.7,146.0h6.0M723.5,146.0h-6.0M97.7,246.0h6.0M723.5,246.0h-6.0M97.7,346.0h6.0M723.5,346.0h-6.0M97.7,446.0h6.0M723.5,446.0h-6.0M97.7,546.0h6.0M723.5,546.0h-6.0M195.2,45.0v6.0M195.2,575.2v-6.0M297.8,45.0v6.0M297.8,575.2v-6.0M400.3,45.0v6.0M400.3,575.2v-6.0M502.9,45.0v6.0M502.9,575.2v-6.0M605.5,45.0v6.0M605.5,575.2v-6.0M708.1,45.0v6.0M708.1,575.2v-6.0M773.0,575.2h-4.0M773.0,469.2h-4.0M773.0,363.1h-4.0M773.0,257.1h-4.0M773.0,151.0h-4.0M773.0,45.0h-4.0" stroke="#262626" stroke-width="1.3" fill="none"/>
<g font-family="'Liberation Sans',Arial,sans-serif" fill="#262626" font-weight="bold">
<g font-size="31">
<text x="87.2" y="58.6" text-anchor="end">1</text>
<text x="87.2" y="158.2" text-anchor="end">1.1</text>
<text x="87.2" y="257.9" text-anchor="end">1.2</text>
<text x="87.2" y="357.6" text-anchor="end">1.3</text>
<text x="87.2" y="457.2" text-anchor="end">1.4</text>
<text x="87.2" y="556.9" text-anchor="end">1.5</text>
<text x="194.0" y="616.3" text-anchor="middle">10</text>
<text x="296.6" y="616.3" text-anchor="middle">20</text>
<text x="399.1" y="616.3" text-anchor="middle">30</text>
<text x="501.7" y="616.3" text-anchor="middle">40</text>
<text x="604.3" y="616.3" text-anchor="middle">50</text>
<text x="706.9" y="616.3" text-anchor="middle">60</text>
</g>
<g font-size="25.5">
<text x="780.2" y="586.0">3</text>
<text x="780.2" y="480.0">4</text>
<text x="780.2" y="373.9">5</text>
<text x="780.2" y="267.9">6</text>
<text x="780.2" y="161.8">7</text>
<text x="780.2" y="55.8">8</text>
</g>
<text x="408" y="657.8" font-size="31.5" text-anchor="middle">CDP</text>
<text transform="translate(30.4,311) rotate(-90)" font-size="32.5" text-anchor="middle">Time(s)</text>
<g font-weight="normal" stroke="#262626" stroke-width="0.4">
<text x="774.5" y="36.8" font-size="34">×</text>
<text x="793.5" y="32.4" font-size="26">10</text>
<text x="825.5" y="19.6" font-size="21.5">6</text>
</g>
</g>
<g font-family="'Liberation Serif','Times New Roman',serif" fill="#000">
<text x="3.6" y="53.3" font-size="48">E</text>
<text transform="translate(845.7,481) rotate(-90)" font-size="41.5" textLength="297" lengthAdjust="spacing">EI (kg·m<tspan dy="-14" font-size="28">-3</tspan><tspan dy="14"> ·m ·s</tspan><tspan dy="-14" font-size="28">-1</tspan><tspan dy="14">)</tspan></text>
</g></svg></div>
<div class="p" style="left:915.0px;top:1447.9px"><div class="h"><i style="left:97.7px;width:31.1px;background:linear-gradient(#b0ff00 0px,#ff0 13px,#ffa300 29px,#ffb700 40px,#ffa300 51px,#ff0 65px,#e8ff00 68px,#f8ff00 75px,#ff0 76px,#ffb500 87px,#fffd00 103px,#ff0 103px,#4bff00 134px,#5f0 142px,#ff0 163px,#ffda00 168px,#ff0 180px,#beff00 200px,#5bff00 212px,#f9ff00 227px,#f7ff00 240px,#baff00 247px,#13ff00 260px,#0f0 261px,#0ff 272px,#00feff 272px,#00ebff 277px,#0ff 278px,#00ff82 282px,#0f0 284px,#56ff00 286px,#d8ff00 293px,#ff0 304px,#fd0 314px,#ff0 317px,#d8ff00 320px,#50ff00 325px,#0f0 332px,#00ff5c 339px,#00ffd3 345px,#00ff9f 352px,#0f0 360px,#03ff00 360px,#20ff00 372px,#0f0 379px,#00ff07 380px,#00ffc0 386px,#0ff 390px,#00e6ff 391px,#00bfff 408px,#00fcff 418px,#0ff 418px,#00ff37 422px,#0f0 427px,#12ff00 428px,#0f0 431px,#00ff24 437px,#00ffb2 444px,#00ffd3 449px,#0ff 449px,#001eff 452px,#00f 452px,#d100ff 454px,#f0f 454px,#f00 455px,#f00 485px,#f0f 486px,#8a00ff 487px,#0600ff 489px,#7b00ff 496px,#2600ff 503px,#00f 505px,#0046ff 508px,#0078ff 517px,#0048ff 525px,#0069ff 530px)"></i><i style="left:128.5px;width:10.5px;background:linear-gradient(#baff00 0px,#ff0 13px,#ffa900 29px,#fb0 41px,#ffa400 50px,#ff0 65px,#e4ff00 70px,#ff0 74px,#ffa900 86px,#ff0 101px,#b9ff00 113px,#40ff00 137px,#eaff00 159px,#ff0 163px,#ffda00 170px,#ff0 181px,#bdff00 200px,#65ff00 211px,#f9ff00 228px,#f9ff00 240px,#79ff00 252px,#0f0 260px,#00ff02 260px,#00fffb 271px,#0ff 273px,#00f9ff 276px,#0ff 276px,#00ff79 281px,#0f0 283px,#54ff00 285px,#d7ff00 293px,#ff0 303px,#ffd800 313px,#ff0 316px,#e2ff00 319px,#5cff00 325px,#0f0 331px,#00ffd9 345px,#00ffa4 352px,#0f2 360px,#00ff0c 372px,#00ff3c 380px,#00ffe8 387px,#0ff 389px,#0df 392px,#00c2ff 408px,#0ff 416px,#00fff2 418px,#00ff2e 422px,#0f0 426px,#1f0 428px,#0f0 431px,#00ff23 437px,#00ffb1 444px,#00ffd4 449px,#0ff 450px,#00efff 450px,#00f 452px,#3b00ff 453px,#b600ff 454px,#f0f 454px,#ff004c 455px,#f00 456px,#f00 485px,#ff0097 486px,#f0f 486px,#9200ff 487px,#0d00ff 489px,#7000ff 496px,#1500ff 503px,#00f 504px,#0057ff 508px,#0087ff 517px,#005aff 525px,#0073ff 530px)"></i><i style="left:138.7px;width:10.6px;background:linear-gradient(#c4ff00 0px,#ff0 12px,#ffb100 28px,#ffbd00 42px,#ffac00 50px,#ff0 67px,#ef0 70px,#ff0 72px,#ffa300 85px,#ff0 101px,#b8ff00 113px,#3fff00 135px,#e2ff00 158px,#ff0 163px,#ffd900 169px,#ff0 180px,#bdff00 200px,#73ff00 211px,#c2ff00 221px,#ff0 230px,#fff400 232px,#ff0 235px,#dbff00 244px,#31ff00 257px,#0f0 259px,#00ffd4 268px,#0ff 273px,#00feff 273px,#0ff 273px,#0fd 276px,#00ff3f 281px,#0f0 282px,#53ff00 284px,#d1ff00 292px,#ff0 301px,#ffd600 310px,#ff0 317px,#fdff00 317px,#42ff00 327px,#0f0 331px,#00ffde 343px,#00ffbe 351px,#00ff4b 359px,#00ff34 371px,#00ff56 379px,#00fff9 387px,#0ff 388px,#00cfff 395px,#00d2ff 411px,#0ff 415px,#00ffe1 418px,#00ff28 422px,#0f0 426px,#1f0 428px,#0f0 431px,#00ff23 437px,#00ffaf 444px,#00ffd6 449px,#0ff 450px,#00fbff 450px,#00f 453px,#20f 453px,#9c00ff 454px,#f0f 454px,#ff0097 455px,#f00 456px,#f00 485px,#ff008e 486px,#f0f 487px,#9b00ff 487px,#10f 489px,#60f 496px,#0400ff 503px,#00f 503px,#0069ff 508px,#0097ff 517px,#006fff 526px,#007dff 530px)"></i><i style="left:149.0px;width:10.6px;background:linear-gradient(#ceff00 0px,#ff0 11px,#ffb800 27px,#ffbd00 43px,#ffb600 51px,#ff0 68px,#f6ff00 70px,#ff0 71px,#ff9100 83px,#ffbd00 87px,#ff0 102px,#ef0 106px,#3cff00 133px,#e6ff00 158px,#ff0 162px,#ffd900 169px,#ff0 181px,#bfff00 200px,#7eff00 211px,#acff00 219px,#ff0 229px,#fff200 231px,#ff0 235px,#e4ff00 243px,#35ff00 256px,#0f0 258px,#00ffba 265px,#00fff7 271px,#00ffd0 275px,#00ff38 280px,#0f0 281px,#6bff00 284px,#d9ff00 293px,#ff0 300px,#ffd100 308px,#fff000 315px,#ff0 316px,#0f0 330px,#00ff06 330px,#00ffe5 342px,#00ffc8 351px,#00ff71 359px,#00ff5f 371px,#00ff87 379px,#0ff 387px,#00dfff 389px,#00c7ff 406px,#0ff 415px,#00fffd 415px,#00ffca 418px,#00ff25 422px,#0f0 426px,#10ff00 428px,#0f0 431px,#00ff23 437px,#00ffb6 445px,#00ffd7 449px,#00fff8 450px,#0ff 450px,#00f 453px,#0a00ff 453px,#8100ff 454px,#f0f 455px,#ff00d7 455px,#f00 456px,#f00 485px,#ff0082 486px,#f0f 487px,#a600ff 487px,#1200ff 489px,#5b00ff 496px,#00f 502px,#000dff 503px,#007aff 508px,#00a0ff 518px,#0082ff 527px,#08f 530px)"></i><i style="left:159.3px;width:10.5px;background:linear-gradient(#d9ff00 0px,#ff0 10px,#ffbe00 26px,#ffc100 43px,#ffc200 55px,#ff0 68px,#f9ff00 69px,#ff0 70px,#ffbf00 78px,#ff8e00 82px,#ffbd00 86px,#fff500 102px,#ff0 103px,#37ff00 131px,#f2ff00 159px,#ff0 162px,#ffd500 170px,#ff0 182px,#bcff00 201px,#84ff00 211px,#a2ff00 218px,#ff0 228px,#ffef00 230px,#ff0 236px,#ecff00 242px,#54ff00 254px,#0f0 257px,#00ffc3 264px,#00fff5 271px,#00ff78 277px,#0f0 280px,#6cff00 283px,#e4ff00 294px,#ff0 298px,#fc0 306px,#ffe900 314px,#ff0 315px,#47ff00 326px,#0f0 329px,#00ffa3 336px,#0fe 341px,#00ffe1 350px,#00ff92 361px,#00ff8f 372px,#00ffc2 380px,#0ff 386px,#00d7ff 390px,#00cbff 407px,#0ff 412px,#00ffd2 417px,#00ff23 422px,#0f0 426px,#0fff00 428px,#0f0 431px,#0f2 437px,#00ffb5 445px,#00ffef 450px,#0ff 450px,#000cff 453px,#00f 453px,#f300ff 455px,#f0f 455px,#f00 456px,#f00 485px,#f07 486px,#f0f 487px,#b500ff 487px,#0f00ff 489px,#5300ff 495px,#00f 502px,#0005ff 502px,#008bff 508px,#00b0ff 518px,#0093ff 530px)"></i><i style="left:169.5px;width:10.6px;background:linear-gradient(#e3ff00 0px,#ff0 8px,#ffc100 26px,#ffc900 42px,#ffc100 55px,#ff0 69px,#f9ff00 70px,#ff0 70px,#ff9f00 78px,#ff7800 80px,#ffbe00 83px,#ffd300 96px,#ff0 102px,#34ff00 130px,#ecff00 158px,#ff0 161px,#ffd500 168px,#ff0 181px,#c0ff00 201px,#80ff00 214px,#ff0 227px,#ffec00 229px,#ff0 237px,#f5ff00 241px,#7f0 252px,#0f0 256px,#0fc 263px,#00ffe1 271px,#00ff2a 278px,#0f0 279px,#6cff00 282px,#ff0 297px,#ffc600 303px,#ffdb00 312px,#ff0 315px,#a0ff00 322px,#0f0 328px,#00ff9c 334px,#00fff3 339px,#00fff8 349px,#00ffaf 365px,#00ffe5 380px,#0ff 384px,#00ceff 392px,#00d0ff 408px,#0ff 412px,#00ffc0 417px,#00ff20 422px,#0f0 425px,#12ff00 427px,#0f0 431px,#0f2 437px,#00ffbd 446px,#00ffe9 450px,#0ff 450px,#007dff 452px,#00f 453px,#4c00ff 454px,#cb00ff 455px,#f0f 455px,#ff0013 456px,#f00 467px,#f00 485px,#ff006e 486px,#f0f 487px,#c700ff 487px,#0900ff 489px,#4e00ff 495px,#00f 501px,#0015ff 502px,#009dff 508px,#00bfff 518px,#009fff 530px)"></i><i style="left:179.8px;width:10.5px;background:linear-gradient(#edff00 0px,#ff0 6px,#ffc400 25px,#ffd100 41px,#ffbf00 55px,#ff0 68px,#faff00 69px,#ff0 69px,#ffa900 76px,#ff7600 78px,#ffbd00 83px,#ffc700 94px,#ff0 101px,#54ff00 124px,#31ff00 129px,#e6ff00 157px,#ff0 161px,#ffd400 167px,#ff0 181px,#c3ff00 201px,#83ff00 215px,#ff0 226px,#ffea00 228px,#ff0 238px,#f8ff00 241px,#83ff00 251px,#0f0 255px,#00ffd6 262px,#00ffe9 269px,#00ff23 277px,#0f0 278px,#6cff00 281px,#ff0 296px,#ffbf00 303px,#ffe200 313px,#ff0 315px,#b5ff00 321px,#0f0 327px,#00ff94 332px,#0ff 338px,#00feff 338px,#00f9ff 350px,#0ff 353px,#00ffdf 370px,#0ff 379px,#00c0ff 398px,#00eaff 410px,#0ff 412px,#00ffce 416px,#00ff2a 421px,#0f0 425px,#1f0 427px,#0f0 430px,#00ff21 437px,#00ffbd 446px,#00ffe5 450px,#0ff 451px,#00e9ff 451px,#00f 453px,#3100ff 454px,#ad00ff 455px,#f0f 455px,#ff006e 456px,#f00 457px,#f00 485px,#f06 486px,#f0f 487px,#cf00ff 487px,#0900ff 489px,#5100ff 494px,#00f 500px,#0024ff 502px,#00aeff 508px,#0cf 519px,#00abff 530px)"></i><i style="left:190.0px;width:10.6px;background:linear-gradient(#ef0 0px,#ff0 5px,#ffc200 24px,#ffcf00 41px,#ffbf00 55px,#ff0 68px,#fcff00 69px,#ff0 69px,#ff9600 77px,#ff8200 79px,#ffbd00 82px,#ffc800 94px,#ff0 102px,#74ff00 121px,#10ff00 129px,#4cff00 139px,#ff0 162px,#ffdf00 166px,#ffec00 180px,#ff0 185px,#84ff00 215px,#ff0 227px,#ffe800 229px,#ff0 239px,#f8ff00 242px,#6eff00 253px,#0f0 257px,#00ff97 262px,#00ffb3 270px,#0f0 278px,#0f0 278px,#76ff00 282px,#ff0 296px,#fb0 303px,#ffd700 313px,#ff0 316px,#a5ff00 322px,#0f0 327px,#00ffae 333px,#0ff 338px,#00f5ff 339px,#00f1ff 351px,#0ff 362px,#00fff1 373px,#0ff 398px,#00f7ff 411px,#0ff 412px,#00ffc8 417px,#00ff2a 423px,#0f0 427px,#0bff00 428px,#0f0 430px,#00ff27 438px,#0ff 451px,#0ff 451px,#00f 454px,#00f 454px,#8300ff 455px,#f0f 456px,#ff00d4 456px,#f00 457px,#f00 486px,#ff00f6 487px,#f0f 487px,#7a00ff 488px,#00f 489px,#0034ff 490px,#0002ff 495px,#007eff 504px,#00cdff 509px,#00f0ff 521px,#0df 530px)"></i><i style="left:200.3px;width:10.5px;background:linear-gradient(#f0ff00 0px,#ff0 5px,#ffc200 24px,#ffc900 42px,#ffbe00 55px,#ff0 69px,#ff0 69px,#ff0 69px,#ff9d00 77px,#ff8b00 79px,#ffba00 83px,#ffd200 96px,#ff0 102px,#76ff00 121px,#0f0 128px,#00ff09 129px,#0f0 133px,#08ff00 137px,#8bff00 148px,#ff0 163px,#ffe200 167px,#fff600 184px,#ff0 186px,#91ff00 216px,#ff0 227px,#ffe700 230px,#ff0 239px,#f3ff00 244px,#78ff00 254px,#0f0 259px,#00ff68 263px,#00ff78 271px,#0f0 277px,#1fff00 279px,#7fff00 283px,#ff0 296px,#ffb700 304px,#ffd400 314px,#ff0 317px,#b2ff00 322px,#0f0 327px,#00ffb2 333px,#0ff 339px,#00edff 340px,#00efff 355px,#0ff 365px,#00ffe8 379px,#00ffcf 387px,#00fffc 408px,#00ffdc 417px,#00ff24 425px,#0f0 428px,#06ff00 429px,#0f0 430px,#00ff2b 439px,#0ff 451px,#00fcff 451px,#00deff 452px,#00f 454px,#3900ff 455px,#f0f 456px,#ff0040 457px,#f00 458px,#f00 486px,#ff0074 487px,#f0f 488px,#8400ff 488px,#00f 489px,#0036ff 490px,#006eff 491px,#0069ff 497px,#00c9ff 506px,#00e9ff 511px,#0ff 517px,#00ffe7 524px,#00ffef 530px)"></i><i style="left:210.5px;width:10.6px;background:linear-gradient(#f2ff00 0px,#ff0 4px,#ffc100 23px,#ffc700 42px,#ffbe00 55px,#fffd00 69px,#ff9500 79px,#ffb900 83px,#ffd300 96px,#ff0 102px,#7dff00 121px,#0f0 127px,#00ff1d 129px,#00ff2e 137px,#0f0 140px,#73ff00 147px,#ff0 165px,#ffe500 168px,#ff0 184px,#f2ff00 192px,#9dff00 216px,#ff0 228px,#ffe500 231px,#ff0 240px,#ef0 246px,#83ff00 255px,#0f0 261px,#00ff34 264px,#00ff3f 272px,#0f0 276px,#3cff00 280px,#90ff00 285px,#ff0 296px,#ffb300 304px,#ffca00 314px,#ff0 318px,#bcff00 322px,#0f0 328px,#00ffb6 333px,#0ff 338px,#00e8ff 340px,#00e8ff 359px,#0ff 372px,#00fff5 378px,#0fa 385px,#00ffae 399px,#00ffe6 409px,#00ffe6 417px,#0f0 429px,#02ff00 429px,#0f0 430px,#00ff1f 439px,#00fff9 451px,#0ff 451px,#00aeff 453px,#00f 455px,#7800ff 456px,#f0f 457px,#ff0093 457px,#f00 458px,#ff000b 487px,#f0f 488px,#fb00ff 488px,#3000ff 489px,#00f 490px,#0084ff 491px,#0bf 493px,#00c2ff 498px,#0ff 510px,#00fff7 511px,#00ffe5 516px,#00ffba 527px,#00ffbe 530px)"></i><i style="left:220.8px;width:10.6px;background:linear-gradient(#f4ff00 0px,#ff0 3px,#ffc000 22px,#ffc400 42px,#ffbd00 55px,#fff200 70px,#ff9e00 79px,#ffb700 86px,#ff0 103px,#fcff00 104px,#8aff00 121px,#0f0 127px,#00ff32 129px,#00ff56 138px,#0f0 142px,#5fff00 147px,#ff0 165px,#ffea00 167px,#ff0 186px,#fcff00 189px,#a5ff00 216px,#ff0 228px,#ffe400 232px,#ff0 241px,#ef0 247px,#7eff00 257px,#0f0 266px,#00ff02 266px,#0f0 271px,#01ff00 274px,#69ff00 282px,#ff0 297px,#ffae00 305px,#ffc600 315px,#ff0 319px,#c8ff00 322px,#0f0 328px,#00ff07 328px,#00ffb7 333px,#0ff 337px,#00f3ff 338px,#00d5ff 355px,#00fbff 378px,#0ff 378px,#00ff89 385px,#00ff73 396px,#00ffa3 406px,#00fff6 416px,#00ff84 423px,#00ff04 430px,#00ff16 439px,#00ffe3 451px,#0ff 452px,#0080ff 454px,#00f 455px,#40f 456px,#da00ff 457px,#f0f 457px,#f00 458px,#f00 487px,#ff00a2 488px,#f0f 488px,#7500ff 489px,#00f 490px,#0023ff 490px,#00d0ff 492px,#0ff 494px,#00fffc 494px,#00ffde 503px,#0fd 512px,#00ffde 515px,#00ff93 525px,#00ff8e 530px)"></i><i style="left:231.1px;width:10.5px;background:linear-gradient(#f6ff00 0px,#ff0 3px,#ffc000 21px,#ffc200 42px,#ffc300 56px,#fff000 70px,#ffa700 79px,#ffe500 99px,#ff0 103px,#81ff00 122px,#0f0 126px,#00ff48 129px,#00ff7d 139px,#0f0 144px,#49ff00 147px,#ff0 165px,#fffd00 165px,#ffef00 180px,#ff0 186px,#a8ff00 216px,#ff0 229px,#ffe200 233px,#ff0 243px,#efff00 248px,#6aff00 261px,#2dff00 269px,#4f0 278px,#ff0 296px,#ffc000 302px,#ffad00 312px,#fffb00 320px,#ff0 320px,#5dff00 326px,#0f0 328px,#00ff9d 332px,#0ff 336px,#00f2ff 337px,#00c9ff 358px,#00e7ff 376px,#0ff 378px,#00ffe5 380px,#00ff65 386px,#00ff40 396px,#0f6 405px,#00fff1 416px,#00ffd4 420px,#00ff09 430px,#0f1 439px,#00ff9c 448px,#00fff6 452px,#0ff 452px,#0052ff 455px,#00f 456px,#8000ff 457px,#f0f 458px,#ff00a1 458px,#f00 459px,#f00 487px,#ff0058 488px,#f0f 489px,#00f 490px,#0008ff 490px,#00c8ff 492px,#0ff 493px,#00ffb8 494px,#00ff8b 502px,#00ffd0 515px,#00ff6b 525px,#00ff5e 530px)"></i><i style="left:241.3px;width:10.6px;background:linear-gradient(#f8ff00 0px,#ff0 2px,#ffc000 20px,#ffc700 40px,#ffbd00 55px,#ffef00 70px,#ffb300 80px,#ffdb00 97px,#ff0 103px,#94ff00 122px,#0f0 127px,#0f6 130px,#00ffa4 140px,#0f0 146px,#3eff00 148px,#fdff00 165px,#ff0 167px,#ffef00 179px,#ff0 184px,#b2ff00 208px,#c3ff00 220px,#ff0 229px,#ffe100 234px,#ff0 244px,#efff00 249px,#62ff00 270px,#80ff00 283px,#ff0 297px,#ffed00 299px,#ffa600 306px,#ffb300 315px,#ff0 320px,#e8ff00 322px,#15ff00 328px,#0f0 329px,#00ffba 333px,#0ff 336px,#00e1ff 338px,#00bcff 371px,#0ef 379px,#0ff 380px,#00ff48 386px,#00ff0c 396px,#00ff42 406px,#00fff4 417px,#00ff9c 425px,#00ff0e 431px,#00ff13 440px,#00ff89 448px,#00ffde 452px,#0ff 453px,#0026ff 456px,#00f 456px,#be00ff 458px,#f0f 458px,#ff0007 459px,#f00 487px,#ff0019 488px,#f0f 489px,#00f 490px,#0073ff 491px,#0ff 493px,#00ffa2 494px,#00ff6e 495px,#0f3 502px,#00ffb6 516px,#00ff46 525px,#00ff2f 530px)"></i><i style="left:251.6px;width:10.5px;background:linear-gradient(#f9ff00 0px,#ff0 2px,#ffbf00 19px,#ffc800 39px,#ffbc00 55px,#ffed00 70px,#ffb400 83px,#ffe700 99px,#ff0 103px,#89ff00 123px,#0f0 127px,#00ff85 131px,#00ffca 141px,#0f0 147px,#3f0 149px,#fbff00 165px,#ff0 168px,#fff200 179px,#ff0 183px,#bf0 207px,#b4ff00 218px,#ff0 229px,#ffde00 234px,#ff0 245px,#ebff00 251px,#91ff00 275px,#9eff00 287px,#ff0 297px,#ffd500 301px,#ffa000 307px,#ffb500 317px,#ff0 321px,#dcff00 323px,#28ff00 328px,#0f0 329px,#00ffbd 333px,#0ff 336px,#00d3ff 338px,#0af 372px,#00f1ff 380px,#0ff 380px,#0f3 386px,#0f0 392px,#27ff00 396px,#0f0 404px,#00ff0b 406px,#00fff9 418px,#00ff90 427px,#00ff13 432px,#00ff0c 440px,#00ff74 448px,#00ffe8 453px,#0ff 453px,#00f 457px,#0700ff 457px,#f0f 459px,#f0f 459px,#f00 460px,#f00 488px,#f0f 489px,#00f 491px,#03f 491px,#00c4ff 492px,#0ff 493px,#00ff52 495px,#00ff17 497px,#0f0 499px,#2aff00 502px,#0f0 505px,#00ffa9 516px,#00ff1c 526px,#00ff02 530px)"></i><i style="left:261.8px;width:10.6px;background:linear-gradient(#f8ff00 0px,#ff0 2px,#ffbf00 20px,#ffbc00 42px,#ffc100 56px,#ffe800 70px,#ffb300 83px,#fff000 101px,#ff0 103px,#8f0 123px,#0f0 127px,#00ff53 130px,#00ffa0 140px,#0f0 146px,#4f0 149px,#fdff00 166px,#ff0 170px,#fff700 182px,#ff0 185px,#afff00 215px,#ff0 229px,#ffe000 235px,#ff0 244px,#e0ff00 253px,#8eff00 277px,#a6ff00 289px,#ff0 297px,#ffbd00 303px,#ff9000 311px,#ffea00 320px,#ff0 321px,#acff00 324px,#0f0 328px,#00ffd6 334px,#0ff 336px,#00d0ff 339px,#00b0ff 373px,#0ff 381px,#00fffe 381px,#00ff47 387px,#00ff03 397px,#00ff36 407px,#00ffed 418px,#00ffa2 426px,#00ff14 432px,#00ff0b 440px,#00ff87 449px,#00ffe0 453px,#0ff 453px,#005eff 456px,#0016ff 457px,#00f 457px,#d100ff 459px,#f0f 459px,#f00 460px,#f00 488px,#ff0083 489px,#f0f 490px,#00f 491px,#01f 491px,#00bfff 492px,#0ff 493px,#00ff4e 495px,#00ff12 496px,#0f0 497px,#5aff00 502px,#0f0 508px,#00ff84 516px,#00ff0b 527px,#0f0 529px,#06ff00 530px)"></i><i style="left:272.1px;width:10.6px;background:linear-gradient(#f6ff00 0px,#ff0 3px,#ffbd00 21px,#ffc100 56px,#ffe400 70px,#ffb100 83px,#fff900 103px,#ff0 104px,#a1ff00 122px,#0f0 128px,#00ff2f 130px,#00ff70 140px,#0f0 145px,#5f0 149px,#faff00 166px,#ff0 174px,#fffa00 183px,#ff0 185px,#afff00 215px,#ff0 229px,#ffe000 235px,#ff0 244px,#dbff00 254px,#8cff00 278px,#b0ff00 291px,#ff0 298px,#ff8e00 308px,#ffa300 314px,#ff0 320px,#e5ff00 322px,#0f0 328px,#00ffda 334px,#0ff 336px,#00cdff 339px,#00afff 373px,#0ef 381px,#0ff 382px,#00ff63 388px,#00ff2c 398px,#00ff4d 407px,#00ffe5 418px,#00ffa8 425px,#00ff13 433px,#00ff16 441px,#0f9 450px,#00fff8 454px,#0ff 454px,#00f 457px,#2800ff 458px,#a400ff 459px,#f0f 459px,#f08 460px,#f00 461px,#f00 488px,#ff0052 489px,#f0f 490px,#c600ff 490px,#00f 491px,#00a1ff 492px,#0ff 493px,#0f8 494px,#00ff05 496px,#0f0 496px,#8cff00 502px,#0f0 510px,#00ff45 514px,#00ff5b 518px,#0f0 528px,#0aff00 529px,#0eff00 530px)"></i><i style="left:282.4px;width:10.5px;background:linear-gradient(#f4ff00 0px,#ff0 3px,#ffba00 22px,#ffc100 56px,#ffdf00 70px,#ffaf00 83px,#ff0 104px,#fcff00 105px,#8dff00 123px,#0f0 130px,#00ff07 130px,#00ff3a 140px,#0f0 143px,#64ff00 149px,#fcff00 167px,#f3ff00 192px,#afff00 215px,#ff0 230px,#ffe300 235px,#ff0 243px,#daff00 254px,#8aff00 278px,#afff00 291px,#ff0 298px,#ff8100 309px,#fa0 315px,#ff0 320px,#c1ff00 323px,#0f0 328px,#00ff86 331px,#0ff 336px,#00fdff 336px,#00c8ff 341px,#00b4ff 374px,#00f8ff 382px,#0ff 382px,#00ff80 389px,#0f5 399px,#00ff81 409px,#00ffe4 419px,#00ff6c 428px,#00ff14 433px,#00ff15 441px,#0fa 451px,#00ffe7 454px,#0ff 454px,#00f 458px,#0100ff 458px,#f0f 460px,#ff00fb 460px,#f00 461px,#f00 488px,#f02 489px,#f0f 490px,#e700ff 490px,#00f 491px,#0081ff 492px,#0ff 493px,#00ff85 494px,#0f0 496px,#0f0 496px,#c2ff00 502px,#65ff00 506px,#0f0 512px,#00ff3c 516px,#00ff1d 522px,#0f0 526px,#17ff00 530px)"></i><i style="left:292.6px;width:10.6px;background:linear-gradient(#f2ff00 0px,#ff0 4px,#ffb800 23px,#ffc000 56px,#ffda00 70px,#ffae00 83px,#ff0 104px,#f2ff00 107px,#94ff00 123px,#1cff00 131px,#0f0 139px,#00ff05 140px,#0f0 140px,#7aff00 150px,#ff0 168px,#efff00 193px,#afff00 215px,#ff0 230px,#ffe500 235px,#ff0 243px,#d5ff00 255px,#8f0 279px,#b4ff00 292px,#ff0 298px,#ff7600 310px,#ffb300 316px,#ff0 320px,#c2ff00 323px,#0f0 327px,#00ff9d 331px,#0ff 336px,#00deff 338px,#00b0ff 355px,#00c5ff 377px,#0ff 382px,#00ffef 384px,#00ff9e 390px,#00ff7e 401px,#00ffa0 410px,#00ffde 419px,#00ff69 428px,#00ff15 433px,#00ff20 442px,#00ffb9 452px,#0ff 455px,#00f4ff 455px,#001eff 458px,#00f 458px,#c500ff 460px,#f0f 460px,#ff001e 461px,#f00 463px,#f00 489px,#ff00ea 490px,#f0f 490px,#00f 491px,#0063ff 492px,#0ff 493px,#0ff 493px,#00ff2b 495px,#0f0 496px,#fcff00 502px,#92ff00 506px,#34ff00 510px,#0f0 515px,#00ff24 518px,#0f0 524px,#20ff00 530px)"></i><i style="left:302.9px;width:10.5px;background:linear-gradient(#f0ff00 0px,#ff0 4px,#ffb600 24px,#ffc000 56px,#ffd600 70px,#ffac00 83px,#ff0 103px,#daff00 112px,#9dff00 123px,#45ff00 131px,#2dff00 140px,#ebff00 164px,#ff0 177px,#fff800 181px,#ff0 184px,#afff00 215px,#ff0 230px,#ffe500 235px,#ff0 242px,#caff00 257px,#87ff00 280px,#b1ff00 292px,#ff0 299px,#ff6e00 311px,#fa0 316px,#ff0 320px,#9aff00 324px,#0f0 327px,#00ffb9 331px,#0ff 336px,#00d1ff 339px,#00adff 368px,#00e1ff 382px,#0ff 385px,#00ffbc 391px,#00ffa6 407px,#00ffdc 419px,#00ff64 428px,#00ff15 433px,#00ff1f 442px,#00ffd9 454px,#00fff1 455px,#0ff 455px,#00f 459px,#1b00ff 459px,#9700ff 460px,#f0f 461px,#f00 462px,#f00 489px,#f0f 490px,#00f 492px,#0041ff 492px,#00e8ff 493px,#0ff 493px,#00ff18 495px,#0f0 496px,#bf0 500px,#ff0 501px,#ffcf00 502px,#ff0 504px,#edff00 505px,#72ff00 508px,#0f0 517px,#00ff01 517px,#0f0 517px,#2aff00 530px)"></i><i style="left:313.1px;width:10.6px;background:linear-gradient(#ef0 0px,#ff0 5px,#ffb200 26px,#ffbf00 56px,#ffd100 70px,#ffab00 83px,#ff0 103px,#b0ff00 122px,#62ff00 135px,#6fff00 143px,#ff0 171px,#fffb00 172px,#ff0 175px,#d5ff00 200px,#afff00 215px,#ff0 230px,#ffe300 235px,#ff0 242px,#b3ff00 262px,#89ff00 283px,#b6ff00 293px,#ff0 299px,#ff6000 311px,#ff9e00 316px,#ff0 320px,#a3ff00 324px,#0f0 327px,#00ffc8 331px,#0ff 334px,#00fbff 334px,#0bf 345px,#00b9ff 375px,#0ff 388px,#0fc 397px,#00ffe2 416px,#00ffc9 421px,#00ff1b 432px,#00ff1e 442px,#00ffe5 455px,#0ff 455px,#0009ff 459px,#00f 459px,#e0f 461px,#f0f 461px,#f00 462px,#f00 489px,#ff00a0 490px,#f0f 491px,#00f 492px,#0cf 493px,#0ff 493px,#00ff17 495px,#0f0 496px,#6eff00 498px,#8dff00 499px,#ff0 501px,#fa0 502px,#ff9d00 503px,#ff0 506px,#f6ff00 506px,#93ff00 508px,#28ff00 516px,#21ff00 524px,#35ff00 530px)"></i><i style="left:323.4px;width:10.6px;background:linear-gradient(#edff00 0px,#ff0 5px,#ffac00 28px,#ffc300 57px,#ffc800 71px,#fa0 84px,#ff0 107px,#89ff00 139px,#beff00 156px,#ff0 173px,#fffb00 174px,#ff0 176px,#d0ff00 201px,#afff00 215px,#ff0 229px,#ffe000 235px,#ff0 244px,#81ff00 279px,#a9ff00 292px,#ff0 299px,#ff8100 309px,#ff5900 312px,#ffa800 317px,#ff0 320px,#78ff00 325px,#0f0 327px,#00ffd7 331px,#0ff 332px,#00f5ff 332px,#00b4ff 348px,#00bfff 377px,#0ff 397px,#00fff1 401px,#00ffe1 419px,#00ff43 429px,#00ff15 432px,#00ff2a 443px,#00ffdf 455px,#0ff 456px,#00fcff 456px,#0025ff 459px,#00f 459px,#b800ff 461px,#f0f 461px,#ff0049 462px,#f00 463px,#f00 489px,#ff006c 490px,#f0f 491px,#b700ff 491px,#00f 492px,#00b2ff 493px,#0ff 494px,#0f2 495px,#0f0 495px,#3bff00 496px,#9eff00 499px,#ff0 500px,#ff8b00 502px,#ff5e00 503px,#ffd100 506px,#ff0 507px,#a0ff00 509px,#47ff00 516px,#3f0 525px,#3fff00 530px)"></i><i style="left:333.7px;width:10.5px;background:linear-gradient(#efff00 0px,#ff0 4px,#ffab00 28px,#ffc900 58px,#ffbf00 72px,#ffaf00 86px,#ff0 107px,#8bff00 138px,#baff00 155px,#ff0 173px,#fff900 175px,#ff0 178px,#cfff00 201px,#aeff00 215px,#ff0 229px,#ffe000 235px,#ff0 244px,#81ff00 279px,#a9ff00 292px,#ff0 299px,#ff9e00 307px,#ff5c00 312px,#ffb200 317px,#ff0 320px,#95ff00 324px,#0f0 327px,#00ffe9 331px,#0ff 332px,#00eaff 332px,#0af 354px,#00cbff 379px,#0ff 398px,#00ffeb 405px,#00ffdc 419px,#00ff15 432px,#00ff2e 443px,#00ffe5 455px,#0ff 455px,#00abff 457px,#0020ff 459px,#00f 459px,#c100ff 461px,#f0f 461px,#ff002a 462px,#f00 463px,#f00 489px,#ff0093 490px,#f0f 491px,#00f 492px,#001eff 492px,#0ff 493px,#00ff9b 494px,#00ff13 495px,#0f0 495px,#41ff00 496px,#a8ff00 499px,#ff0 500px,#ff8400 502px,#ff6200 503px,#ffd500 506px,#ff0 507px,#a0ff00 509px,#47ff00 516px,#3f0 525px,#3fff00 530px)"></i><i style="left:343.9px;width:10.6px;background:linear-gradient(#f2ff00 0px,#ff0 4px,#ffa900 28px,#ffca00 69px,#ffa900 83px,#ff0 107px,#8dff00 138px,#baff00 155px,#ff0 174px,#fff600 176px,#ff0 180px,#c6ff00 203px,#aeff00 216px,#ff0 230px,#ffe000 235px,#ff0 243px,#b7ff00 261px,#85ff00 283px,#bcff00 294px,#ff0 299px,#ff8700 308px,#ff5700 311px,#ffa100 316px,#ff0 320px,#86ff00 324px,#0f0 326px,#00ffca 330px,#0ff 331px,#00e7ff 332px,#0af 355px,#00cdff 379px,#0ff 397px,#00ffe7 406px,#00ffd7 419px,#00ff15 432px,#00ff24 442px,#00ffec 455px,#0ff 455px,#005eff 458px,#001aff 459px,#00f 459px,#ca00ff 461px,#f0f 461px,#ff000b 462px,#f00 489px,#f0f 490px,#00f 492px,#003eff 492px,#0ff 493px,#00ff80 494px,#00ff05 495px,#0f0 495px,#47ff00 496px,#b3ff00 499px,#ff0 500px,#ff7c00 502px,#f60 503px,#ff0 507px,#f1ff00 507px,#a0ff00 509px,#47ff00 516px,#3f0 525px,#3fff00 530px)"></i><i style="left:354.2px;width:10.5px;background:linear-gradient(#f5ff00 0px,#ff0 3px,#ffaf00 23px,#ffc900 57px,#ffa900 76px,#ffd400 97px,#ff0 108px,#8fff00 138px,#c5ff00 157px,#ff0 174px,#fff300 178px,#ff0 183px,#abff00 215px,#ff0 230px,#ffdf00 235px,#ff0 243px,#caff00 257px,#82ff00 280px,#a9ff00 292px,#ff0 299px,#ffa700 306px,#ff5700 311px,#ffab00 316px,#ff0 319px,#71ff00 324px,#0f0 326px,#00ffdc 330px,#0ff 331px,#00e6ff 332px,#0af 355px,#00cfff 379px,#0ff 397px,#00ffe5 407px,#00ffdf 418px,#00ff15 432px,#00ff29 442px,#00fff2 455px,#0ff 455px,#0015ff 459px,#00f 459px,#d300ff 461px,#f0f 461px,#f00 462px,#f00 489px,#f0f 490px,#5300ff 491px,#00f 492px,#0ff 493px,#00ff65 494px,#0f0 495px,#0aff00 495px,#4dff00 496px,#bdff00 499px,#ff0 500px,#ff7500 502px,#ff6900 503px,#ff0 507px,#efff00 507px,#a0ff00 509px,#47ff00 516px,#3f0 525px,#3fff00 530px)"></i><i style="left:364.4px;width:10.6px;background:linear-gradient(#f7ff00 0px,#ff0 2px,#ffcb00 12px,#ffac00 35px,#ffc500 67px,#ffa900 84px,#ff0 108px,#91ff00 138px,#c5ff00 157px,#ff0 173px,#fff100 177px,#ff0 182px,#b4ff00 206px,#b6ff00 217px,#ff0 230px,#ffdc00 236px,#ff0 245px,#82ff00 278px,#a9ff00 292px,#ff0 299px,#ffb600 305px,#ff5600 310px,#ff9a00 315px,#ff0 319px,#8fff00 323px,#0f0 326px,#0fe 330px,#0ff 331px,#00dfff 333px,#0af 358px,#00d7ff 380px,#0ff 398px,#00ffe5 409px,#00ffda 418px,#00ff15 431px,#0f2 441px,#00ffda 454px,#0ff 455px,#00d2ff 456px,#0010ff 459px,#00f 459px,#dc00ff 461px,#f0f 461px,#f00 462px,#f00 488px,#f02 489px,#f0f 490px,#3200ff 491px,#00f 491px,#0ff 493px,#00ff49 494px,#0f0 495px,#18ff00 495px,#74ff00 497px,#ff0 500px,#fff700 500px,#ff6d00 502px,#ff8e00 504px,#ff0 507px,#a0ff00 509px,#47ff00 516px,#3f0 525px,#3fff00 530px)"></i><i style="left:374.7px;width:10.6px;background:linear-gradient(#faff00 0px,#ff0 1px,#fc0 9px,#ffab00 35px,#ffc700 65px,#ffa800 84px,#ff0 108px,#92ff00 138px,#c0ff00 156px,#ff0 173px,#fff000 177px,#ff0 182px,#b7ff00 205px,#b8ff00 217px,#ff0 229px,#ffda00 236px,#ff0 246px,#82ff00 278px,#a9ff00 292px,#ff0 299px,#ffc400 304px,#ff5400 310px,#ffa400 315px,#ff0 318px,#7eff00 323px,#0f0 325px,#0ff 330px,#00fdff 330px,#00b9ff 343px,#00baff 373px,#0ff 396px,#00ffe2 405px,#00ffe0 417px,#00ff15 431px,#00ff26 441px,#00ffde 454px,#0ff 455px,#0089ff 457px,#000aff 459px,#00f 459px,#e600ff 461px,#f0f 461px,#f00 462px,#f00 488px,#f05 489px,#f0f 490px,#1000ff 491px,#00f 491px,#0ff 493px,#00ff2e 494px,#0f0 495px,#27ff00 495px,#d2ff00 499px,#ff0 500px,#f60 502px,#ffb700 505px,#ff0 507px,#a0ff00 509px,#47ff00 516px,#3f0 525px,#3fff00 530px)"></i><i style="left:385.0px;width:10.5px;background:linear-gradient(#fcff00 0px,#ff0 0px,#ffc600 8px,#ffac00 36px,#ffc700 64px,#ffa600 83px,#ff0 108px,#94ff00 138px,#bfff00 156px,#ff0 172px,#ffed00 176px,#ff0 182px,#bfff00 203px,#adff00 215px,#ff0 229px,#ffd700 236px,#ff0 246px,#84ff00 277px,#a9ff00 292px,#ff0 299px,#ffc100 304px,#f50 310px,#ffae00 315px,#ff0 318px,#9dff00 322px,#0f0 325px,#00ffe1 329px,#0ff 330px,#00f0ff 330px,#00b0ff 348px,#00c0ff 375px,#0ff 395px,#00ffe2 404px,#0fd 417px,#00ff15 431px,#00ff2a 441px,#00ffe1 454px,#0ff 455px,#0005ff 459px,#00f 459px,#ef00ff 461px,#f0f 461px,#f00 462px,#f00 488px,#ff0089 489px,#f0f 490px,#00f 491px,#00bdff 492px,#0ff 492px,#00ff13 494px,#0f0 494px,#5fff00 496px,#a1ff00 498px,#ff0 499px,#ff5e00 502px,#ffe800 506px,#ff0 507px,#a0ff00 509px,#47ff00 516px,#3f0 525px,#3fff00 530px)"></i><i style="left:395.2px;width:10.6px;background:linear-gradient(#ff0 0px,#ffbf00 8px,#ffac00 37px,#ffcb00 62px,#ffa200 81px,#ff0 108px,#95ff00 138px,#b7ff00 154px,#ff0 170px,#ffea00 174px,#ff0 181px,#c8ff00 201px,#aeff00 215px,#ff0 229px,#ffd500 236px,#ff0 246px,#84ff00 277px,#a9ff00 292px,#ff0 299px,#ffbe00 304px,#ff4f00 309px,#ff9c00 314px,#ff0 318px,#92ff00 322px,#0f0 325px,#00ffc2 328px,#0ff 329px,#00e8ff 330px,#0af 352px,#0cf 377px,#0ff 395px,#00ffdf 407px,#00ffd9 417px,#00ff15 431px,#0f2 440px,#00ffe4 454px,#0ff 454px,#00f 459px,#00f 459px,#f800ff 461px,#f0f 461px,#f00 462px,#f00 488px,#f0f 489px,#00f 491px,#0df 492px,#0ff 492px,#0f0 494px,#08ff00 494px,#65ff00 496px,#a7ff00 498px,#ff0 499px,#ff5700 502px,#ff0 506px,#a0ff00 509px,#47ff00 516px,#3f0 525px,#3fff00 530px)"></i><i style="left:405.5px;width:10.5px;background:linear-gradient(#f1ff00 0px,#ff0 2px,#fc0 9px,#ffa900 35px,#ffca00 62px,#fa0 81px,#ff0 104px,#beff00 121px,#9cff00 146px,#ff0 170px,#ffed00 174px,#ff0 180px,#beff00 203px,#b1ff00 215px,#ff0 231px,#ffde00 238px,#ff0 246px,#85ff00 276px,#a8ff00 292px,#ff0 300px,#ffd900 303px,#ff4c00 309px,#ff0 318px,#a8ff00 322px,#0f0 325px,#00ffe2 330px,#0ff 332px,#00d5ff 336px,#00b3ff 363px,#00f7ff 379px,#0ff 380px,#00ffb6 393px,#00ffe1 417px,#00ff42 429px,#00ff14 436px,#00ff32 443px,#00ffd7 454px,#0ff 455px,#009bff 457px,#001eff 459px,#00f 459px,#c000ff 461px,#f0f 461px,#ff0027 462px,#f00 463px,#f00 488px,#ff0062 489px,#f0f 490px,#be00ff 490px,#00f 491px,#00acff 492px,#0ff 493px,#00ff20 494px,#0f0 494px,#45ff00 495px,#f3ff00 499px,#ff0 499px,#ff7300 502px,#ff0 506px,#97ff00 509px,#42ff00 516px,#4aff00 530px)"></i><i style="left:415.7px;width:10.6px;background:linear-gradient(#e2ff00 0px,#ff0 4px,#ffd700 10px,#ffa700 34px,#fc0 61px,#ffb100 80px,#ff0 97px,#baff00 112px,#a6ff00 148px,#ff0 168px,#fe0 172px,#ff0 180px,#b1ff00 215px,#ff0 231px,#ffde00 238px,#ff0 246px,#86ff00 275px,#a6ff00 292px,#ff0 300px,#ffe400 303px,#ff4900 309px,#ff0 318px,#9cff00 323px,#0f0 326px,#00ffd1 331px,#0ff 333px,#00f2ff 334px,#00c5ff 344px,#00c4ff 366px,#0ff 375px,#00ffe8 379px,#00ff8d 388px,#00ff7b 397px,#00ffe8 415px,#00ffb8 423px,#00ff15 434px,#00ff29 444px,#00ffdf 455px,#0ff 456px,#007fff 458px,#00f 460px,#1400ff 460px,#80f 461px,#f0f 462px,#f00 463px,#ff0008 489px,#f0f 490px,#f800ff 490px,#00f 491px,#0ff 493px,#00ffe7 493px,#0f0 495px,#4f0 495px,#ff0 499px,#fffe00 499px,#ff8e00 501px,#ff9800 503px,#ff0 506px,#8eff00 509px,#3bff00 516px,#54ff00 530px)"></i><i style="left:426.0px;width:10.5px;background:linear-gradient(#d4ff00 0px,#ff0 7px,#ffc900 16px,#ffa900 36px,#ffd100 59px,#ffb300 78px,#ff0 94px,#b5ff00 110px,#9fff00 114px,#b3ff00 123px,#af0 149px,#ff0 167px,#ffef00 170px,#ff0 178px,#b4ff00 217px,#ff0 233px,#ffe200 239px,#ff0 246px,#87ff00 274px,#a9ff00 293px,#ff0 301px,#ffef00 303px,#ff8b00 307px,#ff4600 309px,#fffa00 318px,#ff0 318px,#af0 324px,#0f0 328px,#00ff3c 329px,#0fd 332px,#0ff 335px,#00d4ff 339px,#00c6ff 363px,#0ff 372px,#00ffdc 378px,#00ff5d 386px,#00ff36 396px,#00ffe1 413px,#00ffdc 422px,#0f6 430px,#00ff15 434px,#00ff23 445px,#00ffec 456px,#0ff 456px,#00a3ff 458px,#0016ff 460px,#00f 460px,#5000ff 461px,#da00ff 462px,#f0f 462px,#ff0003 463px,#f00 489px,#f0f 490px,#00f 492px,#00e6ff 493px,#0ff 493px,#0f0 495px,#2aff00 495px,#ff0 499px,#ff7500 501px,#ff0 505px,#e7ff00 506px,#84ff00 509px,#36ff00 517px,#5fff00 530px)"></i><i style="left:436.2px;width:10.6px;background:linear-gradient(#c6ff00 0px,#ff0 10px,#ffb100 23px,#ffb400 40px,#ffd500 57px,#ffb500 77px,#ff0 92px,#a9ff00 109px,#86ff00 113px,#b2ff00 120px,#b1ff00 150px,#ff0 166px,#fe0 169px,#ff0 178px,#b2ff00 217px,#ff0 233px,#ffe500 239px,#ff0 245px,#8f0 273px,#acff00 294px,#f4ff00 302px,#ff0 303px,#ffb700 306px,#ff4300 309px,#ffbf00 314px,#ff0 320px,#bfff00 325px,#01ff00 329px,#0f0 329px,#00ffc5 332px,#0ff 336px,#00dcff 338px,#00cbff 362px,#0ff 370px,#00ffd6 377px,#00ff24 386px,#0f0 394px,#0bff00 396px,#0f0 397px,#00ffda 412px,#00fff3 422px,#00ffa0 429px,#00ff15 434px,#00ff0f 445px,#0fe 457px,#0ff 457px,#00f 461px,#1900ff 461px,#9500ff 462px,#f0f 463px,#f00 464px,#f00 489px,#ff006c 490px,#f0f 491px,#b700ff 491px,#00f 492px,#0ff 494px,#0f0 495px,#0f0 495px,#70ff00 496px,#ff0 498px,#ff6000 501px,#ff0 505px,#79ff00 509px,#30ff00 517px,#69ff00 530px)"></i><i style="left:446.5px;width:10.6px;background:linear-gradient(#ceff00 0px,#ff0 9px,#ffae00 25px,#ffc600 43px,#ffd100 58px,#ffb600 76px,#ff0 91px,#b6ff00 106px,#7fff00 111px,#b0ff00 118px,#b5ff00 149px,#ff0 164px,#fe0 167px,#ff0 176px,#b2ff00 215px,#ff0 231px,#ffe300 237px,#ff0 243px,#85ff00 270px,#b0ff00 293px,#ff0 301px,#fff700 302px,#ffb000 305px,#f40 308px,#ffb800 312px,#ff0 318px,#b5ff00 324px,#0f0 328px,#00ff03 328px,#00ffc6 331px,#0ff 335px,#00deff 337px,#00d4ff 361px,#0ff 367px,#00ffd5 373px,#00ff6d 380px,#00ff1a 385px,#00ff0c 395px,#00ffe4 411px,#00fff8 421px,#00ff87 429px,#00ff19 433px,#00ff0d 444px,#00ffec 456px,#0ff 456px,#00f 460px,#0e00ff 460px,#8300ff 461px,#f0f 462px,#ff00d4 462px,#f00 463px,#f00 488px,#ff002d 489px,#f0f 490px,#cf00ff 490px,#00f 491px,#00b7ff 492px,#0ff 492px,#00ff1c 494px,#0f0 494px,#4aff00 495px,#ff0 498px,#fa0 500px,#ff0 503px,#61ff00 508px,#1dff00 516px,#47ff00 530px)"></i><i style="left:456.8px;width:10.5px;background:linear-gradient(#d7ff00 0px,#ff0 9px,#ffad00 26px,#ffd700 55px,#ffb300 74px,#ff0 89px,#bdff00 103px,#83ff00 110px,#afff00 117px,#b9ff00 148px,#ff0 162px,#ffed00 165px,#ff0 173px,#aeff00 212px,#ff0 230px,#ffe400 236px,#ff0 242px,#81ff00 268px,#aeff00 291px,#ff0 300px,#fff500 301px,#ffa900 304px,#ff4800 307px,#ffbe00 311px,#ff0 317px,#caff00 322px,#0f0 327px,#00ff07 327px,#00ffc8 330px,#0ff 334px,#00e0ff 336px,#00deff 360px,#0ff 364px,#00ffd3 370px,#00ff10 384px,#00ff24 394px,#0fe 410px,#00fffe 420px,#00ff8b 428px,#00ff13 433px,#00ff0b 443px,#00ffe9 455px,#0ff 455px,#00f 459px,#0300ff 459px,#7100ff 460px,#f0f 461px,#ff00e9 461px,#f00 462px,#f00 488px,#f0f 489px,#e400ff 489px,#00f 490px,#00b9ff 491px,#0ff 492px,#00ff39 493px,#0f0 494px,#25ff00 494px,#ff0 499px,#fff300 499px,#ff0 499px,#49ff00 507px,#0cff00 516px,#25ff00 530px)"></i><i style="left:467.0px;width:10.6px;background:linear-gradient(#dfff00 0px,#ff0 8px,#ffad00 27px,#ffda00 53px,#ffb500 73px,#ff0 88px,#c5ff00 100px,#7dff00 108px,#adff00 116px,#beff00 147px,#ff0 161px,#fe0 164px,#ff0 172px,#aeff00 208px,#ff0 227px,#ffe200 234px,#ff0 240px,#7eff00 265px,#abff00 289px,#ff0 298px,#ffe400 301px,#ff5700 305px,#ff4e00 306px,#ffc400 310px,#ff0 315px,#c2ff00 321px,#31ff00 325px,#0f0 326px,#00ffc9 329px,#0ff 333px,#00e2ff 335px,#00e3ff 358px,#0ff 362px,#00ffdb 367px,#00ff07 383px,#00ff3b 393px,#00fff4 408px,#0ff 416px,#00fbff 419px,#0ff 419px,#00ff90 427px,#00ff14 432px,#00ff08 442px,#00ffe6 454px,#0ff 454px,#0058ff 457px,#00f 458px,#5f00ff 459px,#fe00ff 460px,#f0f 460px,#f00 461px,#f00 487px,#f0f 488px,#f600ff 488px,#00f 489px,#0bf 490px,#0ff 491px,#00ff57 492px,#0f0 493px,#0f0 493px,#c0ff00 498px,#2aff00 507px,#0f0 515px,#00ff0c 517px,#0f0 526px,#05ff00 530px)"></i><i style="left:477.3px;width:10.5px;background:linear-gradient(#e8ff00 0px,#ff0 6px,#ffae00 28px,#ffdb00 52px,#ffb200 71px,#ff0 87px,#c7ff00 98px,#78ff00 106px,#abff00 114px,#c2ff00 146px,#ff0 158px,#fe0 162px,#ff0 169px,#adff00 204px,#ff0 226px,#ffe400 233px,#ff0 238px,#80ff00 261px,#a1ff00 285px,#ff0 297px,#fff100 299px,#ff5100 304px,#f50 305px,#ffbc00 308px,#ff0 314px,#b9ff00 320px,#2eff00 324px,#0f0 325px,#00ffc7 328px,#0ff 332px,#00e4ff 334px,#00ecff 357px,#0ff 359px,#00ffc9 366px,#00ff3b 376px,#0f0 382px,#02ff00 382px,#0f0 382px,#00ff62 393px,#00ffd2 402px,#0ff 410px,#00f9ff 411px,#0ff 416px,#00fffb 419px,#00ff94 426px,#00ff14 431px,#00ff06 441px,#00ffe2 453px,#0ff 454px,#0af 455px,#00f 457px,#4e00ff 458px,#e400ff 459px,#f0f 459px,#ff000d 460px,#f00 486px,#f0f 487px,#1800ff 488px,#00f 488px,#00bcff 489px,#0ff 490px,#00ff26 492px,#0f0 493px,#75ff00 497px,#0f0 510px,#00ff17 512px,#00ff2c 524px,#00ff1b 530px)"></i><i style="left:487.5px;width:10.6px;background:linear-gradient(#f1ff00 0px,#ff0 4px,#ffb000 28px,#ffdf00 50px,#ffb200 69px,#ff0 86px,#d5ff00 95px,#72ff00 104px,#a9ff00 112px,#c7ff00 145px,#ff0 156px,#ffed00 160px,#ff0 167px,#abff00 201px,#ff0 222px,#ffe500 228px,#ff0 235px,#e4ff00 242px,#7fff00 258px,#86ff00 275px,#e5ff00 294px,#ff0 296px,#fd0 299px,#ff4b00 303px,#ffcf00 308px,#ff0 312px,#b0ff00 319px,#2bff00 323px,#0f0 324px,#00ffc5 327px,#0ff 331px,#00e6ff 333px,#00f0ff 355px,#0ff 357px,#00ffca 364px,#00ff3f 372px,#0f0 380px,#0aff00 381px,#0f0 382px,#00ff8b 393px,#0fd 400px,#0ff 408px,#00f1ff 411px,#0ff 418px,#0ff 418px,#00ff98 425px,#00ff14 430px,#00ff03 440px,#00ffde 452px,#0ff 453px,#00fcff 453px,#00f 456px,#3c00ff 457px,#c600ff 458px,#f0f 458px,#ff004a 459px,#f00 460px,#f00 485px,#f0f 486px,#1b00ff 487px,#00f 487px,#0bf 488px,#0ff 489px,#00ff4b 491px,#0f0 494px,#2aff00 496px,#13ff00 502px,#0f0 505px,#00ff57 521px,#00ff39 530px)"></i><i style="left:497.8px;width:10.6px;background:linear-gradient(#f9ff00 0px,#ff0 2px,#ffb200 28px,#ffe000 49px,#ffb200 68px,#ff0 84px,#cfff00 94px,#6bff00 102px,#a6ff00 110px,#c7ff00 143px,#ff0 154px,#ffed00 158px,#ff0 165px,#a7ff00 198px,#ff0 222px,#ffe300 230px,#ff0 235px,#bfff00 245px,#7aff00 256px,#7eff00 271px,#e1ff00 292px,#ff0 295px,#ffd800 298px,#ff4500 302px,#ffc900 306px,#ff0 311px,#c6ff00 317px,#27ff00 322px,#0f0 323px,#00ffc2 326px,#0ff 330px,#00e8ff 332px,#00f3ff 353px,#0ff 354px,#00ffba 363px,#00ff28 370px,#0f0 377px,#13ff00 380px,#0f0 381px,#00ffe7 397px,#0ff 404px,#00eaff 411px,#00faff 417px,#0ff 417px,#00ff7f 425px,#00ff15 429px,#0f1 440px,#00ffd9 451px,#00fff8 452px,#0ff 452px,#00f 455px,#2a00ff 456px,#a600ff 457px,#f0f 457px,#ff0086 458px,#f00 459px,#f00 484px,#ff00dc 485px,#f0f 485px,#1e00ff 486px,#00f 486px,#00baff 487px,#0ff 488px,#00ff6f 490px,#00ff2d 494px,#00ff04 499px,#00ff6a 516px,#00ff73 522px,#00ff56 530px)"></i><i style="left:508.1px;width:10.5px;background:linear-gradient(#f4ff00 0px,#ff0 3px,#ffb100 27px,#ffde00 48px,#ffb200 67px,#ff0 83px,#cbff00 93px,#7bff00 102px,#af0 111px,#c8ff00 141px,#ff0 153px,#ffeb00 157px,#ff0 164px,#a7ff00 196px,#ff0 220px,#ffe200 228px,#ff0 233px,#aeff00 245px,#68ff00 260px,#cfff00 289px,#ff0 294px,#ffec00 296px,#ff4500 301px,#ffc000 304px,#ff0 310px,#baff00 316px,#0fff00 321px,#0f0 321px,#00ffca 325px,#0ff 329px,#00e8ff 331px,#00f3ff 351px,#0ff 352px,#00ffa7 362px,#00ff1f 369px,#0f0 376px,#0bff00 379px,#0f0 380px,#00ffe5 395px,#0ff 403px,#00eaff 409px,#00feff 416px,#0ff 416px,#00ff94 423px,#00ff14 428px,#00ff09 438px,#00ffdf 450px,#0ff 451px,#0af 452px,#001bff 454px,#00f 454px,#ca00ff 456px,#f0f 456px,#ff000e 457px,#f00 483px,#ff00a0 484px,#f0f 484px,#5b00ff 485px,#00f 485px,#007aff 486px,#0ff 487px,#0fb 488px,#0f7 489px,#00ff6d 492px,#00ff60 499px,#00ffb7 519px,#00ff91 530px)"></i><i style="left:518.3px;width:10.6px;background:linear-gradient(#efff00 0px,#ff0 4px,#ffaf00 26px,#ffdc00 47px,#ffaf00 65px,#ff0 81px,#c8ff00 92px,#83ff00 101px,#afff00 113px,#c2ff00 138px,#ff0 150px,#ffe700 155px,#ff0 163px,#a5ff00 193px,#ff0 215px,#fff400 218px,#ffe500 228px,#ff0 232px,#6eff00 254px,#9aff00 277px,#fdff00 293px,#ff0 293px,#ffac00 297px,#ff4600 300px,#ffc300 303px,#ff0 308px,#aeff00 315px,#0f0 320px,#00ff08 320px,#00ffb9 323px,#0ff 328px,#00e9ff 329px,#00f1ff 349px,#0ff 351px,#00ffa9 360px,#00ff18 368px,#0f0 377px,#03ff00 378px,#0f0 378px,#00ffe8 394px,#0ff 401px,#00eaff 408px,#00f4ff 414px,#0ff 415px,#00ff8b 422px,#00ff18 426px,#0f1 437px,#00ffe5 449px,#0ff 449px,#0006ff 453px,#00f 453px,#ed00ff 455px,#f0f 455px,#f00 456px,#f00 482px,#ff004b 483px,#f0f 484px,#8400ff 484px,#00f 485px,#0051ff 485px,#00e5ff 486px,#0ff 486px,#00ff89 488px,#00ff97 490px,#00ffb3 493px,#00fff4 515px,#00ffcb 530px)"></i><i style="left:528.6px;width:10.5px;background:linear-gradient(#eaff00 0px,#ff0 5px,#ffab00 24px,#fd0 45px,#ffac00 64px,#ff0 80px,#c4ff00 91px,#8aff00 100px,#b2ff00 115px,#c1ff00 136px,#ff0 148px,#ffe300 153px,#ff0 162px,#a5ff00 191px,#ff0 213px,#fff100 216px,#ffe800 227px,#ff0 230px,#67ff00 253px,#afff00 281px,#ff0 291px,#fff300 293px,#ff8200 297px,#ff5200 298px,#ff4800 299px,#ffc700 302px,#ff0 307px,#c4ff00 313px,#18ff00 318px,#0f0 318px,#00ffcb 322px,#0ff 326px,#00e9ff 328px,#00f3ff 347px,#0ff 348px,#00ff96 359px,#0f1 367px,#00ff05 377px,#00ffeb 393px,#0ff 400px,#00eaff 408px,#00f8ff 413px,#0ff 413px,#00ff83 421px,#00ff15 425px,#00ff18 436px,#00ffd6 447px,#0fe 448px,#0ff 448px,#00f 452px,#1900ff 452px,#9500ff 453px,#f0f 454px,#f00 455px,#f00 482px,#f0f 483px,#a100ff 483px,#00f 484px,#003dff 484px,#00f5ff 485px,#0ff 485px,#00ff9a 487px,#0ff 491px,#0ff 491px,#00d1ff 518px,#00fcff 530px)"></i><i style="left:538.8px;width:10.6px;background:linear-gradient(#e5ff00 0px,#ff0 6px,#ffa900 24px,#ffde00 43px,#ffa700 62px,#ff0 79px,#cbff00 89px,#91ff00 98px,#acff00 121px,#deff00 139px,#ff0 146px,#ffe100 152px,#ff0 161px,#a2ff00 188px,#ff0 211px,#fffa00 212px,#ffdf00 223px,#ff0 228px,#5fff00 253px,#d2ff00 286px,#ff0 290px,#ffda00 293px,#ffac00 295px,#ff4700 297px,#ff5100 298px,#ffba00 300px,#ff0 306px,#b8ff00 312px,#03ff00 317px,#0f0 317px,#00ffd2 321px,#0ff 325px,#00e8ff 327px,#00f2ff 344px,#0ff 345px,#00ff83 358px,#00ff0d 365px,#0f0 374px,#02ff00 375px,#0f0 375px,#00ffea 391px,#0ff 399px,#00eaff 407px,#0ff 411px,#00fff4 413px,#00ff98 419px,#00ff15 424px,#00ff20 435px,#00ffdc 446px,#0ff 447px,#00b4ff 448px,#00f 450px,#3c00ff 451px,#b800ff 452px,#f0f 452px,#ff004a 453px,#f00 454px,#f00 481px,#f0f 482px,#b200ff 482px,#00f 483px,#0040ff 483px,#0ef 484px,#0ff 484px,#00ffa7 486px,#0ff 488px,#00bdff 489px,#0098ff 502px,#009cff 519px,#00c8ff 530px)"></i><i style="left:549.1px;width:10.6px;background:linear-gradient(#e0ff00 0px,#ff0 6px,#ffa500 23px,#ffe000 41px,#ffa400 60px,#ff0 79px,#e7ff00 84px,#9f0 95px,#c5ff00 133px,#ff0 144px,#fd0 150px,#ff0 160px,#a2ff00 186px,#ff0 208px,#fff600 210px,#ffdc00 220px,#ff0 226px,#5cff00 252px,#d2ff00 285px,#ff0 289px,#ffd700 292px,#ffa500 294px,#ff3c00 296px,#ffc200 299px,#ff0 304px,#abff00 311px,#0f0 315px,#00ff14 316px,#00ffbc 319px,#0ff 324px,#00e9ff 325px,#00f2ff 342px,#0ff 343px,#00ffbf 351px,#00ff06 364px,#00ff07 374px,#00ffed 390px,#0ff 397px,#00eaff 406px,#0ff 411px,#00fffe 411px,#00ff90 418px,#00ff1c 422px,#00ff19 433px,#00ffcd 444px,#0ff 445px,#00e7ff 446px,#0010ff 449px,#00f 449px,#db00ff 451px,#f0f 451px,#f00 452px,#f00 480px,#f0f 481px,#b000ff 481px,#00f 482px,#0058ff 482px,#00e5ff 483px,#0ff 483px,#00ffe0 484px,#00ffd1 485px,#0ff 486px,#0070ff 488px,#04f 497px,#006cff 521px,#0097ff 530px)"></i><i style="left:559.4px;width:10.5px;background:linear-gradient(#dbff00 0px,#ff0 6px,#ffa300 22px,#ffe100 40px,#ffa200 58px,#fffc00 79px,#ff0 79px,#98ff00 93px,#c6ff00 131px,#ff0 142px,#ffdb00 149px,#ff0 158px,#a5ff00 182px,#ecff00 203px,#ff0 207px,#ffd700 215px,#ff0 224px,#f2ff00 227px,#58ff00 250px,#d3ff00 284px,#ff0 287px,#ffc500 292px,#ff2d00 295px,#ffc500 298px,#ff0 303px,#c0ff00 309px,#0f0 314px,#00ff2a 315px,#00ffcf 318px,#0ff 323px,#00e8ff 325px,#00f2ff 340px,#0ff 342px,#00ffd7 347px,#0f0 363px,#00ff0f 373px,#00fff0 389px,#0ff 396px,#00eaff 405px,#0ff 409px,#00fffa 410px,#00ff87 417px,#00ff15 421px,#00ff20 432px,#00ffbf 442px,#00ffe8 444px,#0ff 444px,#00f 448px,#0700ff 448px,#f0f 450px,#f0f 450px,#f00 451px,#f00 479px,#f0f 480px,#a800ff 480px,#00f 481px,#0087ff 481px,#0ff 483px,#00ffec 483px,#0ff 484px,#00faff 484px,#05f 486px,#0026ff 487px,#00f 492px,#1300ff 494px,#00f 501px,#0048ff 525px,#0069ff 530px)"></i><i style="left:569.6px;width:10.6px;background:linear-gradient(#e6ff00 0px,#ff0 4px,#ffb200 16px,#ffc000 27px,#ffe600 39px,#ffa200 58px,#ff0 79px,#ff0 79px,#9dff00 93px,#c1ff00 129px,#ff0 141px,#ffd900 148px,#ff0 158px,#a9ff00 180px,#eaff00 201px,#ff0 206px,#ffd600 215px,#ff0 223px,#e7ff00 228px,#61ff00 249px,#d0ff00 283px,#ff0 287px,#ffda00 290px,#ff9200 292px,#ff3700 294px,#fa0 296px,#ff0 303px,#bf0 308px,#0f0 313px,#00ff35 314px,#00ffd6 317px,#0ff 321px,#00e6ff 324px,#00f3ff 340px,#0ff 341px,#00ffa3 351px,#00ff05 362px,#00ff0f 372px,#00fff1 388px,#0ff 394px,#00e4ff 405px,#0ff 409px,#00fff4 410px,#00ff8a 416px,#00ff19 420px,#00ff27 432px,#00ffe0 443px,#0ff 443px,#005dff 446px,#0010ff 447px,#00f 447px,#de00ff 449px,#f0f 449px,#f00 450px,#f00 478px,#ff00c5 479px,#f0f 479px,#00f 480px,#000aff 480px,#00b6ff 481px,#0ff 482px,#00fffb 482px,#00ffdb 483px,#0ff 484px,#006aff 486px,#002aff 493px,#0072ff 512px,#0064ff 530px)"></i><i style="left:579.9px;width:10.5px;background:linear-gradient(#f1ff00 0px,#ff0 2px,#ffb400 13px,#ffc900 26px,#ffe600 39px,#ffa300 58px,#ff0 78px,#f4ff00 80px,#a0ff00 92px,#c0ff00 128px,#ff0 140px,#ffd600 147px,#ff0 157px,#abff00 179px,#edff00 200px,#ff0 204px,#ffd300 214px,#ff0 223px,#ebff00 227px,#69ff00 248px,#d5ff00 283px,#ff0 286px,#ffbf00 290px,#ff4e00 292px,#ff4100 293px,#ffb200 295px,#ff0 301px,#b5ff00 307px,#0f0 311px,#00ff40 313px,#00ffdc 316px,#0ff 320px,#00e4ff 323px,#00f4ff 340px,#0ff 341px,#00ff83 353px,#00ff0b 360px,#00ff10 371px,#00fff6 388px,#0ff 392px,#00deff 406px,#0ff 408px,#00ffab 414px,#00ff1e 419px,#00ff21 431px,#00ffd8 442px,#0ff 443px,#00cbff 444px,#00f 446px,#4100ff 447px,#bd00ff 448px,#f0f 448px,#ff0039 449px,#f00 450px,#f00 477px,#ff001b 478px,#f0f 479px,#7900ff 479px,#00f 479px,#007eff 480px,#00edff 481px,#0ff 481px,#00ffc5 482px,#0ff 483px,#00e6ff 484px,#00aeff 485px,#0064ff 492px,#00cdff 506px,#00b4ff 518px,#0065ff 527px,#0058ff 530px)"></i><i style="left:590.1px;width:10.6px;background:linear-gradient(#fcff00 0px,#ff0 0px,#ffaf00 11px,#ffb900 21px,#fff200 34px,#ffa400 58px,#ff0 77px,#f0ff00 80px,#a3ff00 91px,#c0ff00 127px,#ff0 139px,#ffd700 147px,#ff0 157px,#adff00 178px,#f5ff00 200px,#ff0 202px,#ffd000 213px,#ff0 223px,#f0ff00 226px,#72ff00 247px,#d2ff00 282px,#ff0 285px,#ffdf00 288px,#f40 291px,#ff4b00 292px,#ffb900 294px,#ff0 300px,#aeff00 306px,#0f0 310px,#00ff4a 312px,#00ffe0 315px,#0ff 319px,#00e2ff 322px,#00f4ff 340px,#0ff 341px,#00ff8c 352px,#00ff10 359px,#0f1 370px,#00fff7 387px,#0ff 390px,#00d8ff 405px,#0ff 408px,#00ffae 413px,#0f2 418px,#00ff14 429px,#00ff97 438px,#00ffe8 442px,#0ff 442px,#0098ff 444px,#00f 446px,#2000ff 446px,#9c00ff 447px,#f0f 448px,#f00 449px,#f00 477px,#ff00f2 478px,#f0f 478px,#00f 479px,#03f 479px,#00d0ff 480px,#0ff 481px,#00ffd0 481px,#00ffb0 482px,#0ff 484px,#00f9ff 484px,#009cff 491px,#0ff 499px,#00ffd4 503px,#00ffde 513px,#0ff 516px,#00d1ff 520px,#0071ff 525px,#004dff 530px)"></i><i style="left:600.4px;width:10.6px;background:linear-gradient(#fff600 0px,#ffa600 10px,#ffb500 19px,#fffb00 31px,#ffa600 58px,#ff0 77px,#f4ff00 79px,#a3ff00 91px,#bfff00 126px,#ff0 138px,#ffd500 146px,#ff0 156px,#b1ff00 176px,#ef0 197px,#ff0 201px,#fc0 213px,#ff0 222px,#79ff00 247px,#d0ff00 281px,#ff0 285px,#ffdf00 287px,#ff3900 290px,#ffbf00 293px,#ff0 298px,#a6ff00 305px,#0f0 309px,#0f5 311px,#00ffe4 314px,#0ff 317px,#00e0ff 321px,#00f2ff 339px,#0ff 340px,#00ff95 351px,#00ff16 358px,#00ff06 368px,#00fff7 386px,#0ff 389px,#00d2ff 404px,#0ff 407px,#00ffb3 412px,#00ff24 417px,#00ff0e 425px,#00ff38 432px,#00ffdb 441px,#0ff 442px,#00b9ff 443px,#00f 445px,#00f 445px,#f700ff 447px,#f0f 447px,#f00 448px,#f00 476px,#ff0053 477px,#f0f 477px,#3d00ff 478px,#00f 478px,#009aff 479px,#0ff 480px,#00ffe7 480px,#00ff9b 481px,#0ff 487px,#00d2ff 490px,#0ff 493px,#0f9 499px,#00ff6c 505px,#00ff84 512px,#00fff2 519px,#0ff 519px,#007dff 524px,#0041ff 530px)"></i><i style="left:610.7px;width:10.5px;background:linear-gradient(#ffeb00 0px,#ff9b00 9px,#ffa700 17px,#ff0 29px,#f7ff00 30px,#ff0 32px,#ffa600 57px,#fffd00 77px,#ff0 77px,#a2ff00 91px,#c1ff00 126px,#ff0 137px,#ffd300 145px,#ff0 156px,#b3ff00 175px,#f6ff00 197px,#ff0 199px,#ffc800 213px,#ff0 223px,#82ff00 245px,#ceff00 280px,#ff0 284px,#ffde00 286px,#ff3500 289px,#ffc300 292px,#ff0 297px,#9fff00 304px,#0f0 308px,#00ff92 311px,#00ffe8 313px,#0ff 316px,#00dfff 320px,#00f4ff 339px,#0ff 340px,#00ff9e 350px,#00ff1c 357px,#00ff07 367px,#00fffd 386px,#0ff 387px,#00d2ff 404px,#0ff 407px,#00ffb9 411px,#00ff25 416px,#00ff0b 423px,#00ff2f 431px,#00ffef 441px,#0ff 441px,#0df 442px,#00f 444px,#5a00ff 445px,#d600ff 446px,#f0f 446px,#f00 447px,#f00 476px,#f0f 477px,#ba00ff 477px,#00f 478px,#004dff 478px,#00f9ff 479px,#0ff 479px,#00ff97 480px,#00ff74 481px,#00ffb0 486px,#00ffed 489px,#00ff34 499px,#00ff09 503px,#00ff28 511px,#00ffb3 518px,#0ff 520px,#008cff 523px,#0038ff 529px,#0034ff 530px)"></i><i style="left:620.9px;width:10.6px;background:linear-gradient(#ffdf00 0px,#ff8e00 8px,#ff9c00 16px,#ff0 27px,#e8ff00 29px,#ff0 34px,#ffa500 56px,#fff900 76px,#ff0 77px,#a2ff00 90px,#c0ff00 125px,#ff0 136px,#ffd100 144px,#ff0 155px,#b6ff00 173px,#e0ff00 191px,#ff0 198px,#ffc400 212px,#ff0 223px,#8f0 245px,#cf0 279px,#ff0 284px,#fffe00 284px,#ffa100 286px,#ff3600 288px,#ffc500 291px,#ff0 295px,#98ff00 303px,#0f0 307px,#00ffec 312px,#0ff 314px,#0df 319px,#00f2ff 338px,#0ff 340px,#00ffbc 348px,#00ff21 356px,#00ff07 366px,#00fffe 385px,#0ff 385px,#00cbff 403px,#0ff 407px,#00ffe1 409px,#00ff31 414px,#00ff06 421px,#00ff26 430px,#00fffa 441px,#0ff 441px,#00f 443px,#b500ff 445px,#f0f 445px,#ff0053 446px,#f00 447px,#f00 475px,#ff00ab 476px,#f0f 476px,#1300ff 477px,#00f 477px,#00d5ff 478px,#0ff 478px,#00ffa5 479px,#00ff4c 480px,#00ff52 484px,#00ffad 488px,#00ff8f 490px,#0f0 496px,#01ff00 496px,#5bff00 502px,#37ff00 510px,#0f0 512px,#00ff6f 517px,#0ff 520px,#009cff 522px,#002fff 528px,#0026ff 530px)"></i><i style="left:631.2px;width:10.5px;background:linear-gradient(#ffd400 0px,#ff8100 8px,#ff9c00 16px,#ff0 24px,#daff00 27px,#ff0 35px,#ffa500 55px,#ffec00 74px,#ff0 77px,#a3ff00 89px,#bfff00 124px,#ff0 136px,#ffd100 144px,#ff0 155px,#b8ff00 172px,#e4ff00 190px,#ff0 196px,#ffc000 211px,#ff0 223px,#8fff00 244px,#caff00 278px,#fbff00 283px,#ff0 283px,#ff5800 286px,#ff3a00 287px,#ffae00 289px,#ff0 294px,#90ff00 302px,#0f0 305px,#00ffd7 310px,#0ff 314px,#00dcff 317px,#00efff 337px,#0ff 339px,#00ffc7 347px,#00ff27 355px,#00ff08 365px,#0ff 384px,#0ff 384px,#00c4ff 402px,#0ff 406px,#00ffeb 408px,#0f3 413px,#00ff03 420px,#00ff1c 429px,#00ffe6 440px,#0ff 440px,#00f 443px,#1900ff 443px,#9500ff 444px,#f0f 445px,#f00 446px,#f00 475px,#f0f 476px,#8500ff 476px,#00f 476px,#0af 477px,#0ff 478px,#0f3 479px,#00ff08 483px,#00ff79 488px,#0f0 492px,#3fff00 494px,#beff00 501px,#9f0 509px,#0f0 515px,#00ff28 516px,#0ff 520px,#00b7ff 521px,#0027ff 527px,#0017ff 530px)"></i><i style="left:641.4px;width:10.6px;background:linear-gradient(#ffd700 0px,#ff8b00 8px,#ffa300 16px,#ff0 25px,#e3ff00 28px,#ff0 34px,#ffa700 54px,#ffdc00 71px,#ff0 76px,#a3ff00 89px,#c4ff00 124px,#ff0 135px,#ffd000 144px,#ff0 155px,#baff00 172px,#e7ff00 190px,#ff0 196px,#ffc200 211px,#ff0 222px,#91ff00 243px,#c5ff00 277px,#ff0 283px,#fffd00 283px,#ff4900 286px,#f40 287px,#ffba00 289px,#ff0 294px,#a9ff00 301px,#0f0 305px,#00ffe5 310px,#0ff 313px,#00dcff 317px,#00f1ff 336px,#0ff 338px,#0fa 347px,#00ff1f 354px,#00ff0b 365px,#0ff 384px,#00f9ff 384px,#00bfff 401px,#0ff 406px,#00ffe1 408px,#00ff2c 413px,#00ff05 420px,#00ff27 429px,#00fffe 440px,#0ff 440px,#00f 442px,#3f00ff 443px,#be00ff 444px,#f0f 444px,#f03 445px,#f00 446px,#f00 474px,#ff009f 475px,#f0f 475px,#1d00ff 476px,#00f 476px,#0df 477px,#0ff 477px,#00ff8d 478px,#00ff3f 479px,#00ff4c 483px,#00ffa0 487px,#00ff5a 490px,#0f0 493px,#36ff00 495px,#9aff00 501px,#83ff00 508px,#0f0 513px,#00ff5f 516px,#0ff 519px,#009dff 521px,#02f 527px,#0013ff 530px)"></i><i style="left:651.7px;width:10.5px;background:linear-gradient(#ffda00 0px,#ff9600 9px,#ffb400 17px,#ff0 27px,#f1ff00 29px,#ff0 33px,#ffa700 55px,#fff000 74px,#ff0 76px,#a3ff00 89px,#c8ff00 124px,#ff0 135px,#ffce00 144px,#ff0 156px,#bdff00 172px,#e6ff00 189px,#ff0 195px,#ffc500 209px,#ff0 221px,#8fff00 243px,#d1ff00 278px,#ff0 282px,#fff000 283px,#ff3a00 286px,#ff5000 287px,#ffbd00 289px,#ff0 294px,#9eff00 301px,#0f0 305px,#00ffeb 310px,#0ff 313px,#00dbff 318px,#00f8ff 336px,#0ff 337px,#00ff7b 348px,#00ff14 354px,#00ff01 364px,#0ff 382px,#00f7ff 383px,#00bfff 401px,#0ff 405px,#00ffd4 408px,#00ff2b 413px,#00ff04 419px,#00ff1e 428px,#00ffe8 439px,#0ff 439px,#0074ff 441px,#00f 442px,#6700ff 443px,#e900ff 444px,#f0f 444px,#f00 445px,#f00 474px,#f0f 475px,#00f 476px,#004bff 476px,#0ff 477px,#00ffec 477px,#00ff62 478px,#00ff72 482px,#00ffba 485px,#00ffd0 487px,#0f0 494px,#19ff00 495px,#78ff00 501px,#56ff00 508px,#0f0 511px,#00ff95 516px,#0ff 518px,#008cff 521px,#0021ff 526px,#0010ff 530px)"></i><i style="left:661.9px;width:10.6px;background:linear-gradient(#fd0 0px,#ffa100 9px,#ffc200 18px,#ff0 30px,#fdff00 30px,#ff0 31px,#ffa900 55px,#fff200 74px,#ff0 76px,#a7ff00 88px,#cdff00 124px,#ff0 134px,#fc0 144px,#ff0 156px,#bfff00 172px,#e4ff00 188px,#ff0 194px,#ffc600 208px,#ff0 220px,#91ff00 242px,#cdff00 277px,#ff0 281px,#ffe400 283px,#ff3500 286px,#ffc300 289px,#ff0 293px,#94ff00 301px,#0f0 304px,#00fff3 310px,#0ff 312px,#00dbff 319px,#0ff 336px,#0ff 336px,#00ff50 349px,#00ff09 354px,#00ff05 364px,#0ff 381px,#00f6ff 382px,#00bcff 400px,#0ff 405px,#00ffec 407px,#00ff37 412px,#00ff03 418px,#00ff29 428px,#00fffb 439px,#0ff 439px,#00f 442px,#0d00ff 442px,#9100ff 443px,#f0f 444px,#f00 445px,#ff000c 474px,#f0f 475px,#7d00ff 475px,#00f 475px,#00aeff 476px,#0ff 477px,#00ffb5 477px,#00ff60 478px,#00fff3 485px,#00fff5 487px,#00ff04 495px,#0f0 495px,#58ff00 501px,#29ff00 508px,#0f0 509px,#00ffc8 516px,#0ff 517px,#007bff 521px,#001cff 526px,#000dff 530px)"></i><i style="left:672.2px;width:10.6px;background:linear-gradient(#ffe000 0px,#ffab00 10px,#ffd900 21px,#fff500 31px,#fa0 55px,#fff400 74px,#ff0 76px,#af0 87px,#cdff00 123px,#ff0 133px,#ffca00 144px,#ff0 157px,#c1ff00 172px,#e8ff00 188px,#ff0 193px,#ffc600 207px,#ff0 218px,#e2ff00 223px,#8dff00 243px,#d9ff00 278px,#ff0 281px,#fff700 282px,#ff2f00 286px,#ffc600 289px,#ff0 293px,#87ff00 301px,#0f0 304px,#00fff7 310px,#0ff 312px,#00dbff 320px,#0ff 333px,#00fff8 336px,#0f0 353px,#0f0 353px,#07ff00 363px,#0f0 363px,#0ff 380px,#0ff 380px,#00b4ff 398px,#0ff 404px,#00ffe1 407px,#0f3 412px,#00ff04 418px,#00ff34 428px,#00ffea 438px,#0ff 438px,#00e4ff 439px,#00f 441px,#3500ff 442px,#bd00ff 443px,#f0f 443px,#ff0027 444px,#f00 445px,#f00 473px,#ff00ac 474px,#f0f 474px,#1500ff 475px,#00f 475px,#00e5ff 476px,#0ff 476px,#00ff7b 477px,#0ff 482px,#00d3ff 484px,#00fdff 488px,#0ff 488px,#0f3 494px,#0f0 497px,#3aff00 501px,#0f0 507px,#00ff12 509px,#0ff 516px,#006aff 521px,#0017ff 526px,#0009ff 530px)"></i><i style="left:682.5px;width:10.5px;background:linear-gradient(#ffe300 0px,#ffb500 10px,#ffe900 32px,#ffab00 55px,#ffef00 73px,#ff0 75px,#a8ff00 87px,#d2ff00 123px,#ff0 132px,#ffc800 144px,#ff0 157px,#c3ff00 172px,#e7ff00 187px,#ff0 193px,#ffc600 207px,#ff0 218px,#94ff00 238px,#a1ff00 257px,#df0 278px,#ff0 281px,#fff000 282px,#ff4b00 285px,#ff3800 286px,#ffb000 288px,#ff0 293px,#9cff00 300px,#0f0 304px,#00ffe7 309px,#0ff 313px,#00dcff 318px,#00f9ff 332px,#0ff 333px,#00ffd4 338px,#0f0 352px,#0bff00 353px,#03ff00 363px,#0f0 363px,#0ff 379px,#00fdff 379px,#00b3ff 396px,#00d5ff 402px,#0ff 405px,#00fff8 406px,#00ff40 411px,#00ff02 417px,#00ff2a 427px,#00fff3 438px,#0ff 438px,#0018ff 441px,#00f 441px,#eb00ff 443px,#f0f 443px,#f00 444px,#f00 473px,#f0f 474px,#00f 475px,#0053ff 475px,#0ff 476px,#00ffe0 476px,#00ff68 477px,#00ffbc 478px,#0ff 480px,#0093ff 483px,#00d6ff 488px,#0ff 489px,#00ff50 494px,#0f0 499px,#1fff00 501px,#0f0 504px,#00ff3d 509px,#0ff 515px,#0086ff 519px,#0016ff 525px,#0005ff 530px)"></i><i style="left:692.7px;width:31.1px;background:linear-gradient(#ffe600 0px,#ffbf00 12px,#ffdf00 33px,#ffad00 56px,#ff0 75px,#f9ff00 76px,#af0 86px,#d6ff00 123px,#ff0 132px,#ffc600 144px,#ff0 158px,#c5ff00 172px,#eaff00 187px,#ff0 192px,#ffc400 206px,#ff0 216px,#cf0 224px,#8bff00 244px,#d5ff00 277px,#ff0 280px,#ffeb00 282px,#ff3d00 285px,#f40 286px,#ffbf00 288px,#ff0 293px,#96ff00 300px,#0f0 303px,#00fff3 309px,#0ff 312px,#0df 319px,#00feff 332px,#0ff 332px,#00ffd8 337px,#00ff0d 349px,#0f0 351px,#15ff00 354px,#1f0 362px,#0f0 363px,#0ff 378px,#00faff 378px,#00b0ff 395px,#00c2ff 400px,#0ff 405px,#00ffed 406px,#00ff3c 411px,#00ff04 417px,#00ff35 427px,#0ff 437px,#00edff 438px,#00f 441px,#00f 441px,#8d00ff 442px,#f0f 443px,#f00 444px,#f00 472px,#ff0019 473px,#f0f 474px,#7400ff 474px,#00f 474px,#00b3ff 475px,#0ff 475px,#00ffa5 476px,#00ff95 477px,#00ffe9 478px,#0ff 479px,#005bff 483px,#00b2ff 488px,#0ff 490px,#00ff7f 493px,#00ff04 501px,#00ff6a 509px,#0ff 514px,#0098ff 517px,#01f 525px,#0001ff 530px)"></i></div><div class="cb"></div><svg width="886" height="700" viewBox="0 0 886 700"><polygon points="226.8,433.3 205.9,374.9 213.6,372.1 194.8,354.4 191.5,380.0 199.1,377.3 220.0,435.7" fill="#ff0000"/>
<polygon points="307.3,445.6 287.3,388.7 295.0,386.0 276.3,368.2 272.8,393.8 280.5,391.1 300.5,448.0" fill="#ff0000"/>
<polygon points="399.4,440.0 378.6,382.6 386.3,379.8 367.4,362.2 364.2,387.8 371.8,385.1 392.6,442.4" fill="#ff0000"/>
<polygon points="488.6,434.3 468.2,377.3 475.9,374.5 457.1,356.8 453.8,382.4 461.4,379.7 481.8,436.7" fill="#ff0000"/>
<polygon points="577.9,421.1 557.3,363.8 564.9,361.1 546.1,343.4 542.8,369.0 550.5,366.3 571.1,423.5" fill="#ff0000"/>
<polygon points="659.4,417.3 639.1,360.3 646.8,357.5 628.0,339.8 624.6,365.4 632.3,362.7 652.6,419.7" fill="#ff0000"/>
<rect x="97.70" y="45.00" width="625.80" height="530.20" fill="none" stroke="#262626" stroke-width="1.6"/>
<rect x="739.50" y="45.00" width="33.50" height="530.20" fill="none" stroke="#262626" stroke-width="1.6"/>
<path d="M97.7,46.0h6.0M723.5,46.0h-6.0M97.7,146.0h6.0M723.5,146.0h-6.0M97.7,246.0h6.0M723.5,246.0h-6.0M97.7,346.0h6.0M723.5,346.0h-6.0M97.7,446.0h6.0M723.5,446.0h-6.0M97.7,546.0h6.0M723.5,546.0h-6.0M195.2,45.0v6.0M195.2,575.2v-6.0M297.8,45.0v6.0M297.8,575.2v-6.0M400.3,45.0v6.0M400.3,575.2v-6.0M502.9,45.0v6.0M502.9,575.2v-6.0M605.5,45.0v6.0M605.5,575.2v-6.0M708.1,45.0v6.0M708.1,575.2v-6.0M773.0,575.2h-4.0M773.0,469.2h-4.0M773.0,363.1h-4.0M773.0,257.1h-4.0M773.0,151.0h-4.0M773.0,45.0h-4.0" stroke="#262626" stroke-width="1.3" fill="none"/>
<g font-family="'Liberation Sans',Arial,sans-serif" fill="#262626" font-weight="bold">
<g font-size="31">
<text x="87.2" y="58.6" text-anchor="end">1</text>
<text x="87.2" y="158.2" text-anchor="end">1.1</text>
<text x="87.2" y="257.9" text-anchor="end">1.2</text>
<text x="87.2" y="357.6" text-anchor="end">1.3</text>
<text x="87.2" y="457.2" text-anchor="end">1.4</text>
<text x="87.2" y="556.9" text-anchor="end">1.5</text>
<text x="194.0" y="616.3" text-anchor="middle">10</text>
<text x="296.6" y="616.3" text-anchor="middle">20</text>
<text x="399.1" y="616.3" text-anchor="middle">30</text>
<text x="501.7" y="616.3" text-anchor="middle">40</text>
<text x="604.3" y="616.3" text-anchor="middle">50</text>
<text x="706.9" y="616.3" text-anchor="middle">60</text>
</g>
<g font-size="25.5">
<text x="780.2" y="586.0">3</text>
<text x="780.2" y="480.0">4</text>
<text x="780.2" y="373.9">5</text>
<text x="780.2" y="267.9">6</text>
<text x="780.2" y="161.8">7</text>
<text x="780.2" y="55.8">8</text>
</g>
<text x="408" y="657.8" font-size="31.5" text-anchor="middle">CDP</text>
<text transform="translate(30.4,311) rotate(-90)" font-size="32.5" text-anchor="middle">Time(s)</text>
<g font-weight="normal" stroke="#262626" stroke-width="0.4">
<text x="774.5" y="36.8" font-size="34">×</text>
<text x="793.5" y="32.4" font-size="26">10</text>
<text x="825.5" y="19.6" font-size="21.5">6</text>
</g>
</g>
<g font-family="'Liberation Serif','Times New Roman',serif" fill="#000">
<text x="3.6" y="53.3" font-size="48">F</text>
<text transform="translate(845.7,481) rotate(-90)" font-size="41.5" textLength="297" lengthAdjust="spacing">EI (kg·m<tspan dy="-14" font-size="28">-3</tspan><tspan dy="14"> ·m ·s</tspan><tspan dy="-14" font-size="28">-1</tspan><tspan dy="14">)</tspan></text>
</g></svg></div>
</body></html>
